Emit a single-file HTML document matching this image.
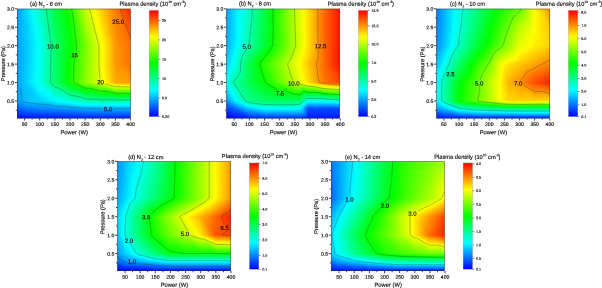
<!DOCTYPE html><html><head><meta charset="utf-8"><title>Plasma density</title><style>html,body{margin:0;padding:0;background:#fff}svg{display:block;will-change:transform}text{stroke:#000;stroke-width:.13px;stroke-linejoin:round}</style></head><body><svg width="602" height="288" viewBox="0 0 602 288" font-family="'Liberation Sans', Arial, sans-serif" fill="#000" stroke="none"><defs><linearGradient id="ga0"><stop offset="0" stop-color="#00a0ff"/><stop offset="0.11" stop-color="#0ef"/><stop offset="0.136" stop-color="#00fffb"/><stop offset="0.219" stop-color="#00ffb6"/><stop offset="0.342" stop-color="#00ff41"/><stop offset="0.439" stop-color="#03ff00"/><stop offset="0.469" stop-color="#1aff00"/><stop offset="0.605" stop-color="#c9ff00"/><stop offset="0.68" stop-color="#fffd00"/><stop offset="0.842" stop-color="#ff8b00"/><stop offset="1" stop-color="#ff2500"/></linearGradient><linearGradient id="ga1"><stop offset="0" stop-color="#00a0ff"/><stop offset="0.105" stop-color="#00eaff"/><stop offset="0.136" stop-color="#00fffc"/><stop offset="0.219" stop-color="#00ffb7"/><stop offset="0.342" stop-color="#00ff41"/><stop offset="0.439" stop-color="#02ff00"/><stop offset="0.474" stop-color="#1eff00"/><stop offset="0.605" stop-color="#c8ff00"/><stop offset="0.68" stop-color="#fffe00"/><stop offset="0.816" stop-color="#ff9e00"/><stop offset="1" stop-color="#ff2700"/></linearGradient><linearGradient id="ga2"><stop offset="0" stop-color="#00a0ff"/><stop offset="0.105" stop-color="#00e9ff"/><stop offset="0.136" stop-color="#00fffd"/><stop offset="0.219" stop-color="#00ffb8"/><stop offset="0.342" stop-color="#00ff42"/><stop offset="0.439" stop-color="#01ff00"/><stop offset="0.474" stop-color="#1cff00"/><stop offset="0.605" stop-color="#c6ff00"/><stop offset="0.684" stop-color="#fffc00"/><stop offset="0.807" stop-color="#ffa400"/><stop offset="1" stop-color="#ff2900"/></linearGradient><linearGradient id="ga3"><stop offset="0" stop-color="#00a0ff"/><stop offset="0.105" stop-color="#00e8ff"/><stop offset="0.136" stop-color="#00fffe"/><stop offset="0.219" stop-color="#00ffb9"/><stop offset="0.342" stop-color="#00ff43"/><stop offset="0.443" stop-color="#03ff00"/><stop offset="0.478" stop-color="#1fff00"/><stop offset="0.605" stop-color="#c4ff00"/><stop offset="0.684" stop-color="#fffe00"/><stop offset="0.798" stop-color="#ffab00"/><stop offset="0.873" stop-color="#ff7b00"/><stop offset="1" stop-color="#ff2b00"/></linearGradient><linearGradient id="ga4"><stop offset="0" stop-color="#00a0ff"/><stop offset="0.105" stop-color="#00e6ff"/><stop offset="0.14" stop-color="#00fffc"/><stop offset="0.219" stop-color="#00ffba"/><stop offset="0.346" stop-color="#00ff41"/><stop offset="0.443" stop-color="#02ff00"/><stop offset="0.482" stop-color="#23ff00"/><stop offset="0.605" stop-color="#c2ff00"/><stop offset="0.689" stop-color="#fffc00"/><stop offset="0.798" stop-color="#ffac00"/><stop offset="0.873" stop-color="#ff7c00"/><stop offset="1" stop-color="#ff2d00"/></linearGradient><linearGradient id="ga5"><stop offset="0" stop-color="#00a0ff"/><stop offset="0.105" stop-color="#00e5ff"/><stop offset="0.14" stop-color="#00fffd"/><stop offset="0.215" stop-color="#00ffc0"/><stop offset="0.346" stop-color="#00ff42"/><stop offset="0.443" stop-color="#01ff00"/><stop offset="0.482" stop-color="#21ff00"/><stop offset="0.605" stop-color="#c0ff00"/><stop offset="0.689" stop-color="#fffe00"/><stop offset="0.789" stop-color="#ffb200"/><stop offset="0.873" stop-color="#ff7d00"/><stop offset="0.939" stop-color="#ff5600"/><stop offset="1" stop-color="#ff2f00"/></linearGradient><linearGradient id="ga6"><stop offset="0" stop-color="#00a0ff"/><stop offset="0.11" stop-color="#00e7ff"/><stop offset="0.145" stop-color="#00fffb"/><stop offset="0.215" stop-color="#00ffc1"/><stop offset="0.346" stop-color="#0f4"/><stop offset="0.447" stop-color="#03ff00"/><stop offset="0.487" stop-color="#24ff00"/><stop offset="0.605" stop-color="#bdff00"/><stop offset="0.689" stop-color="#ff0"/><stop offset="0.789" stop-color="#ffb300"/><stop offset="0.873" stop-color="#ff7e00"/><stop offset="0.917" stop-color="#f60"/><stop offset="1" stop-color="#ff3100"/></linearGradient><linearGradient id="ga7"><stop offset="0" stop-color="#00a0ff"/><stop offset="0.11" stop-color="#00e6ff"/><stop offset="0.145" stop-color="#00fffc"/><stop offset="0.215" stop-color="#00ffc2"/><stop offset="0.342" stop-color="#00ff48"/><stop offset="0.447" stop-color="#02ff00"/><stop offset="0.491" stop-color="#28ff00"/><stop offset="0.605" stop-color="#bf0"/><stop offset="0.693" stop-color="#fffe00"/><stop offset="0.789" stop-color="#ffb400"/><stop offset="0.873" stop-color="#ff7e00"/><stop offset="0.908" stop-color="#ff6e00"/><stop offset="1" stop-color="#f30"/></linearGradient><linearGradient id="ga8"><stop offset="0" stop-color="#00a0ff"/><stop offset="0.114" stop-color="#00e8ff"/><stop offset="0.145" stop-color="#00fffe"/><stop offset="0.215" stop-color="#00ffc3"/><stop offset="0.342" stop-color="#00ff49"/><stop offset="0.447" stop-color="#01ff00"/><stop offset="0.491" stop-color="#27ff00"/><stop offset="0.605" stop-color="#b9ff00"/><stop offset="0.693" stop-color="#ff0"/><stop offset="0.794" stop-color="#ffb200"/><stop offset="0.873" stop-color="#ff7f00"/><stop offset="0.908" stop-color="#ff7000"/><stop offset="1" stop-color="#ff3500"/></linearGradient><linearGradient id="ga9"><stop offset="0" stop-color="#00a0ff"/><stop offset="0.118" stop-color="#00ebff"/><stop offset="0.149" stop-color="#00fffb"/><stop offset="0.219" stop-color="#00ffc0"/><stop offset="0.346" stop-color="#00ff47"/><stop offset="0.452" stop-color="#03ff00"/><stop offset="0.5" stop-color="#2fff00"/><stop offset="0.605" stop-color="#b7ff00"/><stop offset="0.684" stop-color="#f7ff00"/><stop offset="0.702" stop-color="#fffa00"/><stop offset="0.794" stop-color="#ffb300"/><stop offset="0.873" stop-color="#ff8000"/><stop offset="0.912" stop-color="#ff6f00"/><stop offset="1" stop-color="#ff3700"/></linearGradient><linearGradient id="ga10"><stop offset="0" stop-color="#00a0ff"/><stop offset="0.114" stop-color="#00e6ff"/><stop offset="0.149" stop-color="#00fffd"/><stop offset="0.219" stop-color="#00ffc1"/><stop offset="0.342" stop-color="#00ff4b"/><stop offset="0.452" stop-color="#02ff00"/><stop offset="0.5" stop-color="#2dff00"/><stop offset="0.605" stop-color="#b5ff00"/><stop offset="0.68" stop-color="#f2ff00"/><stop offset="0.702" stop-color="#fffc00"/><stop offset="0.794" stop-color="#ffb400"/><stop offset="0.873" stop-color="#ff8100"/><stop offset="0.917" stop-color="#ff6e00"/><stop offset="1" stop-color="#ff3900"/></linearGradient><linearGradient id="ga11"><stop offset="0" stop-color="#00a0ff"/><stop offset="0.118" stop-color="#00e8ff"/><stop offset="0.149" stop-color="#00fffe"/><stop offset="0.219" stop-color="#00ffc3"/><stop offset="0.342" stop-color="#00ff4c"/><stop offset="0.452" stop-color="#01ff00"/><stop offset="0.504" stop-color="#30ff00"/><stop offset="0.605" stop-color="#b2ff00"/><stop offset="0.68" stop-color="#f0ff00"/><stop offset="0.702" stop-color="#fffd00"/><stop offset="0.794" stop-color="#ffb400"/><stop offset="0.873" stop-color="#ff8200"/><stop offset="0.917" stop-color="#ff7000"/><stop offset="1" stop-color="#ff3b00"/></linearGradient><linearGradient id="ga12"><stop offset="0" stop-color="#00a0ff"/><stop offset="0.057" stop-color="#00c2ff"/><stop offset="0.127" stop-color="#0ef"/><stop offset="0.154" stop-color="#00fffc"/><stop offset="0.219" stop-color="#00ffc4"/><stop offset="0.342" stop-color="#00ff4d"/><stop offset="0.456" stop-color="#03ff00"/><stop offset="0.518" stop-color="#3fff00"/><stop offset="0.605" stop-color="#b0ff00"/><stop offset="0.68" stop-color="#efff00"/><stop offset="0.706" stop-color="#fffc00"/><stop offset="0.798" stop-color="#ffb200"/><stop offset="0.873" stop-color="#ff8200"/><stop offset="0.921" stop-color="#ff7000"/><stop offset="1" stop-color="#ff3d00"/></linearGradient><linearGradient id="ga13"><stop offset="0" stop-color="#00a0ff"/><stop offset="0.057" stop-color="#00c1ff"/><stop offset="0.132" stop-color="#00f0ff"/><stop offset="0.154" stop-color="#00fffd"/><stop offset="0.219" stop-color="#00ffc5"/><stop offset="0.342" stop-color="#00ff4f"/><stop offset="0.456" stop-color="#02ff00"/><stop offset="0.518" stop-color="#3dff00"/><stop offset="0.605" stop-color="#aeff00"/><stop offset="0.68" stop-color="#edff00"/><stop offset="0.706" stop-color="#fffd00"/><stop offset="0.803" stop-color="#ffb000"/><stop offset="0.873" stop-color="#ff8300"/><stop offset="0.921" stop-color="#ff7200"/><stop offset="1" stop-color="#ff3f00"/></linearGradient><linearGradient id="ga14"><stop offset="0" stop-color="#00a0ff"/><stop offset="0.057" stop-color="#00c1ff"/><stop offset="0.136" stop-color="#00f2ff"/><stop offset="0.158" stop-color="#00fffb"/><stop offset="0.219" stop-color="#00ffc6"/><stop offset="0.342" stop-color="#00ff50"/><stop offset="0.456" stop-color="#01ff00"/><stop offset="0.522" stop-color="#40ff00"/><stop offset="0.605" stop-color="#acff00"/><stop offset="0.68" stop-color="#ebff00"/><stop offset="0.711" stop-color="#fffc00"/><stop offset="0.803" stop-color="#ffb100"/><stop offset="0.873" stop-color="#ff8400"/><stop offset="0.925" stop-color="#ff7100"/><stop offset="1" stop-color="#ff4100"/></linearGradient><linearGradient id="ga15"><stop offset="0" stop-color="#00a0ff"/><stop offset="0.053" stop-color="#00bdff"/><stop offset="0.136" stop-color="#00f1ff"/><stop offset="0.158" stop-color="#00fffc"/><stop offset="0.219" stop-color="#00ffc7"/><stop offset="0.342" stop-color="#00ff51"/><stop offset="0.456" stop-color="#0f0"/><stop offset="0.526" stop-color="#4f0"/><stop offset="0.605" stop-color="#a9ff00"/><stop offset="0.68" stop-color="#eaff00"/><stop offset="0.711" stop-color="#fffd00"/><stop offset="0.807" stop-color="#ffaf00"/><stop offset="0.873" stop-color="#ff8500"/><stop offset="0.93" stop-color="#ff7000"/><stop offset="1" stop-color="#ff4300"/></linearGradient><linearGradient id="ga16"><stop offset="0" stop-color="#00a0ff"/><stop offset="0.057" stop-color="#00c0ff"/><stop offset="0.14" stop-color="#00f3ff"/><stop offset="0.158" stop-color="#00fffd"/><stop offset="0.219" stop-color="#00ffc9"/><stop offset="0.342" stop-color="#00ff52"/><stop offset="0.461" stop-color="#02ff00"/><stop offset="0.531" stop-color="#47ff00"/><stop offset="0.605" stop-color="#a7ff00"/><stop offset="0.684" stop-color="#ebff00"/><stop offset="0.715" stop-color="#fffb00"/><stop offset="0.807" stop-color="#ffb000"/><stop offset="0.873" stop-color="#ff8600"/><stop offset="0.934" stop-color="#ff6f00"/><stop offset="1" stop-color="#ff4500"/></linearGradient><linearGradient id="ga17"><stop offset="0" stop-color="#00a0ff"/><stop offset="0.053" stop-color="#00bdff"/><stop offset="0.145" stop-color="#00f5ff"/><stop offset="0.162" stop-color="#00fffb"/><stop offset="0.219" stop-color="#00ffca"/><stop offset="0.342" stop-color="#00ff53"/><stop offset="0.461" stop-color="#01ff00"/><stop offset="0.535" stop-color="#4bff00"/><stop offset="0.605" stop-color="#a5ff00"/><stop offset="0.689" stop-color="#edff00"/><stop offset="0.715" stop-color="#fffd00"/><stop offset="0.811" stop-color="#ffad00"/><stop offset="0.873" stop-color="#ff8600"/><stop offset="0.934" stop-color="#ff7100"/><stop offset="1" stop-color="#ff4700"/></linearGradient><linearGradient id="ga18"><stop offset="0" stop-color="#00a0ff"/><stop offset="0.053" stop-color="#00bcff"/><stop offset="0.149" stop-color="#00f8ff"/><stop offset="0.162" stop-color="#00fffc"/><stop offset="0.219" stop-color="#00ffcb"/><stop offset="0.342" stop-color="#00ff54"/><stop offset="0.461" stop-color="#0f0"/><stop offset="0.539" stop-color="#4eff00"/><stop offset="0.605" stop-color="#a3ff00"/><stop offset="0.689" stop-color="#ebff00"/><stop offset="0.719" stop-color="#fffb00"/><stop offset="0.816" stop-color="#ffab00"/><stop offset="0.873" stop-color="#ff8700"/><stop offset="0.939" stop-color="#ff7000"/><stop offset="1" stop-color="#ff4900"/></linearGradient><linearGradient id="ga19"><stop offset="0" stop-color="#00a0ff"/><stop offset="0.057" stop-color="#00bfff"/><stop offset="0.149" stop-color="#00f7ff"/><stop offset="0.167" stop-color="#00fffa"/><stop offset="0.224" stop-color="#00ffc8"/><stop offset="0.342" stop-color="#0f5"/><stop offset="0.465" stop-color="#02ff00"/><stop offset="0.544" stop-color="#52ff00"/><stop offset="0.605" stop-color="#a1ff00"/><stop offset="0.693" stop-color="#edff00"/><stop offset="0.719" stop-color="#fffd00"/><stop offset="0.82" stop-color="#ffa900"/><stop offset="0.877" stop-color="#ff8700"/><stop offset="0.943" stop-color="#ff7000"/><stop offset="1" stop-color="#ff4b00"/></linearGradient><linearGradient id="ga20"><stop offset="0" stop-color="#00a0ff"/><stop offset="0.057" stop-color="#00beff"/><stop offset="0.154" stop-color="#00f9ff"/><stop offset="0.167" stop-color="#00fffb"/><stop offset="0.224" stop-color="#00ffc9"/><stop offset="0.342" stop-color="#00ff56"/><stop offset="0.465" stop-color="#01ff00"/><stop offset="0.548" stop-color="#56ff00"/><stop offset="0.61" stop-color="#a2ff00"/><stop offset="0.693" stop-color="#ecff00"/><stop offset="0.724" stop-color="#fffb00"/><stop offset="0.82" stop-color="#fa0"/><stop offset="0.877" stop-color="#f80"/><stop offset="0.947" stop-color="#ff6f00"/><stop offset="1" stop-color="#ff4d00"/></linearGradient><linearGradient id="ga21"><stop offset="0" stop-color="#00a0ff"/><stop offset="0.057" stop-color="#00beff"/><stop offset="0.158" stop-color="#00fbff"/><stop offset="0.189" stop-color="#00ffeb"/><stop offset="0.342" stop-color="#00ff57"/><stop offset="0.465" stop-color="#0f0"/><stop offset="0.548" stop-color="#53ff00"/><stop offset="0.61" stop-color="#a0ff00"/><stop offset="0.697" stop-color="#edff00"/><stop offset="0.724" stop-color="#fffd00"/><stop offset="0.825" stop-color="#ffa800"/><stop offset="0.877" stop-color="#f80"/><stop offset="0.952" stop-color="#ff6e00"/><stop offset="1" stop-color="#ff4f00"/></linearGradient><linearGradient id="ga22"><stop offset="0" stop-color="#00a0ff"/><stop offset="0.057" stop-color="#00beff"/><stop offset="0.167" stop-color="#00fffd"/><stop offset="0.224" stop-color="#0fc"/><stop offset="0.342" stop-color="#00ff58"/><stop offset="0.469" stop-color="#03ff00"/><stop offset="0.553" stop-color="#57ff00"/><stop offset="0.61" stop-color="#9eff00"/><stop offset="0.702" stop-color="#efff00"/><stop offset="0.728" stop-color="#fffb00"/><stop offset="0.825" stop-color="#ffa900"/><stop offset="0.877" stop-color="#ff8900"/><stop offset="0.952" stop-color="#ff7000"/><stop offset="1" stop-color="#ff5100"/></linearGradient><linearGradient id="ga23"><stop offset="0" stop-color="#00a0ff"/><stop offset="0.061" stop-color="#00c0ff"/><stop offset="0.167" stop-color="#0ff"/><stop offset="0.224" stop-color="#00ffcd"/><stop offset="0.342" stop-color="#00ff5a"/><stop offset="0.469" stop-color="#02ff00"/><stop offset="0.557" stop-color="#5aff00"/><stop offset="0.61" stop-color="#9cff00"/><stop offset="0.706" stop-color="#f1ff00"/><stop offset="0.728" stop-color="#fffd00"/><stop offset="0.829" stop-color="#ffa600"/><stop offset="0.877" stop-color="#ff8a00"/><stop offset="0.956" stop-color="#ff6f00"/><stop offset="1" stop-color="#ff5300"/></linearGradient><linearGradient id="ga24"><stop offset="0" stop-color="#00a0ff"/><stop offset="0.061" stop-color="#00c0ff"/><stop offset="0.171" stop-color="#00fffc"/><stop offset="0.228" stop-color="#00ffca"/><stop offset="0.342" stop-color="#00ff5b"/><stop offset="0.469" stop-color="#01ff00"/><stop offset="0.561" stop-color="#5eff00"/><stop offset="0.61" stop-color="#9f0"/><stop offset="0.706" stop-color="#efff00"/><stop offset="0.732" stop-color="#fffb00"/><stop offset="0.833" stop-color="#ffa400"/><stop offset="0.877" stop-color="#ff8b00"/><stop offset="0.961" stop-color="#ff6e00"/><stop offset="1" stop-color="#f50"/></linearGradient><linearGradient id="ga25"><stop offset="0" stop-color="#00a0ff"/><stop offset="0.061" stop-color="#00bfff"/><stop offset="0.171" stop-color="#00fffe"/><stop offset="0.228" stop-color="#00ffcb"/><stop offset="0.342" stop-color="#00ff5c"/><stop offset="0.469" stop-color="#0f0"/><stop offset="0.566" stop-color="#61ff00"/><stop offset="0.61" stop-color="#97ff00"/><stop offset="0.711" stop-color="#f1ff00"/><stop offset="0.732" stop-color="#fffd00"/><stop offset="0.838" stop-color="#ffa200"/><stop offset="0.877" stop-color="#ff8c00"/><stop offset="0.965" stop-color="#ff6e00"/><stop offset="1" stop-color="#ff5700"/></linearGradient><linearGradient id="ga26"><stop offset="0" stop-color="#00a0ff"/><stop offset="0.066" stop-color="#00c2ff"/><stop offset="0.171" stop-color="#0ff"/><stop offset="0.228" stop-color="#0fc"/><stop offset="0.342" stop-color="#00ff5d"/><stop offset="0.469" stop-color="#00ff01"/><stop offset="0.566" stop-color="#5fff00"/><stop offset="0.61" stop-color="#95ff00"/><stop offset="0.715" stop-color="#f2ff00"/><stop offset="0.737" stop-color="#fffb00"/><stop offset="0.842" stop-color="#ffa000"/><stop offset="0.877" stop-color="#ff8c00"/><stop offset="0.969" stop-color="#ff6d00"/><stop offset="1" stop-color="#ff5900"/></linearGradient><linearGradient id="ga27"><stop offset="0" stop-color="#00a0ff"/><stop offset="0.066" stop-color="#00c1ff"/><stop offset="0.175" stop-color="#00fffd"/><stop offset="0.232" stop-color="#00ffc9"/><stop offset="0.342" stop-color="#00ff5e"/><stop offset="0.474" stop-color="#02ff00"/><stop offset="0.57" stop-color="#63ff00"/><stop offset="0.61" stop-color="#93ff00"/><stop offset="0.719" stop-color="#f4ff00"/><stop offset="0.737" stop-color="#fffc00"/><stop offset="0.842" stop-color="#ffa100"/><stop offset="0.877" stop-color="#ff8d00"/><stop offset="0.974" stop-color="#ff6c00"/><stop offset="1" stop-color="#ff5b00"/></linearGradient><linearGradient id="ga28"><stop offset="0" stop-color="#00a0ff"/><stop offset="0.075" stop-color="#00c6ff"/><stop offset="0.175" stop-color="#00fffe"/><stop offset="0.232" stop-color="#00ffca"/><stop offset="0.342" stop-color="#00ff5f"/><stop offset="0.474" stop-color="#01ff00"/><stop offset="0.575" stop-color="#6f0"/><stop offset="0.61" stop-color="#91ff00"/><stop offset="0.719" stop-color="#f2ff00"/><stop offset="0.737" stop-color="#fffe00"/><stop offset="0.846" stop-color="#ff9f00"/><stop offset="0.882" stop-color="#ff8d00"/><stop offset="0.974" stop-color="#ff6e00"/><stop offset="1" stop-color="#ff5d00"/></linearGradient><linearGradient id="ga29"><stop offset="0" stop-color="#00a0ff"/><stop offset="0.079" stop-color="#00c8ff"/><stop offset="0.175" stop-color="#0ff"/><stop offset="0.232" stop-color="#00ffcb"/><stop offset="0.342" stop-color="#00ff60"/><stop offset="0.474" stop-color="#0f0"/><stop offset="0.579" stop-color="#6aff00"/><stop offset="0.61" stop-color="#8eff00"/><stop offset="0.724" stop-color="#f4ff00"/><stop offset="0.741" stop-color="#fffc00"/><stop offset="0.851" stop-color="#ff9d00"/><stop offset="0.886" stop-color="#ff8c00"/><stop offset="0.978" stop-color="#ff6d00"/><stop offset="1" stop-color="#ff5f00"/></linearGradient><linearGradient id="ga30"><stop offset="0" stop-color="#00a0ff"/><stop offset="0.083" stop-color="#00caff"/><stop offset="0.18" stop-color="#00fffd"/><stop offset="0.241" stop-color="#00ffc4"/><stop offset="0.342" stop-color="#00ff61"/><stop offset="0.474" stop-color="#00ff01"/><stop offset="0.583" stop-color="#6dff00"/><stop offset="0.614" stop-color="#90ff00"/><stop offset="0.728" stop-color="#f6ff00"/><stop offset="0.746" stop-color="#fff900"/><stop offset="0.855" stop-color="#ff9a00"/><stop offset="0.899" stop-color="#ff8900"/><stop offset="0.982" stop-color="#ff6d00"/><stop offset="1" stop-color="#ff6100"/></linearGradient><linearGradient id="ga31"><stop offset="0" stop-color="#00a0ff"/><stop offset="0.088" stop-color="#0cf"/><stop offset="0.18" stop-color="#00fffe"/><stop offset="0.241" stop-color="#00ffc5"/><stop offset="0.342" stop-color="#00ff62"/><stop offset="0.478" stop-color="#02ff00"/><stop offset="0.588" stop-color="#71ff00"/><stop offset="0.618" stop-color="#92ff00"/><stop offset="0.737" stop-color="#fbff00"/><stop offset="0.759" stop-color="#ffef00"/><stop offset="0.86" stop-color="#ff9800"/><stop offset="0.987" stop-color="#ff6c00"/><stop offset="1" stop-color="#ff6300"/></linearGradient><linearGradient id="ga32"><stop offset="0" stop-color="#00a0ff"/><stop offset="0.088" stop-color="#0cf"/><stop offset="0.184" stop-color="#00fffc"/><stop offset="0.298" stop-color="#00ff8d"/><stop offset="0.346" stop-color="#00ff60"/><stop offset="0.478" stop-color="#01ff00"/><stop offset="0.588" stop-color="#6fff00"/><stop offset="0.618" stop-color="#90ff00"/><stop offset="0.741" stop-color="#feff00"/><stop offset="0.864" stop-color="#ff9600"/><stop offset="0.991" stop-color="#ff6b00"/><stop offset="1" stop-color="#ff6500"/></linearGradient><linearGradient id="ga33"><stop offset="0" stop-color="#00a0ff"/><stop offset="0.096" stop-color="#00d0ff"/><stop offset="0.184" stop-color="#00fffd"/><stop offset="0.276" stop-color="#00ffa4"/><stop offset="0.346" stop-color="#00ff62"/><stop offset="0.478" stop-color="#0f0"/><stop offset="0.592" stop-color="#72ff00"/><stop offset="0.728" stop-color="#f1ff00"/><stop offset="0.75" stop-color="#fffa00"/><stop offset="0.864" stop-color="#ff9700"/><stop offset="0.991" stop-color="#ff6d00"/><stop offset="1" stop-color="#ff6700"/></linearGradient><linearGradient id="ga34"><stop offset="0" stop-color="#00a0ff"/><stop offset="0.096" stop-color="#00d0ff"/><stop offset="0.184" stop-color="#00fffd"/><stop offset="0.232" stop-color="#00ffd1"/><stop offset="0.342" stop-color="#0f6"/><stop offset="0.478" stop-color="#00ff01"/><stop offset="0.596" stop-color="#76ff00"/><stop offset="0.746" stop-color="#feff00"/><stop offset="0.864" stop-color="#ff9800"/><stop offset="0.996" stop-color="#ff6c00"/><stop offset="1" stop-color="#ff6900"/></linearGradient><linearGradient id="ga35"><stop offset="0" stop-color="#00a0ff"/><stop offset="0.101" stop-color="#00d2ff"/><stop offset="0.184" stop-color="#00fffe"/><stop offset="0.224" stop-color="#00ffdb"/><stop offset="0.342" stop-color="#00ff67"/><stop offset="0.482" stop-color="#03ff00"/><stop offset="0.658" stop-color="#aeff00"/><stop offset="0.75" stop-color="#fffd00"/><stop offset="0.868" stop-color="#ff9600"/><stop offset="1" stop-color="#ff6b00"/></linearGradient><linearGradient id="ga36"><stop offset="0" stop-color="#00a0ff"/><stop offset="0.11" stop-color="#00d6ff"/><stop offset="0.184" stop-color="#00fffe"/><stop offset="0.215" stop-color="#00ffe5"/><stop offset="0.342" stop-color="#00ff68"/><stop offset="0.482" stop-color="#02ff00"/><stop offset="0.671" stop-color="#b7ff00"/><stop offset="0.75" stop-color="#ff0"/><stop offset="0.868" stop-color="#ff9700"/><stop offset="1" stop-color="#ff6d00"/></linearGradient><linearGradient id="ga37"><stop offset="0" stop-color="#00a0ff"/><stop offset="0.11" stop-color="#00d6ff"/><stop offset="0.189" stop-color="#00fffc"/><stop offset="0.219" stop-color="#00ffe2"/><stop offset="0.342" stop-color="#00ff69"/><stop offset="0.482" stop-color="#01ff00"/><stop offset="0.693" stop-color="#c9ff00"/><stop offset="0.754" stop-color="#fffd00"/><stop offset="0.868" stop-color="#ff9800"/><stop offset="1" stop-color="#ff6f00"/></linearGradient><linearGradient id="ga38"><stop offset="0" stop-color="#00a0ff"/><stop offset="0.11" stop-color="#00d6ff"/><stop offset="0.189" stop-color="#00fffc"/><stop offset="0.219" stop-color="#00ffe2"/><stop offset="0.346" stop-color="#00ff65"/><stop offset="0.482" stop-color="#01ff00"/><stop offset="0.684" stop-color="#c1ff00"/><stop offset="0.754" stop-color="#fffd00"/><stop offset="0.868" stop-color="#ff9800"/><stop offset="1" stop-color="#ff7000"/></linearGradient><linearGradient id="ga39"><stop offset="0" stop-color="#00a0ff"/><stop offset="0.105" stop-color="#00d4ff"/><stop offset="0.189" stop-color="#00fffc"/><stop offset="0.219" stop-color="#00ffe2"/><stop offset="0.351" stop-color="#00ff60"/><stop offset="0.482" stop-color="#02ff00"/><stop offset="0.667" stop-color="#b1ff00"/><stop offset="0.754" stop-color="#fffd00"/><stop offset="0.868" stop-color="#ff9800"/><stop offset="1" stop-color="#ff7000"/></linearGradient><linearGradient id="ga40"><stop offset="0" stop-color="#00a0ff"/><stop offset="0.101" stop-color="#00d2ff"/><stop offset="0.184" stop-color="#00fffe"/><stop offset="0.211" stop-color="#00ffeb"/><stop offset="0.355" stop-color="#00ff5c"/><stop offset="0.482" stop-color="#03ff00"/><stop offset="0.654" stop-color="#a5ff00"/><stop offset="0.754" stop-color="#fffd00"/><stop offset="0.868" stop-color="#ff9800"/><stop offset="1" stop-color="#ff7000"/></linearGradient><linearGradient id="ga41"><stop offset="0" stop-color="#00a0ff"/><stop offset="0.101" stop-color="#00d2ff"/><stop offset="0.184" stop-color="#00fffe"/><stop offset="0.211" stop-color="#00ffea"/><stop offset="0.36" stop-color="#00ff57"/><stop offset="0.478" stop-color="#0f0"/><stop offset="0.645" stop-color="#9dff00"/><stop offset="0.754" stop-color="#fffd00"/><stop offset="0.868" stop-color="#ff9800"/><stop offset="1" stop-color="#ff7000"/></linearGradient><linearGradient id="ga42"><stop offset="0" stop-color="#00a0ff"/><stop offset="0.096" stop-color="#00cfff"/><stop offset="0.184" stop-color="#00fffe"/><stop offset="0.211" stop-color="#00ffea"/><stop offset="0.364" stop-color="#00ff53"/><stop offset="0.478" stop-color="#02ff00"/><stop offset="0.632" stop-color="#91ff00"/><stop offset="0.754" stop-color="#fffd00"/><stop offset="0.868" stop-color="#ff9800"/><stop offset="1" stop-color="#ff7100"/></linearGradient><linearGradient id="ga43"><stop offset="0" stop-color="#00a0ff"/><stop offset="0.096" stop-color="#00cfff"/><stop offset="0.184" stop-color="#00fffd"/><stop offset="0.211" stop-color="#00ffea"/><stop offset="0.364" stop-color="#00ff53"/><stop offset="0.474" stop-color="#00ff01"/><stop offset="0.579" stop-color="#62ff00"/><stop offset="0.754" stop-color="#fffd00"/><stop offset="0.868" stop-color="#ff9800"/><stop offset="1" stop-color="#ff7100"/></linearGradient><linearGradient id="ga44"><stop offset="0" stop-color="#00a0ff"/><stop offset="0.096" stop-color="#00cfff"/><stop offset="0.184" stop-color="#00fffd"/><stop offset="0.211" stop-color="#00ffea"/><stop offset="0.364" stop-color="#00ff53"/><stop offset="0.474" stop-color="#01ff00"/><stop offset="0.592" stop-color="#70ff00"/><stop offset="0.754" stop-color="#fffd00"/><stop offset="0.868" stop-color="#ff9800"/><stop offset="1" stop-color="#ff7100"/></linearGradient><linearGradient id="ga45"><stop offset="0" stop-color="#00a0ff"/><stop offset="0.096" stop-color="#00cfff"/><stop offset="0.184" stop-color="#00fffd"/><stop offset="0.211" stop-color="#00ffea"/><stop offset="0.364" stop-color="#00ff53"/><stop offset="0.447" stop-color="#00ff12"/><stop offset="0.474" stop-color="#02ff00"/><stop offset="0.583" stop-color="#68ff00"/><stop offset="0.754" stop-color="#fffd00"/><stop offset="0.868" stop-color="#ff9800"/><stop offset="1" stop-color="#ff7100"/></linearGradient><linearGradient id="ga46"><stop offset="0" stop-color="#00a0ff"/><stop offset="0.096" stop-color="#00cfff"/><stop offset="0.184" stop-color="#00fffd"/><stop offset="0.211" stop-color="#00ffe9"/><stop offset="0.364" stop-color="#00ff52"/><stop offset="0.439" stop-color="#00ff17"/><stop offset="0.469" stop-color="#0f0"/><stop offset="0.575" stop-color="#60ff00"/><stop offset="0.754" stop-color="#fffd00"/><stop offset="0.868" stop-color="#ff9800"/><stop offset="1" stop-color="#ff7100"/></linearGradient><linearGradient id="ga47"><stop offset="0" stop-color="#00a0ff"/><stop offset="0.096" stop-color="#00cfff"/><stop offset="0.184" stop-color="#00fffd"/><stop offset="0.211" stop-color="#00ffe9"/><stop offset="0.364" stop-color="#00ff52"/><stop offset="0.434" stop-color="#00ff19"/><stop offset="0.469" stop-color="#01ff00"/><stop offset="0.583" stop-color="#69ff00"/><stop offset="0.754" stop-color="#fffd00"/><stop offset="0.868" stop-color="#ff9800"/><stop offset="1" stop-color="#ff7200"/></linearGradient><linearGradient id="ga48"><stop offset="0" stop-color="#00a0ff"/><stop offset="0.096" stop-color="#00cfff"/><stop offset="0.184" stop-color="#00fffc"/><stop offset="0.211" stop-color="#00ffe9"/><stop offset="0.364" stop-color="#00ff52"/><stop offset="0.439" stop-color="#00ff14"/><stop offset="0.469" stop-color="#03ff00"/><stop offset="0.588" stop-color="#6eff00"/><stop offset="0.754" stop-color="#fffd00"/><stop offset="0.868" stop-color="#ff9800"/><stop offset="1" stop-color="#ff7200"/></linearGradient><linearGradient id="ga49"><stop offset="0" stop-color="#00a0ff"/><stop offset="0.096" stop-color="#00cfff"/><stop offset="0.184" stop-color="#00fffc"/><stop offset="0.211" stop-color="#00ffe9"/><stop offset="0.364" stop-color="#00ff52"/><stop offset="0.443" stop-color="#00ff0f"/><stop offset="0.469" stop-color="#04ff00"/><stop offset="0.592" stop-color="#73ff00"/><stop offset="0.754" stop-color="#fffd00"/><stop offset="0.868" stop-color="#ff9800"/><stop offset="1" stop-color="#ff7200"/></linearGradient><linearGradient id="ga50"><stop offset="0" stop-color="#00a0ff"/><stop offset="0.096" stop-color="#00cfff"/><stop offset="0.184" stop-color="#00fffc"/><stop offset="0.211" stop-color="#00ffe9"/><stop offset="0.364" stop-color="#00ff52"/><stop offset="0.452" stop-color="#00ff08"/><stop offset="0.469" stop-color="#06ff00"/><stop offset="0.675" stop-color="#baff00"/><stop offset="0.754" stop-color="#fffd00"/><stop offset="0.868" stop-color="#ff9800"/><stop offset="1" stop-color="#ff7200"/></linearGradient><linearGradient id="ga51"><stop offset="0" stop-color="#00a0ff"/><stop offset="0.096" stop-color="#00cfff"/><stop offset="0.18" stop-color="#00fffe"/><stop offset="0.211" stop-color="#00ffe8"/><stop offset="0.364" stop-color="#00ff51"/><stop offset="0.456" stop-color="#00ff03"/><stop offset="0.487" stop-color="#16ff00"/><stop offset="0.689" stop-color="#c6ff00"/><stop offset="0.754" stop-color="#fffd00"/><stop offset="0.868" stop-color="#ff9800"/><stop offset="1" stop-color="#ff7200"/></linearGradient><linearGradient id="ga52"><stop offset="0" stop-color="#00a0ff"/><stop offset="0.096" stop-color="#00cfff"/><stop offset="0.18" stop-color="#00fffe"/><stop offset="0.211" stop-color="#00ffe8"/><stop offset="0.364" stop-color="#00ff51"/><stop offset="0.456" stop-color="#00ff02"/><stop offset="0.596" stop-color="#79ff00"/><stop offset="0.754" stop-color="#fffd00"/><stop offset="0.868" stop-color="#ff9800"/><stop offset="1" stop-color="#ff7300"/></linearGradient><linearGradient id="ga53"><stop offset="0" stop-color="#00a0ff"/><stop offset="0.096" stop-color="#00cfff"/><stop offset="0.18" stop-color="#00fffe"/><stop offset="0.211" stop-color="#00ffe8"/><stop offset="0.364" stop-color="#00ff51"/><stop offset="0.456" stop-color="#0f0"/><stop offset="0.754" stop-color="#fffd00"/><stop offset="0.868" stop-color="#ff9800"/><stop offset="1" stop-color="#ff7300"/></linearGradient><linearGradient id="ga54"><stop offset="0" stop-color="#00a0ff"/><stop offset="0.096" stop-color="#00cfff"/><stop offset="0.18" stop-color="#00fffe"/><stop offset="0.211" stop-color="#00ffe8"/><stop offset="0.364" stop-color="#00ff51"/><stop offset="0.456" stop-color="#01ff00"/><stop offset="0.754" stop-color="#fffd00"/><stop offset="0.868" stop-color="#ff9800"/><stop offset="1" stop-color="#ff7300"/></linearGradient><linearGradient id="ga55"><stop offset="0" stop-color="#00a0ff"/><stop offset="0.096" stop-color="#00cfff"/><stop offset="0.18" stop-color="#00fffe"/><stop offset="0.211" stop-color="#00ffe8"/><stop offset="0.364" stop-color="#00ff51"/><stop offset="0.456" stop-color="#02ff00"/><stop offset="0.754" stop-color="#fffd00"/><stop offset="0.868" stop-color="#ff9800"/><stop offset="1" stop-color="#ff7300"/></linearGradient><linearGradient id="ga56"><stop offset="0" stop-color="#00a0ff"/><stop offset="0.096" stop-color="#00d0ff"/><stop offset="0.18" stop-color="#00fffe"/><stop offset="0.211" stop-color="#00ffe7"/><stop offset="0.364" stop-color="#00ff51"/><stop offset="0.456" stop-color="#02ff00"/><stop offset="0.754" stop-color="#fffd00"/><stop offset="0.868" stop-color="#f90"/><stop offset="1" stop-color="#ff7400"/></linearGradient><linearGradient id="ga57"><stop offset="0" stop-color="#00a0ff"/><stop offset="0.096" stop-color="#00d0ff"/><stop offset="0.18" stop-color="#00fffd"/><stop offset="0.215" stop-color="#00ffe3"/><stop offset="0.364" stop-color="#00ff51"/><stop offset="0.456" stop-color="#02ff00"/><stop offset="0.689" stop-color="#c8ff00"/><stop offset="0.754" stop-color="#fffe00"/><stop offset="0.868" stop-color="#ff9a00"/><stop offset="1" stop-color="#f70"/></linearGradient><linearGradient id="ga58"><stop offset="0" stop-color="#00a1ff"/><stop offset="0.101" stop-color="#00d3ff"/><stop offset="0.18" stop-color="#00fffd"/><stop offset="0.215" stop-color="#00ffe3"/><stop offset="0.368" stop-color="#00ff4d"/><stop offset="0.456" stop-color="#02ff00"/><stop offset="0.614" stop-color="#89ff00"/><stop offset="0.754" stop-color="#ff0"/><stop offset="0.868" stop-color="#ff9b00"/><stop offset="1" stop-color="#ff7900"/></linearGradient><linearGradient id="ga59"><stop offset="0" stop-color="#00a1ff"/><stop offset="0.101" stop-color="#00d3ff"/><stop offset="0.18" stop-color="#00fffc"/><stop offset="0.215" stop-color="#00ffe2"/><stop offset="0.368" stop-color="#00ff4d"/><stop offset="0.456" stop-color="#02ff00"/><stop offset="0.614" stop-color="#8aff00"/><stop offset="0.759" stop-color="#fffc00"/><stop offset="0.868" stop-color="#ff9c00"/><stop offset="0.943" stop-color="#ff8c00"/><stop offset="1" stop-color="#ff7c00"/></linearGradient><linearGradient id="ga60"><stop offset="0" stop-color="#00a1ff"/><stop offset="0.101" stop-color="#00d4ff"/><stop offset="0.18" stop-color="#00fffc"/><stop offset="0.215" stop-color="#00ffe2"/><stop offset="0.368" stop-color="#00ff4d"/><stop offset="0.456" stop-color="#02ff00"/><stop offset="0.614" stop-color="#8bff00"/><stop offset="0.759" stop-color="#fffd00"/><stop offset="0.868" stop-color="#ff9d00"/><stop offset="0.93" stop-color="#ff9200"/><stop offset="1" stop-color="#ff7e00"/></linearGradient><linearGradient id="ga61"><stop offset="0" stop-color="#00a1ff"/><stop offset="0.105" stop-color="#00d7ff"/><stop offset="0.18" stop-color="#00fffc"/><stop offset="0.215" stop-color="#00ffe2"/><stop offset="0.373" stop-color="#00ff49"/><stop offset="0.456" stop-color="#02ff00"/><stop offset="0.61" stop-color="#8f0"/><stop offset="0.684" stop-color="#c2ff00"/><stop offset="0.759" stop-color="#fffe00"/><stop offset="0.868" stop-color="#ff9e00"/><stop offset="0.934" stop-color="#ff9300"/><stop offset="1" stop-color="#ff8000"/></linearGradient><linearGradient id="ga62"><stop offset="0" stop-color="#00a1ff"/><stop offset="0.105" stop-color="#00d7ff"/><stop offset="0.175" stop-color="#00fffe"/><stop offset="0.211" stop-color="#00ffe5"/><stop offset="0.373" stop-color="#00ff49"/><stop offset="0.456" stop-color="#02ff00"/><stop offset="0.605" stop-color="#86ff00"/><stop offset="0.68" stop-color="#beff00"/><stop offset="0.759" stop-color="#fffe00"/><stop offset="0.868" stop-color="#ff9f00"/><stop offset="0.934" stop-color="#ff9500"/><stop offset="1" stop-color="#ff8300"/></linearGradient><linearGradient id="ga63"><stop offset="0" stop-color="#00a2ff"/><stop offset="0.105" stop-color="#00d7ff"/><stop offset="0.175" stop-color="#00fffd"/><stop offset="0.211" stop-color="#00ffe5"/><stop offset="0.377" stop-color="#00ff45"/><stop offset="0.456" stop-color="#02ff00"/><stop offset="0.601" stop-color="#84ff00"/><stop offset="0.68" stop-color="#bdff00"/><stop offset="0.759" stop-color="#ff0"/><stop offset="0.868" stop-color="#ffa000"/><stop offset="0.943" stop-color="#ff9500"/><stop offset="1" stop-color="#ff8500"/></linearGradient><linearGradient id="ga64"><stop offset="0" stop-color="#00a2ff"/><stop offset="0.11" stop-color="#00daff"/><stop offset="0.175" stop-color="#00fffd"/><stop offset="0.211" stop-color="#00ffe5"/><stop offset="0.377" stop-color="#00ff45"/><stop offset="0.456" stop-color="#02ff00"/><stop offset="0.601" stop-color="#84ff00"/><stop offset="0.684" stop-color="#c0ff00"/><stop offset="0.763" stop-color="#fffc00"/><stop offset="0.868" stop-color="#ffa100"/><stop offset="0.947" stop-color="#ff9600"/><stop offset="1" stop-color="#f80"/></linearGradient><linearGradient id="ga65"><stop offset="0" stop-color="#00a2ff"/><stop offset="0.11" stop-color="#00dbff"/><stop offset="0.175" stop-color="#00fffd"/><stop offset="0.211" stop-color="#00ffe4"/><stop offset="0.382" stop-color="#00ff41"/><stop offset="0.456" stop-color="#02ff00"/><stop offset="0.601" stop-color="#85ff00"/><stop offset="0.693" stop-color="#c7ff00"/><stop offset="0.763" stop-color="#fffc00"/><stop offset="0.868" stop-color="#ffa200"/><stop offset="0.952" stop-color="#ff9800"/><stop offset="1" stop-color="#ff8a00"/></linearGradient><linearGradient id="ga66"><stop offset="0" stop-color="#00a2ff"/><stop offset="0.114" stop-color="#00deff"/><stop offset="0.175" stop-color="#00fffc"/><stop offset="0.211" stop-color="#00ffe4"/><stop offset="0.382" stop-color="#00ff41"/><stop offset="0.456" stop-color="#02ff00"/><stop offset="0.601" stop-color="#85ff00"/><stop offset="0.697" stop-color="#caff00"/><stop offset="0.763" stop-color="#fffd00"/><stop offset="0.868" stop-color="#ffa300"/><stop offset="0.961" stop-color="#ff9800"/><stop offset="1" stop-color="#ff8d00"/></linearGradient><linearGradient id="ga67"><stop offset="0" stop-color="#00a2ff"/><stop offset="0.118" stop-color="#00e1ff"/><stop offset="0.175" stop-color="#00fffc"/><stop offset="0.211" stop-color="#00ffe3"/><stop offset="0.386" stop-color="#00ff3d"/><stop offset="0.456" stop-color="#02ff00"/><stop offset="0.601" stop-color="#86ff00"/><stop offset="0.706" stop-color="#d1ff00"/><stop offset="0.763" stop-color="#fffe00"/><stop offset="0.868" stop-color="#ffa400"/><stop offset="0.965" stop-color="#f90"/><stop offset="1" stop-color="#ff8f00"/></linearGradient><linearGradient id="ga68"><stop offset="0" stop-color="#00a3ff"/><stop offset="0.118" stop-color="#00e1ff"/><stop offset="0.171" stop-color="#00fffe"/><stop offset="0.211" stop-color="#00ffe3"/><stop offset="0.39" stop-color="#00ff39"/><stop offset="0.456" stop-color="#02ff00"/><stop offset="0.601" stop-color="#87ff00"/><stop offset="0.711" stop-color="#d4ff00"/><stop offset="0.763" stop-color="#fffe00"/><stop offset="0.868" stop-color="#ffa500"/><stop offset="0.974" stop-color="#f90"/><stop offset="1" stop-color="#ff9100"/></linearGradient><linearGradient id="ga69"><stop offset="0" stop-color="#00a3ff"/><stop offset="0.123" stop-color="#00e4ff"/><stop offset="0.171" stop-color="#00fffe"/><stop offset="0.211" stop-color="#00ffe3"/><stop offset="0.395" stop-color="#00ff35"/><stop offset="0.456" stop-color="#02ff00"/><stop offset="0.601" stop-color="#87ff00"/><stop offset="0.719" stop-color="#daff00"/><stop offset="0.763" stop-color="#ff0"/><stop offset="0.868" stop-color="#ffa600"/><stop offset="0.982" stop-color="#f90"/><stop offset="1" stop-color="#ff9400"/></linearGradient><linearGradient id="ga70"><stop offset="0" stop-color="#00a3ff"/><stop offset="0.127" stop-color="#00e7ff"/><stop offset="0.171" stop-color="#00fffd"/><stop offset="0.211" stop-color="#00ffe2"/><stop offset="0.399" stop-color="#00ff31"/><stop offset="0.456" stop-color="#02ff00"/><stop offset="0.605" stop-color="#8bff00"/><stop offset="0.724" stop-color="#df0"/><stop offset="0.768" stop-color="#fffc00"/><stop offset="0.868" stop-color="#ffa700"/><stop offset="0.987" stop-color="#ff9a00"/><stop offset="1" stop-color="#ff9600"/></linearGradient><linearGradient id="ga71"><stop offset="0" stop-color="#00a3ff"/><stop offset="0.132" stop-color="#00eaff"/><stop offset="0.171" stop-color="#00fffd"/><stop offset="0.211" stop-color="#00ffe2"/><stop offset="0.404" stop-color="#00ff2d"/><stop offset="0.456" stop-color="#02ff00"/><stop offset="0.605" stop-color="#8bff00"/><stop offset="0.732" stop-color="#e4ff00"/><stop offset="0.768" stop-color="#fffc00"/><stop offset="0.868" stop-color="#ffa800"/><stop offset="0.996" stop-color="#ff9a00"/><stop offset="1" stop-color="#f90"/></linearGradient><linearGradient id="ga72"><stop offset="0" stop-color="#00a3ff"/><stop offset="0.136" stop-color="#00edff"/><stop offset="0.171" stop-color="#00fffc"/><stop offset="0.211" stop-color="#00ffe1"/><stop offset="0.408" stop-color="#00ff29"/><stop offset="0.456" stop-color="#02ff00"/><stop offset="0.605" stop-color="#8cff00"/><stop offset="0.737" stop-color="#e7ff00"/><stop offset="0.768" stop-color="#fffd00"/><stop offset="0.868" stop-color="#ffa900"/><stop offset="1" stop-color="#ff9b00"/></linearGradient><linearGradient id="ga73"><stop offset="0" stop-color="#00a4ff"/><stop offset="0.14" stop-color="#00f0ff"/><stop offset="0.171" stop-color="#00fffc"/><stop offset="0.211" stop-color="#00ffe1"/><stop offset="0.417" stop-color="#0f2"/><stop offset="0.456" stop-color="#02ff00"/><stop offset="0.61" stop-color="#90ff00"/><stop offset="0.746" stop-color="#ef0"/><stop offset="0.768" stop-color="#fffe00"/><stop offset="0.868" stop-color="#fa0"/><stop offset="1" stop-color="#ff9e00"/></linearGradient><linearGradient id="ga74"><stop offset="0" stop-color="#00a4ff"/><stop offset="0.145" stop-color="#00f3ff"/><stop offset="0.171" stop-color="#00fffc"/><stop offset="0.211" stop-color="#00ffe1"/><stop offset="0.425" stop-color="#00ff1a"/><stop offset="0.456" stop-color="#02ff00"/><stop offset="0.61" stop-color="#90ff00"/><stop offset="0.75" stop-color="#f1ff00"/><stop offset="0.772" stop-color="#fffb00"/><stop offset="0.868" stop-color="#ffab00"/><stop offset="1" stop-color="#ffa000"/></linearGradient><linearGradient id="ga75"><stop offset="0" stop-color="#00a3ff"/><stop offset="0.114" stop-color="#00deff"/><stop offset="0.175" stop-color="#00fffc"/><stop offset="0.215" stop-color="#00ffe4"/><stop offset="0.338" stop-color="#00ff72"/><stop offset="0.469" stop-color="#0f0"/><stop offset="0.601" stop-color="#79ff00"/><stop offset="0.658" stop-color="#9cff00"/><stop offset="0.737" stop-color="#cfff00"/><stop offset="0.798" stop-color="#ff0"/><stop offset="0.868" stop-color="#ffc600"/><stop offset="1" stop-color="#fb0"/></linearGradient><linearGradient id="ga76"><stop offset="0" stop-color="#00a3ff"/><stop offset="0.075" stop-color="#00c6ff"/><stop offset="0.18" stop-color="#00fffd"/><stop offset="0.219" stop-color="#00ffe8"/><stop offset="0.338" stop-color="#00ff7b"/><stop offset="0.36" stop-color="#00ff6d"/><stop offset="0.469" stop-color="#00ff0c"/><stop offset="0.491" stop-color="#01ff00"/><stop offset="0.601" stop-color="#68ff00"/><stop offset="0.618" stop-color="#6cff00"/><stop offset="0.737" stop-color="#b9ff00"/><stop offset="0.754" stop-color="#bfff00"/><stop offset="0.833" stop-color="#fffd00"/><stop offset="0.868" stop-color="#ffe100"/><stop offset="1" stop-color="#ffd800"/></linearGradient><linearGradient id="ga77"><stop offset="0" stop-color="#00a3ff"/><stop offset="0.075" stop-color="#00c5ff"/><stop offset="0.101" stop-color="#00cfff"/><stop offset="0.189" stop-color="#00fffc"/><stop offset="0.228" stop-color="#00ffe8"/><stop offset="0.338" stop-color="#00ff83"/><stop offset="0.36" stop-color="#00ff79"/><stop offset="0.469" stop-color="#00ff19"/><stop offset="0.491" stop-color="#0f1"/><stop offset="0.509" stop-color="#0f0"/><stop offset="0.601" stop-color="#57ff00"/><stop offset="0.627" stop-color="#5cff00"/><stop offset="0.737" stop-color="#a3ff00"/><stop offset="0.759" stop-color="#a7ff00"/><stop offset="0.864" stop-color="#ff0"/><stop offset="1" stop-color="#fff400"/></linearGradient><linearGradient id="ga78"><stop offset="0" stop-color="#00a2ff"/><stop offset="0.075" stop-color="#00c5ff"/><stop offset="0.105" stop-color="#00ceff"/><stop offset="0.193" stop-color="#00fffd"/><stop offset="0.232" stop-color="#00ffec"/><stop offset="0.338" stop-color="#00ff8b"/><stop offset="0.368" stop-color="#00ff7e"/><stop offset="0.469" stop-color="#00ff26"/><stop offset="0.5" stop-color="#00ff1a"/><stop offset="0.531" stop-color="#03ff00"/><stop offset="0.601" stop-color="#45ff00"/><stop offset="0.632" stop-color="#4aff00"/><stop offset="0.737" stop-color="#8eff00"/><stop offset="0.763" stop-color="#8fff00"/><stop offset="0.868" stop-color="#e6ff00"/><stop offset="1" stop-color="#ef0"/></linearGradient><linearGradient id="ga79"><stop offset="0" stop-color="#00a2ff"/><stop offset="0.075" stop-color="#00c4ff"/><stop offset="0.11" stop-color="#00cdff"/><stop offset="0.197" stop-color="#00fffe"/><stop offset="0.241" stop-color="#00ffec"/><stop offset="0.338" stop-color="#00ff94"/><stop offset="0.373" stop-color="#00ff87"/><stop offset="0.469" stop-color="#00ff32"/><stop offset="0.504" stop-color="#00ff27"/><stop offset="0.548" stop-color="#03ff00"/><stop offset="0.601" stop-color="#34ff00"/><stop offset="0.64" stop-color="#3aff00"/><stop offset="0.737" stop-color="#78ff00"/><stop offset="0.772" stop-color="#7bff00"/><stop offset="0.868" stop-color="#caff00"/><stop offset="1" stop-color="#d1ff00"/></linearGradient><linearGradient id="ga80"><stop offset="0" stop-color="#00a1ff"/><stop offset="0.075" stop-color="#00c4ff"/><stop offset="0.114" stop-color="#00cbff"/><stop offset="0.206" stop-color="#00fffe"/><stop offset="0.246" stop-color="#00fff0"/><stop offset="0.338" stop-color="#00ff9c"/><stop offset="0.382" stop-color="#00ff8b"/><stop offset="0.469" stop-color="#00ff3f"/><stop offset="0.513" stop-color="#00ff30"/><stop offset="0.566" stop-color="#02ff00"/><stop offset="0.601" stop-color="#23ff00"/><stop offset="0.649" stop-color="#2aff00"/><stop offset="0.737" stop-color="#63ff00"/><stop offset="0.776" stop-color="#63ff00"/><stop offset="0.868" stop-color="#aeff00"/><stop offset="0.991" stop-color="#b4ff00"/><stop offset="1" stop-color="#b5ff00"/></linearGradient><linearGradient id="ga81"><stop offset="0" stop-color="#00a1ff"/><stop offset="0.075" stop-color="#00c4ff"/><stop offset="0.123" stop-color="#00cdff"/><stop offset="0.211" stop-color="#00fdff"/><stop offset="0.254" stop-color="#00fff0"/><stop offset="0.338" stop-color="#00ffa4"/><stop offset="0.386" stop-color="#00ff94"/><stop offset="0.469" stop-color="#00ff4b"/><stop offset="0.522" stop-color="#00ff39"/><stop offset="0.583" stop-color="#01ff00"/><stop offset="0.605" stop-color="#12ff00"/><stop offset="0.654" stop-color="#18ff00"/><stop offset="0.737" stop-color="#4dff00"/><stop offset="0.785" stop-color="#4eff00"/><stop offset="0.868" stop-color="#93ff00"/><stop offset="0.974" stop-color="#96ff00"/><stop offset="1" stop-color="#98ff00"/></linearGradient><linearGradient id="ga82"><stop offset="0" stop-color="#00a1ff"/><stop offset="0.075" stop-color="#00c3ff"/><stop offset="0.132" stop-color="#00ceff"/><stop offset="0.211" stop-color="#00faff"/><stop offset="0.25" stop-color="#00fff8"/><stop offset="0.272" stop-color="#00ffe8"/><stop offset="0.338" stop-color="#00ffac"/><stop offset="0.395" stop-color="#0f9"/><stop offset="0.469" stop-color="#00ff58"/><stop offset="0.526" stop-color="#00ff46"/><stop offset="0.601" stop-color="#0f0"/><stop offset="0.662" stop-color="#08ff00"/><stop offset="0.737" stop-color="#37ff00"/><stop offset="0.794" stop-color="#3aff00"/><stop offset="0.868" stop-color="#7f0"/><stop offset="0.978" stop-color="#7aff00"/><stop offset="1" stop-color="#7cff00"/></linearGradient><linearGradient id="ga83"><stop offset="0" stop-color="#00a0ff"/><stop offset="0.075" stop-color="#00c3ff"/><stop offset="0.136" stop-color="#00cdff"/><stop offset="0.211" stop-color="#00f6ff"/><stop offset="0.254" stop-color="#00fffa"/><stop offset="0.276" stop-color="#00ffec"/><stop offset="0.338" stop-color="#00ffb5"/><stop offset="0.404" stop-color="#00ff9d"/><stop offset="0.469" stop-color="#00ff64"/><stop offset="0.535" stop-color="#00ff4f"/><stop offset="0.601" stop-color="#0f1"/><stop offset="0.667" stop-color="#00ff0b"/><stop offset="0.689" stop-color="#04ff00"/><stop offset="0.737" stop-color="#2f0"/><stop offset="0.798" stop-color="#2f0"/><stop offset="0.868" stop-color="#5bff00"/><stop offset="0.978" stop-color="#5dff00"/><stop offset="1" stop-color="#5fff00"/></linearGradient><linearGradient id="ga84"><stop offset="0" stop-color="#00a0ff"/><stop offset="0.075" stop-color="#00c2ff"/><stop offset="0.145" stop-color="#00cfff"/><stop offset="0.211" stop-color="#00f3ff"/><stop offset="0.263" stop-color="#00fffb"/><stop offset="0.281" stop-color="#00fff0"/><stop offset="0.338" stop-color="#00ffbd"/><stop offset="0.408" stop-color="#00ffa6"/><stop offset="0.469" stop-color="#00ff71"/><stop offset="0.539" stop-color="#00ff5c"/><stop offset="0.601" stop-color="#00ff23"/><stop offset="0.675" stop-color="#00ff1b"/><stop offset="0.719" stop-color="#03ff00"/><stop offset="0.737" stop-color="#0cff00"/><stop offset="0.807" stop-color="#0eff00"/><stop offset="0.868" stop-color="#40ff00"/><stop offset="0.978" stop-color="#41ff00"/><stop offset="1" stop-color="#43ff00"/></linearGradient><linearGradient id="ga85"><stop offset="0" stop-color="#009fff"/><stop offset="0.075" stop-color="#00c2ff"/><stop offset="0.149" stop-color="#00ceff"/><stop offset="0.211" stop-color="#00efff"/><stop offset="0.272" stop-color="#00fffc"/><stop offset="0.294" stop-color="#00ffec"/><stop offset="0.338" stop-color="#00ffc5"/><stop offset="0.417" stop-color="#0fa"/><stop offset="0.469" stop-color="#00ff7d"/><stop offset="0.548" stop-color="#00ff65"/><stop offset="0.601" stop-color="#00ff34"/><stop offset="0.684" stop-color="#00ff2a"/><stop offset="0.737" stop-color="#00ff09"/><stop offset="0.816" stop-color="#00ff07"/><stop offset="0.829" stop-color="#04ff00"/><stop offset="0.868" stop-color="#24ff00"/><stop offset="0.987" stop-color="#25ff00"/><stop offset="1" stop-color="#26ff00"/></linearGradient><linearGradient id="ga86"><stop offset="0" stop-color="#009fff"/><stop offset="0.075" stop-color="#00c2ff"/><stop offset="0.158" stop-color="#00cfff"/><stop offset="0.215" stop-color="#00edff"/><stop offset="0.285" stop-color="#00fffc"/><stop offset="0.338" stop-color="#00ffcd"/><stop offset="0.421" stop-color="#00ffb3"/><stop offset="0.469" stop-color="#00ff8a"/><stop offset="0.557" stop-color="#00ff6e"/><stop offset="0.601" stop-color="#00ff46"/><stop offset="0.689" stop-color="#00ff3d"/><stop offset="0.737" stop-color="#00ff1f"/><stop offset="0.82" stop-color="#00ff1f"/><stop offset="0.86" stop-color="#03ff00"/><stop offset="0.873" stop-color="#08ff00"/><stop offset="0.991" stop-color="#09ff00"/><stop offset="1" stop-color="#0aff00"/></linearGradient><linearGradient id="ga87"><stop offset="0" stop-color="#009fff"/><stop offset="0.075" stop-color="#00c1ff"/><stop offset="0.167" stop-color="#00d1ff"/><stop offset="0.215" stop-color="#00e9ff"/><stop offset="0.294" stop-color="#00fffd"/><stop offset="0.338" stop-color="#00ffd6"/><stop offset="0.43" stop-color="#00ffb8"/><stop offset="0.469" stop-color="#00ff96"/><stop offset="0.561" stop-color="#00ff7c"/><stop offset="0.601" stop-color="#00ff57"/><stop offset="0.697" stop-color="#00ff4d"/><stop offset="0.737" stop-color="#00ff35"/><stop offset="0.829" stop-color="#0f3"/><stop offset="0.868" stop-color="#00ff13"/><stop offset="0.996" stop-color="#00ff13"/><stop offset="1" stop-color="#00ff12"/></linearGradient><linearGradient id="ga88"><stop offset="0" stop-color="#009eff"/><stop offset="0.075" stop-color="#00c1ff"/><stop offset="0.171" stop-color="#00d0ff"/><stop offset="0.219" stop-color="#00e7ff"/><stop offset="0.303" stop-color="#00fffd"/><stop offset="0.338" stop-color="#00ffde"/><stop offset="0.439" stop-color="#00ffbc"/><stop offset="0.469" stop-color="#00ffa3"/><stop offset="0.57" stop-color="#00ff85"/><stop offset="0.601" stop-color="#00ff68"/><stop offset="0.706" stop-color="#00ff5c"/><stop offset="0.737" stop-color="#00ff4a"/><stop offset="0.838" stop-color="#00ff47"/><stop offset="0.868" stop-color="#00ff2f"/><stop offset="1" stop-color="#00ff2f"/></linearGradient><linearGradient id="ga89"><stop offset="0" stop-color="#009eff"/><stop offset="0.075" stop-color="#00c0ff"/><stop offset="0.18" stop-color="#00d1ff"/><stop offset="0.224" stop-color="#00e4ff"/><stop offset="0.311" stop-color="#00fffc"/><stop offset="0.338" stop-color="#00ffe6"/><stop offset="0.443" stop-color="#00ffc5"/><stop offset="0.469" stop-color="#00ffaf"/><stop offset="0.579" stop-color="#00ff8e"/><stop offset="0.601" stop-color="#00ff7a"/><stop offset="0.711" stop-color="#00ff6f"/><stop offset="0.737" stop-color="#00ff60"/><stop offset="0.842" stop-color="#00ff5f"/><stop offset="0.868" stop-color="#00ff4b"/><stop offset="1" stop-color="#00ff4b"/></linearGradient><linearGradient id="ga90"><stop offset="0" stop-color="#009dff"/><stop offset="0.075" stop-color="#00c0ff"/><stop offset="0.189" stop-color="#00d3ff"/><stop offset="0.32" stop-color="#00fffc"/><stop offset="0.338" stop-color="#00ffef"/><stop offset="0.452" stop-color="#00ffca"/><stop offset="0.474" stop-color="#00ffba"/><stop offset="0.583" stop-color="#00ff9b"/><stop offset="0.605" stop-color="#00ff8b"/><stop offset="0.719" stop-color="#00ff7f"/><stop offset="0.737" stop-color="#00ff75"/><stop offset="0.851" stop-color="#00ff73"/><stop offset="0.868" stop-color="#0f6"/><stop offset="1" stop-color="#00ff68"/></linearGradient><linearGradient id="ga91"><stop offset="0" stop-color="#009dff"/><stop offset="0.075" stop-color="#00c0ff"/><stop offset="0.193" stop-color="#00d2ff"/><stop offset="0.329" stop-color="#00fffc"/><stop offset="0.461" stop-color="#00ffce"/><stop offset="0.5" stop-color="#00ffc0"/><stop offset="0.592" stop-color="#00ffa4"/><stop offset="0.605" stop-color="#00ff9c"/><stop offset="0.724" stop-color="#00ff91"/><stop offset="0.741" stop-color="#00ff8b"/><stop offset="0.855" stop-color="#00ff8b"/><stop offset="0.873" stop-color="#00ff82"/><stop offset="1" stop-color="#00ff84"/></linearGradient><linearGradient id="ga92"><stop offset="0" stop-color="#009dff"/><stop offset="0.075" stop-color="#00bfff"/><stop offset="0.211" stop-color="#00d6ff"/><stop offset="0.346" stop-color="#00fffc"/><stop offset="0.61" stop-color="#00ffad"/><stop offset="0.776" stop-color="#00ffa0"/><stop offset="0.974" stop-color="#00ffa0"/><stop offset="1" stop-color="#00ffa1"/></linearGradient><linearGradient id="ga93"><stop offset="0" stop-color="#0098ff"/><stop offset="0.075" stop-color="#00baff"/><stop offset="0.228" stop-color="#00d2ff"/><stop offset="0.386" stop-color="#00fffd"/><stop offset="0.61" stop-color="#00ffc0"/><stop offset="0.781" stop-color="#00ffb6"/><stop offset="1" stop-color="#00ffba"/></linearGradient><linearGradient id="ga94"><stop offset="0" stop-color="#008eff"/><stop offset="0.075" stop-color="#00b1ff"/><stop offset="0.246" stop-color="#00c9ff"/><stop offset="0.346" stop-color="#00e5ff"/><stop offset="0.447" stop-color="#00fffd"/><stop offset="0.614" stop-color="#00ffd5"/><stop offset="0.789" stop-color="#0fc"/><stop offset="1" stop-color="#00ffcf"/></linearGradient><linearGradient id="ga95"><stop offset="0" stop-color="#0084ff"/><stop offset="0.075" stop-color="#00a8ff"/><stop offset="0.259" stop-color="#00bfff"/><stop offset="0.346" stop-color="#00d7ff"/><stop offset="0.399" stop-color="#00e0ff"/><stop offset="0.491" stop-color="#00f8ff"/><stop offset="0.539" stop-color="#00fffb"/><stop offset="0.614" stop-color="#00ffea"/><stop offset="0.803" stop-color="#00ffe1"/><stop offset="1" stop-color="#00ffe4"/></linearGradient><linearGradient id="ga96"><stop offset="0" stop-color="#007bff"/><stop offset="0.075" stop-color="#009fff"/><stop offset="0.276" stop-color="#00b6ff"/><stop offset="0.351" stop-color="#00c9ff"/><stop offset="0.417" stop-color="#00d3ff"/><stop offset="0.496" stop-color="#00e7ff"/><stop offset="0.588" stop-color="#00fcff"/><stop offset="0.776" stop-color="#00fff7"/><stop offset="1" stop-color="#00fff9"/></linearGradient><linearGradient id="ga97"><stop offset="0" stop-color="#0071ff"/><stop offset="0.075" stop-color="#0096ff"/><stop offset="0.268" stop-color="#00a9ff"/><stop offset="0.355" stop-color="#00bcff"/><stop offset="0.43" stop-color="#00c5ff"/><stop offset="0.504" stop-color="#00d6ff"/><stop offset="0.588" stop-color="#00e7ff"/><stop offset="0.794" stop-color="#00f1ff"/><stop offset="1" stop-color="#00f0ff"/></linearGradient><linearGradient id="ga98"><stop offset="0" stop-color="#0068ff"/><stop offset="0.07" stop-color="#008cff"/><stop offset="0.276" stop-color="#00a0ff"/><stop offset="0.325" stop-color="#00a9ff"/><stop offset="0.447" stop-color="#00b9ff"/><stop offset="0.618" stop-color="#00d6ff"/><stop offset="0.904" stop-color="#00dbff"/><stop offset="1" stop-color="#00dbff"/></linearGradient><linearGradient id="ga99"><stop offset="0" stop-color="#005eff"/><stop offset="0.07" stop-color="#0083ff"/><stop offset="0.285" stop-color="#0097ff"/><stop offset="0.469" stop-color="#00adff"/><stop offset="0.627" stop-color="#00c2ff"/><stop offset="1" stop-color="#00c5ff"/></linearGradient><linearGradient id="ga100"><stop offset="0" stop-color="#05f"/><stop offset="0.07" stop-color="#007aff"/><stop offset="0.289" stop-color="#008dff"/><stop offset="0.531" stop-color="#00a4ff"/><stop offset="0.645" stop-color="#00aeff"/><stop offset="1" stop-color="#00b1ff"/></linearGradient><linearGradient id="ga101"><stop offset="0" stop-color="#004eff"/><stop offset="0.044" stop-color="#0062ff"/><stop offset="0.075" stop-color="#006fff"/><stop offset="0.298" stop-color="#0082ff"/><stop offset="0.535" stop-color="#0096ff"/><stop offset="0.64" stop-color="#009fff"/><stop offset="1" stop-color="#00a2ff"/></linearGradient><linearGradient id="ga102"><stop offset="0" stop-color="#0047ff"/><stop offset="0.022" stop-color="#004cff"/><stop offset="0.07" stop-color="#0065ff"/><stop offset="0.333" stop-color="#0078ff"/><stop offset="0.544" stop-color="#08f"/><stop offset="0.636" stop-color="#0090ff"/><stop offset="1" stop-color="#0093ff"/></linearGradient><linearGradient id="ga103"><stop offset="0" stop-color="#0040ff"/><stop offset="0.031" stop-color="#0046ff"/><stop offset="0.07" stop-color="#005aff"/><stop offset="0.355" stop-color="#006dff"/><stop offset="0.553" stop-color="#007bff"/><stop offset="0.64" stop-color="#0082ff"/><stop offset="1" stop-color="#0084ff"/></linearGradient><linearGradient id="ga104"><stop offset="0" stop-color="#0039ff"/><stop offset="0.035" stop-color="#003eff"/><stop offset="0.07" stop-color="#0050ff"/><stop offset="0.509" stop-color="#0068ff"/><stop offset="0.632" stop-color="#0073ff"/><stop offset="1" stop-color="#0075ff"/></linearGradient><linearGradient id="ga105"><stop offset="0" stop-color="#0031ff"/><stop offset="0.039" stop-color="#0036ff"/><stop offset="0.07" stop-color="#0046ff"/><stop offset="0.531" stop-color="#005cff"/><stop offset="0.632" stop-color="#0065ff"/><stop offset="1" stop-color="#0067ff"/></linearGradient><linearGradient id="ga106"><stop offset="0" stop-color="#002aff"/><stop offset="0.044" stop-color="#002eff"/><stop offset="0.075" stop-color="#003bff"/><stop offset="0.535" stop-color="#004fff"/><stop offset="0.645" stop-color="#0056ff"/><stop offset="1" stop-color="#0058ff"/></linearGradient><linearGradient id="ga107"><stop offset="0" stop-color="#0023ff"/><stop offset="0.053" stop-color="#0029ff"/><stop offset="0.075" stop-color="#0031ff"/><stop offset="0.548" stop-color="#0042ff"/><stop offset="0.667" stop-color="#0048ff"/><stop offset="1" stop-color="#0049ff"/></linearGradient><linearGradient id="ga108"><stop offset="0" stop-color="#001cff"/><stop offset="0.057" stop-color="#0021ff"/><stop offset="0.083" stop-color="#0027ff"/><stop offset="0.566" stop-color="#0036ff"/><stop offset="0.842" stop-color="#003aff"/><stop offset="1" stop-color="#003aff"/></linearGradient><linearGradient id="ga109"><stop offset="0" stop-color="#0015ff"/><stop offset="0.18" stop-color="#001fff"/><stop offset="0.658" stop-color="#002bff"/><stop offset="1" stop-color="#002bff"/></linearGradient><linearGradient id="ga110"><stop offset="0" stop-color="#0010ff"/><stop offset="0.575" stop-color="#0020ff"/><stop offset="1" stop-color="#0021ff"/></linearGradient><linearGradient id="gb0"><stop offset="0" stop-color="#009cff"/><stop offset="0.079" stop-color="#00e4ff"/><stop offset="0.123" stop-color="#00fffc"/><stop offset="0.211" stop-color="#00ffbc"/><stop offset="0.404" stop-color="#0f0"/><stop offset="0.518" stop-color="#6eff00"/><stop offset="0.68" stop-color="#ff0"/><stop offset="0.877" stop-color="#ff5d00"/><stop offset="1" stop-color="#ff1500"/></linearGradient><linearGradient id="gb1"><stop offset="0" stop-color="#009cff"/><stop offset="0.079" stop-color="#00e5ff"/><stop offset="0.118" stop-color="#00fffe"/><stop offset="0.211" stop-color="#00ffbc"/><stop offset="0.404" stop-color="#0f0"/><stop offset="0.518" stop-color="#6dff00"/><stop offset="0.68" stop-color="#ff0"/><stop offset="0.877" stop-color="#ff5d00"/><stop offset="1" stop-color="#ff1500"/></linearGradient><linearGradient id="gb2"><stop offset="0" stop-color="#009dff"/><stop offset="0.083" stop-color="#00e8ff"/><stop offset="0.118" stop-color="#00fffd"/><stop offset="0.215" stop-color="#00ffb7"/><stop offset="0.404" stop-color="#0f0"/><stop offset="0.522" stop-color="#71ff00"/><stop offset="0.68" stop-color="#ff0"/><stop offset="0.877" stop-color="#ff5d00"/><stop offset="1" stop-color="#ff1500"/></linearGradient><linearGradient id="gb3"><stop offset="0" stop-color="#009dff"/><stop offset="0.088" stop-color="#00ecff"/><stop offset="0.118" stop-color="#00fffd"/><stop offset="0.215" stop-color="#00ffb7"/><stop offset="0.404" stop-color="#00ff01"/><stop offset="0.522" stop-color="#71ff00"/><stop offset="0.68" stop-color="#feff00"/><stop offset="0.877" stop-color="#ff5d00"/><stop offset="1" stop-color="#ff1500"/></linearGradient><linearGradient id="gb4"><stop offset="0" stop-color="#009dff"/><stop offset="0.088" stop-color="#00edff"/><stop offset="0.118" stop-color="#00fffc"/><stop offset="0.219" stop-color="#00ffb2"/><stop offset="0.404" stop-color="#00ff01"/><stop offset="0.526" stop-color="#75ff00"/><stop offset="0.684" stop-color="#fffc00"/><stop offset="0.877" stop-color="#ff5d00"/><stop offset="1" stop-color="#ff1500"/></linearGradient><linearGradient id="gb5"><stop offset="0" stop-color="#009eff"/><stop offset="0.092" stop-color="#00f1ff"/><stop offset="0.118" stop-color="#00fffb"/><stop offset="0.219" stop-color="#00ffb2"/><stop offset="0.404" stop-color="#00ff01"/><stop offset="0.526" stop-color="#74ff00"/><stop offset="0.684" stop-color="#fffc00"/><stop offset="0.873" stop-color="#ff6000"/><stop offset="1" stop-color="#ff1500"/></linearGradient><linearGradient id="gb6"><stop offset="0" stop-color="#009eff"/><stop offset="0.096" stop-color="#00f5ff"/><stop offset="0.118" stop-color="#00fffa"/><stop offset="0.219" stop-color="#00ffb2"/><stop offset="0.404" stop-color="#00ff01"/><stop offset="0.531" stop-color="#78ff00"/><stop offset="0.684" stop-color="#fffc00"/><stop offset="0.873" stop-color="#ff6000"/><stop offset="1" stop-color="#ff1500"/></linearGradient><linearGradient id="gb7"><stop offset="0" stop-color="#009eff"/><stop offset="0.101" stop-color="#00f8ff"/><stop offset="0.118" stop-color="#00fff9"/><stop offset="0.224" stop-color="#00ffad"/><stop offset="0.404" stop-color="#00ff01"/><stop offset="0.531" stop-color="#78ff00"/><stop offset="0.684" stop-color="#fffd00"/><stop offset="0.873" stop-color="#ff6000"/><stop offset="1" stop-color="#ff1500"/></linearGradient><linearGradient id="gb8"><stop offset="0" stop-color="#009fff"/><stop offset="0.101" stop-color="#00f9ff"/><stop offset="0.118" stop-color="#00fff9"/><stop offset="0.224" stop-color="#00ffac"/><stop offset="0.408" stop-color="#03ff00"/><stop offset="0.509" stop-color="#64ff00"/><stop offset="0.684" stop-color="#fffd00"/><stop offset="0.873" stop-color="#ff6000"/><stop offset="1" stop-color="#ff1500"/></linearGradient><linearGradient id="gb9"><stop offset="0" stop-color="#009fff"/><stop offset="0.105" stop-color="#00fdff"/><stop offset="0.219" stop-color="#00ffaf"/><stop offset="0.408" stop-color="#03ff00"/><stop offset="0.504" stop-color="#5fff00"/><stop offset="0.684" stop-color="#fffd00"/><stop offset="0.868" stop-color="#ff6200"/><stop offset="1" stop-color="#ff1500"/></linearGradient><linearGradient id="gb10"><stop offset="0" stop-color="#00a0ff"/><stop offset="0.105" stop-color="#00feff"/><stop offset="0.219" stop-color="#00ffae"/><stop offset="0.408" stop-color="#03ff00"/><stop offset="0.504" stop-color="#5fff00"/><stop offset="0.684" stop-color="#fffd00"/><stop offset="0.868" stop-color="#ff6200"/><stop offset="1" stop-color="#ff1500"/></linearGradient><linearGradient id="gb11"><stop offset="0" stop-color="#00a0ff"/><stop offset="0.105" stop-color="#00feff"/><stop offset="0.219" stop-color="#00ffae"/><stop offset="0.408" stop-color="#02ff00"/><stop offset="0.504" stop-color="#5fff00"/><stop offset="0.684" stop-color="#fffd00"/><stop offset="0.868" stop-color="#ff6200"/><stop offset="1" stop-color="#ff1500"/></linearGradient><linearGradient id="gb12"><stop offset="0" stop-color="#00a0ff"/><stop offset="0.105" stop-color="#0ff"/><stop offset="0.224" stop-color="#00ffa9"/><stop offset="0.408" stop-color="#02ff00"/><stop offset="0.504" stop-color="#5fff00"/><stop offset="0.684" stop-color="#fffe00"/><stop offset="0.868" stop-color="#ff6200"/><stop offset="1" stop-color="#ff1500"/></linearGradient><linearGradient id="gb13"><stop offset="0" stop-color="#00a1ff"/><stop offset="0.105" stop-color="#0ff"/><stop offset="0.224" stop-color="#00ffa8"/><stop offset="0.408" stop-color="#02ff00"/><stop offset="0.504" stop-color="#5eff00"/><stop offset="0.684" stop-color="#fffe00"/><stop offset="0.868" stop-color="#ff6200"/><stop offset="1" stop-color="#ff1500"/></linearGradient><linearGradient id="gb14"><stop offset="0" stop-color="#00a1ff"/><stop offset="0.105" stop-color="#0ff"/><stop offset="0.228" stop-color="#00ffa4"/><stop offset="0.408" stop-color="#02ff00"/><stop offset="0.504" stop-color="#5eff00"/><stop offset="0.684" stop-color="#fffe00"/><stop offset="0.868" stop-color="#ff6200"/><stop offset="1" stop-color="#ff1500"/></linearGradient><linearGradient id="gb15"><stop offset="0" stop-color="#00a1ff"/><stop offset="0.105" stop-color="#0ff"/><stop offset="0.228" stop-color="#00ffa3"/><stop offset="0.408" stop-color="#02ff00"/><stop offset="0.504" stop-color="#5eff00"/><stop offset="0.684" stop-color="#fffe00"/><stop offset="0.868" stop-color="#ff6200"/><stop offset="1" stop-color="#ff1500"/></linearGradient><linearGradient id="gb16"><stop offset="0" stop-color="#00a2ff"/><stop offset="0.105" stop-color="#0ff"/><stop offset="0.232" stop-color="#00ff9f"/><stop offset="0.408" stop-color="#01ff00"/><stop offset="0.504" stop-color="#5eff00"/><stop offset="0.684" stop-color="#fffe00"/><stop offset="0.868" stop-color="#ff6200"/><stop offset="1" stop-color="#ff1500"/></linearGradient><linearGradient id="gb17"><stop offset="0" stop-color="#00a2ff"/><stop offset="0.105" stop-color="#00fffe"/><stop offset="0.232" stop-color="#00ff9e"/><stop offset="0.408" stop-color="#01ff00"/><stop offset="0.504" stop-color="#5eff00"/><stop offset="0.684" stop-color="#fffe00"/><stop offset="0.868" stop-color="#ff6200"/><stop offset="1" stop-color="#ff1500"/></linearGradient><linearGradient id="gb18"><stop offset="0" stop-color="#00a3ff"/><stop offset="0.105" stop-color="#00fffe"/><stop offset="0.237" stop-color="#0f9"/><stop offset="0.408" stop-color="#01ff00"/><stop offset="0.504" stop-color="#5dff00"/><stop offset="0.684" stop-color="#ff0"/><stop offset="0.868" stop-color="#ff6200"/><stop offset="1" stop-color="#ff1500"/></linearGradient><linearGradient id="gb19"><stop offset="0" stop-color="#00a3ff"/><stop offset="0.105" stop-color="#00fffe"/><stop offset="0.189" stop-color="#00ffc0"/><stop offset="0.298" stop-color="#00ff61"/><stop offset="0.408" stop-color="#01ff00"/><stop offset="0.504" stop-color="#5dff00"/><stop offset="0.684" stop-color="#ff0"/><stop offset="0.868" stop-color="#ff6200"/><stop offset="1" stop-color="#ff1500"/></linearGradient><linearGradient id="gb20"><stop offset="0" stop-color="#00a3ff"/><stop offset="0.105" stop-color="#00fffe"/><stop offset="0.184" stop-color="#00ffc2"/><stop offset="0.298" stop-color="#00ff61"/><stop offset="0.408" stop-color="#01ff00"/><stop offset="0.504" stop-color="#5dff00"/><stop offset="0.684" stop-color="#ff0"/><stop offset="0.868" stop-color="#ff6200"/><stop offset="1" stop-color="#ff1500"/></linearGradient><linearGradient id="gb21"><stop offset="0" stop-color="#00a4ff"/><stop offset="0.105" stop-color="#00fffe"/><stop offset="0.18" stop-color="#00ffc4"/><stop offset="0.294" stop-color="#00ff65"/><stop offset="0.408" stop-color="#01ff00"/><stop offset="0.504" stop-color="#5dff00"/><stop offset="0.684" stop-color="#ff0"/><stop offset="0.868" stop-color="#ff6200"/><stop offset="1" stop-color="#ff1500"/></linearGradient><linearGradient id="gb22"><stop offset="0" stop-color="#00a4ff"/><stop offset="0.105" stop-color="#00fffd"/><stop offset="0.18" stop-color="#00ffc4"/><stop offset="0.294" stop-color="#00ff64"/><stop offset="0.404" stop-color="#00ff03"/><stop offset="0.434" stop-color="#1bff00"/><stop offset="0.557" stop-color="#8bff00"/><stop offset="0.684" stop-color="#ff0"/><stop offset="0.868" stop-color="#ff6200"/><stop offset="1" stop-color="#ff1500"/></linearGradient><linearGradient id="gb23"><stop offset="0" stop-color="#00a5ff"/><stop offset="0.105" stop-color="#00fffd"/><stop offset="0.18" stop-color="#00ffc3"/><stop offset="0.298" stop-color="#00ff60"/><stop offset="0.408" stop-color="#01ff00"/><stop offset="0.518" stop-color="#68ff00"/><stop offset="0.684" stop-color="#feff00"/><stop offset="0.873" stop-color="#ff6000"/><stop offset="1" stop-color="#ff1500"/></linearGradient><linearGradient id="gb24"><stop offset="0" stop-color="#00a5ff"/><stop offset="0.105" stop-color="#00fffd"/><stop offset="0.184" stop-color="#00ffbf"/><stop offset="0.311" stop-color="#00ff53"/><stop offset="0.408" stop-color="#02ff00"/><stop offset="0.526" stop-color="#6fff00"/><stop offset="0.684" stop-color="#feff00"/><stop offset="0.873" stop-color="#ff6000"/><stop offset="1" stop-color="#ff1500"/></linearGradient><linearGradient id="gb25"><stop offset="0" stop-color="#00a5ff"/><stop offset="0.105" stop-color="#00fffd"/><stop offset="0.189" stop-color="#0fb"/><stop offset="0.32" stop-color="#00ff4a"/><stop offset="0.408" stop-color="#02ff00"/><stop offset="0.544" stop-color="#7fff00"/><stop offset="0.689" stop-color="#fffc00"/><stop offset="0.873" stop-color="#ff6000"/><stop offset="1" stop-color="#ff1500"/></linearGradient><linearGradient id="gb26"><stop offset="0" stop-color="#00a6ff"/><stop offset="0.105" stop-color="#00fffd"/><stop offset="0.189" stop-color="#00ffba"/><stop offset="0.325" stop-color="#00ff45"/><stop offset="0.408" stop-color="#02ff00"/><stop offset="0.684" stop-color="#feff00"/><stop offset="0.873" stop-color="#ff6000"/><stop offset="1" stop-color="#ff1500"/></linearGradient><linearGradient id="gb27"><stop offset="0" stop-color="#00a6ff"/><stop offset="0.105" stop-color="#00fffc"/><stop offset="0.189" stop-color="#00ffba"/><stop offset="0.325" stop-color="#00ff45"/><stop offset="0.408" stop-color="#03ff00"/><stop offset="0.684" stop-color="#feff00"/><stop offset="0.873" stop-color="#ff6000"/><stop offset="1" stop-color="#ff1500"/></linearGradient><linearGradient id="gb28"><stop offset="0" stop-color="#00a6ff"/><stop offset="0.105" stop-color="#00fffc"/><stop offset="0.193" stop-color="#00ffb6"/><stop offset="0.404" stop-color="#00ff01"/><stop offset="0.689" stop-color="#fffd00"/><stop offset="0.873" stop-color="#ff6000"/><stop offset="1" stop-color="#ff1500"/></linearGradient><linearGradient id="gb29"><stop offset="0" stop-color="#00a7ff"/><stop offset="0.105" stop-color="#00fffc"/><stop offset="0.197" stop-color="#00ffb2"/><stop offset="0.404" stop-color="#0f0"/><stop offset="0.689" stop-color="#fffd00"/><stop offset="0.873" stop-color="#ff6000"/><stop offset="1" stop-color="#ff1500"/></linearGradient><linearGradient id="gb30"><stop offset="0" stop-color="#00a7ff"/><stop offset="0.101" stop-color="#00feff"/><stop offset="0.316" stop-color="#00ff4c"/><stop offset="0.404" stop-color="#0f0"/><stop offset="0.689" stop-color="#fffd00"/><stop offset="0.873" stop-color="#ff6000"/><stop offset="1" stop-color="#ff1500"/></linearGradient><linearGradient id="gb31"><stop offset="0" stop-color="#00a8ff"/><stop offset="0.101" stop-color="#0ff"/><stop offset="0.325" stop-color="#00ff43"/><stop offset="0.404" stop-color="#01ff00"/><stop offset="0.689" stop-color="#fffd00"/><stop offset="0.873" stop-color="#ff6000"/><stop offset="1" stop-color="#ff1500"/></linearGradient><linearGradient id="gb32"><stop offset="0" stop-color="#00a8ff"/><stop offset="0.101" stop-color="#0ff"/><stop offset="0.404" stop-color="#01ff00"/><stop offset="0.689" stop-color="#fffd00"/><stop offset="0.873" stop-color="#ff6000"/><stop offset="1" stop-color="#ff1500"/></linearGradient><linearGradient id="gb33"><stop offset="0" stop-color="#00a8ff"/><stop offset="0.101" stop-color="#0ff"/><stop offset="0.404" stop-color="#01ff00"/><stop offset="0.689" stop-color="#fffe00"/><stop offset="0.873" stop-color="#ff6000"/><stop offset="1" stop-color="#ff1500"/></linearGradient><linearGradient id="gb34"><stop offset="0" stop-color="#00a9ff"/><stop offset="0.101" stop-color="#0ff"/><stop offset="0.404" stop-color="#02ff00"/><stop offset="0.689" stop-color="#fffe00"/><stop offset="0.873" stop-color="#ff6000"/><stop offset="1" stop-color="#ff1500"/></linearGradient><linearGradient id="gb35"><stop offset="0" stop-color="#00a9ff"/><stop offset="0.101" stop-color="#0ff"/><stop offset="0.404" stop-color="#02ff00"/><stop offset="0.64" stop-color="#d5ff00"/><stop offset="0.689" stop-color="#fffe00"/><stop offset="0.873" stop-color="#ff6000"/><stop offset="1" stop-color="#ff1500"/></linearGradient><linearGradient id="gb36"><stop offset="0" stop-color="#0af"/><stop offset="0.101" stop-color="#00fffe"/><stop offset="0.404" stop-color="#03ff00"/><stop offset="0.64" stop-color="#d5ff00"/><stop offset="0.689" stop-color="#fffe00"/><stop offset="0.877" stop-color="#ff5d00"/><stop offset="1" stop-color="#ff1500"/></linearGradient><linearGradient id="gb37"><stop offset="0" stop-color="#0af"/><stop offset="0.101" stop-color="#00fffe"/><stop offset="0.404" stop-color="#03ff00"/><stop offset="0.636" stop-color="#d0ff00"/><stop offset="0.689" stop-color="#fffe00"/><stop offset="0.877" stop-color="#ff5d00"/><stop offset="1" stop-color="#ff1500"/></linearGradient><linearGradient id="gb38"><stop offset="0" stop-color="#00abff"/><stop offset="0.096" stop-color="#00fffe"/><stop offset="0.395" stop-color="#00ff01"/><stop offset="0.618" stop-color="#c1ff00"/><stop offset="0.689" stop-color="#fffd00"/><stop offset="0.877" stop-color="#ff5d00"/><stop offset="1" stop-color="#ff1500"/></linearGradient><linearGradient id="gb39"><stop offset="0" stop-color="#00adff"/><stop offset="0.075" stop-color="#00f1ff"/><stop offset="0.092" stop-color="#00fffc"/><stop offset="0.39" stop-color="#0f0"/><stop offset="0.614" stop-color="#bfff00"/><stop offset="0.684" stop-color="#feff00"/><stop offset="0.882" stop-color="#ff5a00"/><stop offset="1" stop-color="#ff1500"/></linearGradient><linearGradient id="gb40"><stop offset="0" stop-color="#00aeff"/><stop offset="0.075" stop-color="#00f3ff"/><stop offset="0.088" stop-color="#00fffb"/><stop offset="0.351" stop-color="#00ff1d"/><stop offset="0.386" stop-color="#0f0"/><stop offset="0.592" stop-color="#afff00"/><stop offset="0.684" stop-color="#fffe00"/><stop offset="0.882" stop-color="#ff5a00"/><stop offset="1" stop-color="#ff1400"/></linearGradient><linearGradient id="gb41"><stop offset="0" stop-color="#00b0ff"/><stop offset="0.075" stop-color="#00f5ff"/><stop offset="0.083" stop-color="#00fffe"/><stop offset="0.127" stop-color="#00ffd5"/><stop offset="0.351" stop-color="#00ff18"/><stop offset="0.382" stop-color="#01ff00"/><stop offset="0.491" stop-color="#5aff00"/><stop offset="0.68" stop-color="#feff00"/><stop offset="0.811" stop-color="#ff9300"/><stop offset="0.882" stop-color="#ff5a00"/><stop offset="1" stop-color="#ff1400"/></linearGradient><linearGradient id="gb42"><stop offset="0" stop-color="#00b1ff"/><stop offset="0.075" stop-color="#00f7ff"/><stop offset="0.088" stop-color="#00fff6"/><stop offset="0.123" stop-color="#00ffd3"/><stop offset="0.351" stop-color="#00ff12"/><stop offset="0.377" stop-color="#01ff00"/><stop offset="0.487" stop-color="#5bff00"/><stop offset="0.68" stop-color="#ff0"/><stop offset="0.741" stop-color="#ffcd00"/><stop offset="0.882" stop-color="#ff5a00"/><stop offset="1" stop-color="#ff1300"/></linearGradient><linearGradient id="gb43"><stop offset="0" stop-color="#00b3ff"/><stop offset="0.079" stop-color="#0ff"/><stop offset="0.118" stop-color="#00ffd2"/><stop offset="0.351" stop-color="#00ff0d"/><stop offset="0.373" stop-color="#02ff00"/><stop offset="0.491" stop-color="#62ff00"/><stop offset="0.667" stop-color="#f6ff00"/><stop offset="0.684" stop-color="#fff900"/><stop offset="0.741" stop-color="#ffcb00"/><stop offset="0.807" stop-color="#ff9700"/><stop offset="0.882" stop-color="#ff5a00"/><stop offset="1" stop-color="#ff1300"/></linearGradient><linearGradient id="gb44"><stop offset="0" stop-color="#00b5ff"/><stop offset="0.057" stop-color="#00eaff"/><stop offset="0.079" stop-color="#00fffd"/><stop offset="0.127" stop-color="#00ffc6"/><stop offset="0.351" stop-color="#00ff08"/><stop offset="0.368" stop-color="#04ff00"/><stop offset="0.496" stop-color="#6aff00"/><stop offset="0.596" stop-color="#beff00"/><stop offset="0.671" stop-color="#fbff00"/><stop offset="0.693" stop-color="#fff000"/><stop offset="0.75" stop-color="#ffc400"/><stop offset="0.82" stop-color="#ff8c00"/><stop offset="0.886" stop-color="#ff5700"/><stop offset="1" stop-color="#ff1300"/></linearGradient><linearGradient id="gb45"><stop offset="0" stop-color="#00b6ff"/><stop offset="0.057" stop-color="#00edff"/><stop offset="0.075" stop-color="#00feff"/><stop offset="0.132" stop-color="#00ffbd"/><stop offset="0.351" stop-color="#00ff02"/><stop offset="0.408" stop-color="#28ff00"/><stop offset="0.496" stop-color="#6eff00"/><stop offset="0.566" stop-color="#a6ff00"/><stop offset="0.667" stop-color="#fbff00"/><stop offset="0.684" stop-color="#fff600"/><stop offset="0.741" stop-color="#ffc800"/><stop offset="0.807" stop-color="#ff9700"/><stop offset="0.882" stop-color="#ff5a00"/><stop offset="1" stop-color="#ff1200"/></linearGradient><linearGradient id="gb46"><stop offset="0" stop-color="#00b8ff"/><stop offset="0.057" stop-color="#00efff"/><stop offset="0.075" stop-color="#00fffd"/><stop offset="0.14" stop-color="#00ffb1"/><stop offset="0.346" stop-color="#0f0"/><stop offset="0.425" stop-color="#3bff00"/><stop offset="0.5" stop-color="#75ff00"/><stop offset="0.561" stop-color="#a5ff00"/><stop offset="0.667" stop-color="#fdff00"/><stop offset="0.706" stop-color="#ffe100"/><stop offset="0.811" stop-color="#ff9300"/><stop offset="0.882" stop-color="#ff5a00"/><stop offset="1" stop-color="#ff1200"/></linearGradient><linearGradient id="gb47"><stop offset="0" stop-color="#00b9ff"/><stop offset="0.057" stop-color="#00f1ff"/><stop offset="0.07" stop-color="#00feff"/><stop offset="0.145" stop-color="#00ffa8"/><stop offset="0.338" stop-color="#00ff01"/><stop offset="0.425" stop-color="#3fff00"/><stop offset="0.5" stop-color="#79ff00"/><stop offset="0.566" stop-color="#acff00"/><stop offset="0.667" stop-color="#ff0"/><stop offset="0.759" stop-color="#ffb900"/><stop offset="0.82" stop-color="#ff8c00"/><stop offset="0.886" stop-color="#ff5700"/><stop offset="1" stop-color="#f10"/></linearGradient><linearGradient id="gb48"><stop offset="0" stop-color="#0bf"/><stop offset="0.061" stop-color="#00f7ff"/><stop offset="0.07" stop-color="#00fffe"/><stop offset="0.154" stop-color="#00ff9b"/><stop offset="0.333" stop-color="#02ff00"/><stop offset="0.434" stop-color="#4bff00"/><stop offset="0.518" stop-color="#8aff00"/><stop offset="0.588" stop-color="#c2ff00"/><stop offset="0.662" stop-color="#feff00"/><stop offset="0.781" stop-color="#ffa900"/><stop offset="0.846" stop-color="#ff7500"/><stop offset="0.904" stop-color="#ff4c00"/><stop offset="1" stop-color="#f10"/></linearGradient><linearGradient id="gb49"><stop offset="0" stop-color="#00bcff"/><stop offset="0.061" stop-color="#00f9ff"/><stop offset="0.075" stop-color="#00fff6"/><stop offset="0.158" stop-color="#00ff93"/><stop offset="0.325" stop-color="#0f0"/><stop offset="0.443" stop-color="#57ff00"/><stop offset="0.575" stop-color="#b9ff00"/><stop offset="0.658" stop-color="#feff00"/><stop offset="0.711" stop-color="#ffd900"/><stop offset="0.833" stop-color="#ff8000"/><stop offset="0.89" stop-color="#ff5400"/><stop offset="1" stop-color="#f10"/></linearGradient><linearGradient id="gb50"><stop offset="0" stop-color="#00beff"/><stop offset="0.061" stop-color="#00fcff"/><stop offset="0.07" stop-color="#00fff9"/><stop offset="0.167" stop-color="#00ff86"/><stop offset="0.32" stop-color="#01ff00"/><stop offset="0.452" stop-color="#62ff00"/><stop offset="0.579" stop-color="#c0ff00"/><stop offset="0.658" stop-color="#fffe00"/><stop offset="0.816" stop-color="#ff8e00"/><stop offset="0.886" stop-color="#ff5700"/><stop offset="1" stop-color="#ff1000"/></linearGradient><linearGradient id="gb51"><stop offset="0" stop-color="#00bfff"/><stop offset="0.061" stop-color="#00feff"/><stop offset="0.175" stop-color="#00ff7a"/><stop offset="0.311" stop-color="#00ff01"/><stop offset="0.461" stop-color="#6eff00"/><stop offset="0.583" stop-color="#c7ff00"/><stop offset="0.654" stop-color="#ff0"/><stop offset="0.846" stop-color="#ff7500"/><stop offset="0.904" stop-color="#ff4c00"/><stop offset="1" stop-color="#ff1000"/></linearGradient><linearGradient id="gb52"><stop offset="0" stop-color="#00c1ff"/><stop offset="0.061" stop-color="#00fffe"/><stop offset="0.18" stop-color="#00ff71"/><stop offset="0.307" stop-color="#01ff00"/><stop offset="0.395" stop-color="#42ff00"/><stop offset="0.592" stop-color="#d1ff00"/><stop offset="0.654" stop-color="#fffc00"/><stop offset="0.855" stop-color="#ff6d00"/><stop offset="1" stop-color="#ff1000"/></linearGradient><linearGradient id="gb53"><stop offset="0" stop-color="#00c2ff"/><stop offset="0.057" stop-color="#0ff"/><stop offset="0.132" stop-color="#00ffa8"/><stop offset="0.189" stop-color="#00ff65"/><stop offset="0.303" stop-color="#02ff00"/><stop offset="0.368" stop-color="#35ff00"/><stop offset="0.605" stop-color="#dfff00"/><stop offset="0.649" stop-color="#fffd00"/><stop offset="0.864" stop-color="#ff6500"/><stop offset="1" stop-color="#ff0f00"/></linearGradient><linearGradient id="gb54"><stop offset="0" stop-color="#00c4ff"/><stop offset="0.057" stop-color="#00fffe"/><stop offset="0.197" stop-color="#00ff58"/><stop offset="0.298" stop-color="#03ff00"/><stop offset="0.36" stop-color="#34ff00"/><stop offset="0.645" stop-color="#ff0"/><stop offset="0.925" stop-color="#ff3e00"/><stop offset="1" stop-color="#ff0f00"/></linearGradient><linearGradient id="gb55"><stop offset="0" stop-color="#00c5ff"/><stop offset="0.057" stop-color="#00fffc"/><stop offset="0.202" stop-color="#00ff4f"/><stop offset="0.289" stop-color="#0f0"/><stop offset="0.355" stop-color="#36ff00"/><stop offset="0.645" stop-color="#fffc00"/><stop offset="0.947" stop-color="#ff3000"/><stop offset="1" stop-color="#ff0e00"/></linearGradient><linearGradient id="gb56"><stop offset="0" stop-color="#00c8ff"/><stop offset="0.053" stop-color="#00fffe"/><stop offset="0.132" stop-color="#00ffa2"/><stop offset="0.206" stop-color="#00ff49"/><stop offset="0.289" stop-color="#02ff00"/><stop offset="0.351" stop-color="#36ff00"/><stop offset="0.64" stop-color="#fffe00"/><stop offset="0.925" stop-color="#ff3f00"/><stop offset="1" stop-color="#ff0f00"/></linearGradient><linearGradient id="gb57"><stop offset="0" stop-color="#00cbff"/><stop offset="0.048" stop-color="#0ff"/><stop offset="0.092" stop-color="#00ffd2"/><stop offset="0.202" stop-color="#00ff4d"/><stop offset="0.289" stop-color="#0f0"/><stop offset="0.355" stop-color="#36ff00"/><stop offset="0.645" stop-color="#fffd00"/><stop offset="0.873" stop-color="#ff6200"/><stop offset="1" stop-color="#ff1200"/></linearGradient><linearGradient id="gb58"><stop offset="0" stop-color="#00ceff"/><stop offset="0.044" stop-color="#0ff"/><stop offset="0.079" stop-color="#00ffdf"/><stop offset="0.202" stop-color="#00ff4d"/><stop offset="0.246" stop-color="#00ff2a"/><stop offset="0.294" stop-color="#01ff00"/><stop offset="0.355" stop-color="#34ff00"/><stop offset="0.645" stop-color="#ff0"/><stop offset="0.868" stop-color="#ff6400"/><stop offset="0.912" stop-color="#ff4d00"/><stop offset="1" stop-color="#ff1600"/></linearGradient><linearGradient id="gb59"><stop offset="0" stop-color="#00d1ff"/><stop offset="0.039" stop-color="#00feff"/><stop offset="0.079" stop-color="#00ffdb"/><stop offset="0.101" stop-color="#00ffc7"/><stop offset="0.202" stop-color="#00ff4d"/><stop offset="0.241" stop-color="#00ff31"/><stop offset="0.298" stop-color="#03ff00"/><stop offset="0.355" stop-color="#32ff00"/><stop offset="0.649" stop-color="#fffd00"/><stop offset="0.868" stop-color="#ff6500"/><stop offset="0.908" stop-color="#ff5300"/><stop offset="1" stop-color="#ff1900"/></linearGradient><linearGradient id="gb60"><stop offset="0" stop-color="#00d4ff"/><stop offset="0.035" stop-color="#00fdff"/><stop offset="0.079" stop-color="#00ffd7"/><stop offset="0.105" stop-color="#00ffc2"/><stop offset="0.202" stop-color="#00ff4d"/><stop offset="0.246" stop-color="#00ff2f"/><stop offset="0.298" stop-color="#01ff00"/><stop offset="0.355" stop-color="#30ff00"/><stop offset="0.649" stop-color="#ff0"/><stop offset="0.864" stop-color="#ff6800"/><stop offset="0.912" stop-color="#ff5400"/><stop offset="1" stop-color="#ff1c00"/></linearGradient><linearGradient id="gb61"><stop offset="0" stop-color="#00d7ff"/><stop offset="0.031" stop-color="#00fdff"/><stop offset="0.079" stop-color="#00ffd3"/><stop offset="0.11" stop-color="#00ffbc"/><stop offset="0.202" stop-color="#00ff4d"/><stop offset="0.25" stop-color="#00ff2d"/><stop offset="0.303" stop-color="#02ff00"/><stop offset="0.355" stop-color="#2dff00"/><stop offset="0.654" stop-color="#fffd00"/><stop offset="0.864" stop-color="#ff6900"/><stop offset="0.917" stop-color="#ff5400"/><stop offset="1" stop-color="#ff1f00"/></linearGradient><linearGradient id="gb62"><stop offset="0" stop-color="#00daff"/><stop offset="0.031" stop-color="#00fffd"/><stop offset="0.075" stop-color="#00ffd2"/><stop offset="0.118" stop-color="#00ffb2"/><stop offset="0.202" stop-color="#00ff4d"/><stop offset="0.254" stop-color="#00ff2c"/><stop offset="0.303" stop-color="#0f0"/><stop offset="0.355" stop-color="#2bff00"/><stop offset="0.654" stop-color="#ff0"/><stop offset="0.842" stop-color="#ff7900"/><stop offset="0.882" stop-color="#ff6300"/><stop offset="0.925" stop-color="#ff5100"/><stop offset="1" stop-color="#f20"/></linearGradient><linearGradient id="gb63"><stop offset="0" stop-color="#0df"/><stop offset="0.026" stop-color="#00fffe"/><stop offset="0.075" stop-color="#00ffce"/><stop offset="0.123" stop-color="#00ffac"/><stop offset="0.202" stop-color="#00ff4d"/><stop offset="0.263" stop-color="#00ff26"/><stop offset="0.307" stop-color="#02ff00"/><stop offset="0.36" stop-color="#2cff00"/><stop offset="0.658" stop-color="#fffd00"/><stop offset="0.816" stop-color="#ff8b00"/><stop offset="0.877" stop-color="#ff6500"/><stop offset="0.93" stop-color="#ff5200"/><stop offset="1" stop-color="#ff2500"/></linearGradient><linearGradient id="gb64"><stop offset="0" stop-color="#00e0ff"/><stop offset="0.022" stop-color="#00fdff"/><stop offset="0.075" stop-color="#00ffca"/><stop offset="0.132" stop-color="#00ffa2"/><stop offset="0.202" stop-color="#00ff4d"/><stop offset="0.272" stop-color="#00ff20"/><stop offset="0.311" stop-color="#03ff00"/><stop offset="0.373" stop-color="#32ff00"/><stop offset="0.658" stop-color="#ff0"/><stop offset="0.794" stop-color="#ff9b00"/><stop offset="0.873" stop-color="#ff6800"/><stop offset="0.939" stop-color="#ff4f00"/><stop offset="1" stop-color="#ff2800"/></linearGradient><linearGradient id="gb65"><stop offset="0" stop-color="#00e3ff"/><stop offset="0.022" stop-color="#00fffe"/><stop offset="0.07" stop-color="#00ffc9"/><stop offset="0.14" stop-color="#00ff97"/><stop offset="0.202" stop-color="#00ff4d"/><stop offset="0.276" stop-color="#00ff1f"/><stop offset="0.311" stop-color="#01ff00"/><stop offset="0.373" stop-color="#30ff00"/><stop offset="0.662" stop-color="#fffd00"/><stop offset="0.759" stop-color="#ffb500"/><stop offset="0.873" stop-color="#ff6800"/><stop offset="0.943" stop-color="#ff4f00"/><stop offset="1" stop-color="#ff2b00"/></linearGradient><linearGradient id="gb66"><stop offset="0" stop-color="#00e6ff"/><stop offset="0.018" stop-color="#00feff"/><stop offset="0.07" stop-color="#00ffc5"/><stop offset="0.145" stop-color="#00ff91"/><stop offset="0.202" stop-color="#00ff4d"/><stop offset="0.285" stop-color="#00ff19"/><stop offset="0.316" stop-color="#03ff00"/><stop offset="0.404" stop-color="#43ff00"/><stop offset="0.662" stop-color="#ff0"/><stop offset="0.737" stop-color="#ffc600"/><stop offset="0.873" stop-color="#ff6900"/><stop offset="0.952" stop-color="#ff4d00"/><stop offset="1" stop-color="#ff2e00"/></linearGradient><linearGradient id="gb67"><stop offset="0" stop-color="#00e9ff"/><stop offset="0.018" stop-color="#00fffd"/><stop offset="0.066" stop-color="#00ffc4"/><stop offset="0.154" stop-color="#00ff87"/><stop offset="0.202" stop-color="#00ff4d"/><stop offset="0.289" stop-color="#00ff17"/><stop offset="0.316" stop-color="#0f0"/><stop offset="0.404" stop-color="#41ff00"/><stop offset="0.667" stop-color="#fffd00"/><stop offset="0.737" stop-color="#ffc700"/><stop offset="0.873" stop-color="#ff6a00"/><stop offset="0.956" stop-color="#ff4d00"/><stop offset="1" stop-color="#ff3100"/></linearGradient><linearGradient id="gb68"><stop offset="0" stop-color="#00ecff"/><stop offset="0.013" stop-color="#00feff"/><stop offset="0.066" stop-color="#00ffc0"/><stop offset="0.158" stop-color="#00ff81"/><stop offset="0.202" stop-color="#00ff4d"/><stop offset="0.298" stop-color="#00ff12"/><stop offset="0.32" stop-color="#02ff00"/><stop offset="0.662" stop-color="#fbff00"/><stop offset="0.68" stop-color="#fff400"/><stop offset="0.868" stop-color="#ff6c00"/><stop offset="0.965" stop-color="#ff4b00"/><stop offset="1" stop-color="#ff3400"/></linearGradient><linearGradient id="gb69"><stop offset="0" stop-color="#00efff"/><stop offset="0.013" stop-color="#00fffd"/><stop offset="0.061" stop-color="#00ffc0"/><stop offset="0.167" stop-color="#0f7"/><stop offset="0.202" stop-color="#00ff4d"/><stop offset="0.307" stop-color="#00ff0c"/><stop offset="0.325" stop-color="#04ff00"/><stop offset="0.658" stop-color="#f5ff00"/><stop offset="0.675" stop-color="#fff900"/><stop offset="0.763" stop-color="#ffb700"/><stop offset="0.873" stop-color="#ff6b00"/><stop offset="0.974" stop-color="#ff4800"/><stop offset="1" stop-color="#ff3700"/></linearGradient><linearGradient id="gb70"><stop offset="0" stop-color="#00f3ff"/><stop offset="0.009" stop-color="#00feff"/><stop offset="0.066" stop-color="#00ffb8"/><stop offset="0.175" stop-color="#00ff6c"/><stop offset="0.206" stop-color="#00ff4a"/><stop offset="0.311" stop-color="#00ff0a"/><stop offset="0.329" stop-color="#05ff00"/><stop offset="0.649" stop-color="#ebff00"/><stop offset="0.671" stop-color="#ff0"/><stop offset="0.746" stop-color="#ffc400"/><stop offset="0.873" stop-color="#ff6c00"/><stop offset="0.978" stop-color="#ff4800"/><stop offset="1" stop-color="#ff3a00"/></linearGradient><linearGradient id="gb71"><stop offset="0" stop-color="#00f6ff"/><stop offset="0.009" stop-color="#00fffd"/><stop offset="0.066" stop-color="#00ffb4"/><stop offset="0.18" stop-color="#00ff67"/><stop offset="0.206" stop-color="#00ff4a"/><stop offset="0.32" stop-color="#00ff05"/><stop offset="0.342" stop-color="#0dff00"/><stop offset="0.57" stop-color="#b0ff00"/><stop offset="0.675" stop-color="#fffd00"/><stop offset="0.75" stop-color="#ffc200"/><stop offset="0.873" stop-color="#ff6d00"/><stop offset="0.987" stop-color="#ff4600"/><stop offset="1" stop-color="#ff3d00"/></linearGradient><linearGradient id="gb72"><stop offset="0" stop-color="#00f9ff"/><stop offset="0.009" stop-color="#00fffa"/><stop offset="0.066" stop-color="#00ffb0"/><stop offset="0.189" stop-color="#00ff5c"/><stop offset="0.211" stop-color="#00ff48"/><stop offset="0.329" stop-color="#01ff00"/><stop offset="0.632" stop-color="#daff00"/><stop offset="0.675" stop-color="#ff0"/><stop offset="0.75" stop-color="#ffc300"/><stop offset="0.873" stop-color="#ff6e00"/><stop offset="0.996" stop-color="#ff4300"/><stop offset="1" stop-color="#ff4100"/></linearGradient><linearGradient id="gb73"><stop offset="0" stop-color="#00fcff"/><stop offset="0.061" stop-color="#00ffb1"/><stop offset="0.197" stop-color="#00ff51"/><stop offset="0.333" stop-color="#02ff00"/><stop offset="0.566" stop-color="#a8ff00"/><stop offset="0.68" stop-color="#fffd00"/><stop offset="0.754" stop-color="#ffc100"/><stop offset="0.873" stop-color="#ff6f00"/><stop offset="1" stop-color="#f40"/></linearGradient><linearGradient id="gb74"><stop offset="0" stop-color="#0ff"/><stop offset="0.07" stop-color="#00ffa4"/><stop offset="0.25" stop-color="#00ff31"/><stop offset="0.338" stop-color="#03ff00"/><stop offset="0.566" stop-color="#a6ff00"/><stop offset="0.675" stop-color="#fbff00"/><stop offset="0.693" stop-color="#fff300"/><stop offset="0.781" stop-color="#ffb000"/><stop offset="0.873" stop-color="#ff6f00"/><stop offset="1" stop-color="#ff4700"/></linearGradient><linearGradient id="gb75"><stop offset="0" stop-color="#00f9ff"/><stop offset="0.009" stop-color="#00fff9"/><stop offset="0.075" stop-color="#00ffa4"/><stop offset="0.215" stop-color="#00ff4a"/><stop offset="0.338" stop-color="#00ff05"/><stop offset="0.355" stop-color="#06ff00"/><stop offset="0.469" stop-color="#52ff00"/><stop offset="0.509" stop-color="#6cff00"/><stop offset="0.645" stop-color="#cfff00"/><stop offset="0.654" stop-color="#cf0"/><stop offset="0.711" stop-color="#ff0"/><stop offset="0.724" stop-color="#fff700"/><stop offset="0.873" stop-color="#ff9100"/><stop offset="1" stop-color="#ff6800"/></linearGradient><linearGradient id="gb76"><stop offset="0" stop-color="#00f3ff"/><stop offset="0.009" stop-color="#00feff"/><stop offset="0.079" stop-color="#00ffa5"/><stop offset="0.206" stop-color="#00ff52"/><stop offset="0.338" stop-color="#00ff0a"/><stop offset="0.355" stop-color="#00ff04"/><stop offset="0.382" stop-color="#0eff00"/><stop offset="0.469" stop-color="#48ff00"/><stop offset="0.487" stop-color="#4cff00"/><stop offset="0.601" stop-color="#a0ff00"/><stop offset="0.623" stop-color="#adff00"/><stop offset="0.649" stop-color="#bdff00"/><stop offset="0.654" stop-color="#b5ff00"/><stop offset="0.662" stop-color="#b7ff00"/><stop offset="0.719" stop-color="#eaff00"/><stop offset="0.741" stop-color="#ef0"/><stop offset="0.768" stop-color="#fffd00"/><stop offset="0.873" stop-color="#ffb300"/><stop offset="1" stop-color="#ff8c00"/></linearGradient><linearGradient id="gb77"><stop offset="0" stop-color="#00edff"/><stop offset="0.013" stop-color="#00feff"/><stop offset="0.088" stop-color="#00ffa2"/><stop offset="0.206" stop-color="#0f5"/><stop offset="0.25" stop-color="#00ff41"/><stop offset="0.338" stop-color="#00ff10"/><stop offset="0.36" stop-color="#00ff0b"/><stop offset="0.382" stop-color="#04ff00"/><stop offset="0.469" stop-color="#3eff00"/><stop offset="0.491" stop-color="#40ff00"/><stop offset="0.601" stop-color="#91ff00"/><stop offset="0.614" stop-color="#94ff00"/><stop offset="0.649" stop-color="#abff00"/><stop offset="0.658" stop-color="#9bff00"/><stop offset="0.671" stop-color="#a2ff00"/><stop offset="0.724" stop-color="#cdff00"/><stop offset="0.746" stop-color="#cfff00"/><stop offset="0.816" stop-color="#fffc00"/><stop offset="0.873" stop-color="#ffd600"/><stop offset="1" stop-color="#ffaf00"/></linearGradient><linearGradient id="gb78"><stop offset="0" stop-color="#00e7ff"/><stop offset="0.018" stop-color="#00fdff"/><stop offset="0.092" stop-color="#00ffa3"/><stop offset="0.206" stop-color="#00ff58"/><stop offset="0.241" stop-color="#00ff4b"/><stop offset="0.338" stop-color="#00ff15"/><stop offset="0.368" stop-color="#00ff0f"/><stop offset="0.395" stop-color="#03ff00"/><stop offset="0.469" stop-color="#35ff00"/><stop offset="0.5" stop-color="#37ff00"/><stop offset="0.601" stop-color="#81ff00"/><stop offset="0.614" stop-color="#82ff00"/><stop offset="0.649" stop-color="#9f0"/><stop offset="0.662" stop-color="#81ff00"/><stop offset="0.724" stop-color="#b1ff00"/><stop offset="0.754" stop-color="#b3ff00"/><stop offset="0.86" stop-color="#ff0"/><stop offset="1" stop-color="#ffd200"/></linearGradient><linearGradient id="gb79"><stop offset="0" stop-color="#00e1ff"/><stop offset="0.026" stop-color="#00fffb"/><stop offset="0.088" stop-color="#00ffae"/><stop offset="0.114" stop-color="#00ff96"/><stop offset="0.206" stop-color="#00ff5b"/><stop offset="0.25" stop-color="#00ff4b"/><stop offset="0.338" stop-color="#00ff1a"/><stop offset="0.373" stop-color="#00ff16"/><stop offset="0.408" stop-color="#02ff00"/><stop offset="0.469" stop-color="#2bff00"/><stop offset="0.504" stop-color="#2aff00"/><stop offset="0.601" stop-color="#71ff00"/><stop offset="0.618" stop-color="#74ff00"/><stop offset="0.649" stop-color="#87ff00"/><stop offset="0.667" stop-color="#6f0"/><stop offset="0.724" stop-color="#94ff00"/><stop offset="0.763" stop-color="#97ff00"/><stop offset="0.873" stop-color="#e3ff00"/><stop offset="0.978" stop-color="#fffd00"/><stop offset="1" stop-color="#fff600"/></linearGradient><linearGradient id="gb80"><stop offset="0" stop-color="#00daff"/><stop offset="0.031" stop-color="#00fffc"/><stop offset="0.088" stop-color="#00ffb5"/><stop offset="0.118" stop-color="#00ff96"/><stop offset="0.206" stop-color="#00ff5f"/><stop offset="0.254" stop-color="#00ff4e"/><stop offset="0.338" stop-color="#00ff20"/><stop offset="0.382" stop-color="#00ff1a"/><stop offset="0.421" stop-color="#01ff00"/><stop offset="0.469" stop-color="#21ff00"/><stop offset="0.513" stop-color="#21ff00"/><stop offset="0.601" stop-color="#61ff00"/><stop offset="0.618" stop-color="#61ff00"/><stop offset="0.649" stop-color="#75ff00"/><stop offset="0.671" stop-color="#4cff00"/><stop offset="0.724" stop-color="#7f0"/><stop offset="0.772" stop-color="#7aff00"/><stop offset="0.873" stop-color="#c0ff00"/><stop offset="1" stop-color="#e5ff00"/></linearGradient><linearGradient id="gb81"><stop offset="0" stop-color="#00d4ff"/><stop offset="0.035" stop-color="#00fffc"/><stop offset="0.092" stop-color="#00ffb6"/><stop offset="0.127" stop-color="#00ff94"/><stop offset="0.206" stop-color="#00ff62"/><stop offset="0.259" stop-color="#00ff51"/><stop offset="0.338" stop-color="#00ff25"/><stop offset="0.386" stop-color="#00ff21"/><stop offset="0.439" stop-color="#03ff00"/><stop offset="0.469" stop-color="#17ff00"/><stop offset="0.518" stop-color="#15ff00"/><stop offset="0.601" stop-color="#52ff00"/><stop offset="0.618" stop-color="#4fff00"/><stop offset="0.649" stop-color="#63ff00"/><stop offset="0.675" stop-color="#3f0"/><stop offset="0.724" stop-color="#5aff00"/><stop offset="0.776" stop-color="#5bff00"/><stop offset="0.873" stop-color="#9eff00"/><stop offset="0.996" stop-color="#c0ff00"/><stop offset="1" stop-color="#c2ff00"/></linearGradient><linearGradient id="gb82"><stop offset="0" stop-color="#00ceff"/><stop offset="0.039" stop-color="#00fffd"/><stop offset="0.096" stop-color="#00ffb8"/><stop offset="0.132" stop-color="#00ff94"/><stop offset="0.206" stop-color="#00ff65"/><stop offset="0.268" stop-color="#00ff51"/><stop offset="0.338" stop-color="#00ff2a"/><stop offset="0.395" stop-color="#00ff25"/><stop offset="0.452" stop-color="#02ff00"/><stop offset="0.469" stop-color="#0dff00"/><stop offset="0.526" stop-color="#0bff00"/><stop offset="0.601" stop-color="#42ff00"/><stop offset="0.623" stop-color="#41ff00"/><stop offset="0.649" stop-color="#51ff00"/><stop offset="0.68" stop-color="#1aff00"/><stop offset="0.724" stop-color="#3eff00"/><stop offset="0.785" stop-color="#3fff00"/><stop offset="0.873" stop-color="#7bff00"/><stop offset="0.987" stop-color="#9aff00"/><stop offset="1" stop-color="#9eff00"/></linearGradient><linearGradient id="gb83"><stop offset="0" stop-color="#00c8ff"/><stop offset="0.044" stop-color="#00fffd"/><stop offset="0.105" stop-color="#00ffb4"/><stop offset="0.14" stop-color="#00ff91"/><stop offset="0.206" stop-color="#00ff68"/><stop offset="0.272" stop-color="#00ff54"/><stop offset="0.338" stop-color="#00ff30"/><stop offset="0.399" stop-color="#00ff2c"/><stop offset="0.465" stop-color="#02ff00"/><stop offset="0.535" stop-color="#02ff00"/><stop offset="0.601" stop-color="#32ff00"/><stop offset="0.627" stop-color="#32ff00"/><stop offset="0.649" stop-color="#3fff00"/><stop offset="0.68" stop-color="#06ff00"/><stop offset="0.684" stop-color="#01ff00"/><stop offset="0.724" stop-color="#21ff00"/><stop offset="0.794" stop-color="#23ff00"/><stop offset="0.873" stop-color="#59ff00"/><stop offset="0.987" stop-color="#7f0"/><stop offset="1" stop-color="#7bff00"/></linearGradient><linearGradient id="gb84"><stop offset="0" stop-color="#00c2ff"/><stop offset="0.048" stop-color="#00fffe"/><stop offset="0.136" stop-color="#00ff98"/><stop offset="0.206" stop-color="#00ff6b"/><stop offset="0.281" stop-color="#00ff54"/><stop offset="0.338" stop-color="#00ff35"/><stop offset="0.408" stop-color="#00ff30"/><stop offset="0.469" stop-color="#00ff07"/><stop offset="0.539" stop-color="#00ff0a"/><stop offset="0.557" stop-color="#03ff00"/><stop offset="0.601" stop-color="#23ff00"/><stop offset="0.627" stop-color="#20ff00"/><stop offset="0.649" stop-color="#2dff00"/><stop offset="0.671" stop-color="#04ff00"/><stop offset="0.684" stop-color="#00ff15"/><stop offset="0.689" stop-color="#00ff18"/><stop offset="0.719" stop-color="#03ff00"/><stop offset="0.803" stop-color="#06ff00"/><stop offset="0.873" stop-color="#36ff00"/><stop offset="0.987" stop-color="#54ff00"/><stop offset="1" stop-color="#58ff00"/></linearGradient><linearGradient id="gb85"><stop offset="0" stop-color="#00bcff"/><stop offset="0.053" stop-color="#00fffe"/><stop offset="0.149" stop-color="#00ff91"/><stop offset="0.206" stop-color="#00ff6e"/><stop offset="0.289" stop-color="#00ff54"/><stop offset="0.338" stop-color="#00ff3b"/><stop offset="0.417" stop-color="#00ff34"/><stop offset="0.469" stop-color="#0f1"/><stop offset="0.548" stop-color="#00ff14"/><stop offset="0.579" stop-color="#03ff00"/><stop offset="0.601" stop-color="#13ff00"/><stop offset="0.632" stop-color="#1f0"/><stop offset="0.649" stop-color="#1bff00"/><stop offset="0.662" stop-color="#02ff00"/><stop offset="0.689" stop-color="#00ff2f"/><stop offset="0.697" stop-color="#00ff2d"/><stop offset="0.724" stop-color="#00ff19"/><stop offset="0.811" stop-color="#00ff16"/><stop offset="0.846" stop-color="#04ff00"/><stop offset="0.873" stop-color="#14ff00"/><stop offset="0.991" stop-color="#32ff00"/><stop offset="1" stop-color="#34ff00"/></linearGradient><linearGradient id="gb86"><stop offset="0" stop-color="#00b6ff"/><stop offset="0.057" stop-color="#0ff"/><stop offset="0.158" stop-color="#00ff8f"/><stop offset="0.206" stop-color="#00ff71"/><stop offset="0.294" stop-color="#00ff57"/><stop offset="0.338" stop-color="#00ff40"/><stop offset="0.421" stop-color="#00ff3b"/><stop offset="0.469" stop-color="#00ff1b"/><stop offset="0.553" stop-color="#00ff20"/><stop offset="0.596" stop-color="#01ff00"/><stop offset="0.636" stop-color="#02ff00"/><stop offset="0.649" stop-color="#09ff00"/><stop offset="0.654" stop-color="#01ff00"/><stop offset="0.693" stop-color="#00ff49"/><stop offset="0.702" stop-color="#00ff46"/><stop offset="0.724" stop-color="#00ff36"/><stop offset="0.816" stop-color="#00ff35"/><stop offset="0.873" stop-color="#00ff0f"/><stop offset="0.956" stop-color="#03ff00"/><stop offset="1" stop-color="#1f0"/></linearGradient><linearGradient id="gb87"><stop offset="0" stop-color="#00afff"/><stop offset="0.061" stop-color="#0ff"/><stop offset="0.167" stop-color="#00ff8c"/><stop offset="0.211" stop-color="#00ff73"/><stop offset="0.303" stop-color="#00ff58"/><stop offset="0.338" stop-color="#00ff45"/><stop offset="0.43" stop-color="#00ff3f"/><stop offset="0.469" stop-color="#00ff25"/><stop offset="0.561" stop-color="#00ff29"/><stop offset="0.601" stop-color="#00ff0d"/><stop offset="0.636" stop-color="#00ff10"/><stop offset="0.649" stop-color="#00ff09"/><stop offset="0.697" stop-color="#00ff63"/><stop offset="0.724" stop-color="#00ff52"/><stop offset="0.825" stop-color="#00ff51"/><stop offset="0.873" stop-color="#00ff31"/><stop offset="1" stop-color="#00ff12"/></linearGradient><linearGradient id="gb88"><stop offset="0" stop-color="#00a9ff"/><stop offset="0.066" stop-color="#00feff"/><stop offset="0.171" stop-color="#00ff8c"/><stop offset="0.211" stop-color="#00ff76"/><stop offset="0.311" stop-color="#00ff58"/><stop offset="0.338" stop-color="#00ff4b"/><stop offset="0.439" stop-color="#00ff43"/><stop offset="0.469" stop-color="#00ff2f"/><stop offset="0.57" stop-color="#0f3"/><stop offset="0.601" stop-color="#00ff1c"/><stop offset="0.636" stop-color="#0f2"/><stop offset="0.649" stop-color="#00ff1b"/><stop offset="0.702" stop-color="#00ff7e"/><stop offset="0.724" stop-color="#00ff6f"/><stop offset="0.833" stop-color="#00ff6d"/><stop offset="0.873" stop-color="#00ff54"/><stop offset="1" stop-color="#00ff36"/></linearGradient><linearGradient id="gb89"><stop offset="0" stop-color="#00a3ff"/><stop offset="0.07" stop-color="#00fdff"/><stop offset="0.18" stop-color="#00ff89"/><stop offset="0.211" stop-color="#00ff79"/><stop offset="0.316" stop-color="#00ff5b"/><stop offset="0.338" stop-color="#00ff50"/><stop offset="0.443" stop-color="#00ff4a"/><stop offset="0.469" stop-color="#00ff39"/><stop offset="0.575" stop-color="#00ff3f"/><stop offset="0.601" stop-color="#00ff2c"/><stop offset="0.64" stop-color="#00ff31"/><stop offset="0.649" stop-color="#00ff2d"/><stop offset="0.706" stop-color="#00ff98"/><stop offset="0.724" stop-color="#00ff8c"/><stop offset="0.842" stop-color="#00ff8a"/><stop offset="0.873" stop-color="#0f7"/><stop offset="1" stop-color="#00ff59"/></linearGradient><linearGradient id="gb90"><stop offset="0" stop-color="#009dff"/><stop offset="0.079" stop-color="#00fffe"/><stop offset="0.189" stop-color="#00ff86"/><stop offset="0.224" stop-color="#00ff79"/><stop offset="0.325" stop-color="#00ff5b"/><stop offset="0.346" stop-color="#0f5"/><stop offset="0.452" stop-color="#00ff4d"/><stop offset="0.469" stop-color="#00ff43"/><stop offset="0.583" stop-color="#00ff48"/><stop offset="0.605" stop-color="#00ff3d"/><stop offset="0.645" stop-color="#00ff40"/><stop offset="0.649" stop-color="#00ff3f"/><stop offset="0.711" stop-color="#00ffb1"/><stop offset="0.724" stop-color="#00ffa9"/><stop offset="0.851" stop-color="#00ffa6"/><stop offset="0.877" stop-color="#00ff98"/><stop offset="1" stop-color="#00ff7c"/></linearGradient><linearGradient id="gb91"><stop offset="0" stop-color="#0097ff"/><stop offset="0.083" stop-color="#0ff"/><stop offset="0.193" stop-color="#00ff87"/><stop offset="0.342" stop-color="#00ff5b"/><stop offset="0.461" stop-color="#00ff51"/><stop offset="0.482" stop-color="#00ff4e"/><stop offset="0.592" stop-color="#00ff51"/><stop offset="0.605" stop-color="#00ff4c"/><stop offset="0.649" stop-color="#00ff51"/><stop offset="0.715" stop-color="#00ffca"/><stop offset="0.737" stop-color="#00ffc6"/><stop offset="0.855" stop-color="#00ffc5"/><stop offset="0.882" stop-color="#00ffba"/><stop offset="1" stop-color="#00ffa0"/></linearGradient><linearGradient id="gb92"><stop offset="0" stop-color="#0091ff"/><stop offset="0.088" stop-color="#00fdff"/><stop offset="0.202" stop-color="#00ff85"/><stop offset="0.346" stop-color="#00ff60"/><stop offset="0.496" stop-color="#00ff59"/><stop offset="0.632" stop-color="#00ff60"/><stop offset="0.649" stop-color="#00ff63"/><stop offset="0.715" stop-color="#00ffde"/><stop offset="0.724" stop-color="#00ffe2"/><stop offset="0.864" stop-color="#00ffe1"/><stop offset="1" stop-color="#00ffc3"/></linearGradient><linearGradient id="gb93"><stop offset="0" stop-color="#08f"/><stop offset="0.075" stop-color="#00e0ff"/><stop offset="0.105" stop-color="#00fffc"/><stop offset="0.202" stop-color="#00ff91"/><stop offset="0.346" stop-color="#00ff6d"/><stop offset="0.509" stop-color="#00ff68"/><stop offset="0.645" stop-color="#00ff73"/><stop offset="0.649" stop-color="#0f7"/><stop offset="0.719" stop-color="#00fffc"/><stop offset="0.886" stop-color="#00fffc"/><stop offset="1" stop-color="#00ffe3"/></linearGradient><linearGradient id="gb94"><stop offset="0" stop-color="#007cff"/><stop offset="0.018" stop-color="#008aff"/><stop offset="0.07" stop-color="#0cf"/><stop offset="0.11" stop-color="#00f0ff"/><stop offset="0.123" stop-color="#0ff"/><stop offset="0.202" stop-color="#00ffa8"/><stop offset="0.303" stop-color="#00ff8a"/><stop offset="0.355" stop-color="#00ff80"/><stop offset="0.522" stop-color="#00ff7c"/><stop offset="0.645" stop-color="#00ff87"/><stop offset="0.649" stop-color="#00ff8a"/><stop offset="0.667" stop-color="#00ffb4"/><stop offset="0.706" stop-color="#00fffe"/><stop offset="0.719" stop-color="#00e8ff"/><stop offset="0.899" stop-color="#00e7ff"/><stop offset="1" stop-color="#00fdff"/></linearGradient><linearGradient id="gb95"><stop offset="0" stop-color="#0071ff"/><stop offset="0.026" stop-color="#0084ff"/><stop offset="0.07" stop-color="#00baff"/><stop offset="0.123" stop-color="#00e8ff"/><stop offset="0.145" stop-color="#00fffe"/><stop offset="0.202" stop-color="#00ffbf"/><stop offset="0.276" stop-color="#00ffa5"/><stop offset="0.351" stop-color="#00ff95"/><stop offset="0.531" stop-color="#00ff8f"/><stop offset="0.645" stop-color="#00ff9a"/><stop offset="0.649" stop-color="#00ff9d"/><stop offset="0.675" stop-color="#00ffde"/><stop offset="0.693" stop-color="#0ff"/><stop offset="0.719" stop-color="#00ceff"/><stop offset="0.89" stop-color="#00cbff"/><stop offset="1" stop-color="#00dfff"/></linearGradient><linearGradient id="gb96"><stop offset="0" stop-color="#0065ff"/><stop offset="0.035" stop-color="#007eff"/><stop offset="0.075" stop-color="#00acff"/><stop offset="0.14" stop-color="#00e4ff"/><stop offset="0.167" stop-color="#00fffc"/><stop offset="0.202" stop-color="#00ffd6"/><stop offset="0.289" stop-color="#00ffb5"/><stop offset="0.351" stop-color="#00ffa9"/><stop offset="0.544" stop-color="#00ffa3"/><stop offset="0.645" stop-color="#00ffad"/><stop offset="0.649" stop-color="#00ffb0"/><stop offset="0.68" stop-color="#0ff"/><stop offset="0.719" stop-color="#00b4ff"/><stop offset="0.882" stop-color="#00b0ff"/><stop offset="0.961" stop-color="#00b9ff"/><stop offset="1" stop-color="#00c1ff"/></linearGradient><linearGradient id="gb97"><stop offset="0" stop-color="#005aff"/><stop offset="0.044" stop-color="#0078ff"/><stop offset="0.075" stop-color="#009bff"/><stop offset="0.158" stop-color="#00e1ff"/><stop offset="0.184" stop-color="#00feff"/><stop offset="0.206" stop-color="#00ffec"/><stop offset="0.303" stop-color="#00ffc6"/><stop offset="0.355" stop-color="#00ffbd"/><stop offset="0.557" stop-color="#00ffb7"/><stop offset="0.645" stop-color="#00ffc0"/><stop offset="0.649" stop-color="#00ffc4"/><stop offset="0.671" stop-color="#00fffc"/><stop offset="0.697" stop-color="#00c3ff"/><stop offset="0.719" stop-color="#009aff"/><stop offset="0.882" stop-color="#0095ff"/><stop offset="0.974" stop-color="#009eff"/><stop offset="1" stop-color="#00a4ff"/></linearGradient><linearGradient id="gb98"><stop offset="0" stop-color="#004eff"/><stop offset="0.053" stop-color="#0072ff"/><stop offset="0.079" stop-color="#008dff"/><stop offset="0.175" stop-color="#0df"/><stop offset="0.202" stop-color="#00f9ff"/><stop offset="0.228" stop-color="#00fff9"/><stop offset="0.325" stop-color="#00ffd4"/><stop offset="0.531" stop-color="#00ffcb"/><stop offset="0.636" stop-color="#00ffd2"/><stop offset="0.649" stop-color="#00ffd7"/><stop offset="0.662" stop-color="#00fff8"/><stop offset="0.667" stop-color="#00faff"/><stop offset="0.706" stop-color="#09f"/><stop offset="0.719" stop-color="#0080ff"/><stop offset="0.886" stop-color="#007aff"/><stop offset="0.987" stop-color="#0083ff"/><stop offset="1" stop-color="#0086ff"/></linearGradient><linearGradient id="gb99"><stop offset="0" stop-color="#0043ff"/><stop offset="0.061" stop-color="#006cff"/><stop offset="0.193" stop-color="#00daff"/><stop offset="0.215" stop-color="#00e8ff"/><stop offset="0.276" stop-color="#00fffc"/><stop offset="0.338" stop-color="#00ffe6"/><stop offset="0.566" stop-color="#00ffdf"/><stop offset="0.645" stop-color="#00ffe7"/><stop offset="0.649" stop-color="#00ffea"/><stop offset="0.658" stop-color="#00feff"/><stop offset="0.715" stop-color="#006eff"/><stop offset="0.719" stop-color="#06f"/><stop offset="0.89" stop-color="#0060ff"/><stop offset="1" stop-color="#0068ff"/></linearGradient><linearGradient id="gb100"><stop offset="0" stop-color="#0038ff"/><stop offset="0.092" stop-color="#0075ff"/><stop offset="0.206" stop-color="#00cdff"/><stop offset="0.329" stop-color="#00fffc"/><stop offset="0.535" stop-color="#00fff4"/><stop offset="0.627" stop-color="#00fff7"/><stop offset="0.649" stop-color="#00fffb"/><stop offset="0.675" stop-color="#00bfff"/><stop offset="0.719" stop-color="#004fff"/><stop offset="0.899" stop-color="#0048ff"/><stop offset="1" stop-color="#004dff"/></linearGradient><linearGradient id="gb101"><stop offset="0" stop-color="#03f"/><stop offset="0.035" stop-color="#0046ff"/><stop offset="0.07" stop-color="#005aff"/><stop offset="0.088" stop-color="#0060ff"/><stop offset="0.202" stop-color="#00baff"/><stop offset="0.246" stop-color="#00c8ff"/><stop offset="0.338" stop-color="#0ef"/><stop offset="0.588" stop-color="#00f4ff"/><stop offset="0.654" stop-color="#00ecff"/><stop offset="0.662" stop-color="#00dbff"/><stop offset="0.719" stop-color="#0049ff"/><stop offset="0.908" stop-color="#0043ff"/><stop offset="1" stop-color="#0048ff"/></linearGradient><linearGradient id="gb102"><stop offset="0" stop-color="#002eff"/><stop offset="0.022" stop-color="#0035ff"/><stop offset="0.07" stop-color="#0052ff"/><stop offset="0.101" stop-color="#0059ff"/><stop offset="0.202" stop-color="#00a8ff"/><stop offset="0.241" stop-color="#00b0ff"/><stop offset="0.338" stop-color="#00d8ff"/><stop offset="0.61" stop-color="#0df"/><stop offset="0.662" stop-color="#00d3ff"/><stop offset="0.719" stop-color="#04f"/><stop offset="0.921" stop-color="#003eff"/><stop offset="1" stop-color="#0042ff"/></linearGradient><linearGradient id="gb103"><stop offset="0" stop-color="#0029ff"/><stop offset="0.026" stop-color="#002fff"/><stop offset="0.07" stop-color="#0049ff"/><stop offset="0.11" stop-color="#004eff"/><stop offset="0.202" stop-color="#0096ff"/><stop offset="0.25" stop-color="#009eff"/><stop offset="0.338" stop-color="#00c2ff"/><stop offset="0.618" stop-color="#00c6ff"/><stop offset="0.671" stop-color="#00b9ff"/><stop offset="0.719" stop-color="#003eff"/><stop offset="0.93" stop-color="#0039ff"/><stop offset="1" stop-color="#003cff"/></linearGradient><linearGradient id="gb104"><stop offset="0" stop-color="#0024ff"/><stop offset="0.031" stop-color="#0029ff"/><stop offset="0.07" stop-color="#0041ff"/><stop offset="0.123" stop-color="#0047ff"/><stop offset="0.202" stop-color="#0085ff"/><stop offset="0.263" stop-color="#008eff"/><stop offset="0.338" stop-color="#00acff"/><stop offset="0.627" stop-color="#00afff"/><stop offset="0.675" stop-color="#00a4ff"/><stop offset="0.684" stop-color="#0092ff"/><stop offset="0.719" stop-color="#0038ff"/><stop offset="0.947" stop-color="#0034ff"/><stop offset="1" stop-color="#0037ff"/></linearGradient><linearGradient id="gb105"><stop offset="0" stop-color="#001fff"/><stop offset="0.039" stop-color="#0026ff"/><stop offset="0.07" stop-color="#0038ff"/><stop offset="0.136" stop-color="#0040ff"/><stop offset="0.202" stop-color="#0073ff"/><stop offset="0.276" stop-color="#007eff"/><stop offset="0.338" stop-color="#0096ff"/><stop offset="0.64" stop-color="#0097ff"/><stop offset="0.684" stop-color="#008bff"/><stop offset="0.719" stop-color="#03f"/><stop offset="0.961" stop-color="#002fff"/><stop offset="1" stop-color="#0031ff"/></linearGradient><linearGradient id="gb106"><stop offset="0" stop-color="#001aff"/><stop offset="0.044" stop-color="#0021ff"/><stop offset="0.075" stop-color="#0030ff"/><stop offset="0.149" stop-color="#0039ff"/><stop offset="0.202" stop-color="#0061ff"/><stop offset="0.289" stop-color="#006dff"/><stop offset="0.338" stop-color="#0080ff"/><stop offset="0.645" stop-color="#0080ff"/><stop offset="0.693" stop-color="#0070ff"/><stop offset="0.719" stop-color="#002dff"/><stop offset="0.978" stop-color="#002aff"/><stop offset="1" stop-color="#002bff"/></linearGradient><linearGradient id="gb107"><stop offset="0" stop-color="#0015ff"/><stop offset="0.053" stop-color="#001eff"/><stop offset="0.075" stop-color="#0028ff"/><stop offset="0.162" stop-color="#0032ff"/><stop offset="0.202" stop-color="#0050ff"/><stop offset="0.303" stop-color="#005dff"/><stop offset="0.342" stop-color="#006aff"/><stop offset="0.649" stop-color="#006aff"/><stop offset="0.697" stop-color="#005bff"/><stop offset="0.711" stop-color="#003eff"/><stop offset="0.719" stop-color="#0027ff"/><stop offset="1" stop-color="#0026ff"/></linearGradient><linearGradient id="gb108"><stop offset="0" stop-color="#0010ff"/><stop offset="0.057" stop-color="#0018ff"/><stop offset="0.083" stop-color="#0020ff"/><stop offset="0.175" stop-color="#002aff"/><stop offset="0.202" stop-color="#003eff"/><stop offset="0.316" stop-color="#004dff"/><stop offset="0.342" stop-color="#0054ff"/><stop offset="0.654" stop-color="#0053ff"/><stop offset="0.706" stop-color="#0043ff"/><stop offset="0.719" stop-color="#02f"/><stop offset="1" stop-color="#0020ff"/></linearGradient><linearGradient id="gb109"><stop offset="0" stop-color="#000cff"/><stop offset="0.189" stop-color="#0023ff"/><stop offset="0.206" stop-color="#002dff"/><stop offset="0.329" stop-color="#003cff"/><stop offset="0.654" stop-color="#003dff"/><stop offset="0.715" stop-color="#0027ff"/><stop offset="0.719" stop-color="#001cff"/><stop offset="1" stop-color="#001aff"/></linearGradient><linearGradient id="gb110"><stop offset="0" stop-color="#0008ff"/><stop offset="0.36" stop-color="#002fff"/><stop offset="0.658" stop-color="#002cff"/><stop offset="0.732" stop-color="#0016ff"/><stop offset="1" stop-color="#0016ff"/></linearGradient><linearGradient id="gc0"><stop offset="0" stop-color="#0072ff"/><stop offset="0.088" stop-color="#00c1ff"/><stop offset="0.171" stop-color="#00fffd"/><stop offset="0.382" stop-color="#00ff6a"/><stop offset="0.487" stop-color="#00ff1d"/><stop offset="0.539" stop-color="#02ff00"/><stop offset="0.614" stop-color="#28ff00"/><stop offset="0.737" stop-color="#6f0"/><stop offset="0.864" stop-color="#fdff00"/><stop offset="1" stop-color="#ff9200"/></linearGradient><linearGradient id="gc1"><stop offset="0" stop-color="#0073ff"/><stop offset="0.092" stop-color="#00c5ff"/><stop offset="0.171" stop-color="#00fffd"/><stop offset="0.386" stop-color="#0f6"/><stop offset="0.491" stop-color="#00ff19"/><stop offset="0.539" stop-color="#04ff00"/><stop offset="0.614" stop-color="#2aff00"/><stop offset="0.741" stop-color="#6cff00"/><stop offset="0.864" stop-color="#fdff00"/><stop offset="1" stop-color="#ff9400"/></linearGradient><linearGradient id="gc2"><stop offset="0" stop-color="#0073ff"/><stop offset="0.096" stop-color="#00c9ff"/><stop offset="0.171" stop-color="#00fffc"/><stop offset="0.39" stop-color="#00ff61"/><stop offset="0.496" stop-color="#00ff14"/><stop offset="0.535" stop-color="#03ff00"/><stop offset="0.605" stop-color="#29ff00"/><stop offset="0.75" stop-color="#76ff00"/><stop offset="0.864" stop-color="#fdff00"/><stop offset="0.904" stop-color="#ffe400"/><stop offset="1" stop-color="#ff9700"/></linearGradient><linearGradient id="gc3"><stop offset="0" stop-color="#0074ff"/><stop offset="0.105" stop-color="#00d1ff"/><stop offset="0.167" stop-color="#0ff"/><stop offset="0.298" stop-color="#00ffa2"/><stop offset="0.504" stop-color="#00ff0d"/><stop offset="0.531" stop-color="#03ff00"/><stop offset="0.605" stop-color="#2cff00"/><stop offset="0.64" stop-color="#3fff00"/><stop offset="0.754" stop-color="#7bff00"/><stop offset="0.864" stop-color="#fdff00"/><stop offset="0.899" stop-color="#ffeb00"/><stop offset="1" stop-color="#f90"/></linearGradient><linearGradient id="gc4"><stop offset="0" stop-color="#0075ff"/><stop offset="0.118" stop-color="#00dbff"/><stop offset="0.167" stop-color="#00fffe"/><stop offset="0.294" stop-color="#00ffa4"/><stop offset="0.509" stop-color="#00ff08"/><stop offset="0.531" stop-color="#05ff00"/><stop offset="0.61" stop-color="#31ff00"/><stop offset="0.64" stop-color="#42ff00"/><stop offset="0.697" stop-color="#62ff00"/><stop offset="0.763" stop-color="#86ff00"/><stop offset="0.864" stop-color="#fdff00"/><stop offset="0.904" stop-color="#ffea00"/><stop offset="1" stop-color="#ff9c00"/></linearGradient><linearGradient id="gc5"><stop offset="0" stop-color="#0075ff"/><stop offset="0.132" stop-color="#00e6ff"/><stop offset="0.167" stop-color="#00fffd"/><stop offset="0.294" stop-color="#00ffa2"/><stop offset="0.513" stop-color="#00ff04"/><stop offset="0.553" stop-color="#14ff00"/><stop offset="0.61" stop-color="#35ff00"/><stop offset="0.64" stop-color="#45ff00"/><stop offset="0.675" stop-color="#5cff00"/><stop offset="0.772" stop-color="#90ff00"/><stop offset="0.864" stop-color="#fdff00"/><stop offset="0.912" stop-color="#ffe600"/><stop offset="1" stop-color="#ff9f00"/></linearGradient><linearGradient id="gc6"><stop offset="0" stop-color="#0076ff"/><stop offset="0.14" stop-color="#00edff"/><stop offset="0.167" stop-color="#00fffd"/><stop offset="0.294" stop-color="#00ffa1"/><stop offset="0.513" stop-color="#00ff02"/><stop offset="0.61" stop-color="#38ff00"/><stop offset="0.64" stop-color="#48ff00"/><stop offset="0.68" stop-color="#63ff00"/><stop offset="0.776" stop-color="#95ff00"/><stop offset="0.864" stop-color="#fdff00"/><stop offset="0.917" stop-color="#ffe500"/><stop offset="1" stop-color="#ffa200"/></linearGradient><linearGradient id="gc7"><stop offset="0" stop-color="#07f"/><stop offset="0.149" stop-color="#00f5ff"/><stop offset="0.167" stop-color="#00fffc"/><stop offset="0.298" stop-color="#00ff9d"/><stop offset="0.513" stop-color="#0f0"/><stop offset="0.614" stop-color="#3dff00"/><stop offset="0.645" stop-color="#4fff00"/><stop offset="0.684" stop-color="#6aff00"/><stop offset="0.785" stop-color="#a0ff00"/><stop offset="0.864" stop-color="#fdff00"/><stop offset="0.925" stop-color="#ffe000"/><stop offset="1" stop-color="#ffa400"/></linearGradient><linearGradient id="gc8"><stop offset="0" stop-color="#07f"/><stop offset="0.158" stop-color="#00fcff"/><stop offset="0.404" stop-color="#00ff4f"/><stop offset="0.513" stop-color="#02ff00"/><stop offset="0.614" stop-color="#40ff00"/><stop offset="0.645" stop-color="#52ff00"/><stop offset="0.689" stop-color="#71ff00"/><stop offset="0.794" stop-color="#af0"/><stop offset="0.864" stop-color="#fdff00"/><stop offset="0.93" stop-color="#ffe000"/><stop offset="1" stop-color="#ffa700"/></linearGradient><linearGradient id="gc9"><stop offset="0" stop-color="#0078ff"/><stop offset="0.061" stop-color="#00acff"/><stop offset="0.162" stop-color="#00fffe"/><stop offset="0.307" stop-color="#00ff94"/><stop offset="0.509" stop-color="#01ff00"/><stop offset="0.614" stop-color="#43ff00"/><stop offset="0.645" stop-color="#5f0"/><stop offset="0.693" stop-color="#78ff00"/><stop offset="0.798" stop-color="#afff00"/><stop offset="0.864" stop-color="#fdff00"/><stop offset="0.939" stop-color="#ffdb00"/><stop offset="1" stop-color="#fa0"/></linearGradient><linearGradient id="gc10"><stop offset="0" stop-color="#0079ff"/><stop offset="0.061" stop-color="#00acff"/><stop offset="0.158" stop-color="#00fdff"/><stop offset="0.325" stop-color="#00ff87"/><stop offset="0.504" stop-color="#00ff01"/><stop offset="0.618" stop-color="#48ff00"/><stop offset="0.649" stop-color="#5cff00"/><stop offset="0.697" stop-color="#7fff00"/><stop offset="0.807" stop-color="#baff00"/><stop offset="0.864" stop-color="#fdff00"/><stop offset="0.943" stop-color="#ffdb00"/><stop offset="1" stop-color="#ffac00"/></linearGradient><linearGradient id="gc11"><stop offset="0" stop-color="#0079ff"/><stop offset="0.066" stop-color="#00b1ff"/><stop offset="0.158" stop-color="#00feff"/><stop offset="0.325" stop-color="#00ff86"/><stop offset="0.504" stop-color="#0f0"/><stop offset="0.623" stop-color="#4dff00"/><stop offset="0.706" stop-color="#8f0"/><stop offset="0.816" stop-color="#c4ff00"/><stop offset="0.864" stop-color="#fdff00"/><stop offset="0.952" stop-color="#ffd600"/><stop offset="1" stop-color="#ffaf00"/></linearGradient><linearGradient id="gc12"><stop offset="0" stop-color="#007aff"/><stop offset="0.083" stop-color="#00c0ff"/><stop offset="0.158" stop-color="#0ff"/><stop offset="0.325" stop-color="#00ff84"/><stop offset="0.504" stop-color="#02ff00"/><stop offset="0.623" stop-color="#50ff00"/><stop offset="0.711" stop-color="#8fff00"/><stop offset="0.82" stop-color="#c9ff00"/><stop offset="0.864" stop-color="#fdff00"/><stop offset="0.961" stop-color="#ffd200"/><stop offset="1" stop-color="#ffb200"/></linearGradient><linearGradient id="gc13"><stop offset="0" stop-color="#007bff"/><stop offset="0.088" stop-color="#00c3ff"/><stop offset="0.158" stop-color="#0ff"/><stop offset="0.5" stop-color="#0f0"/><stop offset="0.623" stop-color="#53ff00"/><stop offset="0.715" stop-color="#96ff00"/><stop offset="0.829" stop-color="#d4ff00"/><stop offset="0.864" stop-color="#fdff00"/><stop offset="0.965" stop-color="#ffd100"/><stop offset="1" stop-color="#ffb500"/></linearGradient><linearGradient id="gc14"><stop offset="0" stop-color="#007bff"/><stop offset="0.092" stop-color="#00c7ff"/><stop offset="0.158" stop-color="#0ff"/><stop offset="0.496" stop-color="#00ff02"/><stop offset="0.627" stop-color="#58ff00"/><stop offset="0.719" stop-color="#9dff00"/><stop offset="0.833" stop-color="#d9ff00"/><stop offset="0.864" stop-color="#fdff00"/><stop offset="0.974" stop-color="#ffcd00"/><stop offset="1" stop-color="#ffb700"/></linearGradient><linearGradient id="gc15"><stop offset="0" stop-color="#007cff"/><stop offset="0.096" stop-color="#00cbff"/><stop offset="0.158" stop-color="#0ff"/><stop offset="0.496" stop-color="#0f0"/><stop offset="0.658" stop-color="#72ff00"/><stop offset="0.724" stop-color="#a4ff00"/><stop offset="0.842" stop-color="#e3ff00"/><stop offset="0.864" stop-color="#fdff00"/><stop offset="0.978" stop-color="#fc0"/><stop offset="1" stop-color="#ffba00"/></linearGradient><linearGradient id="gc16"><stop offset="0" stop-color="#007dff"/><stop offset="0.105" stop-color="#00d2ff"/><stop offset="0.158" stop-color="#0ff"/><stop offset="0.491" stop-color="#00ff02"/><stop offset="0.654" stop-color="#72ff00"/><stop offset="0.728" stop-color="#abff00"/><stop offset="0.851" stop-color="#ef0"/><stop offset="0.868" stop-color="#fffd00"/><stop offset="0.987" stop-color="#ffc800"/><stop offset="1" stop-color="#ffbd00"/></linearGradient><linearGradient id="gc17"><stop offset="0" stop-color="#007eff"/><stop offset="0.118" stop-color="#00deff"/><stop offset="0.158" stop-color="#0ff"/><stop offset="0.491" stop-color="#00ff01"/><stop offset="0.667" stop-color="#7fff00"/><stop offset="0.732" stop-color="#b2ff00"/><stop offset="0.855" stop-color="#f3ff00"/><stop offset="0.868" stop-color="#fffd00"/><stop offset="0.996" stop-color="#ffc300"/><stop offset="1" stop-color="#ffc000"/></linearGradient><linearGradient id="gc18"><stop offset="0" stop-color="#007eff"/><stop offset="0.123" stop-color="#00e1ff"/><stop offset="0.158" stop-color="#0ff"/><stop offset="0.386" stop-color="#00ff4e"/><stop offset="0.491" stop-color="#01ff00"/><stop offset="0.675" stop-color="#8aff00"/><stop offset="0.741" stop-color="#bcff00"/><stop offset="0.868" stop-color="#fffd00"/><stop offset="1" stop-color="#ffc200"/></linearGradient><linearGradient id="gc19"><stop offset="0" stop-color="#007fff"/><stop offset="0.123" stop-color="#00e2ff"/><stop offset="0.158" stop-color="#00fffe"/><stop offset="0.307" stop-color="#00ff89"/><stop offset="0.491" stop-color="#02ff00"/><stop offset="0.671" stop-color="#89ff00"/><stop offset="0.741" stop-color="#bfff00"/><stop offset="0.868" stop-color="#fffd00"/><stop offset="1" stop-color="#ffc500"/></linearGradient><linearGradient id="gc20"><stop offset="0" stop-color="#0080ff"/><stop offset="0.118" stop-color="#00dfff"/><stop offset="0.158" stop-color="#00fffd"/><stop offset="0.276" stop-color="#00ff9e"/><stop offset="0.487" stop-color="#01ff00"/><stop offset="0.667" stop-color="#8f0"/><stop offset="0.737" stop-color="#bfff00"/><stop offset="0.864" stop-color="#fffe00"/><stop offset="1" stop-color="#ffc500"/></linearGradient><linearGradient id="gc21"><stop offset="0" stop-color="#0080ff"/><stop offset="0.11" stop-color="#00d9ff"/><stop offset="0.158" stop-color="#00fffc"/><stop offset="0.272" stop-color="#00ff9f"/><stop offset="0.482" stop-color="#0f0"/><stop offset="0.658" stop-color="#83ff00"/><stop offset="0.737" stop-color="#c1ff00"/><stop offset="0.864" stop-color="#fffd00"/><stop offset="1" stop-color="#ffc600"/></linearGradient><linearGradient id="gc22"><stop offset="0" stop-color="#0081ff"/><stop offset="0.101" stop-color="#00d2ff"/><stop offset="0.154" stop-color="#0ff"/><stop offset="0.268" stop-color="#00ffa0"/><stop offset="0.482" stop-color="#02ff00"/><stop offset="0.654" stop-color="#82ff00"/><stop offset="0.737" stop-color="#c4ff00"/><stop offset="0.803" stop-color="#e2ff00"/><stop offset="0.864" stop-color="#fffc00"/><stop offset="0.934" stop-color="#ffe300"/><stop offset="1" stop-color="#ffc700"/></linearGradient><linearGradient id="gc23"><stop offset="0" stop-color="#0082ff"/><stop offset="0.096" stop-color="#00cfff"/><stop offset="0.154" stop-color="#00fffe"/><stop offset="0.272" stop-color="#00ff9b"/><stop offset="0.478" stop-color="#01ff00"/><stop offset="0.645" stop-color="#7dff00"/><stop offset="0.737" stop-color="#c6ff00"/><stop offset="0.794" stop-color="#deff00"/><stop offset="0.86" stop-color="#fffe00"/><stop offset="0.939" stop-color="#ffe200"/><stop offset="1" stop-color="#ffc700"/></linearGradient><linearGradient id="gc24"><stop offset="0" stop-color="#0082ff"/><stop offset="0.096" stop-color="#00d0ff"/><stop offset="0.154" stop-color="#00fffd"/><stop offset="0.276" stop-color="#00ff96"/><stop offset="0.474" stop-color="#0f0"/><stop offset="0.636" stop-color="#78ff00"/><stop offset="0.737" stop-color="#c9ff00"/><stop offset="0.794" stop-color="#dfff00"/><stop offset="0.86" stop-color="#fffd00"/><stop offset="0.939" stop-color="#ffe200"/><stop offset="1" stop-color="#ffc800"/></linearGradient><linearGradient id="gc25"><stop offset="0" stop-color="#0083ff"/><stop offset="0.096" stop-color="#00d1ff"/><stop offset="0.154" stop-color="#00fffc"/><stop offset="0.276" stop-color="#00ff94"/><stop offset="0.474" stop-color="#02ff00"/><stop offset="0.632" stop-color="#7f0"/><stop offset="0.737" stop-color="#cbff00"/><stop offset="0.798" stop-color="#e2ff00"/><stop offset="0.86" stop-color="#fffc00"/><stop offset="0.939" stop-color="#ffe300"/><stop offset="1" stop-color="#ffc900"/></linearGradient><linearGradient id="gc26"><stop offset="0" stop-color="#0084ff"/><stop offset="0.096" stop-color="#00d1ff"/><stop offset="0.149" stop-color="#0ff"/><stop offset="0.285" stop-color="#00ff8b"/><stop offset="0.469" stop-color="#01ff00"/><stop offset="0.614" stop-color="#6dff00"/><stop offset="0.737" stop-color="#ceff00"/><stop offset="0.803" stop-color="#e5ff00"/><stop offset="0.855" stop-color="#fffd00"/><stop offset="0.947" stop-color="#ffe000"/><stop offset="1" stop-color="#ffc900"/></linearGradient><linearGradient id="gc27"><stop offset="0" stop-color="#0084ff"/><stop offset="0.096" stop-color="#00d2ff"/><stop offset="0.149" stop-color="#00fffe"/><stop offset="0.289" stop-color="#00ff85"/><stop offset="0.465" stop-color="#0f0"/><stop offset="0.596" stop-color="#61ff00"/><stop offset="0.737" stop-color="#d0ff00"/><stop offset="0.811" stop-color="#ebff00"/><stop offset="0.855" stop-color="#fffd00"/><stop offset="0.952" stop-color="#ffdf00"/><stop offset="1" stop-color="#ffca00"/></linearGradient><linearGradient id="gc28"><stop offset="0" stop-color="#0085ff"/><stop offset="0.096" stop-color="#00d3ff"/><stop offset="0.149" stop-color="#00fffd"/><stop offset="0.298" stop-color="#00ff7d"/><stop offset="0.465" stop-color="#02ff00"/><stop offset="0.596" stop-color="#63ff00"/><stop offset="0.737" stop-color="#d2ff00"/><stop offset="0.816" stop-color="#ef0"/><stop offset="0.855" stop-color="#fffc00"/><stop offset="0.956" stop-color="#ffde00"/><stop offset="1" stop-color="#ffcb00"/></linearGradient><linearGradient id="gc29"><stop offset="0" stop-color="#0086ff"/><stop offset="0.096" stop-color="#00d3ff"/><stop offset="0.145" stop-color="#0ff"/><stop offset="0.303" stop-color="#0f7"/><stop offset="0.461" stop-color="#01ff00"/><stop offset="0.596" stop-color="#65ff00"/><stop offset="0.737" stop-color="#d5ff00"/><stop offset="0.825" stop-color="#f3ff00"/><stop offset="0.855" stop-color="#fffb00"/><stop offset="0.965" stop-color="#ffda00"/><stop offset="1" stop-color="#ffcb00"/></linearGradient><linearGradient id="gc30"><stop offset="0" stop-color="#0086ff"/><stop offset="0.096" stop-color="#00d4ff"/><stop offset="0.145" stop-color="#00fffe"/><stop offset="0.307" stop-color="#00ff72"/><stop offset="0.461" stop-color="#03ff00"/><stop offset="0.596" stop-color="#67ff00"/><stop offset="0.737" stop-color="#d7ff00"/><stop offset="0.829" stop-color="#f6ff00"/><stop offset="0.855" stop-color="#fffa00"/><stop offset="0.969" stop-color="#ffd900"/><stop offset="1" stop-color="#fc0"/></linearGradient><linearGradient id="gc31"><stop offset="0" stop-color="#0087ff"/><stop offset="0.096" stop-color="#00d5ff"/><stop offset="0.145" stop-color="#00fffe"/><stop offset="0.316" stop-color="#00ff69"/><stop offset="0.456" stop-color="#02ff00"/><stop offset="0.596" stop-color="#6aff00"/><stop offset="0.737" stop-color="#daff00"/><stop offset="0.838" stop-color="#fcff00"/><stop offset="0.904" stop-color="#ffeb00"/><stop offset="0.974" stop-color="#ffd800"/><stop offset="1" stop-color="#ffcd00"/></linearGradient><linearGradient id="gc32"><stop offset="0" stop-color="#08f"/><stop offset="0.096" stop-color="#00d5ff"/><stop offset="0.145" stop-color="#00fffd"/><stop offset="0.32" stop-color="#00ff64"/><stop offset="0.452" stop-color="#0f0"/><stop offset="0.596" stop-color="#6cff00"/><stop offset="0.737" stop-color="#dcff00"/><stop offset="0.846" stop-color="#fffd00"/><stop offset="0.886" stop-color="#fe0"/><stop offset="0.978" stop-color="#ffd700"/><stop offset="1" stop-color="#ffce00"/></linearGradient><linearGradient id="gc33"><stop offset="0" stop-color="#0089ff"/><stop offset="0.096" stop-color="#00d6ff"/><stop offset="0.145" stop-color="#00fffc"/><stop offset="0.329" stop-color="#00ff5b"/><stop offset="0.452" stop-color="#02ff00"/><stop offset="0.596" stop-color="#6eff00"/><stop offset="0.737" stop-color="#deff00"/><stop offset="0.846" stop-color="#fffc00"/><stop offset="0.886" stop-color="#ffed00"/><stop offset="0.987" stop-color="#ffd400"/><stop offset="1" stop-color="#ffce00"/></linearGradient><linearGradient id="gc34"><stop offset="0" stop-color="#0089ff"/><stop offset="0.096" stop-color="#00d7ff"/><stop offset="0.14" stop-color="#00feff"/><stop offset="0.333" stop-color="#00ff56"/><stop offset="0.447" stop-color="#01ff00"/><stop offset="0.596" stop-color="#70ff00"/><stop offset="0.737" stop-color="#e1ff00"/><stop offset="0.842" stop-color="#fffd00"/><stop offset="0.886" stop-color="#ffed00"/><stop offset="0.991" stop-color="#ffd300"/><stop offset="1" stop-color="#ffcf00"/></linearGradient><linearGradient id="gc35"><stop offset="0" stop-color="#008aff"/><stop offset="0.096" stop-color="#00d8ff"/><stop offset="0.14" stop-color="#0ff"/><stop offset="0.342" stop-color="#00ff4d"/><stop offset="0.447" stop-color="#03ff00"/><stop offset="0.596" stop-color="#72ff00"/><stop offset="0.737" stop-color="#e3ff00"/><stop offset="0.838" stop-color="#fffc00"/><stop offset="0.899" stop-color="#ffe900"/><stop offset="1" stop-color="#ffd000"/></linearGradient><linearGradient id="gc36"><stop offset="0" stop-color="#008bff"/><stop offset="0.096" stop-color="#00d8ff"/><stop offset="0.14" stop-color="#00fffe"/><stop offset="0.346" stop-color="#00ff48"/><stop offset="0.443" stop-color="#02ff00"/><stop offset="0.596" stop-color="#74ff00"/><stop offset="0.737" stop-color="#e6ff00"/><stop offset="0.829" stop-color="#fffc00"/><stop offset="0.925" stop-color="#ffe200"/><stop offset="1" stop-color="#ffd000"/></linearGradient><linearGradient id="gc37"><stop offset="0" stop-color="#008bff"/><stop offset="0.096" stop-color="#00d9ff"/><stop offset="0.14" stop-color="#00fffe"/><stop offset="0.355" stop-color="#00ff3f"/><stop offset="0.439" stop-color="#01ff00"/><stop offset="0.596" stop-color="#76ff00"/><stop offset="0.737" stop-color="#e8ff00"/><stop offset="0.82" stop-color="#fffd00"/><stop offset="0.987" stop-color="#ffd400"/><stop offset="1" stop-color="#ffd100"/></linearGradient><linearGradient id="gc38"><stop offset="0" stop-color="#008eff"/><stop offset="0.083" stop-color="#00d1ff"/><stop offset="0.136" stop-color="#00fffd"/><stop offset="0.351" stop-color="#00ff3d"/><stop offset="0.434" stop-color="#02ff00"/><stop offset="0.57" stop-color="#67ff00"/><stop offset="0.737" stop-color="#ecff00"/><stop offset="0.811" stop-color="#fffc00"/><stop offset="0.956" stop-color="#ffd700"/><stop offset="1" stop-color="#ffcd00"/></linearGradient><linearGradient id="gc39"><stop offset="0" stop-color="#0090ff"/><stop offset="0.075" stop-color="#00cdff"/><stop offset="0.127" stop-color="#00feff"/><stop offset="0.351" stop-color="#00ff38"/><stop offset="0.425" stop-color="#0f0"/><stop offset="0.474" stop-color="#28ff00"/><stop offset="0.605" stop-color="#8bff00"/><stop offset="0.636" stop-color="#a3ff00"/><stop offset="0.697" stop-color="#d2ff00"/><stop offset="0.737" stop-color="#f0ff00"/><stop offset="0.798" stop-color="#fffc00"/><stop offset="0.947" stop-color="#ffd400"/><stop offset="1" stop-color="#ffc900"/></linearGradient><linearGradient id="gc40"><stop offset="0" stop-color="#0093ff"/><stop offset="0.075" stop-color="#00d1ff"/><stop offset="0.123" stop-color="#0ff"/><stop offset="0.346" stop-color="#00ff36"/><stop offset="0.421" stop-color="#02ff00"/><stop offset="0.474" stop-color="#2eff00"/><stop offset="0.496" stop-color="#42ff00"/><stop offset="0.605" stop-color="#92ff00"/><stop offset="0.636" stop-color="#af0"/><stop offset="0.658" stop-color="#b6ff00"/><stop offset="0.737" stop-color="#f4ff00"/><stop offset="0.785" stop-color="#fffc00"/><stop offset="0.943" stop-color="#ffd100"/><stop offset="1" stop-color="#ffc400"/></linearGradient><linearGradient id="gc41"><stop offset="0" stop-color="#0096ff"/><stop offset="0.075" stop-color="#00d4ff"/><stop offset="0.114" stop-color="#00fdff"/><stop offset="0.346" stop-color="#00ff31"/><stop offset="0.412" stop-color="#01ff00"/><stop offset="0.474" stop-color="#3f0"/><stop offset="0.5" stop-color="#4eff00"/><stop offset="0.605" stop-color="#9aff00"/><stop offset="0.636" stop-color="#b2ff00"/><stop offset="0.658" stop-color="#baff00"/><stop offset="0.737" stop-color="#f8ff00"/><stop offset="0.781" stop-color="#fff900"/><stop offset="0.947" stop-color="#ffcb00"/><stop offset="1" stop-color="#ffc000"/></linearGradient><linearGradient id="gc42"><stop offset="0" stop-color="#09f"/><stop offset="0.075" stop-color="#00d8ff"/><stop offset="0.11" stop-color="#00feff"/><stop offset="0.346" stop-color="#00ff2b"/><stop offset="0.408" stop-color="#02ff00"/><stop offset="0.474" stop-color="#38ff00"/><stop offset="0.5" stop-color="#56ff00"/><stop offset="0.61" stop-color="#a5ff00"/><stop offset="0.636" stop-color="#b9ff00"/><stop offset="0.662" stop-color="#c1ff00"/><stop offset="0.737" stop-color="#fcff00"/><stop offset="0.974" stop-color="#ffc100"/><stop offset="1" stop-color="#fb0"/></linearGradient><linearGradient id="gc43"><stop offset="0" stop-color="#009bff"/><stop offset="0.075" stop-color="#00dbff"/><stop offset="0.105" stop-color="#00feff"/><stop offset="0.346" stop-color="#00ff26"/><stop offset="0.399" stop-color="#01ff00"/><stop offset="0.469" stop-color="#38ff00"/><stop offset="0.504" stop-color="#61ff00"/><stop offset="0.61" stop-color="#acff00"/><stop offset="0.636" stop-color="#c0ff00"/><stop offset="0.671" stop-color="#cdff00"/><stop offset="0.737" stop-color="#fffe00"/><stop offset="0.956" stop-color="#ffc100"/><stop offset="1" stop-color="#ffb700"/></linearGradient><linearGradient id="gc44"><stop offset="0" stop-color="#009eff"/><stop offset="0.075" stop-color="#00dfff"/><stop offset="0.105" stop-color="#00fffc"/><stop offset="0.342" stop-color="#00ff23"/><stop offset="0.395" stop-color="#03ff00"/><stop offset="0.469" stop-color="#3dff00"/><stop offset="0.513" stop-color="#70ff00"/><stop offset="0.614" stop-color="#b7ff00"/><stop offset="0.636" stop-color="#c7ff00"/><stop offset="0.675" stop-color="#d4ff00"/><stop offset="0.728" stop-color="#ff0"/><stop offset="0.947" stop-color="#ffbe00"/><stop offset="1" stop-color="#ffb200"/></linearGradient><linearGradient id="gc45"><stop offset="0" stop-color="#00a1ff"/><stop offset="0.079" stop-color="#00e7ff"/><stop offset="0.101" stop-color="#00fffe"/><stop offset="0.154" stop-color="#00ffc9"/><stop offset="0.346" stop-color="#00ff1b"/><stop offset="0.386" stop-color="#01ff00"/><stop offset="0.469" stop-color="#42ff00"/><stop offset="0.518" stop-color="#7bff00"/><stop offset="0.614" stop-color="#beff00"/><stop offset="0.636" stop-color="#ceff00"/><stop offset="0.68" stop-color="#dcff00"/><stop offset="0.724" stop-color="#fffe00"/><stop offset="0.75" stop-color="#fff200"/><stop offset="0.974" stop-color="#ffb400"/><stop offset="1" stop-color="#ffae00"/></linearGradient><linearGradient id="gc46"><stop offset="0" stop-color="#00a4ff"/><stop offset="0.079" stop-color="#00eaff"/><stop offset="0.096" stop-color="#00feff"/><stop offset="0.154" stop-color="#00ffc4"/><stop offset="0.346" stop-color="#00ff15"/><stop offset="0.382" stop-color="#04ff00"/><stop offset="0.469" stop-color="#47ff00"/><stop offset="0.522" stop-color="#86ff00"/><stop offset="0.618" stop-color="#c9ff00"/><stop offset="0.636" stop-color="#d6ff00"/><stop offset="0.684" stop-color="#e4ff00"/><stop offset="0.719" stop-color="#fffe00"/><stop offset="0.741" stop-color="#fff000"/><stop offset="0.982" stop-color="#ffad00"/><stop offset="1" stop-color="#fa0"/></linearGradient><linearGradient id="gc47"><stop offset="0" stop-color="#00a6ff"/><stop offset="0.061" stop-color="#00dcff"/><stop offset="0.096" stop-color="#00fffc"/><stop offset="0.154" stop-color="#00ffbf"/><stop offset="0.346" stop-color="#00ff10"/><stop offset="0.373" stop-color="#03ff00"/><stop offset="0.469" stop-color="#4cff00"/><stop offset="0.526" stop-color="#92ff00"/><stop offset="0.601" stop-color="#c2ff00"/><stop offset="0.636" stop-color="#df0"/><stop offset="0.689" stop-color="#ebff00"/><stop offset="0.715" stop-color="#fffd00"/><stop offset="0.741" stop-color="#ffec00"/><stop offset="0.987" stop-color="#ffa800"/><stop offset="1" stop-color="#ffa500"/></linearGradient><linearGradient id="gc48"><stop offset="0" stop-color="#00a9ff"/><stop offset="0.079" stop-color="#00f1ff"/><stop offset="0.092" stop-color="#00fffe"/><stop offset="0.158" stop-color="#00ffb6"/><stop offset="0.346" stop-color="#00ff0a"/><stop offset="0.364" stop-color="#02ff00"/><stop offset="0.469" stop-color="#51ff00"/><stop offset="0.535" stop-color="#a0ff00"/><stop offset="0.623" stop-color="#dbff00"/><stop offset="0.64" stop-color="#e5ff00"/><stop offset="0.697" stop-color="#f7ff00"/><stop offset="0.715" stop-color="#fff900"/><stop offset="0.741" stop-color="#ffe800"/><stop offset="0.996" stop-color="#ffa200"/><stop offset="1" stop-color="#ffa100"/></linearGradient><linearGradient id="gc49"><stop offset="0" stop-color="#00acff"/><stop offset="0.079" stop-color="#00f5ff"/><stop offset="0.088" stop-color="#0ff"/><stop offset="0.167" stop-color="#00ffa9"/><stop offset="0.342" stop-color="#00ff08"/><stop offset="0.36" stop-color="#05ff00"/><stop offset="0.469" stop-color="#56ff00"/><stop offset="0.539" stop-color="#acff00"/><stop offset="0.623" stop-color="#e2ff00"/><stop offset="0.64" stop-color="#ecff00"/><stop offset="0.706" stop-color="#fffc00"/><stop offset="0.737" stop-color="#ffe500"/><stop offset="1" stop-color="#ff9c00"/></linearGradient><linearGradient id="gc50"><stop offset="0" stop-color="#00afff"/><stop offset="0.079" stop-color="#00f8ff"/><stop offset="0.092" stop-color="#00fff7"/><stop offset="0.175" stop-color="#00ff9c"/><stop offset="0.342" stop-color="#00ff02"/><stop offset="0.469" stop-color="#5cff00"/><stop offset="0.544" stop-color="#b7ff00"/><stop offset="0.627" stop-color="#edff00"/><stop offset="0.697" stop-color="#fffc00"/><stop offset="0.741" stop-color="#ffe000"/><stop offset="1" stop-color="#ff9800"/></linearGradient><linearGradient id="gc51"><stop offset="0" stop-color="#00b1ff"/><stop offset="0.083" stop-color="#00fffd"/><stop offset="0.18" stop-color="#00ff92"/><stop offset="0.338" stop-color="#0f0"/><stop offset="0.469" stop-color="#61ff00"/><stop offset="0.553" stop-color="#c6ff00"/><stop offset="0.64" stop-color="#fbff00"/><stop offset="0.702" stop-color="#fff400"/><stop offset="0.741" stop-color="#ffdb00"/><stop offset="1" stop-color="#ff9300"/></linearGradient><linearGradient id="gc52"><stop offset="0" stop-color="#00b4ff"/><stop offset="0.079" stop-color="#0ff"/><stop offset="0.189" stop-color="#00ff85"/><stop offset="0.333" stop-color="#02ff00"/><stop offset="0.469" stop-color="#6f0"/><stop offset="0.557" stop-color="#d1ff00"/><stop offset="0.636" stop-color="#fffd00"/><stop offset="0.719" stop-color="#ffe500"/><stop offset="0.741" stop-color="#ffd700"/><stop offset="1" stop-color="#ff8f00"/></linearGradient><linearGradient id="gc53"><stop offset="0" stop-color="#00b7ff"/><stop offset="0.075" stop-color="#00fdff"/><stop offset="0.193" stop-color="#00ff7c"/><stop offset="0.325" stop-color="#0f0"/><stop offset="0.469" stop-color="#6bff00"/><stop offset="0.561" stop-color="#dcff00"/><stop offset="0.623" stop-color="#fffe00"/><stop offset="0.645" stop-color="#fff400"/><stop offset="0.724" stop-color="#fd0"/><stop offset="0.75" stop-color="#ffd100"/><stop offset="1" stop-color="#ff8a00"/></linearGradient><linearGradient id="gc54"><stop offset="0" stop-color="#00baff"/><stop offset="0.075" stop-color="#00fffd"/><stop offset="0.202" stop-color="#00ff6f"/><stop offset="0.32" stop-color="#01ff00"/><stop offset="0.469" stop-color="#70ff00"/><stop offset="0.57" stop-color="#ebff00"/><stop offset="0.61" stop-color="#fffd00"/><stop offset="0.645" stop-color="#ffec00"/><stop offset="0.728" stop-color="#ffd600"/><stop offset="1" stop-color="#ff8600"/></linearGradient><linearGradient id="gc55"><stop offset="0" stop-color="#00bcff"/><stop offset="0.07" stop-color="#0ff"/><stop offset="0.211" stop-color="#00ff62"/><stop offset="0.316" stop-color="#02ff00"/><stop offset="0.386" stop-color="#38ff00"/><stop offset="0.469" stop-color="#75ff00"/><stop offset="0.575" stop-color="#f6ff00"/><stop offset="0.596" stop-color="#fffc00"/><stop offset="0.645" stop-color="#ffe500"/><stop offset="1" stop-color="#ff8100"/></linearGradient><linearGradient id="gc56"><stop offset="0" stop-color="#00bfff"/><stop offset="0.066" stop-color="#00feff"/><stop offset="0.211" stop-color="#00ff5d"/><stop offset="0.311" stop-color="#02ff00"/><stop offset="0.364" stop-color="#2eff00"/><stop offset="0.474" stop-color="#7eff00"/><stop offset="0.575" stop-color="#fcff00"/><stop offset="0.649" stop-color="#ffdf00"/><stop offset="1" stop-color="#ff7d00"/></linearGradient><linearGradient id="gc57"><stop offset="0" stop-color="#00c2ff"/><stop offset="0.061" stop-color="#00feff"/><stop offset="0.206" stop-color="#00ff5e"/><stop offset="0.307" stop-color="#01ff00"/><stop offset="0.364" stop-color="#31ff00"/><stop offset="0.478" stop-color="#85ff00"/><stop offset="0.575" stop-color="#fdff00"/><stop offset="0.649" stop-color="#ffdb00"/><stop offset="1" stop-color="#f70"/></linearGradient><linearGradient id="gc58"><stop offset="0" stop-color="#00c5ff"/><stop offset="0.057" stop-color="#00feff"/><stop offset="0.206" stop-color="#00ff59"/><stop offset="0.303" stop-color="#0f0"/><stop offset="0.373" stop-color="#3bff00"/><stop offset="0.482" stop-color="#8bff00"/><stop offset="0.575" stop-color="#feff00"/><stop offset="0.649" stop-color="#ffd800"/><stop offset="0.746" stop-color="#ffbd00"/><stop offset="1" stop-color="#ff7200"/></linearGradient><linearGradient id="gc59"><stop offset="0" stop-color="#00c7ff"/><stop offset="0.035" stop-color="#00edff"/><stop offset="0.057" stop-color="#00fffc"/><stop offset="0.206" stop-color="#00ff54"/><stop offset="0.25" stop-color="#00ff30"/><stop offset="0.303" stop-color="#02ff00"/><stop offset="0.377" stop-color="#42ff00"/><stop offset="0.491" stop-color="#97ff00"/><stop offset="0.575" stop-color="#ff0"/><stop offset="0.623" stop-color="#ffe100"/><stop offset="0.693" stop-color="#ffca00"/><stop offset="0.746" stop-color="#ffba00"/><stop offset="1" stop-color="#ff6d00"/></linearGradient><linearGradient id="gc60"><stop offset="0" stop-color="#00caff"/><stop offset="0.031" stop-color="#00edff"/><stop offset="0.053" stop-color="#00fffc"/><stop offset="0.206" stop-color="#00ff4f"/><stop offset="0.25" stop-color="#00ff2d"/><stop offset="0.298" stop-color="#01ff00"/><stop offset="0.382" stop-color="#49ff00"/><stop offset="0.496" stop-color="#9eff00"/><stop offset="0.575" stop-color="#fffe00"/><stop offset="0.601" stop-color="#ffea00"/><stop offset="0.662" stop-color="#ffcf00"/><stop offset="0.746" stop-color="#ffb700"/><stop offset="0.807" stop-color="#ffa100"/><stop offset="1" stop-color="#ff6800"/></linearGradient><linearGradient id="gc61"><stop offset="0" stop-color="#00cdff"/><stop offset="0.035" stop-color="#00f6ff"/><stop offset="0.048" stop-color="#00fffc"/><stop offset="0.092" stop-color="#00ffcb"/><stop offset="0.206" stop-color="#00ff4a"/><stop offset="0.254" stop-color="#00ff26"/><stop offset="0.294" stop-color="#00ff01"/><stop offset="0.39" stop-color="#53ff00"/><stop offset="0.5" stop-color="#a4ff00"/><stop offset="0.575" stop-color="#fffd00"/><stop offset="0.605" stop-color="#ffe600"/><stop offset="0.667" stop-color="#ffcb00"/><stop offset="0.746" stop-color="#ffb400"/><stop offset="0.794" stop-color="#ffa000"/><stop offset="1" stop-color="#ff6300"/></linearGradient><linearGradient id="gc62"><stop offset="0" stop-color="#00d0ff"/><stop offset="0.035" stop-color="#00faff"/><stop offset="0.053" stop-color="#00fff4"/><stop offset="0.206" stop-color="#00ff46"/><stop offset="0.259" stop-color="#00ff1f"/><stop offset="0.294" stop-color="#02ff00"/><stop offset="0.39" stop-color="#57ff00"/><stop offset="0.504" stop-color="#abff00"/><stop offset="0.57" stop-color="#fdff00"/><stop offset="0.605" stop-color="#ffe300"/><stop offset="0.671" stop-color="#ffc700"/><stop offset="0.746" stop-color="#ffb100"/><stop offset="0.798" stop-color="#f90"/><stop offset="1" stop-color="#ff5e00"/></linearGradient><linearGradient id="gc63"><stop offset="0" stop-color="#00d2ff"/><stop offset="0.035" stop-color="#00feff"/><stop offset="0.079" stop-color="#00ffd3"/><stop offset="0.202" stop-color="#0f4"/><stop offset="0.268" stop-color="#00ff14"/><stop offset="0.289" stop-color="#01ff00"/><stop offset="0.395" stop-color="#5eff00"/><stop offset="0.513" stop-color="#b7ff00"/><stop offset="0.57" stop-color="#feff00"/><stop offset="0.605" stop-color="#ffe100"/><stop offset="0.675" stop-color="#ffc200"/><stop offset="0.746" stop-color="#ffad00"/><stop offset="0.803" stop-color="#ff9300"/><stop offset="1" stop-color="#ff5900"/></linearGradient><linearGradient id="gc64"><stop offset="0" stop-color="#00d5ff"/><stop offset="0.031" stop-color="#00feff"/><stop offset="0.079" stop-color="#00ffcf"/><stop offset="0.197" stop-color="#00ff43"/><stop offset="0.272" stop-color="#00ff0d"/><stop offset="0.289" stop-color="#04ff00"/><stop offset="0.399" stop-color="#65ff00"/><stop offset="0.518" stop-color="#bdff00"/><stop offset="0.57" stop-color="#ff0"/><stop offset="0.605" stop-color="#ffde00"/><stop offset="0.68" stop-color="#ffbe00"/><stop offset="0.746" stop-color="#fa0"/><stop offset="0.807" stop-color="#ff8d00"/><stop offset="1" stop-color="#ff5300"/></linearGradient><linearGradient id="gc65"><stop offset="0" stop-color="#00d8ff"/><stop offset="0.031" stop-color="#00fffd"/><stop offset="0.083" stop-color="#00ffc5"/><stop offset="0.197" stop-color="#00ff3e"/><stop offset="0.285" stop-color="#02ff00"/><stop offset="0.404" stop-color="#6cff00"/><stop offset="0.522" stop-color="#c4ff00"/><stop offset="0.57" stop-color="#fffe00"/><stop offset="0.61" stop-color="#ffda00"/><stop offset="0.693" stop-color="#ffb800"/><stop offset="0.746" stop-color="#ffa700"/><stop offset="0.816" stop-color="#ff8600"/><stop offset="1" stop-color="#ff4e00"/></linearGradient><linearGradient id="gc66"><stop offset="0" stop-color="#00dbff"/><stop offset="0.026" stop-color="#00feff"/><stop offset="0.088" stop-color="#00ffbc"/><stop offset="0.197" stop-color="#00ff3a"/><stop offset="0.281" stop-color="#01ff00"/><stop offset="0.408" stop-color="#73ff00"/><stop offset="0.531" stop-color="#d0ff00"/><stop offset="0.57" stop-color="#fffd00"/><stop offset="0.614" stop-color="#ffd500"/><stop offset="0.711" stop-color="#ffb000"/><stop offset="0.754" stop-color="#ffa000"/><stop offset="0.825" stop-color="#ff7f00"/><stop offset="1" stop-color="#ff4900"/></linearGradient><linearGradient id="gc67"><stop offset="0" stop-color="#0df"/><stop offset="0.026" stop-color="#00fffe"/><stop offset="0.061" stop-color="#00ffd7"/><stop offset="0.197" stop-color="#00ff35"/><stop offset="0.276" stop-color="#01ff00"/><stop offset="0.425" stop-color="#83ff00"/><stop offset="0.535" stop-color="#d6ff00"/><stop offset="0.57" stop-color="#fffc00"/><stop offset="0.614" stop-color="#ffd200"/><stop offset="0.715" stop-color="#ffac00"/><stop offset="0.763" stop-color="#ff9800"/><stop offset="0.829" stop-color="#ff7900"/><stop offset="1" stop-color="#f40"/></linearGradient><linearGradient id="gc68"><stop offset="0" stop-color="#00e0ff"/><stop offset="0.022" stop-color="#00fdff"/><stop offset="0.061" stop-color="#00ffd2"/><stop offset="0.202" stop-color="#00ff2c"/><stop offset="0.272" stop-color="#03ff00"/><stop offset="0.316" stop-color="#28ff00"/><stop offset="0.443" stop-color="#93ff00"/><stop offset="0.544" stop-color="#e2ff00"/><stop offset="0.566" stop-color="#feff00"/><stop offset="0.618" stop-color="#ffce00"/><stop offset="0.724" stop-color="#ffa700"/><stop offset="0.838" stop-color="#ff7100"/><stop offset="1" stop-color="#ff3f00"/></linearGradient><linearGradient id="gc69"><stop offset="0" stop-color="#00e3ff"/><stop offset="0.022" stop-color="#00fffe"/><stop offset="0.057" stop-color="#00ffd3"/><stop offset="0.202" stop-color="#00ff27"/><stop offset="0.263" stop-color="#02ff00"/><stop offset="0.311" stop-color="#26ff00"/><stop offset="0.452" stop-color="#9dff00"/><stop offset="0.548" stop-color="#e9ff00"/><stop offset="0.566" stop-color="#ff0"/><stop offset="0.623" stop-color="#ffc900"/><stop offset="0.754" stop-color="#ff9600"/><stop offset="0.842" stop-color="#ff6b00"/><stop offset="1" stop-color="#ff3a00"/></linearGradient><linearGradient id="gc70"><stop offset="0" stop-color="#00e6ff"/><stop offset="0.018" stop-color="#00fdff"/><stop offset="0.061" stop-color="#00ffca"/><stop offset="0.202" stop-color="#0f2"/><stop offset="0.254" stop-color="#01ff00"/><stop offset="0.316" stop-color="#2dff00"/><stop offset="0.456" stop-color="#a4ff00"/><stop offset="0.553" stop-color="#efff00"/><stop offset="0.566" stop-color="#fffe00"/><stop offset="0.623" stop-color="#ffc600"/><stop offset="0.754" stop-color="#ff9300"/><stop offset="0.851" stop-color="#ff6400"/><stop offset="1" stop-color="#ff3500"/></linearGradient><linearGradient id="gc71"><stop offset="0" stop-color="#00e8ff"/><stop offset="0.018" stop-color="#00fffe"/><stop offset="0.066" stop-color="#00ffc2"/><stop offset="0.202" stop-color="#00ff1d"/><stop offset="0.25" stop-color="#03ff00"/><stop offset="0.32" stop-color="#34ff00"/><stop offset="0.469" stop-color="#b1ff00"/><stop offset="0.566" stop-color="#fffd00"/><stop offset="0.627" stop-color="#ffc200"/><stop offset="0.754" stop-color="#ff9000"/><stop offset="0.86" stop-color="#ff5d00"/><stop offset="1" stop-color="#ff2f00"/></linearGradient><linearGradient id="gc72"><stop offset="0" stop-color="#00ebff"/><stop offset="0.018" stop-color="#00fffc"/><stop offset="0.114" stop-color="#00ff82"/><stop offset="0.202" stop-color="#00ff19"/><stop offset="0.241" stop-color="#02ff00"/><stop offset="0.329" stop-color="#3fff00"/><stop offset="0.482" stop-color="#bfff00"/><stop offset="0.566" stop-color="#fffc00"/><stop offset="0.632" stop-color="#ffbd00"/><stop offset="0.754" stop-color="#ff8d00"/><stop offset="0.864" stop-color="#ff5700"/><stop offset="1" stop-color="#ff2a00"/></linearGradient><linearGradient id="gc73"><stop offset="0" stop-color="#0ef"/><stop offset="0.013" stop-color="#0ff"/><stop offset="0.123" stop-color="#00ff74"/><stop offset="0.202" stop-color="#00ff14"/><stop offset="0.237" stop-color="#04ff00"/><stop offset="0.338" stop-color="#4aff00"/><stop offset="0.504" stop-color="#d4ff00"/><stop offset="0.561" stop-color="#fffe00"/><stop offset="0.632" stop-color="#ffba00"/><stop offset="0.754" stop-color="#ff8a00"/><stop offset="0.873" stop-color="#ff4f00"/><stop offset="1" stop-color="#ff2500"/></linearGradient><linearGradient id="gc74"><stop offset="0" stop-color="#00f1ff"/><stop offset="0.013" stop-color="#00fffc"/><stop offset="0.145" stop-color="#00ff54"/><stop offset="0.202" stop-color="#00ff0f"/><stop offset="0.228" stop-color="#03ff00"/><stop offset="0.351" stop-color="#58ff00"/><stop offset="0.518" stop-color="#e2ff00"/><stop offset="0.557" stop-color="#fffe00"/><stop offset="0.636" stop-color="#ffb600"/><stop offset="0.759" stop-color="#ff8500"/><stop offset="0.882" stop-color="#ff4700"/><stop offset="1" stop-color="#ff2000"/></linearGradient><linearGradient id="gc75"><stop offset="0" stop-color="#00f1ff"/><stop offset="0.013" stop-color="#00fffc"/><stop offset="0.14" stop-color="#00ff59"/><stop offset="0.206" stop-color="#00ff0b"/><stop offset="0.228" stop-color="#04ff00"/><stop offset="0.355" stop-color="#5bff00"/><stop offset="0.522" stop-color="#e5ff00"/><stop offset="0.557" stop-color="#fffe00"/><stop offset="0.618" stop-color="#ffc700"/><stop offset="0.636" stop-color="#ffb900"/><stop offset="0.759" stop-color="#ff8c00"/><stop offset="0.868" stop-color="#ff5300"/><stop offset="1" stop-color="#ff2900"/></linearGradient><linearGradient id="gc76"><stop offset="0" stop-color="#00f1ff"/><stop offset="0.013" stop-color="#00fffc"/><stop offset="0.14" stop-color="#00ff58"/><stop offset="0.206" stop-color="#00ff0a"/><stop offset="0.224" stop-color="#02ff00"/><stop offset="0.364" stop-color="#62ff00"/><stop offset="0.531" stop-color="#ecff00"/><stop offset="0.557" stop-color="#fffe00"/><stop offset="0.605" stop-color="#ffd500"/><stop offset="0.632" stop-color="#fb0"/><stop offset="0.741" stop-color="#f90"/><stop offset="0.798" stop-color="#ff7f00"/><stop offset="0.868" stop-color="#ff5b00"/><stop offset="0.904" stop-color="#ff5400"/><stop offset="1" stop-color="#ff3400"/></linearGradient><linearGradient id="gc77"><stop offset="0" stop-color="#00f1ff"/><stop offset="0.013" stop-color="#00fffc"/><stop offset="0.14" stop-color="#00ff58"/><stop offset="0.206" stop-color="#00ff09"/><stop offset="0.224" stop-color="#03ff00"/><stop offset="0.368" stop-color="#65ff00"/><stop offset="0.539" stop-color="#f2ff00"/><stop offset="0.561" stop-color="#fffb00"/><stop offset="0.601" stop-color="#ffdb00"/><stop offset="0.632" stop-color="#ffbd00"/><stop offset="0.675" stop-color="#ffb200"/><stop offset="0.741" stop-color="#ff9c00"/><stop offset="0.763" stop-color="#ff9800"/><stop offset="0.868" stop-color="#ff6200"/><stop offset="0.904" stop-color="#ff5e00"/><stop offset="1" stop-color="#ff3e00"/></linearGradient><linearGradient id="gc78"><stop offset="0" stop-color="#00f1ff"/><stop offset="0.013" stop-color="#00fffc"/><stop offset="0.145" stop-color="#00ff51"/><stop offset="0.206" stop-color="#00ff09"/><stop offset="0.224" stop-color="#04ff00"/><stop offset="0.377" stop-color="#6cff00"/><stop offset="0.548" stop-color="#f9ff00"/><stop offset="0.561" stop-color="#fffb00"/><stop offset="0.601" stop-color="#fd0"/><stop offset="0.632" stop-color="#ffbf00"/><stop offset="0.671" stop-color="#ffb700"/><stop offset="0.741" stop-color="#ffa000"/><stop offset="0.768" stop-color="#ff9e00"/><stop offset="0.868" stop-color="#ff6a00"/><stop offset="0.904" stop-color="#ff6800"/><stop offset="1" stop-color="#ff4800"/></linearGradient><linearGradient id="gc79"><stop offset="0" stop-color="#00f1ff"/><stop offset="0.013" stop-color="#00fffc"/><stop offset="0.149" stop-color="#00ff4b"/><stop offset="0.206" stop-color="#00ff08"/><stop offset="0.224" stop-color="#04ff00"/><stop offset="0.386" stop-color="#72ff00"/><stop offset="0.553" stop-color="#fcff00"/><stop offset="0.588" stop-color="#ffeb00"/><stop offset="0.632" stop-color="#ffc100"/><stop offset="0.675" stop-color="#ffb800"/><stop offset="0.741" stop-color="#ffa300"/><stop offset="0.772" stop-color="#ffa300"/><stop offset="0.868" stop-color="#ff7200"/><stop offset="0.912" stop-color="#ff7000"/><stop offset="1" stop-color="#ff5300"/></linearGradient><linearGradient id="gc80"><stop offset="0" stop-color="#00f1ff"/><stop offset="0.013" stop-color="#00fffc"/><stop offset="0.154" stop-color="#00ff45"/><stop offset="0.206" stop-color="#00ff07"/><stop offset="0.224" stop-color="#05ff00"/><stop offset="0.39" stop-color="#76ff00"/><stop offset="0.557" stop-color="#ff0"/><stop offset="0.601" stop-color="#ffe000"/><stop offset="0.632" stop-color="#ffc200"/><stop offset="0.68" stop-color="#ffba00"/><stop offset="0.741" stop-color="#ffa700"/><stop offset="0.781" stop-color="#ffa600"/><stop offset="0.868" stop-color="#ff7900"/><stop offset="0.917" stop-color="#ff7900"/><stop offset="1" stop-color="#ff5d00"/></linearGradient><linearGradient id="gc81"><stop offset="0" stop-color="#00f1ff"/><stop offset="0.013" stop-color="#00fffc"/><stop offset="0.162" stop-color="#00ff3a"/><stop offset="0.206" stop-color="#00ff07"/><stop offset="0.224" stop-color="#06ff00"/><stop offset="0.399" stop-color="#7cff00"/><stop offset="0.557" stop-color="#feff00"/><stop offset="0.605" stop-color="#ffde00"/><stop offset="0.632" stop-color="#ffc400"/><stop offset="0.684" stop-color="#ffbc00"/><stop offset="0.741" stop-color="#fa0"/><stop offset="0.789" stop-color="#ffa900"/><stop offset="0.868" stop-color="#ff8100"/><stop offset="0.925" stop-color="#ff8000"/><stop offset="1" stop-color="#ff6700"/></linearGradient><linearGradient id="gc82"><stop offset="0" stop-color="#00f1ff"/><stop offset="0.013" stop-color="#00fffc"/><stop offset="0.167" stop-color="#00ff34"/><stop offset="0.206" stop-color="#00ff06"/><stop offset="0.219" stop-color="#03ff00"/><stop offset="0.404" stop-color="#7fff00"/><stop offset="0.557" stop-color="#feff00"/><stop offset="0.61" stop-color="#ffdb00"/><stop offset="0.632" stop-color="#ffc600"/><stop offset="0.684" stop-color="#ffbf00"/><stop offset="0.741" stop-color="#ffad00"/><stop offset="0.794" stop-color="#ffae00"/><stop offset="0.868" stop-color="#f80"/><stop offset="0.93" stop-color="#ff8900"/><stop offset="1" stop-color="#ff7200"/></linearGradient><linearGradient id="gc83"><stop offset="0" stop-color="#00f1ff"/><stop offset="0.013" stop-color="#00fffc"/><stop offset="0.171" stop-color="#00ff2d"/><stop offset="0.206" stop-color="#00ff05"/><stop offset="0.224" stop-color="#07ff00"/><stop offset="0.412" stop-color="#86ff00"/><stop offset="0.557" stop-color="#feff00"/><stop offset="0.61" stop-color="#fd0"/><stop offset="0.632" stop-color="#ffc800"/><stop offset="0.693" stop-color="#ffc000"/><stop offset="0.741" stop-color="#ffb100"/><stop offset="0.803" stop-color="#ffb100"/><stop offset="0.868" stop-color="#ff9000"/><stop offset="0.939" stop-color="#ff9000"/><stop offset="1" stop-color="#ff7c00"/></linearGradient><linearGradient id="gc84"><stop offset="0" stop-color="#00f1ff"/><stop offset="0.013" stop-color="#00fffc"/><stop offset="0.18" stop-color="#0f2"/><stop offset="0.206" stop-color="#00ff05"/><stop offset="0.228" stop-color="#0bff00"/><stop offset="0.421" stop-color="#8dff00"/><stop offset="0.557" stop-color="#fdff00"/><stop offset="0.614" stop-color="#ffda00"/><stop offset="0.636" stop-color="#ffc900"/><stop offset="0.697" stop-color="#ffc100"/><stop offset="0.741" stop-color="#ffb400"/><stop offset="0.807" stop-color="#ffb600"/><stop offset="0.868" stop-color="#ff9700"/><stop offset="0.947" stop-color="#ff9800"/><stop offset="1" stop-color="#ff8600"/></linearGradient><linearGradient id="gc85"><stop offset="0" stop-color="#00f1ff"/><stop offset="0.013" stop-color="#00fffc"/><stop offset="0.184" stop-color="#00ff1c"/><stop offset="0.211" stop-color="#00ff01"/><stop offset="0.399" stop-color="#7dff00"/><stop offset="0.561" stop-color="#fffe00"/><stop offset="0.618" stop-color="#ffd800"/><stop offset="0.636" stop-color="#ffca00"/><stop offset="0.702" stop-color="#ffc300"/><stop offset="0.741" stop-color="#ffb800"/><stop offset="0.816" stop-color="#ffb900"/><stop offset="0.873" stop-color="#ff9f00"/><stop offset="0.952" stop-color="#ffa100"/><stop offset="1" stop-color="#ff9000"/></linearGradient><linearGradient id="gc86"><stop offset="0" stop-color="#00f1ff"/><stop offset="0.013" stop-color="#00fffc"/><stop offset="0.193" stop-color="#00ff10"/><stop offset="0.211" stop-color="#0f0"/><stop offset="0.382" stop-color="#73ff00"/><stop offset="0.439" stop-color="#9bff00"/><stop offset="0.561" stop-color="#fffe00"/><stop offset="0.618" stop-color="#ffd900"/><stop offset="0.636" stop-color="#fc0"/><stop offset="0.706" stop-color="#ffc500"/><stop offset="0.741" stop-color="#fb0"/><stop offset="0.825" stop-color="#ffbc00"/><stop offset="0.873" stop-color="#ffa700"/><stop offset="0.961" stop-color="#ffa800"/><stop offset="1" stop-color="#ff9b00"/></linearGradient><linearGradient id="gc87"><stop offset="0" stop-color="#00f1ff"/><stop offset="0.013" stop-color="#00fffc"/><stop offset="0.197" stop-color="#00ff0a"/><stop offset="0.215" stop-color="#04ff00"/><stop offset="0.377" stop-color="#71ff00"/><stop offset="0.443" stop-color="#9eff00"/><stop offset="0.561" stop-color="#fffe00"/><stop offset="0.623" stop-color="#ffd700"/><stop offset="0.636" stop-color="#ffce00"/><stop offset="0.711" stop-color="#ffc700"/><stop offset="0.741" stop-color="#ffbf00"/><stop offset="0.829" stop-color="#ffc200"/><stop offset="0.873" stop-color="#ffae00"/><stop offset="0.965" stop-color="#ffb100"/><stop offset="1" stop-color="#ffa500"/></linearGradient><linearGradient id="gc88"><stop offset="0" stop-color="#00f1ff"/><stop offset="0.013" stop-color="#00fffc"/><stop offset="0.197" stop-color="#00ff0a"/><stop offset="0.215" stop-color="#04ff00"/><stop offset="0.373" stop-color="#70ff00"/><stop offset="0.447" stop-color="#a1ff00"/><stop offset="0.561" stop-color="#ff0"/><stop offset="0.627" stop-color="#ffd400"/><stop offset="0.645" stop-color="#ffcf00"/><stop offset="0.719" stop-color="#ffc700"/><stop offset="0.746" stop-color="#ffc200"/><stop offset="0.838" stop-color="#ffc500"/><stop offset="0.873" stop-color="#ffb600"/><stop offset="0.974" stop-color="#ffb800"/><stop offset="1" stop-color="#ffaf00"/></linearGradient><linearGradient id="gc89"><stop offset="0" stop-color="#00f1ff"/><stop offset="0.013" stop-color="#00fffc"/><stop offset="0.202" stop-color="#00ff04"/><stop offset="0.228" stop-color="#0eff00"/><stop offset="0.382" stop-color="#76ff00"/><stop offset="0.456" stop-color="#a8ff00"/><stop offset="0.561" stop-color="#ff0"/><stop offset="0.627" stop-color="#ffd600"/><stop offset="0.645" stop-color="#ffd100"/><stop offset="0.724" stop-color="#ffc900"/><stop offset="0.772" stop-color="#ffc700"/><stop offset="0.846" stop-color="#ffc800"/><stop offset="0.873" stop-color="#ffbd00"/><stop offset="0.982" stop-color="#ffc000"/><stop offset="1" stop-color="#ffba00"/></linearGradient><linearGradient id="gc90"><stop offset="0" stop-color="#00f1ff"/><stop offset="0.013" stop-color="#00fffc"/><stop offset="0.202" stop-color="#00ff04"/><stop offset="0.25" stop-color="#1fff00"/><stop offset="0.39" stop-color="#7dff00"/><stop offset="0.465" stop-color="#aeff00"/><stop offset="0.561" stop-color="#ff0"/><stop offset="0.636" stop-color="#ffd300"/><stop offset="0.728" stop-color="#ffca00"/><stop offset="0.851" stop-color="#ffcd00"/><stop offset="0.873" stop-color="#ffc500"/><stop offset="0.987" stop-color="#ffc800"/><stop offset="1" stop-color="#ffc400"/></linearGradient><linearGradient id="gc91"><stop offset="0" stop-color="#00f1ff"/><stop offset="0.013" stop-color="#00fffc"/><stop offset="0.202" stop-color="#00ff03"/><stop offset="0.395" stop-color="#80ff00"/><stop offset="0.469" stop-color="#b1ff00"/><stop offset="0.566" stop-color="#fffc00"/><stop offset="0.636" stop-color="#ffd500"/><stop offset="0.763" stop-color="#ffcd00"/><stop offset="0.86" stop-color="#ffd000"/><stop offset="0.89" stop-color="#ffcd00"/><stop offset="0.996" stop-color="#ffd000"/><stop offset="1" stop-color="#ffce00"/></linearGradient><linearGradient id="gc92"><stop offset="0" stop-color="#00f1ff"/><stop offset="0.013" stop-color="#00fffc"/><stop offset="0.202" stop-color="#00ff02"/><stop offset="0.386" stop-color="#7cff00"/><stop offset="0.478" stop-color="#b8ff00"/><stop offset="0.566" stop-color="#fffd00"/><stop offset="0.636" stop-color="#ffd600"/><stop offset="0.772" stop-color="#ffd100"/><stop offset="1" stop-color="#ffd900"/></linearGradient><linearGradient id="gc93"><stop offset="0" stop-color="#00ebff"/><stop offset="0.018" stop-color="#00fffe"/><stop offset="0.07" stop-color="#00ffba"/><stop offset="0.202" stop-color="#00ff10"/><stop offset="0.232" stop-color="#03ff00"/><stop offset="0.338" stop-color="#4cff00"/><stop offset="0.469" stop-color="#9aff00"/><stop offset="0.579" stop-color="#ef0"/><stop offset="0.614" stop-color="#fffd00"/><stop offset="0.64" stop-color="#fff200"/><stop offset="0.776" stop-color="#fe0"/><stop offset="1" stop-color="#fff800"/></linearGradient><linearGradient id="gc94"><stop offset="0" stop-color="#00dfff"/><stop offset="0.022" stop-color="#00f4ff"/><stop offset="0.031" stop-color="#00fffe"/><stop offset="0.07" stop-color="#0fc"/><stop offset="0.101" stop-color="#00ffb0"/><stop offset="0.202" stop-color="#00ff2c"/><stop offset="0.241" stop-color="#00ff18"/><stop offset="0.276" stop-color="#01ff00"/><stop offset="0.338" stop-color="#2aff00"/><stop offset="0.368" stop-color="#34ff00"/><stop offset="0.469" stop-color="#71ff00"/><stop offset="0.491" stop-color="#75ff00"/><stop offset="0.575" stop-color="#baff00"/><stop offset="0.61" stop-color="#c8ff00"/><stop offset="0.64" stop-color="#d5ff00"/><stop offset="0.785" stop-color="#d9ff00"/><stop offset="1" stop-color="#d0ff00"/></linearGradient><linearGradient id="gc95"><stop offset="0" stop-color="#00d3ff"/><stop offset="0.026" stop-color="#00e9ff"/><stop offset="0.044" stop-color="#00fffe"/><stop offset="0.07" stop-color="#0fd"/><stop offset="0.114" stop-color="#00ffba"/><stop offset="0.202" stop-color="#00ff47"/><stop offset="0.254" stop-color="#00ff30"/><stop offset="0.325" stop-color="#02ff00"/><stop offset="0.346" stop-color="#0bff00"/><stop offset="0.386" stop-color="#15ff00"/><stop offset="0.469" stop-color="#48ff00"/><stop offset="0.504" stop-color="#4dff00"/><stop offset="0.575" stop-color="#86ff00"/><stop offset="0.605" stop-color="#8fff00"/><stop offset="0.64" stop-color="#9eff00"/><stop offset="0.798" stop-color="#a3ff00"/><stop offset="1" stop-color="#9bff00"/></linearGradient><linearGradient id="gc96"><stop offset="0" stop-color="#00c7ff"/><stop offset="0.035" stop-color="#00e3ff"/><stop offset="0.057" stop-color="#00fffd"/><stop offset="0.079" stop-color="#00ffe7"/><stop offset="0.136" stop-color="#00ffb9"/><stop offset="0.202" stop-color="#00ff63"/><stop offset="0.272" stop-color="#00ff45"/><stop offset="0.338" stop-color="#00ff18"/><stop offset="0.404" stop-color="#00ff09"/><stop offset="0.425" stop-color="#05ff00"/><stop offset="0.474" stop-color="#1fff00"/><stop offset="0.522" stop-color="#28ff00"/><stop offset="0.575" stop-color="#53ff00"/><stop offset="0.61" stop-color="#5aff00"/><stop offset="0.64" stop-color="#67ff00"/><stop offset="0.807" stop-color="#6cff00"/><stop offset="1" stop-color="#6f0"/></linearGradient><linearGradient id="gc97"><stop offset="0" stop-color="#0bf"/><stop offset="0.044" stop-color="#00deff"/><stop offset="0.07" stop-color="#0ff"/><stop offset="0.154" stop-color="#00ffbd"/><stop offset="0.202" stop-color="#00ff7e"/><stop offset="0.289" stop-color="#00ff5a"/><stop offset="0.338" stop-color="#00ff3a"/><stop offset="0.421" stop-color="#00ff27"/><stop offset="0.474" stop-color="#00ff0a"/><stop offset="0.539" stop-color="#03ff00"/><stop offset="0.575" stop-color="#1fff00"/><stop offset="0.618" stop-color="#28ff00"/><stop offset="0.64" stop-color="#30ff00"/><stop offset="0.82" stop-color="#35ff00"/><stop offset="1" stop-color="#31ff00"/></linearGradient><linearGradient id="gc98"><stop offset="0" stop-color="#00afff"/><stop offset="0.053" stop-color="#00d8ff"/><stop offset="0.075" stop-color="#00f1ff"/><stop offset="0.096" stop-color="#00fffc"/><stop offset="0.171" stop-color="#00ffc1"/><stop offset="0.202" stop-color="#00ff9a"/><stop offset="0.307" stop-color="#00ff6f"/><stop offset="0.338" stop-color="#00ff5b"/><stop offset="0.439" stop-color="#00ff46"/><stop offset="0.474" stop-color="#00ff34"/><stop offset="0.548" stop-color="#00ff29"/><stop offset="0.579" stop-color="#00ff14"/><stop offset="0.623" stop-color="#00ff0d"/><stop offset="0.654" stop-color="#00ff06"/><stop offset="0.838" stop-color="#00ff01"/><stop offset="1" stop-color="#00ff04"/></linearGradient><linearGradient id="gc99"><stop offset="0" stop-color="#00a3ff"/><stop offset="0.061" stop-color="#00d3ff"/><stop offset="0.118" stop-color="#00fffd"/><stop offset="0.189" stop-color="#00ffc5"/><stop offset="0.206" stop-color="#00ffb3"/><stop offset="0.325" stop-color="#00ff84"/><stop offset="0.346" stop-color="#00ff7b"/><stop offset="0.456" stop-color="#00ff64"/><stop offset="0.482" stop-color="#00ff5c"/><stop offset="0.561" stop-color="#00ff52"/><stop offset="0.579" stop-color="#00ff47"/><stop offset="0.706" stop-color="#00ff3a"/><stop offset="1" stop-color="#00ff3a"/></linearGradient><linearGradient id="gc100"><stop offset="0" stop-color="#0096ff"/><stop offset="0.14" stop-color="#0ff"/><stop offset="0.206" stop-color="#00ffd0"/><stop offset="0.346" stop-color="#00ff9d"/><stop offset="0.526" stop-color="#00ff7f"/><stop offset="0.741" stop-color="#00ff6d"/><stop offset="1" stop-color="#00ff6d"/></linearGradient><linearGradient id="gc101"><stop offset="0" stop-color="#08f"/><stop offset="0.026" stop-color="#0098ff"/><stop offset="0.07" stop-color="#00b7ff"/><stop offset="0.088" stop-color="#00bcff"/><stop offset="0.18" stop-color="#00fffc"/><stop offset="0.202" stop-color="#00ffed"/><stop offset="0.232" stop-color="#00ffe6"/><stop offset="0.338" stop-color="#00ffc0"/><stop offset="0.518" stop-color="#00ffa5"/><stop offset="0.737" stop-color="#00ff93"/><stop offset="1" stop-color="#00ff93"/></linearGradient><linearGradient id="gc102"><stop offset="0" stop-color="#007bff"/><stop offset="0.022" stop-color="#0083ff"/><stop offset="0.07" stop-color="#00a5ff"/><stop offset="0.096" stop-color="#00a6ff"/><stop offset="0.202" stop-color="#00f5ff"/><stop offset="0.237" stop-color="#00f8ff"/><stop offset="0.268" stop-color="#00fffa"/><stop offset="0.342" stop-color="#00ffe1"/><stop offset="0.456" stop-color="#00ffcf"/><stop offset="0.728" stop-color="#00ffb9"/><stop offset="1" stop-color="#00ffb9"/></linearGradient><linearGradient id="gc103"><stop offset="0" stop-color="#006dff"/><stop offset="0.026" stop-color="#0075ff"/><stop offset="0.07" stop-color="#0093ff"/><stop offset="0.11" stop-color="#0095ff"/><stop offset="0.202" stop-color="#00d9ff"/><stop offset="0.25" stop-color="#0df"/><stop offset="0.338" stop-color="#00fcff"/><stop offset="0.412" stop-color="#00fffb"/><stop offset="0.487" stop-color="#00fff0"/><stop offset="0.737" stop-color="#00ffdf"/><stop offset="1" stop-color="#00ffdf"/></linearGradient><linearGradient id="gc104"><stop offset="0" stop-color="#005fff"/><stop offset="0.031" stop-color="#06f"/><stop offset="0.07" stop-color="#0082ff"/><stop offset="0.123" stop-color="#0083ff"/><stop offset="0.202" stop-color="#00bdff"/><stop offset="0.263" stop-color="#00c1ff"/><stop offset="0.342" stop-color="#00dbff"/><stop offset="0.412" stop-color="#00e0ff"/><stop offset="0.487" stop-color="#00eaff"/><stop offset="0.75" stop-color="#00f9ff"/><stop offset="1" stop-color="#00f9ff"/></linearGradient><linearGradient id="gc105"><stop offset="0" stop-color="#0051ff"/><stop offset="0.039" stop-color="#005bff"/><stop offset="0.07" stop-color="#0070ff"/><stop offset="0.136" stop-color="#0071ff"/><stop offset="0.202" stop-color="#00a2ff"/><stop offset="0.276" stop-color="#00a5ff"/><stop offset="0.342" stop-color="#00baff"/><stop offset="0.421" stop-color="#00beff"/><stop offset="0.491" stop-color="#00c7ff"/><stop offset="0.768" stop-color="#00d3ff"/><stop offset="1" stop-color="#00d3ff"/></linearGradient><linearGradient id="gc106"><stop offset="0" stop-color="#0043ff"/><stop offset="0.044" stop-color="#004dff"/><stop offset="0.07" stop-color="#005eff"/><stop offset="0.149" stop-color="#005fff"/><stop offset="0.202" stop-color="#0086ff"/><stop offset="0.289" stop-color="#0089ff"/><stop offset="0.342" stop-color="#009aff"/><stop offset="0.434" stop-color="#009dff"/><stop offset="0.5" stop-color="#00a3ff"/><stop offset="0.794" stop-color="#00adff"/><stop offset="1" stop-color="#00adff"/></linearGradient><linearGradient id="gc107"><stop offset="0" stop-color="#0035ff"/><stop offset="0.053" stop-color="#0042ff"/><stop offset="0.07" stop-color="#004dff"/><stop offset="0.162" stop-color="#004dff"/><stop offset="0.202" stop-color="#006aff"/><stop offset="0.303" stop-color="#006dff"/><stop offset="0.342" stop-color="#0079ff"/><stop offset="0.447" stop-color="#007cff"/><stop offset="0.768" stop-color="#0087ff"/><stop offset="1" stop-color="#0087ff"/></linearGradient><linearGradient id="gc108"><stop offset="0" stop-color="#0027ff"/><stop offset="0.057" stop-color="#0034ff"/><stop offset="0.07" stop-color="#003bff"/><stop offset="0.175" stop-color="#003cff"/><stop offset="0.202" stop-color="#004eff"/><stop offset="0.316" stop-color="#0051ff"/><stop offset="0.346" stop-color="#0058ff"/><stop offset="0.461" stop-color="#005bff"/><stop offset="1" stop-color="#0061ff"/></linearGradient><linearGradient id="gc109"><stop offset="0" stop-color="#0019ff"/><stop offset="0.083" stop-color="#0029ff"/><stop offset="0.189" stop-color="#002aff"/><stop offset="0.206" stop-color="#0032ff"/><stop offset="0.329" stop-color="#0035ff"/><stop offset="1" stop-color="#003bff"/></linearGradient><linearGradient id="gc110"><stop offset="0" stop-color="#000fff"/><stop offset="0.088" stop-color="#001dff"/><stop offset="1" stop-color="#0021ff"/></linearGradient><linearGradient id="gd0"><stop offset="0" stop-color="#008dff"/><stop offset="0.079" stop-color="#00c7ff"/><stop offset="0.197" stop-color="#00fffc"/><stop offset="0.355" stop-color="#0f8"/><stop offset="0.487" stop-color="#00ff16"/><stop offset="0.522" stop-color="#03ff00"/><stop offset="0.803" stop-color="#d1ff00"/><stop offset="0.864" stop-color="#fffd00"/><stop offset="1" stop-color="#ff9b00"/></linearGradient><linearGradient id="gd1"><stop offset="0" stop-color="#008dff"/><stop offset="0.083" stop-color="#00caff"/><stop offset="0.193" stop-color="#00fffd"/><stop offset="0.355" stop-color="#0f8"/><stop offset="0.487" stop-color="#00ff16"/><stop offset="0.522" stop-color="#03ff00"/><stop offset="0.803" stop-color="#d1ff00"/><stop offset="0.864" stop-color="#fffd00"/><stop offset="1" stop-color="#ff9b00"/></linearGradient><linearGradient id="gd2"><stop offset="0" stop-color="#008eff"/><stop offset="0.083" stop-color="#0cf"/><stop offset="0.193" stop-color="#00fffc"/><stop offset="0.36" stop-color="#00ff83"/><stop offset="0.482" stop-color="#00ff1a"/><stop offset="0.522" stop-color="#03ff00"/><stop offset="0.803" stop-color="#d1ff00"/><stop offset="0.864" stop-color="#fffd00"/><stop offset="1" stop-color="#ff9b00"/></linearGradient><linearGradient id="gd3"><stop offset="0" stop-color="#008eff"/><stop offset="0.088" stop-color="#00cfff"/><stop offset="0.189" stop-color="#00fffd"/><stop offset="0.36" stop-color="#00ff83"/><stop offset="0.482" stop-color="#00ff1a"/><stop offset="0.522" stop-color="#03ff00"/><stop offset="0.803" stop-color="#d1ff00"/><stop offset="0.864" stop-color="#fffd00"/><stop offset="1" stop-color="#ff9b00"/></linearGradient><linearGradient id="gd4"><stop offset="0" stop-color="#008fff"/><stop offset="0.092" stop-color="#00d3ff"/><stop offset="0.184" stop-color="#00fffd"/><stop offset="0.281" stop-color="#00ffbc"/><stop offset="0.368" stop-color="#00ff7b"/><stop offset="0.482" stop-color="#00ff1a"/><stop offset="0.522" stop-color="#03ff00"/><stop offset="0.803" stop-color="#d1ff00"/><stop offset="0.864" stop-color="#fffd00"/><stop offset="1" stop-color="#ff9a00"/></linearGradient><linearGradient id="gd5"><stop offset="0" stop-color="#0090ff"/><stop offset="0.096" stop-color="#00d6ff"/><stop offset="0.184" stop-color="#00fffc"/><stop offset="0.285" stop-color="#00ffb8"/><stop offset="0.368" stop-color="#00ff7b"/><stop offset="0.482" stop-color="#00ff19"/><stop offset="0.522" stop-color="#03ff00"/><stop offset="0.803" stop-color="#d1ff00"/><stop offset="0.864" stop-color="#fffd00"/><stop offset="1" stop-color="#ff9a00"/></linearGradient><linearGradient id="gd6"><stop offset="0" stop-color="#0090ff"/><stop offset="0.101" stop-color="#00daff"/><stop offset="0.18" stop-color="#00fffd"/><stop offset="0.259" stop-color="#00ffca"/><stop offset="0.373" stop-color="#0f7"/><stop offset="0.482" stop-color="#00ff19"/><stop offset="0.522" stop-color="#03ff00"/><stop offset="0.803" stop-color="#d1ff00"/><stop offset="0.864" stop-color="#fffd00"/><stop offset="1" stop-color="#ff9a00"/></linearGradient><linearGradient id="gd7"><stop offset="0" stop-color="#0091ff"/><stop offset="0.101" stop-color="#00dbff"/><stop offset="0.175" stop-color="#00fffe"/><stop offset="0.246" stop-color="#00ffd2"/><stop offset="0.377" stop-color="#00ff73"/><stop offset="0.482" stop-color="#00ff19"/><stop offset="0.522" stop-color="#03ff00"/><stop offset="0.803" stop-color="#d1ff00"/><stop offset="0.864" stop-color="#fffd00"/><stop offset="1" stop-color="#ff9a00"/></linearGradient><linearGradient id="gd8"><stop offset="0" stop-color="#0091ff"/><stop offset="0.105" stop-color="#00dfff"/><stop offset="0.175" stop-color="#00fffc"/><stop offset="0.246" stop-color="#00ffd1"/><stop offset="0.382" stop-color="#00ff6f"/><stop offset="0.482" stop-color="#00ff19"/><stop offset="0.522" stop-color="#03ff00"/><stop offset="0.803" stop-color="#d1ff00"/><stop offset="0.864" stop-color="#fffd00"/><stop offset="1" stop-color="#ff9a00"/></linearGradient><linearGradient id="gd9"><stop offset="0" stop-color="#0092ff"/><stop offset="0.11" stop-color="#00e2ff"/><stop offset="0.171" stop-color="#00fffd"/><stop offset="0.241" stop-color="#00ffd3"/><stop offset="0.382" stop-color="#00ff6f"/><stop offset="0.482" stop-color="#00ff19"/><stop offset="0.522" stop-color="#03ff00"/><stop offset="0.803" stop-color="#d1ff00"/><stop offset="0.864" stop-color="#fffd00"/><stop offset="1" stop-color="#f90"/></linearGradient><linearGradient id="gd10"><stop offset="0" stop-color="#0093ff"/><stop offset="0.114" stop-color="#00e6ff"/><stop offset="0.171" stop-color="#00fffc"/><stop offset="0.241" stop-color="#00ffd1"/><stop offset="0.386" stop-color="#00ff6b"/><stop offset="0.482" stop-color="#00ff18"/><stop offset="0.522" stop-color="#03ff00"/><stop offset="0.803" stop-color="#d1ff00"/><stop offset="0.864" stop-color="#fffd00"/><stop offset="1" stop-color="#f90"/></linearGradient><linearGradient id="gd11"><stop offset="0" stop-color="#0093ff"/><stop offset="0.114" stop-color="#00e7ff"/><stop offset="0.167" stop-color="#00fffc"/><stop offset="0.241" stop-color="#00ffd0"/><stop offset="0.368" stop-color="#00ff78"/><stop offset="0.482" stop-color="#00ff18"/><stop offset="0.522" stop-color="#03ff00"/><stop offset="0.803" stop-color="#d1ff00"/><stop offset="0.864" stop-color="#fffd00"/><stop offset="1" stop-color="#f90"/></linearGradient><linearGradient id="gd12"><stop offset="0" stop-color="#0094ff"/><stop offset="0.118" stop-color="#00ebff"/><stop offset="0.162" stop-color="#00fffd"/><stop offset="0.237" stop-color="#00ffd2"/><stop offset="0.373" stop-color="#00ff75"/><stop offset="0.482" stop-color="#00ff18"/><stop offset="0.522" stop-color="#03ff00"/><stop offset="0.803" stop-color="#d1ff00"/><stop offset="0.864" stop-color="#fffd00"/><stop offset="1" stop-color="#f90"/></linearGradient><linearGradient id="gd13"><stop offset="0" stop-color="#0094ff"/><stop offset="0.123" stop-color="#00efff"/><stop offset="0.162" stop-color="#00fffc"/><stop offset="0.237" stop-color="#00ffd0"/><stop offset="0.373" stop-color="#00ff73"/><stop offset="0.482" stop-color="#00ff18"/><stop offset="0.522" stop-color="#03ff00"/><stop offset="0.803" stop-color="#d1ff00"/><stop offset="0.864" stop-color="#fffd00"/><stop offset="1" stop-color="#f90"/></linearGradient><linearGradient id="gd14"><stop offset="0" stop-color="#0095ff"/><stop offset="0.127" stop-color="#00f2ff"/><stop offset="0.158" stop-color="#00fffc"/><stop offset="0.232" stop-color="#00ffd2"/><stop offset="0.373" stop-color="#00ff72"/><stop offset="0.487" stop-color="#00ff15"/><stop offset="0.522" stop-color="#03ff00"/><stop offset="0.803" stop-color="#d1ff00"/><stop offset="0.864" stop-color="#fffd00"/><stop offset="1" stop-color="#ff9800"/></linearGradient><linearGradient id="gd15"><stop offset="0" stop-color="#0096ff"/><stop offset="0.132" stop-color="#00f6ff"/><stop offset="0.158" stop-color="#00fffb"/><stop offset="0.232" stop-color="#00ffd0"/><stop offset="0.373" stop-color="#00ff71"/><stop offset="0.43" stop-color="#00ff43"/><stop offset="0.487" stop-color="#00ff15"/><stop offset="0.522" stop-color="#03ff00"/><stop offset="0.803" stop-color="#d1ff00"/><stop offset="0.864" stop-color="#fffd00"/><stop offset="1" stop-color="#ff9800"/></linearGradient><linearGradient id="gd16"><stop offset="0" stop-color="#0096ff"/><stop offset="0.132" stop-color="#00f7ff"/><stop offset="0.158" stop-color="#00fffa"/><stop offset="0.232" stop-color="#00ffcf"/><stop offset="0.377" stop-color="#00ff6d"/><stop offset="0.443" stop-color="#00ff37"/><stop offset="0.5" stop-color="#00ff0c"/><stop offset="0.522" stop-color="#03ff00"/><stop offset="0.803" stop-color="#d1ff00"/><stop offset="0.864" stop-color="#fffd00"/><stop offset="1" stop-color="#ff9800"/></linearGradient><linearGradient id="gd17"><stop offset="0" stop-color="#0097ff"/><stop offset="0.136" stop-color="#00fbff"/><stop offset="0.162" stop-color="#00fff6"/><stop offset="0.237" stop-color="#00ffcb"/><stop offset="0.377" stop-color="#00ff6c"/><stop offset="0.421" stop-color="#00ff4a"/><stop offset="0.487" stop-color="#00ff14"/><stop offset="0.522" stop-color="#03ff00"/><stop offset="0.803" stop-color="#d1ff00"/><stop offset="0.864" stop-color="#fffd00"/><stop offset="1" stop-color="#ff9800"/></linearGradient><linearGradient id="gd18"><stop offset="0" stop-color="#0097ff"/><stop offset="0.14" stop-color="#00feff"/><stop offset="0.224" stop-color="#00ffd2"/><stop offset="0.377" stop-color="#00ff6b"/><stop offset="0.417" stop-color="#00ff4e"/><stop offset="0.482" stop-color="#00ff17"/><stop offset="0.522" stop-color="#03ff00"/><stop offset="0.798" stop-color="#ceff00"/><stop offset="0.864" stop-color="#fffd00"/><stop offset="1" stop-color="#ff9800"/></linearGradient><linearGradient id="gd19"><stop offset="0" stop-color="#0098ff"/><stop offset="0.14" stop-color="#00fffe"/><stop offset="0.224" stop-color="#00ffd1"/><stop offset="0.382" stop-color="#00ff67"/><stop offset="0.425" stop-color="#00ff46"/><stop offset="0.487" stop-color="#00ff14"/><stop offset="0.522" stop-color="#04ff00"/><stop offset="0.798" stop-color="#ceff00"/><stop offset="0.864" stop-color="#fffd00"/><stop offset="1" stop-color="#ff9700"/></linearGradient><linearGradient id="gd20"><stop offset="0" stop-color="#09f"/><stop offset="0.136" stop-color="#00feff"/><stop offset="0.224" stop-color="#00ffcf"/><stop offset="0.382" stop-color="#0f6"/><stop offset="0.425" stop-color="#00ff45"/><stop offset="0.487" stop-color="#00ff13"/><stop offset="0.522" stop-color="#04ff00"/><stop offset="0.798" stop-color="#ceff00"/><stop offset="0.864" stop-color="#fffd00"/><stop offset="1" stop-color="#ff9700"/></linearGradient><linearGradient id="gd21"><stop offset="0" stop-color="#09f"/><stop offset="0.136" stop-color="#0ff"/><stop offset="0.232" stop-color="#00ffc8"/><stop offset="0.386" stop-color="#00ff62"/><stop offset="0.43" stop-color="#00ff41"/><stop offset="0.487" stop-color="#00ff13"/><stop offset="0.518" stop-color="#01ff00"/><stop offset="0.794" stop-color="#caff00"/><stop offset="0.864" stop-color="#fffd00"/><stop offset="1" stop-color="#ff9700"/></linearGradient><linearGradient id="gd22"><stop offset="0" stop-color="#009aff"/><stop offset="0.136" stop-color="#0ff"/><stop offset="0.237" stop-color="#00ffc4"/><stop offset="0.386" stop-color="#00ff61"/><stop offset="0.43" stop-color="#00ff41"/><stop offset="0.487" stop-color="#00ff13"/><stop offset="0.518" stop-color="#01ff00"/><stop offset="0.794" stop-color="#caff00"/><stop offset="0.864" stop-color="#fffd00"/><stop offset="1" stop-color="#ff9700"/></linearGradient><linearGradient id="gd23"><stop offset="0" stop-color="#009aff"/><stop offset="0.136" stop-color="#00fffe"/><stop offset="0.246" stop-color="#00ffbd"/><stop offset="0.386" stop-color="#00ff5f"/><stop offset="0.43" stop-color="#00ff41"/><stop offset="0.487" stop-color="#00ff13"/><stop offset="0.518" stop-color="#02ff00"/><stop offset="0.789" stop-color="#c7ff00"/><stop offset="0.864" stop-color="#fffd00"/><stop offset="1" stop-color="#ff9700"/></linearGradient><linearGradient id="gd24"><stop offset="0" stop-color="#009bff"/><stop offset="0.136" stop-color="#00fffd"/><stop offset="0.254" stop-color="#00ffb5"/><stop offset="0.39" stop-color="#00ff5b"/><stop offset="0.434" stop-color="#00ff3d"/><stop offset="0.491" stop-color="#00ff10"/><stop offset="0.518" stop-color="#02ff00"/><stop offset="0.789" stop-color="#c7ff00"/><stop offset="0.864" stop-color="#fffd00"/><stop offset="1" stop-color="#ff9600"/></linearGradient><linearGradient id="gd25"><stop offset="0" stop-color="#009cff"/><stop offset="0.136" stop-color="#00fffd"/><stop offset="0.193" stop-color="#00ffdc"/><stop offset="0.404" stop-color="#00ff52"/><stop offset="0.447" stop-color="#00ff31"/><stop offset="0.513" stop-color="#00ff01"/><stop offset="0.75" stop-color="#a8ff00"/><stop offset="0.864" stop-color="#fffd00"/><stop offset="1" stop-color="#ff9600"/></linearGradient><linearGradient id="gd26"><stop offset="0" stop-color="#009cff"/><stop offset="0.132" stop-color="#0ff"/><stop offset="0.189" stop-color="#00ffdc"/><stop offset="0.412" stop-color="#00ff4c"/><stop offset="0.504" stop-color="#00ff07"/><stop offset="0.522" stop-color="#05ff00"/><stop offset="0.789" stop-color="#c7ff00"/><stop offset="0.864" stop-color="#fffd00"/><stop offset="1" stop-color="#ff9600"/></linearGradient><linearGradient id="gd27"><stop offset="0" stop-color="#009dff"/><stop offset="0.132" stop-color="#0ff"/><stop offset="0.189" stop-color="#00ffdb"/><stop offset="0.417" stop-color="#00ff48"/><stop offset="0.509" stop-color="#00ff04"/><stop offset="0.566" stop-color="#2f0"/><stop offset="0.811" stop-color="#d8ff00"/><stop offset="0.864" stop-color="#fffd00"/><stop offset="1" stop-color="#ff9600"/></linearGradient><linearGradient id="gd28"><stop offset="0" stop-color="#009dff"/><stop offset="0.132" stop-color="#00fffe"/><stop offset="0.189" stop-color="#00ffda"/><stop offset="0.421" stop-color="#0f4"/><stop offset="0.513" stop-color="#0f0"/><stop offset="0.759" stop-color="#afff00"/><stop offset="0.864" stop-color="#fffd00"/><stop offset="1" stop-color="#ff9600"/></linearGradient><linearGradient id="gd29"><stop offset="0" stop-color="#009eff"/><stop offset="0.132" stop-color="#00fffe"/><stop offset="0.193" stop-color="#00ffd6"/><stop offset="0.412" stop-color="#00ff48"/><stop offset="0.456" stop-color="#00ff28"/><stop offset="0.518" stop-color="#03ff00"/><stop offset="0.785" stop-color="#c3ff00"/><stop offset="0.864" stop-color="#fffd00"/><stop offset="1" stop-color="#ff9500"/></linearGradient><linearGradient id="gd30"><stop offset="0" stop-color="#009fff"/><stop offset="0.132" stop-color="#00fffd"/><stop offset="0.193" stop-color="#00ffd5"/><stop offset="0.417" stop-color="#0f4"/><stop offset="0.461" stop-color="#00ff24"/><stop offset="0.518" stop-color="#03ff00"/><stop offset="0.772" stop-color="#b9ff00"/><stop offset="0.864" stop-color="#fffd00"/><stop offset="1" stop-color="#ff9500"/></linearGradient><linearGradient id="gd31"><stop offset="0" stop-color="#009fff"/><stop offset="0.127" stop-color="#0ff"/><stop offset="0.197" stop-color="#00ffd1"/><stop offset="0.408" stop-color="#00ff48"/><stop offset="0.461" stop-color="#00ff24"/><stop offset="0.518" stop-color="#03ff00"/><stop offset="0.763" stop-color="#b2ff00"/><stop offset="0.864" stop-color="#fffd00"/><stop offset="1" stop-color="#ff9500"/></linearGradient><linearGradient id="gd32"><stop offset="0" stop-color="#00a0ff"/><stop offset="0.127" stop-color="#0ff"/><stop offset="0.36" stop-color="#00ff65"/><stop offset="0.461" stop-color="#00ff24"/><stop offset="0.513" stop-color="#0f0"/><stop offset="0.75" stop-color="#a8ff00"/><stop offset="0.864" stop-color="#fffd00"/><stop offset="1" stop-color="#ff9500"/></linearGradient><linearGradient id="gd33"><stop offset="0" stop-color="#00a0ff"/><stop offset="0.127" stop-color="#00fffe"/><stop offset="0.351" stop-color="#00ff69"/><stop offset="0.465" stop-color="#00ff20"/><stop offset="0.513" stop-color="#01ff00"/><stop offset="0.746" stop-color="#a5ff00"/><stop offset="0.864" stop-color="#fffd00"/><stop offset="1" stop-color="#ff9500"/></linearGradient><linearGradient id="gd34"><stop offset="0" stop-color="#00a1ff"/><stop offset="0.127" stop-color="#00fffe"/><stop offset="0.346" stop-color="#00ff6a"/><stop offset="0.482" stop-color="#00ff14"/><stop offset="0.518" stop-color="#04ff00"/><stop offset="0.746" stop-color="#a5ff00"/><stop offset="0.864" stop-color="#fffd00"/><stop offset="1" stop-color="#ff9400"/></linearGradient><linearGradient id="gd35"><stop offset="0" stop-color="#00a2ff"/><stop offset="0.127" stop-color="#00fffd"/><stop offset="0.346" stop-color="#00ff69"/><stop offset="0.513" stop-color="#01ff00"/><stop offset="0.741" stop-color="#a1ff00"/><stop offset="0.864" stop-color="#fffd00"/><stop offset="1" stop-color="#ff9400"/></linearGradient><linearGradient id="gd36"><stop offset="0" stop-color="#00a2ff"/><stop offset="0.123" stop-color="#00feff"/><stop offset="0.36" stop-color="#00ff60"/><stop offset="0.513" stop-color="#01ff00"/><stop offset="0.737" stop-color="#9eff00"/><stop offset="0.864" stop-color="#fffd00"/><stop offset="1" stop-color="#ff9400"/></linearGradient><linearGradient id="gd37"><stop offset="0" stop-color="#00a3ff"/><stop offset="0.123" stop-color="#00fffe"/><stop offset="0.329" stop-color="#00ff70"/><stop offset="0.509" stop-color="#01ff00"/><stop offset="0.737" stop-color="#a0ff00"/><stop offset="0.86" stop-color="#ff0"/><stop offset="1" stop-color="#ff9200"/></linearGradient><linearGradient id="gd38"><stop offset="0" stop-color="#00a6ff"/><stop offset="0.11" stop-color="#00fdff"/><stop offset="0.316" stop-color="#00ff70"/><stop offset="0.496" stop-color="#03ff00"/><stop offset="0.697" stop-color="#8dff00"/><stop offset="0.851" stop-color="#fffe00"/><stop offset="1" stop-color="#ff8b00"/></linearGradient><linearGradient id="gd39"><stop offset="0" stop-color="#00a8ff"/><stop offset="0.075" stop-color="#00e6ff"/><stop offset="0.105" stop-color="#00fffe"/><stop offset="0.211" stop-color="#00ffb0"/><stop offset="0.395" stop-color="#0f3"/><stop offset="0.478" stop-color="#01ff00"/><stop offset="0.697" stop-color="#97ff00"/><stop offset="0.807" stop-color="#e6ff00"/><stop offset="0.842" stop-color="#fffc00"/><stop offset="1" stop-color="#ff8500"/></linearGradient><linearGradient id="gd40"><stop offset="0" stop-color="#0af"/><stop offset="0.079" stop-color="#0ef"/><stop offset="0.096" stop-color="#0ff"/><stop offset="0.211" stop-color="#0fa"/><stop offset="0.25" stop-color="#00ff8b"/><stop offset="0.404" stop-color="#00ff24"/><stop offset="0.465" stop-color="#02ff00"/><stop offset="0.706" stop-color="#a7ff00"/><stop offset="0.798" stop-color="#e8ff00"/><stop offset="0.833" stop-color="#fffb00"/><stop offset="1" stop-color="#ff7e00"/></linearGradient><linearGradient id="gd41"><stop offset="0" stop-color="#00adff"/><stop offset="0.079" stop-color="#00f2ff"/><stop offset="0.092" stop-color="#00fffe"/><stop offset="0.211" stop-color="#00ffa4"/><stop offset="0.25" stop-color="#00ff83"/><stop offset="0.355" stop-color="#00ff39"/><stop offset="0.447" stop-color="#01ff00"/><stop offset="0.697" stop-color="#af0"/><stop offset="0.798" stop-color="#f0ff00"/><stop offset="0.82" stop-color="#fffd00"/><stop offset="1" stop-color="#f70"/></linearGradient><linearGradient id="gd42"><stop offset="0" stop-color="#00afff"/><stop offset="0.079" stop-color="#00f5ff"/><stop offset="0.092" stop-color="#00fffb"/><stop offset="0.123" stop-color="#00ffe0"/><stop offset="0.211" stop-color="#00ff9e"/><stop offset="0.25" stop-color="#00ff7a"/><stop offset="0.355" stop-color="#00ff30"/><stop offset="0.43" stop-color="#01ff00"/><stop offset="0.697" stop-color="#b4ff00"/><stop offset="0.798" stop-color="#f8ff00"/><stop offset="0.811" stop-color="#fffc00"/><stop offset="0.895" stop-color="#ffc000"/><stop offset="1" stop-color="#ff7000"/></linearGradient><linearGradient id="gd43"><stop offset="0" stop-color="#00b2ff"/><stop offset="0.057" stop-color="#00e3ff"/><stop offset="0.088" stop-color="#00fffc"/><stop offset="0.123" stop-color="#00ffda"/><stop offset="0.211" stop-color="#00ff98"/><stop offset="0.254" stop-color="#00ff6f"/><stop offset="0.355" stop-color="#00ff28"/><stop offset="0.412" stop-color="#0f0"/><stop offset="0.693" stop-color="#baff00"/><stop offset="0.763" stop-color="#e8ff00"/><stop offset="0.798" stop-color="#fffe00"/><stop offset="0.89" stop-color="#fb0"/><stop offset="1" stop-color="#ff6900"/></linearGradient><linearGradient id="gd44"><stop offset="0" stop-color="#00b4ff"/><stop offset="0.053" stop-color="#00e3ff"/><stop offset="0.083" stop-color="#00fffe"/><stop offset="0.127" stop-color="#00ffd0"/><stop offset="0.211" stop-color="#00ff91"/><stop offset="0.263" stop-color="#00ff61"/><stop offset="0.355" stop-color="#00ff20"/><stop offset="0.395" stop-color="#00ff01"/><stop offset="0.504" stop-color="#46ff00"/><stop offset="0.711" stop-color="#d0ff00"/><stop offset="0.789" stop-color="#fffd00"/><stop offset="0.89" stop-color="#ffb300"/><stop offset="0.969" stop-color="#ff7a00"/><stop offset="1" stop-color="#ff6200"/></linearGradient><linearGradient id="gd45"><stop offset="0" stop-color="#00b6ff"/><stop offset="0.053" stop-color="#00e6ff"/><stop offset="0.079" stop-color="#00feff"/><stop offset="0.136" stop-color="#00ffc4"/><stop offset="0.211" stop-color="#00ff8b"/><stop offset="0.268" stop-color="#0f5"/><stop offset="0.355" stop-color="#00ff17"/><stop offset="0.386" stop-color="#02ff00"/><stop offset="0.522" stop-color="#5dff00"/><stop offset="0.715" stop-color="#df0"/><stop offset="0.772" stop-color="#fffe00"/><stop offset="0.833" stop-color="#ffd300"/><stop offset="0.908" stop-color="#ffa000"/><stop offset="1" stop-color="#ff5c00"/></linearGradient><linearGradient id="gd46"><stop offset="0" stop-color="#00b9ff"/><stop offset="0.057" stop-color="#00edff"/><stop offset="0.079" stop-color="#00fffc"/><stop offset="0.14" stop-color="#0fb"/><stop offset="0.211" stop-color="#00ff85"/><stop offset="0.276" stop-color="#00ff47"/><stop offset="0.36" stop-color="#00ff0b"/><stop offset="0.377" stop-color="#03ff00"/><stop offset="0.434" stop-color="#2bff00"/><stop offset="0.658" stop-color="#bfff00"/><stop offset="0.75" stop-color="#fdff00"/><stop offset="0.816" stop-color="#ffd900"/><stop offset="0.895" stop-color="#ffa000"/><stop offset="0.965" stop-color="#ff7000"/><stop offset="1" stop-color="#f50"/></linearGradient><linearGradient id="gd47"><stop offset="0" stop-color="#0bf"/><stop offset="0.057" stop-color="#00f0ff"/><stop offset="0.075" stop-color="#00fffe"/><stop offset="0.149" stop-color="#00ffaf"/><stop offset="0.211" stop-color="#00ff7f"/><stop offset="0.281" stop-color="#00ff3c"/><stop offset="0.364" stop-color="#01ff00"/><stop offset="0.425" stop-color="#30ff00"/><stop offset="0.662" stop-color="#cf0"/><stop offset="0.737" stop-color="#fffe00"/><stop offset="0.82" stop-color="#ffcd00"/><stop offset="0.895" stop-color="#ff9800"/><stop offset="0.969" stop-color="#f60"/><stop offset="1" stop-color="#ff4e00"/></linearGradient><linearGradient id="gd48"><stop offset="0" stop-color="#00beff"/><stop offset="0.061" stop-color="#00f6ff"/><stop offset="0.075" stop-color="#00fffb"/><stop offset="0.154" stop-color="#00ffa5"/><stop offset="0.215" stop-color="#00ff75"/><stop offset="0.289" stop-color="#00ff2d"/><stop offset="0.355" stop-color="#02ff00"/><stop offset="0.43" stop-color="#3dff00"/><stop offset="0.654" stop-color="#d1ff00"/><stop offset="0.724" stop-color="#fffe00"/><stop offset="0.833" stop-color="#fb0"/><stop offset="0.908" stop-color="#f80"/><stop offset="0.978" stop-color="#ff5800"/><stop offset="1" stop-color="#ff4700"/></linearGradient><linearGradient id="gd49"><stop offset="0" stop-color="#00c0ff"/><stop offset="0.061" stop-color="#00faff"/><stop offset="0.075" stop-color="#00fff8"/><stop offset="0.162" stop-color="#0f9"/><stop offset="0.215" stop-color="#00ff6f"/><stop offset="0.298" stop-color="#00ff1f"/><stop offset="0.346" stop-color="#03ff00"/><stop offset="0.434" stop-color="#49ff00"/><stop offset="0.649" stop-color="#d9ff00"/><stop offset="0.711" stop-color="#fffd00"/><stop offset="0.838" stop-color="#ffb000"/><stop offset="0.917" stop-color="#ff7b00"/><stop offset="0.987" stop-color="#ff4b00"/><stop offset="1" stop-color="#ff4000"/></linearGradient><linearGradient id="gd50"><stop offset="0" stop-color="#00c2ff"/><stop offset="0.061" stop-color="#00fdff"/><stop offset="0.083" stop-color="#00ffeb"/><stop offset="0.167" stop-color="#00ff90"/><stop offset="0.215" stop-color="#00ff69"/><stop offset="0.303" stop-color="#00ff14"/><stop offset="0.333" stop-color="#01ff00"/><stop offset="0.443" stop-color="#59ff00"/><stop offset="0.64" stop-color="#deff00"/><stop offset="0.697" stop-color="#fffd00"/><stop offset="0.768" stop-color="#ffd000"/><stop offset="0.842" stop-color="#ffa400"/><stop offset="0.939" stop-color="#ff6500"/><stop offset="1" stop-color="#ff3a00"/></linearGradient><linearGradient id="gd51"><stop offset="0" stop-color="#00c5ff"/><stop offset="0.061" stop-color="#00fffe"/><stop offset="0.175" stop-color="#00ff84"/><stop offset="0.219" stop-color="#00ff5f"/><stop offset="0.311" stop-color="#00ff06"/><stop offset="0.329" stop-color="#06ff00"/><stop offset="0.452" stop-color="#68ff00"/><stop offset="0.632" stop-color="#e3ff00"/><stop offset="0.68" stop-color="#fffe00"/><stop offset="0.781" stop-color="#ffc000"/><stop offset="0.855" stop-color="#ff9200"/><stop offset="0.991" stop-color="#ff3a00"/><stop offset="1" stop-color="#f30"/></linearGradient><linearGradient id="gd52"><stop offset="0" stop-color="#00c7ff"/><stop offset="0.057" stop-color="#00fffe"/><stop offset="0.184" stop-color="#0f7"/><stop offset="0.237" stop-color="#00ff47"/><stop offset="0.307" stop-color="#00ff01"/><stop offset="0.386" stop-color="#3dff00"/><stop offset="0.461" stop-color="#7f0"/><stop offset="0.632" stop-color="#edff00"/><stop offset="0.667" stop-color="#fffb00"/><stop offset="0.798" stop-color="#ffac00"/><stop offset="0.86" stop-color="#ff8700"/><stop offset="1" stop-color="#ff2c00"/></linearGradient><linearGradient id="gd53"><stop offset="0" stop-color="#00caff"/><stop offset="0.053" stop-color="#00feff"/><stop offset="0.114" stop-color="#00ffbf"/><stop offset="0.189" stop-color="#00ff6e"/><stop offset="0.303" stop-color="#0f0"/><stop offset="0.465" stop-color="#84ff00"/><stop offset="0.627" stop-color="#f5ff00"/><stop offset="0.649" stop-color="#fffc00"/><stop offset="0.811" stop-color="#ff9b00"/><stop offset="1" stop-color="#ff2500"/></linearGradient><linearGradient id="gd54"><stop offset="0" stop-color="#0cf"/><stop offset="0.053" stop-color="#00fffd"/><stop offset="0.197" stop-color="#00ff62"/><stop offset="0.298" stop-color="#02ff00"/><stop offset="0.351" stop-color="#31ff00"/><stop offset="0.482" stop-color="#9bff00"/><stop offset="0.627" stop-color="#ff0"/><stop offset="0.82" stop-color="#ff8d00"/><stop offset="1" stop-color="#ff1e00"/></linearGradient><linearGradient id="gd55"><stop offset="0" stop-color="#00ceff"/><stop offset="0.048" stop-color="#0ff"/><stop offset="0.232" stop-color="#00ff3a"/><stop offset="0.289" stop-color="#00ff01"/><stop offset="0.368" stop-color="#48ff00"/><stop offset="0.5" stop-color="#b1ff00"/><stop offset="0.61" stop-color="#ff0"/><stop offset="0.829" stop-color="#ff7e00"/><stop offset="1" stop-color="#ff1800"/></linearGradient><linearGradient id="gd56"><stop offset="0" stop-color="#00ceff"/><stop offset="0.048" stop-color="#0ff"/><stop offset="0.232" stop-color="#00ff39"/><stop offset="0.289" stop-color="#0f0"/><stop offset="0.355" stop-color="#3dff00"/><stop offset="0.491" stop-color="#af0"/><stop offset="0.61" stop-color="#ff0"/><stop offset="0.794" stop-color="#ff8f00"/><stop offset="0.934" stop-color="#ff4000"/><stop offset="1" stop-color="#ff1800"/></linearGradient><linearGradient id="gd57"><stop offset="0" stop-color="#00ceff"/><stop offset="0.048" stop-color="#00fffe"/><stop offset="0.224" stop-color="#00ff43"/><stop offset="0.294" stop-color="#03ff00"/><stop offset="0.342" stop-color="#30ff00"/><stop offset="0.478" stop-color="#9dff00"/><stop offset="0.618" stop-color="#fffd00"/><stop offset="0.737" stop-color="#ffb300"/><stop offset="0.754" stop-color="#ffa400"/><stop offset="0.873" stop-color="#ff6400"/><stop offset="0.974" stop-color="#ff2a00"/><stop offset="1" stop-color="#ff1a00"/></linearGradient><linearGradient id="gd58"><stop offset="0" stop-color="#00cdff"/><stop offset="0.048" stop-color="#00fffe"/><stop offset="0.175" stop-color="#00ff75"/><stop offset="0.294" stop-color="#02ff00"/><stop offset="0.342" stop-color="#2fff00"/><stop offset="0.478" stop-color="#9bff00"/><stop offset="0.623" stop-color="#fffe00"/><stop offset="0.737" stop-color="#ffb600"/><stop offset="0.759" stop-color="#ffa000"/><stop offset="0.873" stop-color="#ff6300"/><stop offset="0.899" stop-color="#ff5a00"/><stop offset="1" stop-color="#ff1c00"/></linearGradient><linearGradient id="gd59"><stop offset="0" stop-color="#0cf"/><stop offset="0.039" stop-color="#00f8ff"/><stop offset="0.053" stop-color="#00fff9"/><stop offset="0.175" stop-color="#00ff75"/><stop offset="0.294" stop-color="#0f0"/><stop offset="0.342" stop-color="#2eff00"/><stop offset="0.478" stop-color="#98ff00"/><stop offset="0.627" stop-color="#fffe00"/><stop offset="0.737" stop-color="#ffb900"/><stop offset="0.768" stop-color="#ff9a00"/><stop offset="0.873" stop-color="#ff6200"/><stop offset="0.904" stop-color="#ff5a00"/><stop offset="1" stop-color="#ff1f00"/></linearGradient><linearGradient id="gd60"><stop offset="0" stop-color="#00cbff"/><stop offset="0.035" stop-color="#00f4ff"/><stop offset="0.048" stop-color="#00fffd"/><stop offset="0.154" stop-color="#00ff8e"/><stop offset="0.219" stop-color="#00ff4a"/><stop offset="0.294" stop-color="#00ff01"/><stop offset="0.342" stop-color="#2cff00"/><stop offset="0.425" stop-color="#6dff00"/><stop offset="0.478" stop-color="#96ff00"/><stop offset="0.592" stop-color="#e4ff00"/><stop offset="0.636" stop-color="#fffc00"/><stop offset="0.737" stop-color="#ffbd00"/><stop offset="0.772" stop-color="#ff9600"/><stop offset="0.873" stop-color="#ff6100"/><stop offset="0.908" stop-color="#ff5900"/><stop offset="1" stop-color="#ff2100"/></linearGradient><linearGradient id="gd61"><stop offset="0" stop-color="#00caff"/><stop offset="0.035" stop-color="#00f4ff"/><stop offset="0.048" stop-color="#00fffd"/><stop offset="0.158" stop-color="#00ff8a"/><stop offset="0.219" stop-color="#00ff4a"/><stop offset="0.298" stop-color="#02ff00"/><stop offset="0.342" stop-color="#2bff00"/><stop offset="0.417" stop-color="#64ff00"/><stop offset="0.478" stop-color="#94ff00"/><stop offset="0.553" stop-color="#c4ff00"/><stop offset="0.64" stop-color="#fffd00"/><stop offset="0.737" stop-color="#ffc000"/><stop offset="0.781" stop-color="#ff9000"/><stop offset="0.873" stop-color="#ff6000"/><stop offset="0.912" stop-color="#ff5900"/><stop offset="1" stop-color="#ff2300"/></linearGradient><linearGradient id="gd62"><stop offset="0" stop-color="#00caff"/><stop offset="0.039" stop-color="#00f9ff"/><stop offset="0.057" stop-color="#00fff3"/><stop offset="0.167" stop-color="#00ff80"/><stop offset="0.224" stop-color="#00ff46"/><stop offset="0.298" stop-color="#01ff00"/><stop offset="0.342" stop-color="#2aff00"/><stop offset="0.412" stop-color="#5eff00"/><stop offset="0.478" stop-color="#91ff00"/><stop offset="0.553" stop-color="#c1ff00"/><stop offset="0.645" stop-color="#fffd00"/><stop offset="0.737" stop-color="#ffc300"/><stop offset="0.785" stop-color="#ff8d00"/><stop offset="0.873" stop-color="#ff5e00"/><stop offset="0.921" stop-color="#ff5600"/><stop offset="1" stop-color="#ff2500"/></linearGradient><linearGradient id="gd63"><stop offset="0" stop-color="#00c9ff"/><stop offset="0.039" stop-color="#00f9ff"/><stop offset="0.057" stop-color="#00fff3"/><stop offset="0.167" stop-color="#00ff81"/><stop offset="0.224" stop-color="#00ff47"/><stop offset="0.298" stop-color="#0f0"/><stop offset="0.342" stop-color="#29ff00"/><stop offset="0.417" stop-color="#5fff00"/><stop offset="0.478" stop-color="#8fff00"/><stop offset="0.553" stop-color="#bdff00"/><stop offset="0.649" stop-color="#fffe00"/><stop offset="0.737" stop-color="#ffc600"/><stop offset="0.794" stop-color="#ff8600"/><stop offset="0.873" stop-color="#ff5d00"/><stop offset="0.93" stop-color="#ff5200"/><stop offset="1" stop-color="#ff2800"/></linearGradient><linearGradient id="gd64"><stop offset="0" stop-color="#00c8ff"/><stop offset="0.044" stop-color="#00feff"/><stop offset="0.167" stop-color="#00ff81"/><stop offset="0.224" stop-color="#00ff47"/><stop offset="0.303" stop-color="#03ff00"/><stop offset="0.342" stop-color="#28ff00"/><stop offset="0.425" stop-color="#64ff00"/><stop offset="0.478" stop-color="#8cff00"/><stop offset="0.557" stop-color="#bdff00"/><stop offset="0.654" stop-color="#ff0"/><stop offset="0.737" stop-color="#ffca00"/><stop offset="0.798" stop-color="#ff8300"/><stop offset="0.873" stop-color="#ff5c00"/><stop offset="0.934" stop-color="#ff5200"/><stop offset="1" stop-color="#ff2a00"/></linearGradient><linearGradient id="gd65"><stop offset="0" stop-color="#00c7ff"/><stop offset="0.044" stop-color="#0ff"/><stop offset="0.171" stop-color="#00ff7d"/><stop offset="0.228" stop-color="#0f4"/><stop offset="0.303" stop-color="#02ff00"/><stop offset="0.342" stop-color="#26ff00"/><stop offset="0.43" stop-color="#65ff00"/><stop offset="0.482" stop-color="#8cff00"/><stop offset="0.566" stop-color="#bfff00"/><stop offset="0.662" stop-color="#fffd00"/><stop offset="0.737" stop-color="#ffcd00"/><stop offset="0.807" stop-color="#ff7d00"/><stop offset="0.873" stop-color="#ff5b00"/><stop offset="0.943" stop-color="#ff4f00"/><stop offset="1" stop-color="#ff2c00"/></linearGradient><linearGradient id="gd66"><stop offset="0" stop-color="#00c6ff"/><stop offset="0.044" stop-color="#0ff"/><stop offset="0.18" stop-color="#00ff73"/><stop offset="0.246" stop-color="#00ff35"/><stop offset="0.303" stop-color="#01ff00"/><stop offset="0.342" stop-color="#25ff00"/><stop offset="0.434" stop-color="#6f0"/><stop offset="0.482" stop-color="#8aff00"/><stop offset="0.57" stop-color="#bfff00"/><stop offset="0.667" stop-color="#fffd00"/><stop offset="0.737" stop-color="#ffd000"/><stop offset="0.816" stop-color="#f70"/><stop offset="0.873" stop-color="#ff5a00"/><stop offset="0.952" stop-color="#ff4c00"/><stop offset="1" stop-color="#ff2e00"/></linearGradient><linearGradient id="gd67"><stop offset="0" stop-color="#00c6ff"/><stop offset="0.044" stop-color="#0ff"/><stop offset="0.189" stop-color="#00ff6a"/><stop offset="0.303" stop-color="#0f0"/><stop offset="0.346" stop-color="#27ff00"/><stop offset="0.443" stop-color="#6bff00"/><stop offset="0.487" stop-color="#8aff00"/><stop offset="0.575" stop-color="#beff00"/><stop offset="0.671" stop-color="#fffe00"/><stop offset="0.737" stop-color="#ffd300"/><stop offset="0.82" stop-color="#ff7300"/><stop offset="0.873" stop-color="#ff5800"/><stop offset="0.956" stop-color="#ff4b00"/><stop offset="1" stop-color="#ff3100"/></linearGradient><linearGradient id="gd68"><stop offset="0" stop-color="#00c5ff"/><stop offset="0.044" stop-color="#0ff"/><stop offset="0.224" stop-color="#00ff49"/><stop offset="0.307" stop-color="#03ff00"/><stop offset="0.346" stop-color="#26ff00"/><stop offset="0.447" stop-color="#6cff00"/><stop offset="0.496" stop-color="#8cff00"/><stop offset="0.583" stop-color="#c1ff00"/><stop offset="0.675" stop-color="#ff0"/><stop offset="0.737" stop-color="#ffd600"/><stop offset="0.829" stop-color="#ff6d00"/><stop offset="0.873" stop-color="#ff5700"/><stop offset="0.965" stop-color="#ff4800"/><stop offset="1" stop-color="#f30"/></linearGradient><linearGradient id="gd69"><stop offset="0" stop-color="#00c4ff"/><stop offset="0.044" stop-color="#00feff"/><stop offset="0.224" stop-color="#00ff49"/><stop offset="0.307" stop-color="#02ff00"/><stop offset="0.346" stop-color="#25ff00"/><stop offset="0.456" stop-color="#71ff00"/><stop offset="0.592" stop-color="#c4ff00"/><stop offset="0.684" stop-color="#fffc00"/><stop offset="0.737" stop-color="#ffda00"/><stop offset="0.838" stop-color="#ff6700"/><stop offset="0.877" stop-color="#f50"/><stop offset="0.969" stop-color="#ff4800"/><stop offset="1" stop-color="#ff3500"/></linearGradient><linearGradient id="gd70"><stop offset="0" stop-color="#00c3ff"/><stop offset="0.044" stop-color="#00fdff"/><stop offset="0.224" stop-color="#00ff4a"/><stop offset="0.307" stop-color="#0f0"/><stop offset="0.346" stop-color="#23ff00"/><stop offset="0.461" stop-color="#73ff00"/><stop offset="0.596" stop-color="#c3ff00"/><stop offset="0.689" stop-color="#fffd00"/><stop offset="0.737" stop-color="#fd0"/><stop offset="0.842" stop-color="#ff6300"/><stop offset="0.877" stop-color="#ff5400"/><stop offset="0.978" stop-color="#ff4500"/><stop offset="1" stop-color="#ff3700"/></linearGradient><linearGradient id="gd71"><stop offset="0" stop-color="#00c2ff"/><stop offset="0.044" stop-color="#00fdff"/><stop offset="0.224" stop-color="#00ff4a"/><stop offset="0.307" stop-color="#0f0"/><stop offset="0.346" stop-color="#2f0"/><stop offset="0.496" stop-color="#85ff00"/><stop offset="0.605" stop-color="#c6ff00"/><stop offset="0.693" stop-color="#fffe00"/><stop offset="0.737" stop-color="#ffe000"/><stop offset="0.851" stop-color="#ff5d00"/><stop offset="0.882" stop-color="#ff5300"/><stop offset="0.987" stop-color="#ff4200"/><stop offset="1" stop-color="#ff3a00"/></linearGradient><linearGradient id="gd72"><stop offset="0" stop-color="#00c1ff"/><stop offset="0.048" stop-color="#00fffc"/><stop offset="0.092" stop-color="#0fc"/><stop offset="0.232" stop-color="#00ff43"/><stop offset="0.307" stop-color="#00ff01"/><stop offset="0.351" stop-color="#24ff00"/><stop offset="0.496" stop-color="#83ff00"/><stop offset="0.614" stop-color="#c8ff00"/><stop offset="0.697" stop-color="#fffe00"/><stop offset="0.737" stop-color="#ffe300"/><stop offset="0.86" stop-color="#ff5700"/><stop offset="0.991" stop-color="#ff4100"/><stop offset="1" stop-color="#ff3c00"/></linearGradient><linearGradient id="gd73"><stop offset="0" stop-color="#00c1ff"/><stop offset="0.048" stop-color="#00fffd"/><stop offset="0.088" stop-color="#00ffd0"/><stop offset="0.232" stop-color="#00ff43"/><stop offset="0.311" stop-color="#03ff00"/><stop offset="0.36" stop-color="#28ff00"/><stop offset="0.5" stop-color="#83ff00"/><stop offset="0.632" stop-color="#d0ff00"/><stop offset="0.706" stop-color="#fffc00"/><stop offset="0.741" stop-color="#ffe100"/><stop offset="0.864" stop-color="#ff5400"/><stop offset="1" stop-color="#ff3e00"/></linearGradient><linearGradient id="gd74"><stop offset="0" stop-color="#00bfff"/><stop offset="0.048" stop-color="#0ff"/><stop offset="0.079" stop-color="#00ffdb"/><stop offset="0.228" stop-color="#00ff4a"/><stop offset="0.311" stop-color="#0f0"/><stop offset="0.368" stop-color="#2bff00"/><stop offset="0.487" stop-color="#76ff00"/><stop offset="0.636" stop-color="#cbff00"/><stop offset="0.715" stop-color="#fffe00"/><stop offset="0.741" stop-color="#ffec00"/><stop offset="0.868" stop-color="#ff5900"/><stop offset="1" stop-color="#ff4800"/></linearGradient><linearGradient id="gd75"><stop offset="0" stop-color="#00bdff"/><stop offset="0.053" stop-color="#00fffd"/><stop offset="0.075" stop-color="#00ffe5"/><stop offset="0.215" stop-color="#00ff5d"/><stop offset="0.32" stop-color="#01ff00"/><stop offset="0.469" stop-color="#65ff00"/><stop offset="0.605" stop-color="#abff00"/><stop offset="0.737" stop-color="#fdff00"/><stop offset="0.746" stop-color="#fffe00"/><stop offset="0.868" stop-color="#ff7100"/><stop offset="1" stop-color="#ff6000"/></linearGradient><linearGradient id="gd76"><stop offset="0" stop-color="#0bf"/><stop offset="0.039" stop-color="#00ebff"/><stop offset="0.057" stop-color="#00fffb"/><stop offset="0.079" stop-color="#00ffe6"/><stop offset="0.211" stop-color="#00ff67"/><stop offset="0.329" stop-color="#01ff00"/><stop offset="0.469" stop-color="#5eff00"/><stop offset="0.496" stop-color="#6f0"/><stop offset="0.605" stop-color="#a0ff00"/><stop offset="0.623" stop-color="#a4ff00"/><stop offset="0.737" stop-color="#ef0"/><stop offset="0.75" stop-color="#ef0"/><stop offset="0.768" stop-color="#fffc00"/><stop offset="0.868" stop-color="#ff8900"/><stop offset="1" stop-color="#ff7800"/></linearGradient><linearGradient id="gd77"><stop offset="0" stop-color="#00b8ff"/><stop offset="0.026" stop-color="#00d6ff"/><stop offset="0.057" stop-color="#0ff"/><stop offset="0.079" stop-color="#00ffea"/><stop offset="0.211" stop-color="#00ff6d"/><stop offset="0.338" stop-color="#01ff00"/><stop offset="0.469" stop-color="#57ff00"/><stop offset="0.5" stop-color="#5eff00"/><stop offset="0.605" stop-color="#96ff00"/><stop offset="0.627" stop-color="#98ff00"/><stop offset="0.737" stop-color="#deff00"/><stop offset="0.759" stop-color="#e0ff00"/><stop offset="0.785" stop-color="#ff0"/><stop offset="0.868" stop-color="#ffa000"/><stop offset="1" stop-color="#ff9100"/></linearGradient><linearGradient id="gd78"><stop offset="0" stop-color="#00b6ff"/><stop offset="0.031" stop-color="#00d8ff"/><stop offset="0.061" stop-color="#00fffe"/><stop offset="0.127" stop-color="#00ffc3"/><stop offset="0.211" stop-color="#00ff73"/><stop offset="0.346" stop-color="#0f0"/><stop offset="0.469" stop-color="#50ff00"/><stop offset="0.504" stop-color="#56ff00"/><stop offset="0.605" stop-color="#8bff00"/><stop offset="0.636" stop-color="#8eff00"/><stop offset="0.737" stop-color="#cfff00"/><stop offset="0.768" stop-color="#d2ff00"/><stop offset="0.807" stop-color="#fffe00"/><stop offset="0.868" stop-color="#ffb800"/><stop offset="1" stop-color="#ffa900"/></linearGradient><linearGradient id="gd79"><stop offset="0" stop-color="#00b3ff"/><stop offset="0.031" stop-color="#00d4ff"/><stop offset="0.066" stop-color="#00fffc"/><stop offset="0.118" stop-color="#00ffd2"/><stop offset="0.211" stop-color="#00ff79"/><stop offset="0.294" stop-color="#0f3"/><stop offset="0.351" stop-color="#00ff05"/><stop offset="0.373" stop-color="#0aff00"/><stop offset="0.469" stop-color="#49ff00"/><stop offset="0.513" stop-color="#51ff00"/><stop offset="0.605" stop-color="#81ff00"/><stop offset="0.64" stop-color="#82ff00"/><stop offset="0.737" stop-color="#c0ff00"/><stop offset="0.772" stop-color="#c0ff00"/><stop offset="0.825" stop-color="#fdff00"/><stop offset="0.868" stop-color="#ffd000"/><stop offset="1" stop-color="#ffc100"/></linearGradient><linearGradient id="gd80"><stop offset="0" stop-color="#00b1ff"/><stop offset="0.031" stop-color="#00d0ff"/><stop offset="0.066" stop-color="#00feff"/><stop offset="0.127" stop-color="#00ffcf"/><stop offset="0.211" stop-color="#00ff7f"/><stop offset="0.281" stop-color="#00ff46"/><stop offset="0.351" stop-color="#00ff0c"/><stop offset="0.373" stop-color="#03ff00"/><stop offset="0.469" stop-color="#41ff00"/><stop offset="0.518" stop-color="#49ff00"/><stop offset="0.605" stop-color="#7f0"/><stop offset="0.649" stop-color="#79ff00"/><stop offset="0.737" stop-color="#b1ff00"/><stop offset="0.781" stop-color="#b3ff00"/><stop offset="0.846" stop-color="#ff0"/><stop offset="0.868" stop-color="#ffe700"/><stop offset="1" stop-color="#ffd900"/></linearGradient><linearGradient id="gd81"><stop offset="0" stop-color="#00afff"/><stop offset="0.035" stop-color="#00d1ff"/><stop offset="0.07" stop-color="#00feff"/><stop offset="0.132" stop-color="#00ffd1"/><stop offset="0.211" stop-color="#00ff85"/><stop offset="0.285" stop-color="#00ff4a"/><stop offset="0.351" stop-color="#00ff13"/><stop offset="0.382" stop-color="#01ff00"/><stop offset="0.469" stop-color="#3aff00"/><stop offset="0.526" stop-color="#43ff00"/><stop offset="0.605" stop-color="#6cff00"/><stop offset="0.658" stop-color="#6fff00"/><stop offset="0.737" stop-color="#a2ff00"/><stop offset="0.785" stop-color="#a2ff00"/><stop offset="0.868" stop-color="#ff0"/><stop offset="1" stop-color="#fff100"/></linearGradient><linearGradient id="gd82"><stop offset="0" stop-color="#00acff"/><stop offset="0.039" stop-color="#00d3ff"/><stop offset="0.07" stop-color="#00faff"/><stop offset="0.088" stop-color="#00fff7"/><stop offset="0.14" stop-color="#00ffce"/><stop offset="0.211" stop-color="#00ff8b"/><stop offset="0.289" stop-color="#00ff4d"/><stop offset="0.351" stop-color="#00ff1a"/><stop offset="0.395" stop-color="#03ff00"/><stop offset="0.469" stop-color="#3f0"/><stop offset="0.531" stop-color="#3bff00"/><stop offset="0.605" stop-color="#62ff00"/><stop offset="0.662" stop-color="#63ff00"/><stop offset="0.737" stop-color="#92ff00"/><stop offset="0.794" stop-color="#93ff00"/><stop offset="0.868" stop-color="#e7ff00"/><stop offset="1" stop-color="#f4ff00"/></linearGradient><linearGradient id="gd83"><stop offset="0" stop-color="#0af"/><stop offset="0.039" stop-color="#00cfff"/><stop offset="0.07" stop-color="#00f6ff"/><stop offset="0.088" stop-color="#00fffb"/><stop offset="0.149" stop-color="#00ffcb"/><stop offset="0.211" stop-color="#00ff91"/><stop offset="0.294" stop-color="#00ff50"/><stop offset="0.351" stop-color="#0f2"/><stop offset="0.404" stop-color="#01ff00"/><stop offset="0.469" stop-color="#2cff00"/><stop offset="0.539" stop-color="#36ff00"/><stop offset="0.605" stop-color="#57ff00"/><stop offset="0.671" stop-color="#5aff00"/><stop offset="0.737" stop-color="#83ff00"/><stop offset="0.803" stop-color="#85ff00"/><stop offset="0.868" stop-color="#d0ff00"/><stop offset="1" stop-color="#dcff00"/></linearGradient><linearGradient id="gd84"><stop offset="0" stop-color="#00a7ff"/><stop offset="0.044" stop-color="#00d1ff"/><stop offset="0.07" stop-color="#00f2ff"/><stop offset="0.092" stop-color="#00fffc"/><stop offset="0.154" stop-color="#00ffcd"/><stop offset="0.215" stop-color="#00ff94"/><stop offset="0.298" stop-color="#00ff54"/><stop offset="0.355" stop-color="#00ff26"/><stop offset="0.417" stop-color="#03ff00"/><stop offset="0.469" stop-color="#25ff00"/><stop offset="0.548" stop-color="#30ff00"/><stop offset="0.605" stop-color="#4dff00"/><stop offset="0.68" stop-color="#50ff00"/><stop offset="0.737" stop-color="#74ff00"/><stop offset="0.807" stop-color="#74ff00"/><stop offset="0.868" stop-color="#b8ff00"/><stop offset="1" stop-color="#c4ff00"/></linearGradient><linearGradient id="gd85"><stop offset="0" stop-color="#00a5ff"/><stop offset="0.048" stop-color="#00d3ff"/><stop offset="0.07" stop-color="#0ef"/><stop offset="0.096" stop-color="#00fffd"/><stop offset="0.162" stop-color="#00ffca"/><stop offset="0.215" stop-color="#00ff9a"/><stop offset="0.307" stop-color="#00ff53"/><stop offset="0.36" stop-color="#00ff2a"/><stop offset="0.425" stop-color="#02ff00"/><stop offset="0.469" stop-color="#1dff00"/><stop offset="0.553" stop-color="#28ff00"/><stop offset="0.605" stop-color="#43ff00"/><stop offset="0.684" stop-color="#4f0"/><stop offset="0.737" stop-color="#65ff00"/><stop offset="0.816" stop-color="#65ff00"/><stop offset="0.868" stop-color="#a1ff00"/><stop offset="1" stop-color="#acff00"/></linearGradient><linearGradient id="gd86"><stop offset="0" stop-color="#00a2ff"/><stop offset="0.053" stop-color="#00d5ff"/><stop offset="0.075" stop-color="#00edff"/><stop offset="0.101" stop-color="#00fffe"/><stop offset="0.167" stop-color="#0fc"/><stop offset="0.215" stop-color="#00ffa0"/><stop offset="0.311" stop-color="#00ff56"/><stop offset="0.368" stop-color="#00ff2c"/><stop offset="0.439" stop-color="#03ff00"/><stop offset="0.474" stop-color="#17ff00"/><stop offset="0.561" stop-color="#23ff00"/><stop offset="0.605" stop-color="#38ff00"/><stop offset="0.693" stop-color="#3bff00"/><stop offset="0.737" stop-color="#5f0"/><stop offset="0.825" stop-color="#58ff00"/><stop offset="0.868" stop-color="#89ff00"/><stop offset="1" stop-color="#94ff00"/></linearGradient><linearGradient id="gd87"><stop offset="0" stop-color="#00a0ff"/><stop offset="0.053" stop-color="#00d1ff"/><stop offset="0.075" stop-color="#00e9ff"/><stop offset="0.11" stop-color="#00fffc"/><stop offset="0.175" stop-color="#00ffc9"/><stop offset="0.219" stop-color="#00ffa2"/><stop offset="0.32" stop-color="#00ff56"/><stop offset="0.447" stop-color="#02ff00"/><stop offset="0.474" stop-color="#0fff00"/><stop offset="0.57" stop-color="#1dff00"/><stop offset="0.605" stop-color="#2eff00"/><stop offset="0.697" stop-color="#2eff00"/><stop offset="0.737" stop-color="#46ff00"/><stop offset="0.829" stop-color="#46ff00"/><stop offset="0.868" stop-color="#71ff00"/><stop offset="1" stop-color="#7bff00"/></linearGradient><linearGradient id="gd88"><stop offset="0" stop-color="#009eff"/><stop offset="0.057" stop-color="#00d3ff"/><stop offset="0.079" stop-color="#00e8ff"/><stop offset="0.114" stop-color="#00fffc"/><stop offset="0.184" stop-color="#00ffc6"/><stop offset="0.237" stop-color="#00ff9c"/><stop offset="0.329" stop-color="#0f5"/><stop offset="0.456" stop-color="#0f0"/><stop offset="0.482" stop-color="#09ff00"/><stop offset="0.575" stop-color="#15ff00"/><stop offset="0.605" stop-color="#23ff00"/><stop offset="0.706" stop-color="#25ff00"/><stop offset="0.737" stop-color="#37ff00"/><stop offset="0.838" stop-color="#38ff00"/><stop offset="0.868" stop-color="#5aff00"/><stop offset="1" stop-color="#63ff00"/></linearGradient><linearGradient id="gd89"><stop offset="0" stop-color="#009bff"/><stop offset="0.061" stop-color="#00d4ff"/><stop offset="0.118" stop-color="#00fffd"/><stop offset="0.189" stop-color="#00ffc8"/><stop offset="0.368" stop-color="#00ff41"/><stop offset="0.469" stop-color="#0f0"/><stop offset="0.583" stop-color="#10ff00"/><stop offset="0.605" stop-color="#19ff00"/><stop offset="0.715" stop-color="#1cff00"/><stop offset="0.737" stop-color="#28ff00"/><stop offset="0.846" stop-color="#2aff00"/><stop offset="0.868" stop-color="#42ff00"/><stop offset="1" stop-color="#4bff00"/></linearGradient><linearGradient id="gd90"><stop offset="0" stop-color="#09f"/><stop offset="0.083" stop-color="#00e3ff"/><stop offset="0.123" stop-color="#00fffe"/><stop offset="0.197" stop-color="#00ffc5"/><stop offset="0.382" stop-color="#00ff40"/><stop offset="0.469" stop-color="#00ff07"/><stop offset="0.579" stop-color="#05ff00"/><stop offset="0.61" stop-color="#0eff00"/><stop offset="0.719" stop-color="#0fff00"/><stop offset="0.737" stop-color="#19ff00"/><stop offset="0.851" stop-color="#19ff00"/><stop offset="0.868" stop-color="#2aff00"/><stop offset="1" stop-color="#3f0"/></linearGradient><linearGradient id="gd91"><stop offset="0" stop-color="#0096ff"/><stop offset="0.088" stop-color="#00e3ff"/><stop offset="0.132" stop-color="#00fffc"/><stop offset="0.382" stop-color="#00ff47"/><stop offset="0.469" stop-color="#00ff0e"/><stop offset="0.596" stop-color="#02ff00"/><stop offset="0.728" stop-color="#06ff00"/><stop offset="0.785" stop-color="#09ff00"/><stop offset="0.86" stop-color="#0aff00"/><stop offset="0.873" stop-color="#13ff00"/><stop offset="1" stop-color="#1bff00"/></linearGradient><linearGradient id="gd92"><stop offset="0" stop-color="#0094ff"/><stop offset="0.092" stop-color="#00e2ff"/><stop offset="0.136" stop-color="#00fffd"/><stop offset="0.404" stop-color="#00ff3f"/><stop offset="0.469" stop-color="#00ff15"/><stop offset="0.632" stop-color="#00ff06"/><stop offset="0.917" stop-color="#00ff02"/><stop offset="1" stop-color="#02ff00"/></linearGradient><linearGradient id="gd93"><stop offset="0" stop-color="#008fff"/><stop offset="0.07" stop-color="#00c9ff"/><stop offset="0.101" stop-color="#00daff"/><stop offset="0.154" stop-color="#00fffe"/><stop offset="0.206" stop-color="#00ffda"/><stop offset="0.259" stop-color="#00ffb8"/><stop offset="0.338" stop-color="#00ff81"/><stop offset="0.373" stop-color="#00ff6f"/><stop offset="0.469" stop-color="#00ff30"/><stop offset="0.64" stop-color="#00ff23"/><stop offset="0.952" stop-color="#00ff20"/><stop offset="1" stop-color="#00ff1d"/></linearGradient><linearGradient id="gd94"><stop offset="0" stop-color="#008aff"/><stop offset="0.035" stop-color="#00a4ff"/><stop offset="0.07" stop-color="#00c1ff"/><stop offset="0.11" stop-color="#00d1ff"/><stop offset="0.175" stop-color="#00fffd"/><stop offset="0.211" stop-color="#00ffe8"/><stop offset="0.246" stop-color="#00ffd8"/><stop offset="0.338" stop-color="#00ff98"/><stop offset="0.377" stop-color="#00ff89"/><stop offset="0.469" stop-color="#00ff4d"/><stop offset="0.649" stop-color="#00ff42"/><stop offset="0.969" stop-color="#00ff3f"/><stop offset="1" stop-color="#00ff3d"/></linearGradient><linearGradient id="gd95"><stop offset="0" stop-color="#0085ff"/><stop offset="0.039" stop-color="#00a0ff"/><stop offset="0.07" stop-color="#00b9ff"/><stop offset="0.127" stop-color="#00cfff"/><stop offset="0.197" stop-color="#00fffc"/><stop offset="0.259" stop-color="#00ffe5"/><stop offset="0.338" stop-color="#00ffae"/><stop offset="0.395" stop-color="#00ff9a"/><stop offset="0.469" stop-color="#00ff6a"/><stop offset="0.579" stop-color="#00ff64"/><stop offset="0.996" stop-color="#00ff5d"/><stop offset="1" stop-color="#00ff5d"/></linearGradient><linearGradient id="gd96"><stop offset="0" stop-color="#0080ff"/><stop offset="0.044" stop-color="#009bff"/><stop offset="0.07" stop-color="#00b1ff"/><stop offset="0.145" stop-color="#00cdff"/><stop offset="0.206" stop-color="#00f6ff"/><stop offset="0.246" stop-color="#00fffa"/><stop offset="0.281" stop-color="#00ffeb"/><stop offset="0.338" stop-color="#00ffc4"/><stop offset="0.412" stop-color="#00ffac"/><stop offset="0.469" stop-color="#00ff87"/><stop offset="0.583" stop-color="#00ff82"/><stop offset="1" stop-color="#00ff7d"/></linearGradient><linearGradient id="gd97"><stop offset="0" stop-color="#007bff"/><stop offset="0.053" stop-color="#009bff"/><stop offset="0.075" stop-color="#0af"/><stop offset="0.162" stop-color="#00caff"/><stop offset="0.211" stop-color="#00e9ff"/><stop offset="0.285" stop-color="#00fffc"/><stop offset="0.338" stop-color="#00ffda"/><stop offset="0.43" stop-color="#00ffbd"/><stop offset="0.469" stop-color="#00ffa4"/><stop offset="0.596" stop-color="#00ffa0"/><stop offset="1" stop-color="#00ff9d"/></linearGradient><linearGradient id="gd98"><stop offset="0" stop-color="#0076ff"/><stop offset="0.061" stop-color="#009bff"/><stop offset="0.18" stop-color="#00c8ff"/><stop offset="0.215" stop-color="#00dbff"/><stop offset="0.316" stop-color="#00fffe"/><stop offset="0.342" stop-color="#0fe"/><stop offset="0.447" stop-color="#00ffce"/><stop offset="0.469" stop-color="#00ffc2"/><stop offset="1" stop-color="#00ffbd"/></linearGradient><linearGradient id="gd99"><stop offset="0" stop-color="#0071ff"/><stop offset="0.083" stop-color="#009dff"/><stop offset="0.329" stop-color="#00f4ff"/><stop offset="0.373" stop-color="#00fffc"/><stop offset="0.478" stop-color="#00ffdf"/><stop offset="1" stop-color="#0fd"/></linearGradient><linearGradient id="gd100"><stop offset="0" stop-color="#0069ff"/><stop offset="0.07" stop-color="#008cff"/><stop offset="0.364" stop-color="#00e7ff"/><stop offset="0.461" stop-color="#00fffc"/><stop offset="1" stop-color="#00fffb"/></linearGradient><linearGradient id="gd101"><stop offset="0" stop-color="#005eff"/><stop offset="0.026" stop-color="#0067ff"/><stop offset="0.07" stop-color="#007dff"/><stop offset="0.105" stop-color="#0084ff"/><stop offset="0.206" stop-color="#00a3ff"/><stop offset="0.25" stop-color="#00adff"/><stop offset="0.342" stop-color="#00c9ff"/><stop offset="0.478" stop-color="#00e8ff"/><stop offset="1" stop-color="#00e8ff"/></linearGradient><linearGradient id="gd102"><stop offset="0" stop-color="#0053ff"/><stop offset="0.022" stop-color="#0056ff"/><stop offset="0.07" stop-color="#006fff"/><stop offset="0.114" stop-color="#0073ff"/><stop offset="0.206" stop-color="#0090ff"/><stop offset="0.246" stop-color="#0094ff"/><stop offset="0.342" stop-color="#00b1ff"/><stop offset="0.386" stop-color="#00b6ff"/><stop offset="0.478" stop-color="#00cdff"/><stop offset="1" stop-color="#00cdff"/></linearGradient><linearGradient id="gd103"><stop offset="0" stop-color="#0048ff"/><stop offset="0.031" stop-color="#004cff"/><stop offset="0.07" stop-color="#0060ff"/><stop offset="0.123" stop-color="#0063ff"/><stop offset="0.211" stop-color="#007dff"/><stop offset="0.259" stop-color="#0081ff"/><stop offset="0.342" stop-color="#09f"/><stop offset="0.395" stop-color="#009dff"/><stop offset="0.478" stop-color="#00b1ff"/><stop offset="1" stop-color="#00b1ff"/></linearGradient><linearGradient id="gd104"><stop offset="0" stop-color="#003dff"/><stop offset="0.035" stop-color="#0040ff"/><stop offset="0.07" stop-color="#0051ff"/><stop offset="0.136" stop-color="#0054ff"/><stop offset="0.211" stop-color="#0069ff"/><stop offset="0.268" stop-color="#006cff"/><stop offset="0.342" stop-color="#0082ff"/><stop offset="0.408" stop-color="#0086ff"/><stop offset="0.478" stop-color="#0096ff"/><stop offset="1" stop-color="#0096ff"/></linearGradient><linearGradient id="gd105"><stop offset="0" stop-color="#0032ff"/><stop offset="0.039" stop-color="#03f"/><stop offset="0.07" stop-color="#0042ff"/><stop offset="0.149" stop-color="#0045ff"/><stop offset="0.211" stop-color="#0056ff"/><stop offset="0.281" stop-color="#0059ff"/><stop offset="0.342" stop-color="#006aff"/><stop offset="0.417" stop-color="#006dff"/><stop offset="0.478" stop-color="#007bff"/><stop offset="1" stop-color="#007bff"/></linearGradient><linearGradient id="gd106"><stop offset="0" stop-color="#0027ff"/><stop offset="0.048" stop-color="#0029ff"/><stop offset="0.075" stop-color="#0034ff"/><stop offset="0.162" stop-color="#0037ff"/><stop offset="0.211" stop-color="#0043ff"/><stop offset="0.294" stop-color="#0045ff"/><stop offset="0.342" stop-color="#0053ff"/><stop offset="0.43" stop-color="#05f"/><stop offset="0.482" stop-color="#0060ff"/><stop offset="1" stop-color="#0060ff"/></linearGradient><linearGradient id="gd107"><stop offset="0" stop-color="#001cff"/><stop offset="0.053" stop-color="#001dff"/><stop offset="0.075" stop-color="#0025ff"/><stop offset="0.175" stop-color="#0028ff"/><stop offset="0.215" stop-color="#0030ff"/><stop offset="0.307" stop-color="#0032ff"/><stop offset="0.346" stop-color="#003bff"/><stop offset="0.443" stop-color="#003eff"/><stop offset="0.487" stop-color="#04f"/><stop offset="1" stop-color="#04f"/></linearGradient><linearGradient id="gd108"><stop offset="0" stop-color="#01f"/><stop offset="0.061" stop-color="#0013ff"/><stop offset="0.189" stop-color="#0019ff"/><stop offset="0.25" stop-color="#001dff"/><stop offset="0.32" stop-color="#001fff"/><stop offset="0.36" stop-color="#0023ff"/><stop offset="0.456" stop-color="#0026ff"/><stop offset="1" stop-color="#0029ff"/></linearGradient><linearGradient id="gd109"><stop offset="0" stop-color="#0006ff"/><stop offset="0.741" stop-color="#000eff"/><stop offset="1" stop-color="#000eff"/></linearGradient><linearGradient id="ge0"><stop offset="0" stop-color="#0075ff"/><stop offset="0.224" stop-color="#00fffd"/><stop offset="0.509" stop-color="#00ff28"/><stop offset="0.57" stop-color="#02ff00"/><stop offset="0.614" stop-color="#1cff00"/><stop offset="0.776" stop-color="#57ff00"/><stop offset="0.908" stop-color="#82ff00"/><stop offset="1" stop-color="#a6ff00"/></linearGradient><linearGradient id="ge1"><stop offset="0" stop-color="#0074ff"/><stop offset="0.224" stop-color="#00fffd"/><stop offset="0.504" stop-color="#00ff2b"/><stop offset="0.57" stop-color="#02ff00"/><stop offset="0.618" stop-color="#1eff00"/><stop offset="0.776" stop-color="#58ff00"/><stop offset="0.895" stop-color="#7fff00"/><stop offset="1" stop-color="#a8ff00"/></linearGradient><linearGradient id="ge2"><stop offset="0" stop-color="#0074ff"/><stop offset="0.224" stop-color="#00fffc"/><stop offset="0.5" stop-color="#00ff2d"/><stop offset="0.57" stop-color="#02ff00"/><stop offset="0.618" stop-color="#1fff00"/><stop offset="0.776" stop-color="#5aff00"/><stop offset="0.877" stop-color="#7aff00"/><stop offset="1" stop-color="#af0"/></linearGradient><linearGradient id="ge3"><stop offset="0" stop-color="#0074ff"/><stop offset="0.219" stop-color="#0ff"/><stop offset="0.496" stop-color="#00ff30"/><stop offset="0.57" stop-color="#03ff00"/><stop offset="0.618" stop-color="#1fff00"/><stop offset="0.781" stop-color="#5cff00"/><stop offset="0.873" stop-color="#7aff00"/><stop offset="1" stop-color="#adff00"/></linearGradient><linearGradient id="ge4"><stop offset="0" stop-color="#0073ff"/><stop offset="0.219" stop-color="#00fffe"/><stop offset="0.487" stop-color="#00ff36"/><stop offset="0.57" stop-color="#03ff00"/><stop offset="0.623" stop-color="#2f0"/><stop offset="0.785" stop-color="#5fff00"/><stop offset="0.873" stop-color="#7bff00"/><stop offset="1" stop-color="#afff00"/></linearGradient><linearGradient id="ge5"><stop offset="0" stop-color="#0073ff"/><stop offset="0.219" stop-color="#00fffd"/><stop offset="0.482" stop-color="#00ff38"/><stop offset="0.566" stop-color="#01ff00"/><stop offset="0.623" stop-color="#23ff00"/><stop offset="0.785" stop-color="#60ff00"/><stop offset="0.873" stop-color="#7cff00"/><stop offset="0.93" stop-color="#97ff00"/><stop offset="1" stop-color="#b2ff00"/></linearGradient><linearGradient id="ge6"><stop offset="0" stop-color="#0073ff"/><stop offset="0.219" stop-color="#00fffd"/><stop offset="0.482" stop-color="#00ff37"/><stop offset="0.566" stop-color="#01ff00"/><stop offset="0.623" stop-color="#23ff00"/><stop offset="0.789" stop-color="#63ff00"/><stop offset="0.873" stop-color="#7eff00"/><stop offset="0.912" stop-color="#92ff00"/><stop offset="1" stop-color="#b4ff00"/></linearGradient><linearGradient id="ge7"><stop offset="0" stop-color="#0072ff"/><stop offset="0.219" stop-color="#00fffc"/><stop offset="0.482" stop-color="#00ff37"/><stop offset="0.566" stop-color="#01ff00"/><stop offset="0.627" stop-color="#26ff00"/><stop offset="0.789" stop-color="#64ff00"/><stop offset="0.873" stop-color="#7fff00"/><stop offset="0.912" stop-color="#95ff00"/><stop offset="1" stop-color="#b7ff00"/></linearGradient><linearGradient id="ge8"><stop offset="0" stop-color="#0072ff"/><stop offset="0.092" stop-color="#00b0ff"/><stop offset="0.215" stop-color="#0ff"/><stop offset="0.482" stop-color="#00ff36"/><stop offset="0.566" stop-color="#02ff00"/><stop offset="0.627" stop-color="#26ff00"/><stop offset="0.794" stop-color="#67ff00"/><stop offset="0.873" stop-color="#81ff00"/><stop offset="0.912" stop-color="#97ff00"/><stop offset="1" stop-color="#b9ff00"/></linearGradient><linearGradient id="ge9"><stop offset="0" stop-color="#0072ff"/><stop offset="0.096" stop-color="#00b3ff"/><stop offset="0.215" stop-color="#00fffe"/><stop offset="0.482" stop-color="#00ff35"/><stop offset="0.566" stop-color="#02ff00"/><stop offset="0.627" stop-color="#27ff00"/><stop offset="0.794" stop-color="#69ff00"/><stop offset="0.873" stop-color="#82ff00"/><stop offset="0.912" stop-color="#9aff00"/><stop offset="1" stop-color="#bcff00"/></linearGradient><linearGradient id="ge10"><stop offset="0" stop-color="#0071ff"/><stop offset="0.096" stop-color="#00b3ff"/><stop offset="0.215" stop-color="#00fffe"/><stop offset="0.482" stop-color="#00ff34"/><stop offset="0.566" stop-color="#02ff00"/><stop offset="0.627" stop-color="#27ff00"/><stop offset="0.798" stop-color="#6bff00"/><stop offset="0.873" stop-color="#83ff00"/><stop offset="0.917" stop-color="#9eff00"/><stop offset="1" stop-color="#bfff00"/></linearGradient><linearGradient id="ge11"><stop offset="0" stop-color="#0071ff"/><stop offset="0.101" stop-color="#00b6ff"/><stop offset="0.215" stop-color="#00fffd"/><stop offset="0.482" stop-color="#00ff34"/><stop offset="0.566" stop-color="#03ff00"/><stop offset="0.627" stop-color="#27ff00"/><stop offset="0.798" stop-color="#6dff00"/><stop offset="0.873" stop-color="#85ff00"/><stop offset="0.921" stop-color="#a2ff00"/><stop offset="1" stop-color="#c1ff00"/></linearGradient><linearGradient id="ge12"><stop offset="0" stop-color="#0071ff"/><stop offset="0.101" stop-color="#00b6ff"/><stop offset="0.215" stop-color="#00fffd"/><stop offset="0.482" stop-color="#0f3"/><stop offset="0.566" stop-color="#03ff00"/><stop offset="0.627" stop-color="#28ff00"/><stop offset="0.803" stop-color="#6fff00"/><stop offset="0.873" stop-color="#86ff00"/><stop offset="0.921" stop-color="#a5ff00"/><stop offset="1" stop-color="#c4ff00"/></linearGradient><linearGradient id="ge13"><stop offset="0" stop-color="#0070ff"/><stop offset="0.105" stop-color="#00baff"/><stop offset="0.215" stop-color="#00fffc"/><stop offset="0.482" stop-color="#00ff32"/><stop offset="0.561" stop-color="#0f0"/><stop offset="0.623" stop-color="#26ff00"/><stop offset="0.803" stop-color="#71ff00"/><stop offset="0.873" stop-color="#8f0"/><stop offset="0.925" stop-color="#a9ff00"/><stop offset="1" stop-color="#c6ff00"/></linearGradient><linearGradient id="ge14"><stop offset="0" stop-color="#0070ff"/><stop offset="0.105" stop-color="#00baff"/><stop offset="0.211" stop-color="#0ff"/><stop offset="0.482" stop-color="#00ff32"/><stop offset="0.561" stop-color="#01ff00"/><stop offset="0.623" stop-color="#26ff00"/><stop offset="0.807" stop-color="#73ff00"/><stop offset="0.873" stop-color="#89ff00"/><stop offset="0.93" stop-color="#adff00"/><stop offset="1" stop-color="#c9ff00"/></linearGradient><linearGradient id="ge15"><stop offset="0" stop-color="#006fff"/><stop offset="0.11" stop-color="#00bdff"/><stop offset="0.211" stop-color="#0ff"/><stop offset="0.482" stop-color="#00ff31"/><stop offset="0.561" stop-color="#01ff00"/><stop offset="0.623" stop-color="#26ff00"/><stop offset="0.811" stop-color="#76ff00"/><stop offset="0.873" stop-color="#8bff00"/><stop offset="0.93" stop-color="#b0ff00"/><stop offset="1" stop-color="#cbff00"/></linearGradient><linearGradient id="ge16"><stop offset="0" stop-color="#006fff"/><stop offset="0.061" stop-color="#09f"/><stop offset="0.158" stop-color="#00deff"/><stop offset="0.211" stop-color="#00fffe"/><stop offset="0.482" stop-color="#00ff30"/><stop offset="0.561" stop-color="#01ff00"/><stop offset="0.623" stop-color="#27ff00"/><stop offset="0.811" stop-color="#7f0"/><stop offset="0.873" stop-color="#8cff00"/><stop offset="0.934" stop-color="#b4ff00"/><stop offset="1" stop-color="#ceff00"/></linearGradient><linearGradient id="ge17"><stop offset="0" stop-color="#006fff"/><stop offset="0.061" stop-color="#09f"/><stop offset="0.158" stop-color="#00deff"/><stop offset="0.211" stop-color="#00fffd"/><stop offset="0.482" stop-color="#00ff2f"/><stop offset="0.561" stop-color="#02ff00"/><stop offset="0.623" stop-color="#27ff00"/><stop offset="0.816" stop-color="#7aff00"/><stop offset="0.873" stop-color="#8dff00"/><stop offset="0.939" stop-color="#b8ff00"/><stop offset="1" stop-color="#d0ff00"/></linearGradient><linearGradient id="ge18"><stop offset="0" stop-color="#006eff"/><stop offset="0.123" stop-color="#00c7ff"/><stop offset="0.211" stop-color="#00fffd"/><stop offset="0.482" stop-color="#00ff2f"/><stop offset="0.561" stop-color="#02ff00"/><stop offset="0.623" stop-color="#28ff00"/><stop offset="0.82" stop-color="#7dff00"/><stop offset="0.873" stop-color="#8fff00"/><stop offset="0.943" stop-color="#bdff00"/><stop offset="1" stop-color="#d3ff00"/></linearGradient><linearGradient id="ge19"><stop offset="0" stop-color="#006eff"/><stop offset="0.061" stop-color="#09f"/><stop offset="0.162" stop-color="#00e2ff"/><stop offset="0.211" stop-color="#00fffc"/><stop offset="0.482" stop-color="#00ff2e"/><stop offset="0.561" stop-color="#03ff00"/><stop offset="0.623" stop-color="#28ff00"/><stop offset="0.82" stop-color="#7eff00"/><stop offset="0.873" stop-color="#90ff00"/><stop offset="0.947" stop-color="#c1ff00"/><stop offset="1" stop-color="#d5ff00"/></linearGradient><linearGradient id="ge20"><stop offset="0" stop-color="#006eff"/><stop offset="0.061" stop-color="#09f"/><stop offset="0.167" stop-color="#00e5ff"/><stop offset="0.211" stop-color="#00fffc"/><stop offset="0.482" stop-color="#00ff2d"/><stop offset="0.561" stop-color="#03ff00"/><stop offset="0.623" stop-color="#28ff00"/><stop offset="0.825" stop-color="#81ff00"/><stop offset="0.873" stop-color="#92ff00"/><stop offset="0.947" stop-color="#c3ff00"/><stop offset="1" stop-color="#d8ff00"/></linearGradient><linearGradient id="ge21"><stop offset="0" stop-color="#006dff"/><stop offset="0.175" stop-color="#00ebff"/><stop offset="0.211" stop-color="#00fffb"/><stop offset="0.482" stop-color="#00ff2d"/><stop offset="0.561" stop-color="#03ff00"/><stop offset="0.623" stop-color="#29ff00"/><stop offset="0.829" stop-color="#84ff00"/><stop offset="0.873" stop-color="#93ff00"/><stop offset="0.952" stop-color="#c8ff00"/><stop offset="1" stop-color="#daff00"/></linearGradient><linearGradient id="ge22"><stop offset="0" stop-color="#006dff"/><stop offset="0.061" stop-color="#09f"/><stop offset="0.175" stop-color="#00ecff"/><stop offset="0.206" stop-color="#00fffe"/><stop offset="0.482" stop-color="#00ff2c"/><stop offset="0.557" stop-color="#01ff00"/><stop offset="0.623" stop-color="#29ff00"/><stop offset="0.833" stop-color="#86ff00"/><stop offset="0.873" stop-color="#94ff00"/><stop offset="0.956" stop-color="#cf0"/><stop offset="1" stop-color="#df0"/></linearGradient><linearGradient id="ge23"><stop offset="0" stop-color="#006dff"/><stop offset="0.18" stop-color="#00efff"/><stop offset="0.206" stop-color="#00fffd"/><stop offset="0.482" stop-color="#00ff2b"/><stop offset="0.557" stop-color="#01ff00"/><stop offset="0.623" stop-color="#29ff00"/><stop offset="0.833" stop-color="#8f0"/><stop offset="0.873" stop-color="#96ff00"/><stop offset="0.961" stop-color="#d0ff00"/><stop offset="1" stop-color="#dfff00"/></linearGradient><linearGradient id="ge24"><stop offset="0" stop-color="#006cff"/><stop offset="0.18" stop-color="#00f0ff"/><stop offset="0.206" stop-color="#00fffd"/><stop offset="0.482" stop-color="#00ff2b"/><stop offset="0.557" stop-color="#01ff00"/><stop offset="0.623" stop-color="#2aff00"/><stop offset="0.838" stop-color="#8aff00"/><stop offset="0.877" stop-color="#9aff00"/><stop offset="0.965" stop-color="#d4ff00"/><stop offset="1" stop-color="#e2ff00"/></linearGradient><linearGradient id="ge25"><stop offset="0" stop-color="#006cff"/><stop offset="0.184" stop-color="#00f3ff"/><stop offset="0.206" stop-color="#00fffc"/><stop offset="0.482" stop-color="#00ff2a"/><stop offset="0.557" stop-color="#02ff00"/><stop offset="0.623" stop-color="#2aff00"/><stop offset="0.842" stop-color="#8dff00"/><stop offset="0.877" stop-color="#9cff00"/><stop offset="0.965" stop-color="#d7ff00"/><stop offset="1" stop-color="#e4ff00"/></linearGradient><linearGradient id="ge26"><stop offset="0" stop-color="#006cff"/><stop offset="0.189" stop-color="#00f6ff"/><stop offset="0.206" stop-color="#00fffc"/><stop offset="0.482" stop-color="#00ff29"/><stop offset="0.557" stop-color="#02ff00"/><stop offset="0.627" stop-color="#2cff00"/><stop offset="0.846" stop-color="#90ff00"/><stop offset="0.877" stop-color="#9dff00"/><stop offset="0.969" stop-color="#dbff00"/><stop offset="1" stop-color="#e7ff00"/></linearGradient><linearGradient id="ge27"><stop offset="0" stop-color="#006bff"/><stop offset="0.189" stop-color="#00f7ff"/><stop offset="0.206" stop-color="#00fffb"/><stop offset="0.482" stop-color="#00ff28"/><stop offset="0.557" stop-color="#03ff00"/><stop offset="0.627" stop-color="#2dff00"/><stop offset="0.846" stop-color="#91ff00"/><stop offset="0.877" stop-color="#9eff00"/><stop offset="0.974" stop-color="#dfff00"/><stop offset="1" stop-color="#eaff00"/></linearGradient><linearGradient id="ge28"><stop offset="0" stop-color="#006bff"/><stop offset="0.193" stop-color="#00faff"/><stop offset="0.211" stop-color="#00fff7"/><stop offset="0.482" stop-color="#00ff28"/><stop offset="0.553" stop-color="#01ff00"/><stop offset="0.632" stop-color="#2fff00"/><stop offset="0.851" stop-color="#94ff00"/><stop offset="0.882" stop-color="#a3ff00"/><stop offset="0.978" stop-color="#e4ff00"/><stop offset="1" stop-color="#ecff00"/></linearGradient><linearGradient id="ge29"><stop offset="0" stop-color="#006bff"/><stop offset="0.193" stop-color="#00fbff"/><stop offset="0.211" stop-color="#00fff7"/><stop offset="0.482" stop-color="#00ff27"/><stop offset="0.553" stop-color="#02ff00"/><stop offset="0.632" stop-color="#30ff00"/><stop offset="0.855" stop-color="#97ff00"/><stop offset="0.89" stop-color="#abff00"/><stop offset="0.982" stop-color="#e8ff00"/><stop offset="1" stop-color="#efff00"/></linearGradient><linearGradient id="ge30"><stop offset="0" stop-color="#006aff"/><stop offset="0.197" stop-color="#00feff"/><stop offset="0.482" stop-color="#00ff26"/><stop offset="0.553" stop-color="#03ff00"/><stop offset="0.636" stop-color="#32ff00"/><stop offset="0.86" stop-color="#9f0"/><stop offset="0.987" stop-color="#ecff00"/><stop offset="1" stop-color="#f1ff00"/></linearGradient><linearGradient id="ge31"><stop offset="0" stop-color="#006aff"/><stop offset="0.197" stop-color="#0ff"/><stop offset="0.482" stop-color="#00ff26"/><stop offset="0.553" stop-color="#03ff00"/><stop offset="0.64" stop-color="#35ff00"/><stop offset="0.864" stop-color="#9cff00"/><stop offset="0.987" stop-color="#efff00"/><stop offset="1" stop-color="#f4ff00"/></linearGradient><linearGradient id="ge32"><stop offset="0" stop-color="#0069ff"/><stop offset="0.197" stop-color="#0ff"/><stop offset="0.482" stop-color="#00ff25"/><stop offset="0.548" stop-color="#01ff00"/><stop offset="0.64" stop-color="#35ff00"/><stop offset="0.882" stop-color="#a9ff00"/><stop offset="0.991" stop-color="#f3ff00"/><stop offset="1" stop-color="#f6ff00"/></linearGradient><linearGradient id="ge33"><stop offset="0" stop-color="#0069ff"/><stop offset="0.197" stop-color="#00fffe"/><stop offset="0.482" stop-color="#00ff24"/><stop offset="0.548" stop-color="#02ff00"/><stop offset="0.645" stop-color="#37ff00"/><stop offset="0.882" stop-color="#af0"/><stop offset="0.996" stop-color="#f7ff00"/><stop offset="1" stop-color="#f9ff00"/></linearGradient><linearGradient id="ge34"><stop offset="0" stop-color="#0069ff"/><stop offset="0.197" stop-color="#00fffe"/><stop offset="0.482" stop-color="#00ff24"/><stop offset="0.548" stop-color="#03ff00"/><stop offset="0.649" stop-color="#3aff00"/><stop offset="0.882" stop-color="#abff00"/><stop offset="1" stop-color="#fbff00"/></linearGradient><linearGradient id="ge35"><stop offset="0" stop-color="#0068ff"/><stop offset="0.197" stop-color="#00fffd"/><stop offset="0.482" stop-color="#00ff23"/><stop offset="0.544" stop-color="#01ff00"/><stop offset="0.654" stop-color="#3cff00"/><stop offset="0.882" stop-color="#adff00"/><stop offset="1" stop-color="#feff00"/></linearGradient><linearGradient id="ge36"><stop offset="0" stop-color="#0068ff"/><stop offset="0.197" stop-color="#00fffd"/><stop offset="0.482" stop-color="#0f2"/><stop offset="0.544" stop-color="#02ff00"/><stop offset="0.662" stop-color="#41ff00"/><stop offset="0.882" stop-color="#aeff00"/><stop offset="1" stop-color="#fffe00"/></linearGradient><linearGradient id="ge37"><stop offset="0" stop-color="#0069ff"/><stop offset="0.193" stop-color="#0ff"/><stop offset="0.482" stop-color="#00ff20"/><stop offset="0.539" stop-color="#02ff00"/><stop offset="0.662" stop-color="#4f0"/><stop offset="0.882" stop-color="#b2ff00"/><stop offset="0.996" stop-color="#fffc00"/><stop offset="1" stop-color="#fff900"/></linearGradient><linearGradient id="ge38"><stop offset="0" stop-color="#006dff"/><stop offset="0.189" stop-color="#00fffd"/><stop offset="0.491" stop-color="#00ff13"/><stop offset="0.526" stop-color="#02ff00"/><stop offset="0.649" stop-color="#46ff00"/><stop offset="0.882" stop-color="#bcff00"/><stop offset="0.978" stop-color="#fffe00"/><stop offset="1" stop-color="#ffef00"/></linearGradient><linearGradient id="ge39"><stop offset="0" stop-color="#0071ff"/><stop offset="0.18" stop-color="#0ff"/><stop offset="0.496" stop-color="#00ff09"/><stop offset="0.518" stop-color="#04ff00"/><stop offset="0.654" stop-color="#52ff00"/><stop offset="0.882" stop-color="#c7ff00"/><stop offset="0.965" stop-color="#fffd00"/><stop offset="1" stop-color="#ffe400"/></linearGradient><linearGradient id="ge40"><stop offset="0" stop-color="#0076ff"/><stop offset="0.175" stop-color="#00fffe"/><stop offset="0.496" stop-color="#00ff01"/><stop offset="0.658" stop-color="#5dff00"/><stop offset="0.75" stop-color="#8dff00"/><stop offset="0.886" stop-color="#d4ff00"/><stop offset="0.952" stop-color="#fffc00"/><stop offset="1" stop-color="#ffda00"/></linearGradient><linearGradient id="ge41"><stop offset="0" stop-color="#007aff"/><stop offset="0.171" stop-color="#00fffc"/><stop offset="0.491" stop-color="#03ff00"/><stop offset="0.658" stop-color="#6f0"/><stop offset="0.75" stop-color="#96ff00"/><stop offset="0.886" stop-color="#dfff00"/><stop offset="0.934" stop-color="#fffe00"/><stop offset="1" stop-color="#ffd000"/></linearGradient><linearGradient id="ge42"><stop offset="0" stop-color="#007eff"/><stop offset="0.162" stop-color="#00fffe"/><stop offset="0.482" stop-color="#01ff00"/><stop offset="0.522" stop-color="#1eff00"/><stop offset="0.667" stop-color="#73ff00"/><stop offset="0.75" stop-color="#9fff00"/><stop offset="0.829" stop-color="#caff00"/><stop offset="0.895" stop-color="#efff00"/><stop offset="0.921" stop-color="#fffc00"/><stop offset="1" stop-color="#ffc500"/></linearGradient><linearGradient id="ge43"><stop offset="0" stop-color="#0082ff"/><stop offset="0.154" stop-color="#00feff"/><stop offset="0.478" stop-color="#02ff00"/><stop offset="0.526" stop-color="#28ff00"/><stop offset="0.671" stop-color="#7fff00"/><stop offset="0.75" stop-color="#a8ff00"/><stop offset="0.816" stop-color="#ceff00"/><stop offset="0.89" stop-color="#f7ff00"/><stop offset="0.908" stop-color="#fffb00"/><stop offset="1" stop-color="#fb0"/></linearGradient><linearGradient id="ge44"><stop offset="0" stop-color="#0086ff"/><stop offset="0.149" stop-color="#00fffe"/><stop offset="0.404" stop-color="#0f3"/><stop offset="0.469" stop-color="#0f0"/><stop offset="0.531" stop-color="#3f0"/><stop offset="0.68" stop-color="#8cff00"/><stop offset="0.754" stop-color="#b5ff00"/><stop offset="0.816" stop-color="#d9ff00"/><stop offset="0.89" stop-color="#fffd00"/><stop offset="1" stop-color="#ffb000"/></linearGradient><linearGradient id="ge45"><stop offset="0" stop-color="#008bff"/><stop offset="0.123" stop-color="#00f0ff"/><stop offset="0.145" stop-color="#00fffd"/><stop offset="0.386" stop-color="#00ff3b"/><stop offset="0.465" stop-color="#02ff00"/><stop offset="0.535" stop-color="#3dff00"/><stop offset="0.684" stop-color="#97ff00"/><stop offset="0.754" stop-color="#beff00"/><stop offset="0.816" stop-color="#e3ff00"/><stop offset="0.873" stop-color="#fffe00"/><stop offset="1" stop-color="#ffa600"/></linearGradient><linearGradient id="ge46"><stop offset="0" stop-color="#008fff"/><stop offset="0.123" stop-color="#00f4ff"/><stop offset="0.14" stop-color="#00fffb"/><stop offset="0.373" stop-color="#00ff40"/><stop offset="0.456" stop-color="#01ff00"/><stop offset="0.544" stop-color="#4aff00"/><stop offset="0.689" stop-color="#a3ff00"/><stop offset="0.754" stop-color="#c7ff00"/><stop offset="0.825" stop-color="#f2ff00"/><stop offset="0.86" stop-color="#fffb00"/><stop offset="1" stop-color="#ff9b00"/></linearGradient><linearGradient id="ge47"><stop offset="0" stop-color="#0093ff"/><stop offset="0.123" stop-color="#00f8ff"/><stop offset="0.136" stop-color="#00fffa"/><stop offset="0.364" stop-color="#00ff41"/><stop offset="0.447" stop-color="#0f0"/><stop offset="0.553" stop-color="#57ff00"/><stop offset="0.697" stop-color="#b0ff00"/><stop offset="0.759" stop-color="#d3ff00"/><stop offset="0.829" stop-color="#ff0"/><stop offset="0.89" stop-color="#fd0"/><stop offset="1" stop-color="#ff9100"/></linearGradient><linearGradient id="ge48"><stop offset="0" stop-color="#0097ff"/><stop offset="0.127" stop-color="#00fffe"/><stop offset="0.346" stop-color="#00ff49"/><stop offset="0.443" stop-color="#02ff00"/><stop offset="0.557" stop-color="#61ff00"/><stop offset="0.702" stop-color="#bf0"/><stop offset="0.763" stop-color="#dfff00"/><stop offset="0.811" stop-color="#fffe00"/><stop offset="0.89" stop-color="#ffd200"/><stop offset="1" stop-color="#ff8700"/></linearGradient><linearGradient id="ge49"><stop offset="0" stop-color="#009cff"/><stop offset="0.123" stop-color="#00fffd"/><stop offset="0.346" stop-color="#00ff43"/><stop offset="0.434" stop-color="#01ff00"/><stop offset="0.566" stop-color="#6eff00"/><stop offset="0.706" stop-color="#c7ff00"/><stop offset="0.768" stop-color="#ebff00"/><stop offset="0.798" stop-color="#fffe00"/><stop offset="0.904" stop-color="#ffbf00"/><stop offset="1" stop-color="#ff7c00"/></linearGradient><linearGradient id="ge50"><stop offset="0" stop-color="#00a0ff"/><stop offset="0.118" stop-color="#00fffd"/><stop offset="0.346" stop-color="#00ff3e"/><stop offset="0.43" stop-color="#03ff00"/><stop offset="0.575" stop-color="#7bff00"/><stop offset="0.715" stop-color="#d4ff00"/><stop offset="0.785" stop-color="#fffe00"/><stop offset="0.851" stop-color="#ffd500"/><stop offset="1" stop-color="#ff7200"/></linearGradient><linearGradient id="ge51"><stop offset="0" stop-color="#00a4ff"/><stop offset="0.114" stop-color="#00fffd"/><stop offset="0.346" stop-color="#00ff38"/><stop offset="0.421" stop-color="#02ff00"/><stop offset="0.579" stop-color="#85ff00"/><stop offset="0.719" stop-color="#dfff00"/><stop offset="0.772" stop-color="#fffd00"/><stop offset="0.855" stop-color="#ffc800"/><stop offset="1" stop-color="#ff6700"/></linearGradient><linearGradient id="ge52"><stop offset="0" stop-color="#00a8ff"/><stop offset="0.11" stop-color="#00fffc"/><stop offset="0.351" stop-color="#00ff2f"/><stop offset="0.412" stop-color="#01ff00"/><stop offset="0.539" stop-color="#6bff00"/><stop offset="0.592" stop-color="#94ff00"/><stop offset="0.728" stop-color="#edff00"/><stop offset="0.759" stop-color="#fffd00"/><stop offset="0.86" stop-color="#ffbc00"/><stop offset="1" stop-color="#ff5d00"/></linearGradient><linearGradient id="ge53"><stop offset="0" stop-color="#00acff"/><stop offset="0.105" stop-color="#00fffc"/><stop offset="0.355" stop-color="#00ff26"/><stop offset="0.408" stop-color="#03ff00"/><stop offset="0.535" stop-color="#6dff00"/><stop offset="0.596" stop-color="#9fff00"/><stop offset="0.741" stop-color="#feff00"/><stop offset="1" stop-color="#ff5300"/></linearGradient><linearGradient id="ge54"><stop offset="0" stop-color="#00b1ff"/><stop offset="0.096" stop-color="#0ff"/><stop offset="0.36" stop-color="#00ff1d"/><stop offset="0.399" stop-color="#02ff00"/><stop offset="0.522" stop-color="#67ff00"/><stop offset="0.605" stop-color="#acff00"/><stop offset="0.728" stop-color="#ff0"/><stop offset="1" stop-color="#ff4800"/></linearGradient><linearGradient id="ge55"><stop offset="0" stop-color="#00b5ff"/><stop offset="0.092" stop-color="#0ff"/><stop offset="0.364" stop-color="#00ff14"/><stop offset="0.395" stop-color="#04ff00"/><stop offset="0.522" stop-color="#6cff00"/><stop offset="0.614" stop-color="#baff00"/><stop offset="0.719" stop-color="#fffc00"/><stop offset="1" stop-color="#ff3e00"/></linearGradient><linearGradient id="ge56"><stop offset="0" stop-color="#00b8ff"/><stop offset="0.088" stop-color="#0ff"/><stop offset="0.355" stop-color="#00ff19"/><stop offset="0.39" stop-color="#03ff00"/><stop offset="0.513" stop-color="#65ff00"/><stop offset="0.618" stop-color="#beff00"/><stop offset="0.715" stop-color="#fffe00"/><stop offset="1" stop-color="#ff3b00"/></linearGradient><linearGradient id="ge57"><stop offset="0" stop-color="#00baff"/><stop offset="0.083" stop-color="#0ff"/><stop offset="0.342" stop-color="#00ff21"/><stop offset="0.386" stop-color="#01ff00"/><stop offset="0.513" stop-color="#64ff00"/><stop offset="0.623" stop-color="#c1ff00"/><stop offset="0.715" stop-color="#fffe00"/><stop offset="0.868" stop-color="#ff9200"/><stop offset="1" stop-color="#ff3900"/></linearGradient><linearGradient id="ge58"><stop offset="0" stop-color="#00bcff"/><stop offset="0.083" stop-color="#00fffc"/><stop offset="0.342" stop-color="#00ff1e"/><stop offset="0.386" stop-color="#02ff00"/><stop offset="0.482" stop-color="#4aff00"/><stop offset="0.632" stop-color="#c7ff00"/><stop offset="0.715" stop-color="#fffe00"/><stop offset="0.794" stop-color="#ffc200"/><stop offset="1" stop-color="#ff3800"/></linearGradient><linearGradient id="ge59"><stop offset="0" stop-color="#00bfff"/><stop offset="0.079" stop-color="#00fffe"/><stop offset="0.338" stop-color="#00ff1e"/><stop offset="0.382" stop-color="#0f0"/><stop offset="0.482" stop-color="#4cff00"/><stop offset="0.592" stop-color="#a8ff00"/><stop offset="0.711" stop-color="#fdff00"/><stop offset="0.746" stop-color="#ffe500"/><stop offset="0.798" stop-color="#ffbd00"/><stop offset="1" stop-color="#ff3600"/></linearGradient><linearGradient id="ge60"><stop offset="0" stop-color="#00c1ff"/><stop offset="0.075" stop-color="#0ff"/><stop offset="0.232" stop-color="#00ff75"/><stop offset="0.342" stop-color="#00ff18"/><stop offset="0.382" stop-color="#01ff00"/><stop offset="0.482" stop-color="#4dff00"/><stop offset="0.526" stop-color="#6eff00"/><stop offset="0.64" stop-color="#cdff00"/><stop offset="0.715" stop-color="#fffe00"/><stop offset="0.759" stop-color="#ffd900"/><stop offset="0.895" stop-color="#ff7c00"/><stop offset="1" stop-color="#ff3500"/></linearGradient><linearGradient id="ge61"><stop offset="0" stop-color="#00c4ff"/><stop offset="0.075" stop-color="#00fffc"/><stop offset="0.219" stop-color="#00ff7c"/><stop offset="0.342" stop-color="#00ff15"/><stop offset="0.382" stop-color="#03ff00"/><stop offset="0.482" stop-color="#4eff00"/><stop offset="0.522" stop-color="#69ff00"/><stop offset="0.645" stop-color="#d0ff00"/><stop offset="0.715" stop-color="#fffe00"/><stop offset="0.759" stop-color="#ffd900"/><stop offset="0.803" stop-color="#ffb600"/><stop offset="1" stop-color="#ff3400"/></linearGradient><linearGradient id="ge62"><stop offset="0" stop-color="#00c6ff"/><stop offset="0.07" stop-color="#00fffe"/><stop offset="0.202" stop-color="#00ff86"/><stop offset="0.342" stop-color="#00ff13"/><stop offset="0.377" stop-color="#02ff00"/><stop offset="0.487" stop-color="#52ff00"/><stop offset="0.531" stop-color="#70ff00"/><stop offset="0.649" stop-color="#d3ff00"/><stop offset="0.715" stop-color="#fffe00"/><stop offset="0.759" stop-color="#ffd900"/><stop offset="0.803" stop-color="#ffb400"/><stop offset="1" stop-color="#ff3200"/></linearGradient><linearGradient id="ge63"><stop offset="0" stop-color="#00c8ff"/><stop offset="0.066" stop-color="#0ff"/><stop offset="0.197" stop-color="#00ff86"/><stop offset="0.329" stop-color="#00ff19"/><stop offset="0.373" stop-color="#02ff00"/><stop offset="0.491" stop-color="#56ff00"/><stop offset="0.535" stop-color="#73ff00"/><stop offset="0.654" stop-color="#d6ff00"/><stop offset="0.715" stop-color="#fffe00"/><stop offset="0.759" stop-color="#ffd900"/><stop offset="0.803" stop-color="#ffb200"/><stop offset="1" stop-color="#ff3100"/></linearGradient><linearGradient id="ge64"><stop offset="0" stop-color="#00cbff"/><stop offset="0.061" stop-color="#00feff"/><stop offset="0.206" stop-color="#00ff7c"/><stop offset="0.329" stop-color="#00ff16"/><stop offset="0.368" stop-color="#02ff00"/><stop offset="0.434" stop-color="#30ff00"/><stop offset="0.496" stop-color="#5aff00"/><stop offset="0.544" stop-color="#7aff00"/><stop offset="0.662" stop-color="#dcff00"/><stop offset="0.715" stop-color="#fffe00"/><stop offset="0.759" stop-color="#ffd900"/><stop offset="0.811" stop-color="#fa0"/><stop offset="1" stop-color="#ff2f00"/></linearGradient><linearGradient id="ge65"><stop offset="0" stop-color="#00cdff"/><stop offset="0.061" stop-color="#00fffd"/><stop offset="0.202" stop-color="#00ff7c"/><stop offset="0.325" stop-color="#00ff17"/><stop offset="0.364" stop-color="#03ff00"/><stop offset="0.43" stop-color="#2eff00"/><stop offset="0.491" stop-color="#59ff00"/><stop offset="0.548" stop-color="#7eff00"/><stop offset="0.671" stop-color="#e2ff00"/><stop offset="0.715" stop-color="#fffe00"/><stop offset="0.759" stop-color="#ffd900"/><stop offset="0.816" stop-color="#ffa500"/><stop offset="1" stop-color="#ff2e00"/></linearGradient><linearGradient id="ge66"><stop offset="0" stop-color="#00d0ff"/><stop offset="0.057" stop-color="#00fffe"/><stop offset="0.202" stop-color="#00ff78"/><stop offset="0.329" stop-color="#00ff10"/><stop offset="0.36" stop-color="#03ff00"/><stop offset="0.434" stop-color="#3f0"/><stop offset="0.496" stop-color="#5dff00"/><stop offset="0.557" stop-color="#85ff00"/><stop offset="0.684" stop-color="#ebff00"/><stop offset="0.715" stop-color="#fffe00"/><stop offset="0.759" stop-color="#ffd900"/><stop offset="0.82" stop-color="#ff9f00"/><stop offset="1" stop-color="#ff2d00"/></linearGradient><linearGradient id="ge67"><stop offset="0" stop-color="#00d2ff"/><stop offset="0.053" stop-color="#00fffe"/><stop offset="0.206" stop-color="#00ff71"/><stop offset="0.346" stop-color="#00ff02"/><stop offset="0.434" stop-color="#34ff00"/><stop offset="0.496" stop-color="#5eff00"/><stop offset="0.561" stop-color="#8f0"/><stop offset="0.693" stop-color="#f1ff00"/><stop offset="0.719" stop-color="#fffb00"/><stop offset="0.781" stop-color="#ffc300"/><stop offset="0.833" stop-color="#ff9400"/><stop offset="1" stop-color="#ff2b00"/></linearGradient><linearGradient id="ge68"><stop offset="0" stop-color="#00d4ff"/><stop offset="0.048" stop-color="#0ff"/><stop offset="0.211" stop-color="#00ff6a"/><stop offset="0.342" stop-color="#00ff02"/><stop offset="0.439" stop-color="#39ff00"/><stop offset="0.504" stop-color="#65ff00"/><stop offset="0.57" stop-color="#8fff00"/><stop offset="0.711" stop-color="#fdff00"/><stop offset="0.746" stop-color="#ffe500"/><stop offset="0.838" stop-color="#ff8f00"/><stop offset="1" stop-color="#ff2a00"/></linearGradient><linearGradient id="ge69"><stop offset="0" stop-color="#00d7ff"/><stop offset="0.048" stop-color="#00fffc"/><stop offset="0.211" stop-color="#00ff67"/><stop offset="0.342" stop-color="#01ff00"/><stop offset="0.452" stop-color="#45ff00"/><stop offset="0.579" stop-color="#96ff00"/><stop offset="0.715" stop-color="#fffe00"/><stop offset="0.759" stop-color="#ffd900"/><stop offset="0.842" stop-color="#ff8a00"/><stop offset="1" stop-color="#ff2800"/></linearGradient><linearGradient id="ge70"><stop offset="0" stop-color="#00d9ff"/><stop offset="0.044" stop-color="#00fffe"/><stop offset="0.211" stop-color="#00ff63"/><stop offset="0.338" stop-color="#01ff00"/><stop offset="0.456" stop-color="#4aff00"/><stop offset="0.583" stop-color="#9f0"/><stop offset="0.715" stop-color="#fffe00"/><stop offset="0.759" stop-color="#ffd900"/><stop offset="0.851" stop-color="#ff8200"/><stop offset="1" stop-color="#ff2700"/></linearGradient><linearGradient id="ge71"><stop offset="0" stop-color="#00dbff"/><stop offset="0.039" stop-color="#0ff"/><stop offset="0.211" stop-color="#00ff60"/><stop offset="0.333" stop-color="#02ff00"/><stop offset="0.465" stop-color="#52ff00"/><stop offset="0.592" stop-color="#a0ff00"/><stop offset="0.715" stop-color="#fffe00"/><stop offset="0.759" stop-color="#ffd900"/><stop offset="0.855" stop-color="#ff7d00"/><stop offset="1" stop-color="#ff2500"/></linearGradient><linearGradient id="ge72"><stop offset="0" stop-color="#00deff"/><stop offset="0.039" stop-color="#00fffd"/><stop offset="0.215" stop-color="#00ff59"/><stop offset="0.329" stop-color="#01ff00"/><stop offset="0.596" stop-color="#a3ff00"/><stop offset="0.715" stop-color="#ff0"/><stop offset="0.768" stop-color="#ffd000"/><stop offset="0.864" stop-color="#ff7500"/><stop offset="1" stop-color="#ff2400"/></linearGradient><linearGradient id="ge73"><stop offset="0" stop-color="#00e0ff"/><stop offset="0.035" stop-color="#00fffe"/><stop offset="0.215" stop-color="#0f5"/><stop offset="0.325" stop-color="#0f0"/><stop offset="0.61" stop-color="#adff00"/><stop offset="0.715" stop-color="#ff0"/><stop offset="0.785" stop-color="#ffbf00"/><stop offset="0.868" stop-color="#ff7000"/><stop offset="1" stop-color="#ff2300"/></linearGradient><linearGradient id="ge74"><stop offset="0" stop-color="#00e1ff"/><stop offset="0.035" stop-color="#00fffd"/><stop offset="0.215" stop-color="#00ff54"/><stop offset="0.325" stop-color="#01ff00"/><stop offset="0.618" stop-color="#b0ff00"/><stop offset="0.724" stop-color="#fffc00"/><stop offset="0.781" stop-color="#ffc900"/><stop offset="0.868" stop-color="#ff7500"/><stop offset="1" stop-color="#ff2900"/></linearGradient><linearGradient id="ge75"><stop offset="0" stop-color="#00e0ff"/><stop offset="0.035" stop-color="#0ff"/><stop offset="0.175" stop-color="#00ff7a"/><stop offset="0.237" stop-color="#00ff47"/><stop offset="0.329" stop-color="#01ff00"/><stop offset="0.605" stop-color="#9eff00"/><stop offset="0.737" stop-color="#fffe00"/><stop offset="0.759" stop-color="#fe0"/><stop offset="0.868" stop-color="#ff8400"/><stop offset="0.89" stop-color="#ff7c00"/><stop offset="1" stop-color="#ff3c00"/></linearGradient><linearGradient id="ge76"><stop offset="0" stop-color="#00dfff"/><stop offset="0.039" stop-color="#00fffc"/><stop offset="0.136" stop-color="#00ffa4"/><stop offset="0.211" stop-color="#00ff5e"/><stop offset="0.333" stop-color="#01ff00"/><stop offset="0.474" stop-color="#51ff00"/><stop offset="0.605" stop-color="#9f0"/><stop offset="0.627" stop-color="#a3ff00"/><stop offset="0.737" stop-color="#f6ff00"/><stop offset="0.759" stop-color="#fffd00"/><stop offset="0.868" stop-color="#ff9400"/><stop offset="0.89" stop-color="#ff9000"/><stop offset="1" stop-color="#ff5000"/></linearGradient><linearGradient id="ge77"><stop offset="0" stop-color="#00dfff"/><stop offset="0.039" stop-color="#00fffe"/><stop offset="0.132" stop-color="#00ffab"/><stop offset="0.211" stop-color="#00ff61"/><stop offset="0.338" stop-color="#0f0"/><stop offset="0.474" stop-color="#4dff00"/><stop offset="0.513" stop-color="#5fff00"/><stop offset="0.605" stop-color="#93ff00"/><stop offset="0.632" stop-color="#9cff00"/><stop offset="0.737" stop-color="#ecff00"/><stop offset="0.763" stop-color="#f6ff00"/><stop offset="0.776" stop-color="#fffb00"/><stop offset="0.868" stop-color="#ffa300"/><stop offset="0.895" stop-color="#ffa100"/><stop offset="1" stop-color="#ff6400"/></linearGradient><linearGradient id="ge78"><stop offset="0" stop-color="#00deff"/><stop offset="0.039" stop-color="#0ff"/><stop offset="0.132" stop-color="#00ffae"/><stop offset="0.211" stop-color="#00ff64"/><stop offset="0.342" stop-color="#00ff01"/><stop offset="0.478" stop-color="#4bff00"/><stop offset="0.522" stop-color="#5fff00"/><stop offset="0.605" stop-color="#8dff00"/><stop offset="0.636" stop-color="#96ff00"/><stop offset="0.737" stop-color="#e2ff00"/><stop offset="0.768" stop-color="#ebff00"/><stop offset="0.789" stop-color="#fffe00"/><stop offset="0.868" stop-color="#ffb300"/><stop offset="0.904" stop-color="#ffb000"/><stop offset="1" stop-color="#f70"/></linearGradient><linearGradient id="ge79"><stop offset="0" stop-color="#0df"/><stop offset="0.044" stop-color="#00fffc"/><stop offset="0.132" stop-color="#00ffb0"/><stop offset="0.211" stop-color="#00ff67"/><stop offset="0.346" stop-color="#00ff02"/><stop offset="0.478" stop-color="#47ff00"/><stop offset="0.522" stop-color="#59ff00"/><stop offset="0.605" stop-color="#8f0"/><stop offset="0.645" stop-color="#93ff00"/><stop offset="0.737" stop-color="#d9ff00"/><stop offset="0.776" stop-color="#e4ff00"/><stop offset="0.807" stop-color="#fffc00"/><stop offset="0.868" stop-color="#ffc200"/><stop offset="0.908" stop-color="#ffc100"/><stop offset="1" stop-color="#ff8b00"/></linearGradient><linearGradient id="ge80"><stop offset="0" stop-color="#00dcff"/><stop offset="0.044" stop-color="#00fffe"/><stop offset="0.14" stop-color="#00ffab"/><stop offset="0.211" stop-color="#00ff69"/><stop offset="0.351" stop-color="#00ff03"/><stop offset="0.478" stop-color="#4f0"/><stop offset="0.526" stop-color="#56ff00"/><stop offset="0.605" stop-color="#82ff00"/><stop offset="0.649" stop-color="#8dff00"/><stop offset="0.737" stop-color="#cfff00"/><stop offset="0.781" stop-color="#d8ff00"/><stop offset="0.82" stop-color="#ff0"/><stop offset="0.868" stop-color="#ffd200"/><stop offset="0.917" stop-color="#ffcf00"/><stop offset="1" stop-color="#ff9f00"/></linearGradient><linearGradient id="ge81"><stop offset="0" stop-color="#00dbff"/><stop offset="0.044" stop-color="#0ff"/><stop offset="0.145" stop-color="#00ffa9"/><stop offset="0.211" stop-color="#00ff6c"/><stop offset="0.355" stop-color="#00ff04"/><stop offset="0.39" stop-color="#1f0"/><stop offset="0.478" stop-color="#40ff00"/><stop offset="0.531" stop-color="#53ff00"/><stop offset="0.605" stop-color="#7cff00"/><stop offset="0.658" stop-color="#8aff00"/><stop offset="0.737" stop-color="#c5ff00"/><stop offset="0.789" stop-color="#d2ff00"/><stop offset="0.838" stop-color="#fffe00"/><stop offset="0.868" stop-color="#ffe100"/><stop offset="0.925" stop-color="#ffde00"/><stop offset="1" stop-color="#ffb200"/></linearGradient><linearGradient id="ge82"><stop offset="0" stop-color="#00daff"/><stop offset="0.048" stop-color="#00fffd"/><stop offset="0.149" stop-color="#00ffa8"/><stop offset="0.211" stop-color="#00ff6f"/><stop offset="0.355" stop-color="#00ff07"/><stop offset="0.377" stop-color="#05ff00"/><stop offset="0.478" stop-color="#3dff00"/><stop offset="0.539" stop-color="#52ff00"/><stop offset="0.605" stop-color="#7f0"/><stop offset="0.662" stop-color="#83ff00"/><stop offset="0.737" stop-color="#bf0"/><stop offset="0.794" stop-color="#c6ff00"/><stop offset="0.855" stop-color="#fffc00"/><stop offset="0.873" stop-color="#fff100"/><stop offset="0.93" stop-color="#ffef00"/><stop offset="1" stop-color="#ffc600"/></linearGradient><linearGradient id="ge83"><stop offset="0" stop-color="#00d9ff"/><stop offset="0.048" stop-color="#00fffe"/><stop offset="0.158" stop-color="#00ffa2"/><stop offset="0.211" stop-color="#00ff72"/><stop offset="0.355" stop-color="#00ff0b"/><stop offset="0.382" stop-color="#04ff00"/><stop offset="0.478" stop-color="#39ff00"/><stop offset="0.544" stop-color="#4fff00"/><stop offset="0.605" stop-color="#71ff00"/><stop offset="0.671" stop-color="#80ff00"/><stop offset="0.737" stop-color="#b1ff00"/><stop offset="0.803" stop-color="#bfff00"/><stop offset="0.868" stop-color="#feff00"/><stop offset="0.939" stop-color="#fffe00"/><stop offset="1" stop-color="#ffda00"/></linearGradient><linearGradient id="ge84"><stop offset="0" stop-color="#00d8ff"/><stop offset="0.048" stop-color="#00feff"/><stop offset="0.162" stop-color="#00ffa1"/><stop offset="0.215" stop-color="#00ff72"/><stop offset="0.355" stop-color="#00ff0f"/><stop offset="0.386" stop-color="#03ff00"/><stop offset="0.478" stop-color="#36ff00"/><stop offset="0.553" stop-color="#4fff00"/><stop offset="0.61" stop-color="#6cff00"/><stop offset="0.68" stop-color="#7dff00"/><stop offset="0.737" stop-color="#a7ff00"/><stop offset="0.811" stop-color="#b8ff00"/><stop offset="0.868" stop-color="#ef0"/><stop offset="0.943" stop-color="#efff00"/><stop offset="0.974" stop-color="#fffd00"/><stop offset="1" stop-color="#fe0"/></linearGradient><linearGradient id="ge85"><stop offset="0" stop-color="#00d7ff"/><stop offset="0.053" stop-color="#00fffd"/><stop offset="0.167" stop-color="#00ff9f"/><stop offset="0.215" stop-color="#00ff75"/><stop offset="0.355" stop-color="#00ff12"/><stop offset="0.39" stop-color="#02ff00"/><stop offset="0.478" stop-color="#32ff00"/><stop offset="0.557" stop-color="#4cff00"/><stop offset="0.61" stop-color="#67ff00"/><stop offset="0.684" stop-color="#7f0"/><stop offset="0.737" stop-color="#9eff00"/><stop offset="0.816" stop-color="#adff00"/><stop offset="0.868" stop-color="#dfff00"/><stop offset="0.952" stop-color="#e1ff00"/><stop offset="1" stop-color="#fdff00"/></linearGradient><linearGradient id="ge86"><stop offset="0" stop-color="#00d6ff"/><stop offset="0.053" stop-color="#00fffe"/><stop offset="0.175" stop-color="#0f9"/><stop offset="0.219" stop-color="#00ff74"/><stop offset="0.36" stop-color="#00ff13"/><stop offset="0.395" stop-color="#02ff00"/><stop offset="0.478" stop-color="#2fff00"/><stop offset="0.566" stop-color="#4bff00"/><stop offset="0.61" stop-color="#61ff00"/><stop offset="0.693" stop-color="#74ff00"/><stop offset="0.737" stop-color="#94ff00"/><stop offset="0.825" stop-color="#a6ff00"/><stop offset="0.868" stop-color="#cfff00"/><stop offset="0.961" stop-color="#d2ff00"/><stop offset="1" stop-color="#e9ff00"/></linearGradient><linearGradient id="ge87"><stop offset="0" stop-color="#00d5ff"/><stop offset="0.057" stop-color="#00fffc"/><stop offset="0.18" stop-color="#00ff98"/><stop offset="0.224" stop-color="#00ff74"/><stop offset="0.36" stop-color="#00ff16"/><stop offset="0.404" stop-color="#03ff00"/><stop offset="0.478" stop-color="#2bff00"/><stop offset="0.575" stop-color="#4bff00"/><stop offset="0.61" stop-color="#5cff00"/><stop offset="0.702" stop-color="#71ff00"/><stop offset="0.737" stop-color="#8aff00"/><stop offset="0.833" stop-color="#9fff00"/><stop offset="0.868" stop-color="#c0ff00"/><stop offset="0.965" stop-color="#c1ff00"/><stop offset="1" stop-color="#d5ff00"/></linearGradient><linearGradient id="ge88"><stop offset="0" stop-color="#00d4ff"/><stop offset="0.057" stop-color="#00fffd"/><stop offset="0.189" stop-color="#00ff92"/><stop offset="0.351" stop-color="#00ff1f"/><stop offset="0.408" stop-color="#02ff00"/><stop offset="0.478" stop-color="#28ff00"/><stop offset="0.579" stop-color="#48ff00"/><stop offset="0.61" stop-color="#56ff00"/><stop offset="0.706" stop-color="#6aff00"/><stop offset="0.737" stop-color="#80ff00"/><stop offset="0.838" stop-color="#94ff00"/><stop offset="0.868" stop-color="#b0ff00"/><stop offset="0.974" stop-color="#b2ff00"/><stop offset="1" stop-color="#c2ff00"/></linearGradient><linearGradient id="ge89"><stop offset="0" stop-color="#00d3ff"/><stop offset="0.057" stop-color="#0ff"/><stop offset="0.193" stop-color="#00ff91"/><stop offset="0.36" stop-color="#00ff1e"/><stop offset="0.412" stop-color="#01ff00"/><stop offset="0.478" stop-color="#24ff00"/><stop offset="0.588" stop-color="#47ff00"/><stop offset="0.623" stop-color="#53ff00"/><stop offset="0.715" stop-color="#67ff00"/><stop offset="0.737" stop-color="#76ff00"/><stop offset="0.846" stop-color="#8dff00"/><stop offset="0.868" stop-color="#a1ff00"/><stop offset="0.982" stop-color="#a4ff00"/><stop offset="1" stop-color="#aeff00"/></linearGradient><linearGradient id="ge90"><stop offset="0" stop-color="#00d2ff"/><stop offset="0.061" stop-color="#00fffc"/><stop offset="0.228" stop-color="#00ff7a"/><stop offset="0.368" stop-color="#00ff1c"/><stop offset="0.421" stop-color="#03ff00"/><stop offset="0.478" stop-color="#21ff00"/><stop offset="0.592" stop-color="#4f0"/><stop offset="0.724" stop-color="#64ff00"/><stop offset="0.746" stop-color="#6eff00"/><stop offset="0.855" stop-color="#86ff00"/><stop offset="0.873" stop-color="#91ff00"/><stop offset="0.987" stop-color="#93ff00"/><stop offset="1" stop-color="#9aff00"/></linearGradient><linearGradient id="ge91"><stop offset="0" stop-color="#00d1ff"/><stop offset="0.061" stop-color="#00fffd"/><stop offset="0.232" stop-color="#00ff79"/><stop offset="0.373" stop-color="#00ff1d"/><stop offset="0.425" stop-color="#02ff00"/><stop offset="0.478" stop-color="#1dff00"/><stop offset="0.632" stop-color="#49ff00"/><stop offset="0.728" stop-color="#5eff00"/><stop offset="0.86" stop-color="#7bff00"/><stop offset="0.873" stop-color="#82ff00"/><stop offset="0.996" stop-color="#84ff00"/><stop offset="1" stop-color="#87ff00"/></linearGradient><linearGradient id="ge92"><stop offset="0" stop-color="#00d0ff"/><stop offset="0.061" stop-color="#00fffe"/><stop offset="0.237" stop-color="#00ff79"/><stop offset="0.377" stop-color="#00ff1e"/><stop offset="0.434" stop-color="#03ff00"/><stop offset="0.482" stop-color="#1bff00"/><stop offset="0.64" stop-color="#45ff00"/><stop offset="0.882" stop-color="#72ff00"/><stop offset="1" stop-color="#73ff00"/></linearGradient><linearGradient id="ge93"><stop offset="0" stop-color="#00c6ff"/><stop offset="0.075" stop-color="#00fcff"/><stop offset="0.088" stop-color="#00fffb"/><stop offset="0.206" stop-color="#00ffa2"/><stop offset="0.342" stop-color="#00ff4b"/><stop offset="0.478" stop-color="#0f0"/><stop offset="0.61" stop-color="#24ff00"/><stop offset="0.882" stop-color="#51ff00"/><stop offset="1" stop-color="#51ff00"/></linearGradient><linearGradient id="ge94"><stop offset="0" stop-color="#00bcff"/><stop offset="0.075" stop-color="#00efff"/><stop offset="0.11" stop-color="#00fffe"/><stop offset="0.206" stop-color="#00ffb5"/><stop offset="0.25" stop-color="#00ff9f"/><stop offset="0.342" stop-color="#00ff63"/><stop offset="0.408" stop-color="#00ff42"/><stop offset="0.478" stop-color="#00ff1c"/><stop offset="0.583" stop-color="#03ff00"/><stop offset="0.627" stop-color="#08ff00"/><stop offset="0.75" stop-color="#1bff00"/><stop offset="0.886" stop-color="#2eff00"/><stop offset="1" stop-color="#2eff00"/></linearGradient><linearGradient id="ge95"><stop offset="0" stop-color="#00b1ff"/><stop offset="0.061" stop-color="#00dcff"/><stop offset="0.127" stop-color="#00fbff"/><stop offset="0.154" stop-color="#00ffef"/><stop offset="0.206" stop-color="#00ffc8"/><stop offset="0.263" stop-color="#00ffaf"/><stop offset="0.342" stop-color="#00ff7c"/><stop offset="0.408" stop-color="#00ff5e"/><stop offset="0.478" stop-color="#00ff38"/><stop offset="0.61" stop-color="#00ff15"/><stop offset="0.675" stop-color="#00ff10"/><stop offset="0.754" stop-color="#00ff05"/><stop offset="0.829" stop-color="#04ff00"/><stop offset="0.895" stop-color="#0bff00"/><stop offset="1" stop-color="#0bff00"/></linearGradient><linearGradient id="ge96"><stop offset="0" stop-color="#00a6ff"/><stop offset="0.061" stop-color="#00cfff"/><stop offset="0.145" stop-color="#00f5ff"/><stop offset="0.162" stop-color="#00fffb"/><stop offset="0.211" stop-color="#00ffda"/><stop offset="0.281" stop-color="#00ffbc"/><stop offset="0.342" stop-color="#00ff94"/><stop offset="0.421" stop-color="#00ff72"/><stop offset="0.478" stop-color="#00ff54"/><stop offset="0.61" stop-color="#00ff31"/><stop offset="0.689" stop-color="#00ff2d"/><stop offset="0.754" stop-color="#00ff24"/><stop offset="0.825" stop-color="#00ff20"/><stop offset="0.89" stop-color="#00ff18"/><stop offset="1" stop-color="#00ff18"/></linearGradient><linearGradient id="ge97"><stop offset="0" stop-color="#009cff"/><stop offset="0.079" stop-color="#0cf"/><stop offset="0.162" stop-color="#00efff"/><stop offset="0.184" stop-color="#00fffe"/><stop offset="0.215" stop-color="#00ffec"/><stop offset="0.298" stop-color="#00ffc8"/><stop offset="0.346" stop-color="#00ffab"/><stop offset="0.439" stop-color="#00ff84"/><stop offset="0.482" stop-color="#00ff6f"/><stop offset="0.61" stop-color="#00ff4d"/><stop offset="0.706" stop-color="#00ff49"/><stop offset="0.768" stop-color="#0f4"/><stop offset="0.842" stop-color="#00ff40"/><stop offset="0.912" stop-color="#00ff3b"/><stop offset="1" stop-color="#00ff3b"/></linearGradient><linearGradient id="ge98"><stop offset="0" stop-color="#0091ff"/><stop offset="0.083" stop-color="#00c1ff"/><stop offset="0.18" stop-color="#00eaff"/><stop offset="0.215" stop-color="#0ff"/><stop offset="0.316" stop-color="#00ffd5"/><stop offset="0.355" stop-color="#00ffc1"/><stop offset="0.456" stop-color="#00ff96"/><stop offset="0.605" stop-color="#00ff69"/><stop offset="0.724" stop-color="#0f6"/><stop offset="0.86" stop-color="#00ff60"/><stop offset="1" stop-color="#00ff5f"/></linearGradient><linearGradient id="ge99"><stop offset="0" stop-color="#0087ff"/><stop offset="0.083" stop-color="#00b5ff"/><stop offset="0.197" stop-color="#00e4ff"/><stop offset="0.272" stop-color="#00fffc"/><stop offset="0.496" stop-color="#00ffa4"/><stop offset="0.61" stop-color="#00ff85"/><stop offset="1" stop-color="#00ff82"/></linearGradient><linearGradient id="ge100"><stop offset="0" stop-color="#007cff"/><stop offset="0.07" stop-color="#00a1ff"/><stop offset="0.329" stop-color="#00fffd"/><stop offset="0.482" stop-color="#00ffc7"/><stop offset="0.61" stop-color="#00ffa5"/><stop offset="1" stop-color="#00ffa5"/></linearGradient><linearGradient id="ge101"><stop offset="0" stop-color="#0070ff"/><stop offset="0.022" stop-color="#07f"/><stop offset="0.07" stop-color="#0091ff"/><stop offset="0.101" stop-color="#0097ff"/><stop offset="0.206" stop-color="#00bdff"/><stop offset="0.237" stop-color="#00c4ff"/><stop offset="0.338" stop-color="#00e9ff"/><stop offset="0.368" stop-color="#00efff"/><stop offset="0.417" stop-color="#00fffc"/><stop offset="0.474" stop-color="#00ffe9"/><stop offset="0.531" stop-color="#00ffdc"/><stop offset="0.61" stop-color="#00ffc8"/><stop offset="1" stop-color="#00ffc8"/></linearGradient><linearGradient id="ge102"><stop offset="0" stop-color="#0064ff"/><stop offset="0.022" stop-color="#0067ff"/><stop offset="0.07" stop-color="#0082ff"/><stop offset="0.11" stop-color="#0085ff"/><stop offset="0.206" stop-color="#00a8ff"/><stop offset="0.241" stop-color="#00abff"/><stop offset="0.338" stop-color="#00cfff"/><stop offset="0.377" stop-color="#00d3ff"/><stop offset="0.474" stop-color="#00f6ff"/><stop offset="0.513" stop-color="#00faff"/><stop offset="0.553" stop-color="#00fff9"/><stop offset="0.614" stop-color="#00ffeb"/><stop offset="1" stop-color="#00ffeb"/></linearGradient><linearGradient id="ge103"><stop offset="0" stop-color="#0059ff"/><stop offset="0.026" stop-color="#005aff"/><stop offset="0.07" stop-color="#0072ff"/><stop offset="0.123" stop-color="#0076ff"/><stop offset="0.206" stop-color="#0094ff"/><stop offset="0.254" stop-color="#0097ff"/><stop offset="0.338" stop-color="#00b5ff"/><stop offset="0.39" stop-color="#00b9ff"/><stop offset="0.474" stop-color="#00d7ff"/><stop offset="0.526" stop-color="#00dbff"/><stop offset="0.61" stop-color="#00f0ff"/><stop offset="1" stop-color="#00f0ff"/></linearGradient><linearGradient id="ge104"><stop offset="0" stop-color="#004dff"/><stop offset="0.035" stop-color="#0050ff"/><stop offset="0.07" stop-color="#0062ff"/><stop offset="0.136" stop-color="#06f"/><stop offset="0.206" stop-color="#007fff"/><stop offset="0.268" stop-color="#0082ff"/><stop offset="0.338" stop-color="#009bff"/><stop offset="0.399" stop-color="#009eff"/><stop offset="0.474" stop-color="#00b8ff"/><stop offset="0.539" stop-color="#00bcff"/><stop offset="0.61" stop-color="#00cdff"/><stop offset="1" stop-color="#00cdff"/></linearGradient><linearGradient id="ge105"><stop offset="0" stop-color="#0041ff"/><stop offset="0.039" stop-color="#0043ff"/><stop offset="0.07" stop-color="#0053ff"/><stop offset="0.145" stop-color="#05f"/><stop offset="0.206" stop-color="#006aff"/><stop offset="0.281" stop-color="#006dff"/><stop offset="0.342" stop-color="#0082ff"/><stop offset="0.412" stop-color="#0084ff"/><stop offset="0.474" stop-color="#09f"/><stop offset="0.548" stop-color="#009bff"/><stop offset="0.61" stop-color="#0af"/><stop offset="1" stop-color="#0af"/></linearGradient><linearGradient id="ge106"><stop offset="0" stop-color="#0036ff"/><stop offset="0.048" stop-color="#0039ff"/><stop offset="0.07" stop-color="#0043ff"/><stop offset="0.158" stop-color="#0045ff"/><stop offset="0.206" stop-color="#0056ff"/><stop offset="0.294" stop-color="#0058ff"/><stop offset="0.342" stop-color="#0068ff"/><stop offset="0.425" stop-color="#006aff"/><stop offset="0.474" stop-color="#007aff"/><stop offset="0.561" stop-color="#007cff"/><stop offset="0.614" stop-color="#0087ff"/><stop offset="1" stop-color="#0087ff"/></linearGradient><linearGradient id="ge107"><stop offset="0" stop-color="#002aff"/><stop offset="0.053" stop-color="#002cff"/><stop offset="0.075" stop-color="#0034ff"/><stop offset="0.171" stop-color="#0036ff"/><stop offset="0.211" stop-color="#0041ff"/><stop offset="0.307" stop-color="#0043ff"/><stop offset="0.342" stop-color="#004eff"/><stop offset="0.439" stop-color="#0050ff"/><stop offset="0.478" stop-color="#005bff"/><stop offset="0.575" stop-color="#005dff"/><stop offset="0.618" stop-color="#0064ff"/><stop offset="1" stop-color="#0064ff"/></linearGradient><linearGradient id="ge108"><stop offset="0" stop-color="#001eff"/><stop offset="0.061" stop-color="#0021ff"/><stop offset="0.189" stop-color="#0028ff"/><stop offset="0.228" stop-color="#002cff"/><stop offset="0.32" stop-color="#002fff"/><stop offset="0.351" stop-color="#0034ff"/><stop offset="0.452" stop-color="#0036ff"/><stop offset="0.487" stop-color="#003cff"/><stop offset="0.588" stop-color="#003eff"/><stop offset="0.667" stop-color="#0041ff"/><stop offset="1" stop-color="#0041ff"/></linearGradient><linearGradient id="ge109"><stop offset="0" stop-color="#0013ff"/><stop offset="0.807" stop-color="#001eff"/><stop offset="1" stop-color="#001eff"/></linearGradient><linearGradient id="cb" x1="0" y1="1" x2="0" y2="0"><stop offset="0" stop-color="#00f"/><stop offset=".25" stop-color="#0ff"/><stop offset=".5" stop-color="#0f0"/><stop offset=".75" stop-color="#ff0"/><stop offset="1" stop-color="#f00"/></linearGradient></defs><g><rect x="17.00" y="8.75" width="113.60" height="0.25" fill="url(#ga0)"/><rect x="17.00" y="9.00" width="113.60" height="1.00" fill="url(#ga1)"/><rect x="17.00" y="10.00" width="113.60" height="1.00" fill="url(#ga2)"/><rect x="17.00" y="11.00" width="113.60" height="1.00" fill="url(#ga3)"/><rect x="17.00" y="12.00" width="113.60" height="1.00" fill="url(#ga4)"/><rect x="17.00" y="13.00" width="113.60" height="1.00" fill="url(#ga5)"/><rect x="17.00" y="14.00" width="113.60" height="1.00" fill="url(#ga6)"/><rect x="17.00" y="15.00" width="113.60" height="1.00" fill="url(#ga7)"/><rect x="17.00" y="16.00" width="113.60" height="1.00" fill="url(#ga8)"/><rect x="17.00" y="17.00" width="113.60" height="1.00" fill="url(#ga9)"/><rect x="17.00" y="18.00" width="113.60" height="1.00" fill="url(#ga10)"/><rect x="17.00" y="19.00" width="113.60" height="1.00" fill="url(#ga11)"/><rect x="17.00" y="20.00" width="113.60" height="1.00" fill="url(#ga12)"/><rect x="17.00" y="21.00" width="113.60" height="1.00" fill="url(#ga13)"/><rect x="17.00" y="22.00" width="113.60" height="1.00" fill="url(#ga14)"/><rect x="17.00" y="23.00" width="113.60" height="1.00" fill="url(#ga15)"/><rect x="17.00" y="24.00" width="113.60" height="1.00" fill="url(#ga16)"/><rect x="17.00" y="25.00" width="113.60" height="1.00" fill="url(#ga17)"/><rect x="17.00" y="26.00" width="113.60" height="1.00" fill="url(#ga18)"/><rect x="17.00" y="27.00" width="113.60" height="1.00" fill="url(#ga19)"/><rect x="17.00" y="28.00" width="113.60" height="1.00" fill="url(#ga20)"/><rect x="17.00" y="29.00" width="113.60" height="1.00" fill="url(#ga21)"/><rect x="17.00" y="30.00" width="113.60" height="1.00" fill="url(#ga22)"/><rect x="17.00" y="31.00" width="113.60" height="1.00" fill="url(#ga23)"/><rect x="17.00" y="32.00" width="113.60" height="1.00" fill="url(#ga24)"/><rect x="17.00" y="33.00" width="113.60" height="1.00" fill="url(#ga25)"/><rect x="17.00" y="34.00" width="113.60" height="1.00" fill="url(#ga26)"/><rect x="17.00" y="35.00" width="113.60" height="1.00" fill="url(#ga27)"/><rect x="17.00" y="36.00" width="113.60" height="1.00" fill="url(#ga28)"/><rect x="17.00" y="37.00" width="113.60" height="1.00" fill="url(#ga29)"/><rect x="17.00" y="38.00" width="113.60" height="1.00" fill="url(#ga30)"/><rect x="17.00" y="39.00" width="113.60" height="1.00" fill="url(#ga31)"/><rect x="17.00" y="40.00" width="113.60" height="1.00" fill="url(#ga32)"/><rect x="17.00" y="41.00" width="113.60" height="1.00" fill="url(#ga33)"/><rect x="17.00" y="42.00" width="113.60" height="1.00" fill="url(#ga34)"/><rect x="17.00" y="43.00" width="113.60" height="1.00" fill="url(#ga35)"/><rect x="17.00" y="44.00" width="113.60" height="1.00" fill="url(#ga36)"/><rect x="17.00" y="45.00" width="113.60" height="1.00" fill="url(#ga37)"/><rect x="17.00" y="46.00" width="113.60" height="1.00" fill="url(#ga38)"/><rect x="17.00" y="47.00" width="113.60" height="1.00" fill="url(#ga39)"/><rect x="17.00" y="48.00" width="113.60" height="1.00" fill="url(#ga40)"/><rect x="17.00" y="49.00" width="113.60" height="1.00" fill="url(#ga41)"/><rect x="17.00" y="50.00" width="113.60" height="1.00" fill="url(#ga42)"/><rect x="17.00" y="51.00" width="113.60" height="1.00" fill="url(#ga43)"/><rect x="17.00" y="52.00" width="113.60" height="1.00" fill="url(#ga44)"/><rect x="17.00" y="53.00" width="113.60" height="1.00" fill="url(#ga45)"/><rect x="17.00" y="54.00" width="113.60" height="1.00" fill="url(#ga46)"/><rect x="17.00" y="55.00" width="113.60" height="1.00" fill="url(#ga47)"/><rect x="17.00" y="56.00" width="113.60" height="1.00" fill="url(#ga48)"/><rect x="17.00" y="57.00" width="113.60" height="1.00" fill="url(#ga49)"/><rect x="17.00" y="58.00" width="113.60" height="1.00" fill="url(#ga50)"/><rect x="17.00" y="59.00" width="113.60" height="1.00" fill="url(#ga51)"/><rect x="17.00" y="60.00" width="113.60" height="1.00" fill="url(#ga52)"/><rect x="17.00" y="61.00" width="113.60" height="1.00" fill="url(#ga53)"/><rect x="17.00" y="62.00" width="113.60" height="1.00" fill="url(#ga54)"/><rect x="17.00" y="63.00" width="113.60" height="1.00" fill="url(#ga55)"/><rect x="17.00" y="64.00" width="113.60" height="1.00" fill="url(#ga56)"/><rect x="17.00" y="65.00" width="113.60" height="1.00" fill="url(#ga57)"/><rect x="17.00" y="66.00" width="113.60" height="1.00" fill="url(#ga58)"/><rect x="17.00" y="67.00" width="113.60" height="1.00" fill="url(#ga59)"/><rect x="17.00" y="68.00" width="113.60" height="1.00" fill="url(#ga60)"/><rect x="17.00" y="69.00" width="113.60" height="1.00" fill="url(#ga61)"/><rect x="17.00" y="70.00" width="113.60" height="1.00" fill="url(#ga62)"/><rect x="17.00" y="71.00" width="113.60" height="1.00" fill="url(#ga63)"/><rect x="17.00" y="72.00" width="113.60" height="1.00" fill="url(#ga64)"/><rect x="17.00" y="73.00" width="113.60" height="1.00" fill="url(#ga65)"/><rect x="17.00" y="74.00" width="113.60" height="1.00" fill="url(#ga66)"/><rect x="17.00" y="75.00" width="113.60" height="1.00" fill="url(#ga67)"/><rect x="17.00" y="76.00" width="113.60" height="1.00" fill="url(#ga68)"/><rect x="17.00" y="77.00" width="113.60" height="1.00" fill="url(#ga69)"/><rect x="17.00" y="78.00" width="113.60" height="1.00" fill="url(#ga70)"/><rect x="17.00" y="79.00" width="113.60" height="1.00" fill="url(#ga71)"/><rect x="17.00" y="80.00" width="113.60" height="1.00" fill="url(#ga72)"/><rect x="17.00" y="81.00" width="113.60" height="1.00" fill="url(#ga73)"/><rect x="17.00" y="82.00" width="113.60" height="1.00" fill="url(#ga74)"/><rect x="17.00" y="83.00" width="113.60" height="1.00" fill="url(#ga75)"/><rect x="17.00" y="84.00" width="113.60" height="1.00" fill="url(#ga76)"/><rect x="17.00" y="85.00" width="113.60" height="1.00" fill="url(#ga77)"/><rect x="17.00" y="86.00" width="113.60" height="1.00" fill="url(#ga78)"/><rect x="17.00" y="87.00" width="113.60" height="1.00" fill="url(#ga79)"/><rect x="17.00" y="88.00" width="113.60" height="1.00" fill="url(#ga80)"/><rect x="17.00" y="89.00" width="113.60" height="1.00" fill="url(#ga81)"/><rect x="17.00" y="90.00" width="113.60" height="1.00" fill="url(#ga82)"/><rect x="17.00" y="91.00" width="113.60" height="1.00" fill="url(#ga83)"/><rect x="17.00" y="92.00" width="113.60" height="1.00" fill="url(#ga84)"/><rect x="17.00" y="93.00" width="113.60" height="1.00" fill="url(#ga85)"/><rect x="17.00" y="94.00" width="113.60" height="1.00" fill="url(#ga86)"/><rect x="17.00" y="95.00" width="113.60" height="1.00" fill="url(#ga87)"/><rect x="17.00" y="96.00" width="113.60" height="1.00" fill="url(#ga88)"/><rect x="17.00" y="97.00" width="113.60" height="1.00" fill="url(#ga89)"/><rect x="17.00" y="98.00" width="113.60" height="1.00" fill="url(#ga90)"/><rect x="17.00" y="99.00" width="113.60" height="1.00" fill="url(#ga91)"/><rect x="17.00" y="100.00" width="113.60" height="1.00" fill="url(#ga92)"/><rect x="17.00" y="101.00" width="113.60" height="1.00" fill="url(#ga93)"/><rect x="17.00" y="102.00" width="113.60" height="1.00" fill="url(#ga94)"/><rect x="17.00" y="103.00" width="113.60" height="1.00" fill="url(#ga95)"/><rect x="17.00" y="104.00" width="113.60" height="1.00" fill="url(#ga96)"/><rect x="17.00" y="105.00" width="113.60" height="1.00" fill="url(#ga97)"/><rect x="17.00" y="106.00" width="113.60" height="1.00" fill="url(#ga98)"/><rect x="17.00" y="107.00" width="113.60" height="1.00" fill="url(#ga99)"/><rect x="17.00" y="108.00" width="113.60" height="1.00" fill="url(#ga100)"/><rect x="17.00" y="109.00" width="113.60" height="1.00" fill="url(#ga101)"/><rect x="17.00" y="110.00" width="113.60" height="1.00" fill="url(#ga102)"/><rect x="17.00" y="111.00" width="113.60" height="1.00" fill="url(#ga103)"/><rect x="17.00" y="112.00" width="113.60" height="1.00" fill="url(#ga104)"/><rect x="17.00" y="113.00" width="113.60" height="1.00" fill="url(#ga105)"/><rect x="17.00" y="114.00" width="113.60" height="1.00" fill="url(#ga106)"/><rect x="17.00" y="115.00" width="113.60" height="1.00" fill="url(#ga107)"/><rect x="17.00" y="116.00" width="113.60" height="1.00" fill="url(#ga108)"/><rect x="17.00" y="117.00" width="113.60" height="1.00" fill="url(#ga109)"/><rect x="17.00" y="118.00" width="113.60" height="0.40" fill="url(#ga110)"/></g>
<g fill="none" stroke="#1a3a2a" stroke-opacity="0.75" stroke-width="0.45"><path d="M130.6,108.4 129.6,108.4 128.6,108.4 127.6,108.4 126.6,108.4 125.6,108.4 124.6,108.4 123.6,108.4 122.6,108.4 121.6,108.4 120.6,108.4 119.6,108.4 118.6,108.4 117.6,108.4 116.6,108.4 115.6,108.4 114.6,108.4 113.6,108.4"/><path d="M102.6,108.4 101.6,108.4 100.6,108.4 99.6,108.4 98.6,108.4 97.6,108.3 96.6,108.3 95.6,108.3 94.6,108.3 93.6,108.3 92.6,108.3 91.6,108.3 90.6,108.3 89.6,108.3 88.6,108.2 87.6,108.2 86.6,108.2 85.6,108.2 84.6,108.1 83.6,108.1 82.6,108.0 81.6,107.9 80.9,107.9 80.1,107.8 79.1,107.8 78.1,107.7 77.1,107.6 76.1,107.6 75.1,107.5 74.1,107.4 73.5,107.4 72.5,107.3 71.5,107.3 70.5,107.2 69.5,107.1 68.5,106.9 68.0,106.9 67.0,106.7 66.0,106.6 65.0,106.5 64.0,106.5 63.0,106.4 62.1,106.4 61.5,106.4 60.5,106.3 59.5,106.3 58.5,106.2 57.5,106.1 56.5,106.1 55.5,106.0 54.5,105.9 54.0,105.8 53.0,105.7 52.0,105.5 51.5,105.4 50.5,105.2 49.5,105.0 49.0,104.9 48.0,104.7 47.0,104.5 46.0,104.4 45.1,104.4 44.5,104.4 43.5,104.3 42.5,104.3 41.5,104.2 40.5,104.1 39.5,104.1 38.5,104.0 37.9,103.9 37.0,103.8 36.0,103.6 35.0,103.5 34.0,103.4 33.5,103.3 32.5,103.2 31.5,103.1 30.5,102.9 30.0,102.9 29.0,102.7 28.0,102.6 27.0,102.5 26.0,102.4 25.5,102.3 24.5,102.2 23.8,101.9 23.0,101.5 22.5,101.2 22.0,100.5 21.9,99.9 21.9,98.9 21.8,97.9 21.7,96.9 21.6,95.9 21.5,95.0 21.4,94.4 21.4,93.4 21.3,92.4 21.2,91.4 21.1,90.4 21.0,89.5 20.9,88.9 20.9,88.4"/><path d="M130.6,100.0 129.6,99.9 128.6,99.9 127.6,99.9 126.6,100.0 125.6,100.0 124.6,100.0 123.6,100.0 122.6,100.0 121.6,100.0 120.6,100.0 119.6,100.0 118.6,100.0 117.6,100.0 116.6,100.0 115.6,100.1 114.8,99.9 114.1,99.8 113.1,99.8 112.1,99.8 111.1,99.8 110.1,99.8 109.1,99.8 108.1,99.8 107.1,99.8 106.1,99.8 105.1,99.8 104.1,99.8 103.1,99.8 102.1,99.8 101.1,99.8 100.1,99.7 99.1,99.5 98.1,99.4 97.4,99.4 96.6,99.3 95.6,99.3 94.6,99.3 93.6,99.2 92.6,99.2 91.6,99.1 90.6,99.1 89.6,99.0 88.6,99.0 87.6,99.0 86.6,98.9 85.6,98.9 85.1,98.8 84.2,98.4 83.6,98.1 83.1,97.8 82.1,97.4 81.6,97.3 80.6,97.1 79.6,96.9 79.1,96.8 78.1,96.6 77.1,96.4 76.6,96.3 75.6,96.1 74.6,95.9 74.1,95.8 73.0,95.6 72.0,95.4 71.5,95.3 70.5,95.2 69.7,94.9 69.0,94.4 68.5,94.1 68.0,93.8 67.3,93.4 66.5,92.9 66.0,92.6 65.5,92.2 64.9,91.9 64.2,91.4 63.5,91.0 63.0,90.7 62.5,90.4 61.8,89.9 61.0,89.4 60.5,89.1 60.0,88.8 59.0,88.4 58.5,88.2 57.5,87.9 57.0,87.8 56.0,87.4 55.5,87.3 54.7,86.9 54.2,86.4 53.7,85.9 53.2,85.4 52.7,84.9 52.2,84.4 51.7,83.9 51.2,83.4 50.7,82.9 50.4,82.4 50.5,81.3 50.5,80.3 50.5,79.8 50.6,78.8 50.6,77.8 50.7,76.8 50.7,75.8 50.7,74.8 50.7,73.8 50.7,72.8 50.7,71.8 50.7,70.8 50.7,69.8 50.7,68.8 50.7,67.8 50.7,66.8 50.7,65.8 50.7,64.8 50.7,63.8 50.7,62.8 50.7,61.8 50.7,60.8 50.8,59.8 50.8,58.8 50.8,57.8 50.8,56.8 50.8,55.8 50.9,54.8 50.9,53.8 50.9,52.8 50.9,51.8 51.0,50.8 51.0,49.8 51.0,49.3"/><path d="M50.8,43.3 50.6,42.3 50.5,41.6 50.4,40.8 50.3,39.8 50.1,38.8 50.0,38.0 49.9,37.3 49.8,36.3 49.7,35.3 49.5,34.3 49.5,33.8 49.3,32.8 49.2,31.8 49.1,30.8 49.0,30.3 48.9,29.3 48.7,28.3 48.6,27.3 48.5,26.7 48.4,25.8 48.3,24.8 48.1,23.8 48.0,22.8 48.0,22.3 47.8,21.3 47.7,20.3 47.6,19.3 47.5,18.8 47.4,17.8 47.2,16.8 47.1,15.8 47.0,15.1 46.9,14.3 46.8,13.3 46.7,12.3 46.5,11.3 46.5,10.8 46.3,9.8 46.2,8.8"/><path d="M130.6,93.4 129.6,93.4 128.9,93.4 128.1,93.3 127.1,93.3 126.1,93.3 125.1,93.3 124.1,93.2 123.1,93.3 122.1,93.3 121.1,93.3 120.1,93.3 119.1,93.3 118.1,93.3 117.1,93.3 116.1,93.3 115.1,93.2 114.1,93.0 113.6,92.8 112.6,92.6 111.9,92.4 111.1,92.2 110.1,91.9 109.6,91.8 108.6,91.5 108.1,91.4 107.1,91.2 106.1,91.2 105.1,91.2 104.1,91.2 103.1,91.2 102.1,91.2 101.1,91.2 100.1,91.1 99.2,90.9 98.6,90.7 97.6,90.4 97.1,90.3 96.1,90.0 95.5,89.9 94.6,89.6 93.7,89.4 93.1,89.2 92.1,88.9 91.6,88.8 90.6,88.5 89.9,88.4 89.1,88.3 88.1,88.3 87.1,88.2 86.1,88.2 85.1,88.1 84.6,87.8 83.6,87.4 83.1,87.1 82.5,86.9 81.6,86.4 81.1,86.2 80.4,85.9 79.6,85.4 79.1,85.2 78.4,84.9 77.6,84.5 77.1,84.2 76.3,83.9 75.6,83.5 75.1,83.3 74.2,82.9 73.6,82.4 73.6,81.3 73.6,80.3 73.6,79.3 73.6,78.3 73.6,77.3 73.6,76.3 73.6,75.3 73.6,74.3 73.6,73.3 73.6,72.3 73.6,71.3 73.6,70.3 73.6,69.3 73.6,68.3 73.7,67.3 73.7,66.3 73.8,65.3 73.9,64.3 74.1,63.4 74.2,62.8 74.3,61.8 74.5,60.8 74.6,60.3 74.8,59.3 75.0,58.3 75.1,57.8"/><path d="M76.0,52.3 76.1,51.8 76.1,50.8 76.2,49.8 76.3,48.8 76.4,47.8 76.4,46.8 76.5,45.8 76.4,44.8 76.3,43.8 76.2,42.8 76.1,41.8 76.0,41.3 75.9,40.3 75.8,39.3 75.6,38.3 75.6,37.5 75.5,36.8 75.3,35.8 75.2,34.8 75.1,33.8 75.1,33.3 74.9,32.3 74.8,31.3 74.7,30.3 74.6,29.3 74.5,28.8 74.4,27.8 74.3,26.8 74.2,25.8 74.1,24.8 74.0,24.3 73.9,23.3 73.8,22.3 73.6,21.3 73.5,20.5 73.5,19.8 73.4,18.8 73.2,17.8 73.1,16.8 73.0,16.2 72.9,15.3 72.7,14.3 72.5,13.6 72.4,12.8 72.2,11.8 72.0,11.0 71.9,10.3 71.7,9.3 71.6,8.8"/><path d="M130.6,86.9 130.1,86.9 129.1,86.8 128.1,86.8 127.1,86.8 126.1,86.8 125.1,86.7 124.1,86.7 123.1,86.7 122.1,86.6 121.1,86.6 120.1,86.6 119.1,86.6 118.1,86.6 117.1,86.6 116.1,86.6 115.1,86.5 114.6,86.4 113.6,86.1 112.7,85.9 112.1,85.7 111.1,85.4 110.6,85.3 109.6,85.0 108.9,84.9 108.1,84.6 107.1,84.4 106.6,84.2 105.6,84.0 105.1,83.8"/><path d="M100.0,79.3 100.0,78.3 99.9,77.3 99.8,76.3 99.7,75.3 99.6,74.3 99.6,73.6 99.5,72.8 99.4,71.8 99.3,70.8 99.3,69.8 99.2,68.8 99.1,67.8 99.1,67.3 99.0,66.3 98.9,65.3 98.8,64.3 98.9,63.3 98.9,62.3 98.9,61.3 98.9,60.3 98.9,59.3 98.9,58.3 98.9,57.3 98.9,56.3 98.9,55.3 98.9,54.3 98.9,53.3 98.9,52.3 98.9,51.3 98.9,50.3 98.9,49.3 98.9,48.3 98.9,47.3 98.9,46.3 98.8,45.3 98.6,44.3 98.4,43.8 98.1,42.8 98.0,42.3 97.7,41.3 97.6,40.7 97.3,39.8 97.1,38.9 96.9,38.3 96.6,37.3 96.5,36.8 96.3,35.8 96.1,35.1 95.9,34.3 95.6,33.3 95.5,32.8 95.3,31.8 95.1,31.0 94.9,30.3 94.6,29.3 94.5,28.8 94.3,27.8 94.1,26.9 93.9,26.3 93.7,25.3 93.5,24.8 93.3,23.8 93.1,22.8 92.9,22.3 92.7,21.3 92.6,20.7 92.3,19.8 92.1,18.8 92.0,18.3 91.7,17.3 91.6,16.6 91.4,15.8 91.1,14.8 91.0,14.3 90.7,13.3 90.6,12.5 90.4,11.8 90.1,10.8 90.0,10.3 89.8,9.3 89.6,8.8"/><path d="M130.6,38.3 130.2,37.3 130.1,36.8 129.7,35.8 129.5,35.3 129.2,34.3 129.0,33.8 128.6,32.8 128.5,32.3 128.1,31.3 127.9,30.8 127.6,29.9 127.4,29.3 127.1,28.5 126.9,27.8 126.6,27.1 126.3,26.3 126.1,25.7 125.8,24.8 125.6,24.2 125.2,23.3 125.1,22.8"/><path d="M123.6,18.8 123.5,18.3 123.1,17.3 122.9,16.8 122.6,15.8 122.4,15.3 122.1,14.4 121.9,13.8 121.6,13.0 121.3,12.3 121.1,11.6 120.8,10.8 120.6,10.2 120.2,9.3 120.1,8.8"/></g>
<rect x="17.30" y="9.05" width="113.00" height="109.05" fill="none" stroke="#3a2c2c" stroke-opacity="0.75" stroke-width="0.6"/>
<path d="M15.80,110.22h1.2M14.80,101.00h2.2M15.80,91.77h1.2M14.80,82.55h2.2M15.80,73.33h1.2M14.80,64.10h2.2M15.80,54.88h1.2M14.80,45.65h2.2M15.80,36.42h1.2M14.80,27.20h2.2M15.80,17.98h1.2M14.80,8.75h2.2M24.57,118.40v2.2M32.15,118.40v1.2M39.72,118.40v2.2M47.29,118.40v1.2M54.87,118.40v2.2M62.44,118.40v1.2M70.01,118.40v2.2M77.59,118.40v1.2M85.16,118.40v2.2M92.73,118.40v1.2M100.31,118.40v2.2M107.88,118.40v1.2M115.45,118.40v2.2M123.03,118.40v1.2M130.60,118.40v2.2" stroke="#111" stroke-width="0.8" fill="none"/>
<g font-size="5.1"><text transform="translate(14.00,103.05) rotate(.05)" text-anchor="end">0.5</text><text transform="translate(14.00,84.60) rotate(.05)" text-anchor="end">1.0</text><text transform="translate(14.00,66.15) rotate(.05)" text-anchor="end">1.5</text><text transform="translate(14.00,47.70) rotate(.05)" text-anchor="end">2.0</text><text transform="translate(14.00,29.25) rotate(.05)" text-anchor="end">2.5</text><text transform="translate(14.00,10.80) rotate(.05)" text-anchor="end">3.0</text><text transform="translate(24.57,126.05) rotate(.05)" text-anchor="middle">50</text><text transform="translate(39.72,126.05) rotate(.05)" text-anchor="middle">100</text><text transform="translate(54.87,126.05) rotate(.05)" text-anchor="middle">150</text><text transform="translate(70.01,126.05) rotate(.05)" text-anchor="middle">200</text><text transform="translate(85.16,126.05) rotate(.05)" text-anchor="middle">250</text><text transform="translate(100.31,126.05) rotate(.05)" text-anchor="middle">300</text><text transform="translate(115.45,126.05) rotate(.05)" text-anchor="middle">350</text><text transform="translate(130.60,126.05) rotate(.05)" text-anchor="middle">400</text></g>
<text transform="translate(74.15,134.20) rotate(.05)" text-anchor="middle" font-size="5.8">Power (W)</text>
<text transform="translate(4.90,63.58) rotate(-89.95)" text-anchor="middle" font-size="5.7">Pressure (Pa)</text>
<text transform="translate(30.00,5.80) rotate(.05)" font-size="5.72">(a) N<tspan dy="1.9" font-size="3.3">2</tspan><tspan dy="-1.9"> - 6 cm</tspan></text>
<text transform="translate(185.90,5.80) rotate(.05)" font-size="5.72" text-anchor="end">Plasma density (10<tspan dy="-2.7" font-size="3.3">10</tspan><tspan dy="2.7"> cm</tspan><tspan dy="-2.7" font-size="3.3">-3</tspan><tspan dy="2.7">)</tspan></text>
<rect x="149.10" y="10.35" width="9.50" height="106.30" fill="url(#cb)" stroke="#999" stroke-width="0.3"/>
<path d="M158.60,116.65h1.8M158.60,98.03h1.8M158.60,78.63h1.8M158.60,59.23h1.8M158.60,39.83h1.8M158.60,20.44h1.8" stroke="#222" stroke-width="0.5" fill="none"/>
<g font-size="3.7"><text transform="translate(162.00,117.95) rotate(.05)">0.20</text><text transform="translate(162.00,99.33) rotate(.05)">5.0</text><text transform="translate(162.00,79.93) rotate(.05)">10</text><text transform="translate(162.00,60.53) rotate(.05)">15</text><text transform="translate(162.00,41.13) rotate(.05)">20</text><text transform="translate(162.00,21.74) rotate(.05)">25</text></g>
<g font-size="6.05"><text transform="translate(52.90,48.40) rotate(.05)" text-anchor="middle">10.0</text><text transform="translate(74.60,57.35) rotate(.05)" text-anchor="middle">15</text><text transform="translate(118.20,23.65) rotate(.05)" text-anchor="middle">25.0</text><text transform="translate(100.60,84.35) rotate(.05)" text-anchor="middle">20</text><text transform="translate(108.10,111.35) rotate(.05)" text-anchor="middle">5.0</text></g>
<g><rect x="226.25" y="8.75" width="113.60" height="0.25" fill="url(#gb0)"/><rect x="226.25" y="9.00" width="113.60" height="1.00" fill="url(#gb1)"/><rect x="226.25" y="10.00" width="113.60" height="1.00" fill="url(#gb2)"/><rect x="226.25" y="11.00" width="113.60" height="1.00" fill="url(#gb3)"/><rect x="226.25" y="12.00" width="113.60" height="1.00" fill="url(#gb4)"/><rect x="226.25" y="13.00" width="113.60" height="1.00" fill="url(#gb5)"/><rect x="226.25" y="14.00" width="113.60" height="1.00" fill="url(#gb6)"/><rect x="226.25" y="15.00" width="113.60" height="1.00" fill="url(#gb7)"/><rect x="226.25" y="16.00" width="113.60" height="1.00" fill="url(#gb8)"/><rect x="226.25" y="17.00" width="113.60" height="1.00" fill="url(#gb9)"/><rect x="226.25" y="18.00" width="113.60" height="1.00" fill="url(#gb10)"/><rect x="226.25" y="19.00" width="113.60" height="1.00" fill="url(#gb11)"/><rect x="226.25" y="20.00" width="113.60" height="1.00" fill="url(#gb12)"/><rect x="226.25" y="21.00" width="113.60" height="1.00" fill="url(#gb13)"/><rect x="226.25" y="22.00" width="113.60" height="1.00" fill="url(#gb14)"/><rect x="226.25" y="23.00" width="113.60" height="1.00" fill="url(#gb15)"/><rect x="226.25" y="24.00" width="113.60" height="1.00" fill="url(#gb16)"/><rect x="226.25" y="25.00" width="113.60" height="1.00" fill="url(#gb17)"/><rect x="226.25" y="26.00" width="113.60" height="1.00" fill="url(#gb18)"/><rect x="226.25" y="27.00" width="113.60" height="1.00" fill="url(#gb19)"/><rect x="226.25" y="28.00" width="113.60" height="1.00" fill="url(#gb20)"/><rect x="226.25" y="29.00" width="113.60" height="1.00" fill="url(#gb21)"/><rect x="226.25" y="30.00" width="113.60" height="1.00" fill="url(#gb22)"/><rect x="226.25" y="31.00" width="113.60" height="1.00" fill="url(#gb23)"/><rect x="226.25" y="32.00" width="113.60" height="1.00" fill="url(#gb24)"/><rect x="226.25" y="33.00" width="113.60" height="1.00" fill="url(#gb25)"/><rect x="226.25" y="34.00" width="113.60" height="1.00" fill="url(#gb26)"/><rect x="226.25" y="35.00" width="113.60" height="1.00" fill="url(#gb27)"/><rect x="226.25" y="36.00" width="113.60" height="1.00" fill="url(#gb28)"/><rect x="226.25" y="37.00" width="113.60" height="1.00" fill="url(#gb29)"/><rect x="226.25" y="38.00" width="113.60" height="1.00" fill="url(#gb30)"/><rect x="226.25" y="39.00" width="113.60" height="1.00" fill="url(#gb31)"/><rect x="226.25" y="40.00" width="113.60" height="1.00" fill="url(#gb32)"/><rect x="226.25" y="41.00" width="113.60" height="1.00" fill="url(#gb33)"/><rect x="226.25" y="42.00" width="113.60" height="1.00" fill="url(#gb34)"/><rect x="226.25" y="43.00" width="113.60" height="1.00" fill="url(#gb35)"/><rect x="226.25" y="44.00" width="113.60" height="1.00" fill="url(#gb36)"/><rect x="226.25" y="45.00" width="113.60" height="1.00" fill="url(#gb37)"/><rect x="226.25" y="46.00" width="113.60" height="1.00" fill="url(#gb38)"/><rect x="226.25" y="47.00" width="113.60" height="1.00" fill="url(#gb39)"/><rect x="226.25" y="48.00" width="113.60" height="1.00" fill="url(#gb40)"/><rect x="226.25" y="49.00" width="113.60" height="1.00" fill="url(#gb41)"/><rect x="226.25" y="50.00" width="113.60" height="1.00" fill="url(#gb42)"/><rect x="226.25" y="51.00" width="113.60" height="1.00" fill="url(#gb43)"/><rect x="226.25" y="52.00" width="113.60" height="1.00" fill="url(#gb44)"/><rect x="226.25" y="53.00" width="113.60" height="1.00" fill="url(#gb45)"/><rect x="226.25" y="54.00" width="113.60" height="1.00" fill="url(#gb46)"/><rect x="226.25" y="55.00" width="113.60" height="1.00" fill="url(#gb47)"/><rect x="226.25" y="56.00" width="113.60" height="1.00" fill="url(#gb48)"/><rect x="226.25" y="57.00" width="113.60" height="1.00" fill="url(#gb49)"/><rect x="226.25" y="58.00" width="113.60" height="1.00" fill="url(#gb50)"/><rect x="226.25" y="59.00" width="113.60" height="1.00" fill="url(#gb51)"/><rect x="226.25" y="60.00" width="113.60" height="1.00" fill="url(#gb52)"/><rect x="226.25" y="61.00" width="113.60" height="1.00" fill="url(#gb53)"/><rect x="226.25" y="62.00" width="113.60" height="1.00" fill="url(#gb54)"/><rect x="226.25" y="63.00" width="113.60" height="1.00" fill="url(#gb55)"/><rect x="226.25" y="64.00" width="113.60" height="1.00" fill="url(#gb56)"/><rect x="226.25" y="65.00" width="113.60" height="1.00" fill="url(#gb57)"/><rect x="226.25" y="66.00" width="113.60" height="1.00" fill="url(#gb58)"/><rect x="226.25" y="67.00" width="113.60" height="1.00" fill="url(#gb59)"/><rect x="226.25" y="68.00" width="113.60" height="1.00" fill="url(#gb60)"/><rect x="226.25" y="69.00" width="113.60" height="1.00" fill="url(#gb61)"/><rect x="226.25" y="70.00" width="113.60" height="1.00" fill="url(#gb62)"/><rect x="226.25" y="71.00" width="113.60" height="1.00" fill="url(#gb63)"/><rect x="226.25" y="72.00" width="113.60" height="1.00" fill="url(#gb64)"/><rect x="226.25" y="73.00" width="113.60" height="1.00" fill="url(#gb65)"/><rect x="226.25" y="74.00" width="113.60" height="1.00" fill="url(#gb66)"/><rect x="226.25" y="75.00" width="113.60" height="1.00" fill="url(#gb67)"/><rect x="226.25" y="76.00" width="113.60" height="1.00" fill="url(#gb68)"/><rect x="226.25" y="77.00" width="113.60" height="1.00" fill="url(#gb69)"/><rect x="226.25" y="78.00" width="113.60" height="1.00" fill="url(#gb70)"/><rect x="226.25" y="79.00" width="113.60" height="1.00" fill="url(#gb71)"/><rect x="226.25" y="80.00" width="113.60" height="1.00" fill="url(#gb72)"/><rect x="226.25" y="81.00" width="113.60" height="1.00" fill="url(#gb73)"/><rect x="226.25" y="82.00" width="113.60" height="1.00" fill="url(#gb74)"/><rect x="226.25" y="83.00" width="113.60" height="1.00" fill="url(#gb75)"/><rect x="226.25" y="84.00" width="113.60" height="1.00" fill="url(#gb76)"/><rect x="226.25" y="85.00" width="113.60" height="1.00" fill="url(#gb77)"/><rect x="226.25" y="86.00" width="113.60" height="1.00" fill="url(#gb78)"/><rect x="226.25" y="87.00" width="113.60" height="1.00" fill="url(#gb79)"/><rect x="226.25" y="88.00" width="113.60" height="1.00" fill="url(#gb80)"/><rect x="226.25" y="89.00" width="113.60" height="1.00" fill="url(#gb81)"/><rect x="226.25" y="90.00" width="113.60" height="1.00" fill="url(#gb82)"/><rect x="226.25" y="91.00" width="113.60" height="1.00" fill="url(#gb83)"/><rect x="226.25" y="92.00" width="113.60" height="1.00" fill="url(#gb84)"/><rect x="226.25" y="93.00" width="113.60" height="1.00" fill="url(#gb85)"/><rect x="226.25" y="94.00" width="113.60" height="1.00" fill="url(#gb86)"/><rect x="226.25" y="95.00" width="113.60" height="1.00" fill="url(#gb87)"/><rect x="226.25" y="96.00" width="113.60" height="1.00" fill="url(#gb88)"/><rect x="226.25" y="97.00" width="113.60" height="1.00" fill="url(#gb89)"/><rect x="226.25" y="98.00" width="113.60" height="1.00" fill="url(#gb90)"/><rect x="226.25" y="99.00" width="113.60" height="1.00" fill="url(#gb91)"/><rect x="226.25" y="100.00" width="113.60" height="1.00" fill="url(#gb92)"/><rect x="226.25" y="101.00" width="113.60" height="1.00" fill="url(#gb93)"/><rect x="226.25" y="102.00" width="113.60" height="1.00" fill="url(#gb94)"/><rect x="226.25" y="103.00" width="113.60" height="1.00" fill="url(#gb95)"/><rect x="226.25" y="104.00" width="113.60" height="1.00" fill="url(#gb96)"/><rect x="226.25" y="105.00" width="113.60" height="1.00" fill="url(#gb97)"/><rect x="226.25" y="106.00" width="113.60" height="1.00" fill="url(#gb98)"/><rect x="226.25" y="107.00" width="113.60" height="1.00" fill="url(#gb99)"/><rect x="226.25" y="108.00" width="113.60" height="1.00" fill="url(#gb100)"/><rect x="226.25" y="109.00" width="113.60" height="1.00" fill="url(#gb101)"/><rect x="226.25" y="110.00" width="113.60" height="1.00" fill="url(#gb102)"/><rect x="226.25" y="111.00" width="113.60" height="1.00" fill="url(#gb103)"/><rect x="226.25" y="112.00" width="113.60" height="1.00" fill="url(#gb104)"/><rect x="226.25" y="113.00" width="113.60" height="1.00" fill="url(#gb105)"/><rect x="226.25" y="114.00" width="113.60" height="1.00" fill="url(#gb106)"/><rect x="226.25" y="115.00" width="113.60" height="1.00" fill="url(#gb107)"/><rect x="226.25" y="116.00" width="113.60" height="1.00" fill="url(#gb108)"/><rect x="226.25" y="117.00" width="113.60" height="1.00" fill="url(#gb109)"/><rect x="226.25" y="118.00" width="113.60" height="0.40" fill="url(#gb110)"/></g>
<g fill="none" stroke="#1a3a2a" stroke-opacity="0.75" stroke-width="0.45"><path d="M339.9,99.8 338.8,99.7 337.8,99.7 336.8,99.6 335.8,99.6 334.8,99.5 333.8,99.4 332.8,99.4 332.3,99.4 331.3,99.3 330.3,99.3 329.3,99.2 328.3,99.1 327.3,99.1 326.3,99.0 325.3,99.0 324.3,98.9 323.8,98.8 322.8,98.6 321.8,98.5 320.8,98.5 319.8,98.5 318.8,98.5 317.8,98.5 316.8,98.5 315.8,98.5 314.8,98.5 313.8,98.5 312.8,98.5 311.8,98.5 310.8,98.5 309.8,98.5 308.8,98.5 307.8,98.5 307.3,98.3 306.6,98.4 306.1,98.9 305.5,99.4 305.0,99.9 304.4,100.4 303.9,100.9 303.3,101.3 302.8,101.6 302.3,101.9 301.6,102.4 301.1,102.9 300.7,103.4 300.2,103.9 299.3,104.4 298.8,104.4 297.8,104.5 296.8,104.5 295.8,104.6 294.8,104.7 293.8,104.7 292.8,104.7 291.8,104.8 290.8,104.8 289.8,104.8 288.8,104.8 287.8,104.9 286.8,104.9 285.8,104.9 284.8,104.9 283.8,104.9 282.8,104.9 281.8,104.9 280.8,104.9 279.8,104.9 278.8,104.9 277.8,104.8 276.8,104.8 275.8,104.8 274.8,104.8 273.8,104.7 272.8,104.7 271.8,104.7 270.8,104.7 269.8,104.6 268.8,104.6 267.8,104.6 266.8,104.6 265.8,104.6 264.8,104.5 263.8,104.5 263.0,104.4 262.3,104.3 261.3,104.2 260.3,104.1 259.3,104.0 258.7,103.9 257.8,103.8 256.8,103.7 255.8,103.5 254.8,103.4 254.3,103.4 253.3,103.2 252.3,103.1 251.3,102.9 250.8,102.8 249.8,102.7 248.8,102.5 248.3,102.2 247.4,101.9 246.8,101.6 246.2,101.4 245.3,100.9 245.0,100.4 244.6,99.9 244.3,99.3 243.8,98.5 243.3,97.9 243.0,97.4 242.7,96.9 242.3,96.2 241.8,95.4 241.4,94.9 241.1,94.4 240.8,93.9 240.3,93.1 239.8,92.4 239.5,91.9 239.1,91.4 238.8,90.8 238.3,90.0 237.9,89.4 237.5,88.9 237.2,88.4 236.8,87.7 236.3,86.9 235.9,86.4 235.6,85.9 235.3,85.3 234.8,84.6 234.3,83.9 234.0,83.4 233.7,82.9 233.7,81.8 234.1,81.3 234.4,80.8 234.8,80.3 235.3,79.6 235.8,78.9 236.1,78.3 236.5,77.8 236.8,77.3 237.3,76.7 237.8,76.0 238.2,75.3 238.5,74.8 238.9,74.3 239.3,73.8 239.8,73.1 240.3,72.3 240.4,71.8 240.4,70.8 240.4,69.8 240.4,68.8 240.4,67.8 240.4,66.8 240.4,65.8 240.4,64.8 240.5,63.8 240.7,62.8 240.8,62.3 241.0,61.3 241.2,60.3 241.3,59.8 241.5,58.8 241.8,57.8 241.9,57.3 242.1,56.3 242.3,55.7 242.8,55.0 243.2,54.3 243.5,53.8 243.9,53.3 244.3,52.7 244.8,52.0 245.2,51.3 245.5,50.8 245.9,50.3 246.3,49.7 246.5,49.3"/><path d="M249.2,43.8 249.3,42.8 249.3,42.3 249.4,41.3 249.5,40.3 249.6,39.3 249.7,38.3 249.8,37.8 249.9,36.8 250.0,35.8 250.1,34.8 250.2,33.8 250.3,33.0 250.3,32.3 250.4,31.3 250.5,30.3 250.7,29.3 250.8,28.3 250.8,27.8 250.9,26.8 251.0,25.8 251.1,24.8 251.2,23.8 251.3,23.2 251.4,22.3 251.5,21.3 251.6,20.3 251.7,19.3 251.8,18.3 251.8,17.8 251.9,16.8 252.0,15.8 252.1,14.8 252.1,13.8 252.2,12.8 252.2,11.8 252.2,10.8 252.3,10.1 252.3,9.3 252.3,8.8"/><path d="M339.9,94.8 338.8,94.7 337.8,94.6 336.8,94.5 335.8,94.5 334.8,94.4 334.3,94.3 333.3,94.3 332.3,94.2 331.3,94.2 330.3,94.1 329.3,94.1 328.3,94.0 327.3,94.0 326.3,93.9 325.5,93.9 324.8,93.8 323.8,93.7 322.8,93.5 322.2,93.4 321.3,93.2 320.3,93.0 319.5,92.9 318.8,92.7 317.8,92.6 316.8,92.4 315.8,92.4 314.8,92.4 313.8,92.4 312.8,92.4 311.8,92.4 310.8,92.4 309.8,92.4 308.8,92.4 308.1,92.4 307.3,92.2 306.3,91.9 305.8,91.8 304.8,91.5 304.2,91.4 303.6,91.4 303.0,91.9 302.4,92.4 301.9,92.9 301.3,93.4 300.8,93.9 300.3,94.3 299.8,94.7 298.9,94.4 298.3,94.2 297.3,94.0 296.3,94.1 295.3,94.2 294.3,94.2 293.5,93.9 292.8,93.6 292.3,93.4 291.3,93.0 290.8,92.8 289.9,92.4 289.3,92.1 288.7,91.9 287.8,91.5 287.3,91.3 286.3,90.9 285.8,90.8 285.3,90.8"/><path d="M278.3,90.5 277.8,90.2 277.3,89.9 276.5,89.4 275.8,89.0 275.3,88.6 274.8,88.3 274.0,87.9 273.3,87.4 272.8,87.1 272.3,86.8 271.5,86.4 270.8,85.9 270.3,85.6 269.8,85.3 269.1,84.9 268.3,84.4 267.8,84.1 267.3,83.8 266.6,83.4 265.8,82.9 265.3,82.4 265.0,81.9 264.8,81.2 264.4,80.3 264.3,79.8 263.9,78.8 263.8,78.3 263.5,77.3 263.3,76.6 263.1,75.8 262.8,74.9 262.6,74.3 262.3,73.3 262.2,72.8 261.9,71.8 261.8,71.3 261.5,70.3 261.3,69.7 261.0,68.8 260.8,68.0 260.6,67.3 260.3,66.3 260.2,65.8 259.9,64.8 259.7,64.3 259.8,63.8 260.3,63.1 260.8,62.3 261.1,61.8 261.4,61.3 261.8,60.8 262.3,60.1 262.8,59.4 263.2,58.8 263.5,58.3 263.9,57.8 264.3,57.3 264.8,56.8 265.3,56.2 265.8,55.6 266.3,55.1 266.8,54.5 267.3,53.9 267.8,53.4 268.3,52.8 268.7,52.3 269.1,51.8 269.4,51.3 269.8,50.7 270.3,49.8 270.6,49.3 270.9,48.8 271.3,48.0 271.7,47.3 272.0,46.8 272.3,46.3 272.7,45.3 272.7,44.3 272.8,43.3 272.8,42.6 272.8,41.8 272.9,40.8 272.9,39.8 273.0,38.8 273.0,37.8 273.1,36.8 273.1,35.8 273.2,34.8 273.2,33.8 273.3,32.9 273.3,32.3 273.4,31.3 273.4,30.3 273.3,29.3 273.3,28.3 273.3,27.5 273.3,26.8 273.3,25.8 273.2,24.8 273.2,23.8 273.2,22.8 273.2,21.8 273.1,20.8 273.1,19.8 273.1,18.8 273.1,17.8 273.1,16.8 273.0,15.8 273.0,14.8 273.0,13.8 273.0,12.8 273.0,11.8 272.9,10.8 272.9,9.8 272.9,8.8"/><path d="M339.9,89.8 338.8,89.7 337.8,89.6 336.8,89.5 335.8,89.5 334.8,89.4 334.3,89.3 333.3,89.3 332.3,89.2 331.3,89.1 330.3,89.0 329.3,89.0 328.3,88.9 327.7,88.9 326.8,88.8 325.8,88.8 324.8,88.7 323.8,88.5 322.9,88.4 322.3,88.3 321.3,88.1 320.3,87.9 319.8,87.8 318.8,87.6 317.8,87.4 317.3,87.3 316.3,87.2 315.3,87.0 314.7,86.9 313.8,86.7 312.8,86.5 312.0,86.4 311.3,86.3 310.3,86.2 309.3,86.2 308.3,86.2 307.3,86.0 306.6,85.9 305.8,85.6 304.8,85.4 304.3,85.2 303.3,85.0 302.8,84.8 301.8,84.6 301.1,84.4 300.6,84.4"/><path d="M292.6,80.3 292.3,79.6 292.1,78.8 291.8,78.0 291.6,77.3 291.3,76.4 291.1,75.8 290.8,74.8 290.7,74.3 290.3,73.3 290.2,72.8 289.9,71.8 289.7,71.3 289.4,70.3 289.2,69.8 288.9,68.8 288.8,68.3 288.4,67.3 288.3,66.8 288.0,65.8 287.8,65.3 287.5,64.3 287.8,63.5 288.3,62.8 288.7,62.3 289.0,61.8 289.3,61.3 289.8,60.7 290.3,59.9 290.7,59.3 290.9,58.8 291.2,57.8 291.4,57.3 291.8,56.3 292.0,55.8 292.3,55.0 292.6,54.3 292.8,53.6 293.1,52.8 293.3,52.3 293.7,51.3 293.9,50.8 294.2,49.8 294.4,49.3 294.8,48.4 295.1,47.8 295.3,47.0 295.5,46.3 295.7,45.3 295.6,44.3 295.6,43.3 295.6,42.3 295.5,41.3 295.5,40.3 295.5,39.3 295.4,38.3 295.4,37.3 295.3,36.3 295.3,35.3 295.3,34.8 295.3,33.8 295.2,32.8 295.2,31.8 295.2,30.8 295.1,29.8 295.1,28.8 295.1,27.8 295.0,26.8 295.0,25.8 295.0,24.8 294.9,23.8 294.9,22.8 294.9,21.8 294.8,20.8 294.8,20.3 294.8,19.3 294.7,18.3 294.7,17.3 294.7,16.3 294.6,15.3 294.6,14.3 294.6,13.3 294.5,12.3 294.5,11.3 294.5,10.3 294.4,9.3 294.4,8.8"/><path d="M339.9,84.8 338.8,84.7 337.8,84.6 336.8,84.5 335.8,84.4 334.8,84.4 334.3,84.3 333.3,84.2 332.3,84.2 331.3,84.1 330.3,84.0 329.3,83.9 328.5,83.9 327.8,83.8 326.8,83.7 325.8,83.6 324.8,83.6 323.8,83.4 323.3,83.3 322.3,83.1 321.3,83.0 320.8,82.9 319.8,82.6 319.1,82.4 318.9,81.3 318.8,80.8 318.7,79.8 318.5,78.8 318.3,78.0 318.2,77.3 318.0,76.3 317.8,75.3 317.8,74.8 317.6,73.8 317.5,72.8 317.4,71.8 317.3,71.3 317.2,70.3 317.0,69.3 316.9,68.3 316.8,67.6 316.7,66.8 316.6,65.8 316.5,64.8 316.4,63.8 316.7,62.8 316.8,62.3 317.1,61.3 317.3,60.4 317.5,59.8 317.7,58.8 317.9,58.3 318.1,57.3 318.2,56.3 318.2,55.3 318.2,54.3 318.2,53.3 318.2,52.3 318.2,51.3 318.2,50.3 318.2,49.3 318.2,48.8"/><path d="M318.2,43.3 318.1,42.3 318.1,41.3 318.1,40.3 318.1,39.3 318.0,38.3 318.0,37.3 318.0,36.3 318.0,35.3 317.9,34.3 317.9,33.3 317.9,32.3 317.9,31.3 317.8,30.3 317.8,29.3 317.8,28.3 317.8,27.3 317.8,26.3 317.8,25.3 317.8,24.3 317.8,23.3 317.8,22.3 317.8,21.3 317.8,20.3 317.8,19.3 317.8,18.3 317.8,17.3 317.8,16.3 317.8,15.3 317.8,14.3 317.8,13.3 317.8,12.3 317.8,11.3 317.8,10.3 317.8,9.3 317.8,8.8"/></g>
<rect x="226.55" y="9.05" width="113.00" height="109.05" fill="none" stroke="#3a2c2c" stroke-opacity="0.75" stroke-width="0.6"/>
<path d="M225.05,110.22h1.2M224.05,101.00h2.2M225.05,91.77h1.2M224.05,82.55h2.2M225.05,73.33h1.2M224.05,64.10h2.2M225.05,54.88h1.2M224.05,45.65h2.2M225.05,36.42h1.2M224.05,27.20h2.2M225.05,17.98h1.2M224.05,8.75h2.2M234.22,118.40v2.2M241.80,118.40v1.2M249.37,118.40v2.2M256.94,118.40v1.2M264.52,118.40v2.2M272.09,118.40v1.2M279.66,118.40v2.2M287.24,118.40v1.2M294.81,118.40v2.2M302.38,118.40v1.2M309.96,118.40v2.2M317.53,118.40v1.2M325.10,118.40v2.2M332.68,118.40v1.2M340.25,118.40v2.2" stroke="#111" stroke-width="0.8" fill="none"/>
<g font-size="5.1"><text transform="translate(223.25,103.05) rotate(.05)" text-anchor="end">0.5</text><text transform="translate(223.25,84.60) rotate(.05)" text-anchor="end">1.0</text><text transform="translate(223.25,66.15) rotate(.05)" text-anchor="end">1.5</text><text transform="translate(223.25,47.70) rotate(.05)" text-anchor="end">2.0</text><text transform="translate(223.25,29.25) rotate(.05)" text-anchor="end">2.5</text><text transform="translate(223.25,10.80) rotate(.05)" text-anchor="end">3.0</text><text transform="translate(234.22,126.05) rotate(.05)" text-anchor="middle">50</text><text transform="translate(249.37,126.05) rotate(.05)" text-anchor="middle">100</text><text transform="translate(264.52,126.05) rotate(.05)" text-anchor="middle">150</text><text transform="translate(279.66,126.05) rotate(.05)" text-anchor="middle">200</text><text transform="translate(294.81,126.05) rotate(.05)" text-anchor="middle">250</text><text transform="translate(309.96,126.05) rotate(.05)" text-anchor="middle">300</text><text transform="translate(325.10,126.05) rotate(.05)" text-anchor="middle">350</text><text transform="translate(340.25,126.05) rotate(.05)" text-anchor="middle">400</text></g>
<text transform="translate(283.40,134.20) rotate(.05)" text-anchor="middle" font-size="5.8">Power (W)</text>
<text transform="translate(214.15,63.88) rotate(-89.95)" text-anchor="middle" font-size="5.7">Pressure (Pa)</text>
<text transform="translate(239.00,5.50) rotate(.05)" font-size="5.72">(b) N<tspan dy="1.9" font-size="3.3">2</tspan><tspan dy="-1.9"> - 8 cm</tspan></text>
<text transform="translate(394.00,5.80) rotate(.05)" font-size="5.72" text-anchor="end">Plasma density (10<tspan dy="-2.7" font-size="3.3">10</tspan><tspan dy="2.7"> cm</tspan><tspan dy="-2.7" font-size="3.3">-3</tspan><tspan dy="2.7">)</tspan></text>
<rect x="358.35" y="10.35" width="9.50" height="106.30" fill="url(#cb)" stroke="#999" stroke-width="0.3"/>
<path d="M367.85,116.65h1.8M367.85,99.67h1.8M367.85,81.22h1.8M367.85,62.76h1.8M367.85,44.31h1.8M367.85,25.85h1.8M367.85,10.35h1.8" stroke="#222" stroke-width="0.5" fill="none"/>
<g font-size="3.7"><text transform="translate(371.25,117.95) rotate(.05)">0.2</text><text transform="translate(371.25,100.97) rotate(.05)">2.5</text><text transform="translate(371.25,82.52) rotate(.05)">5.0</text><text transform="translate(371.25,64.06) rotate(.05)">7.5</text><text transform="translate(371.25,45.61) rotate(.05)">10.0</text><text transform="translate(371.25,27.15) rotate(.05)">12.5</text><text transform="translate(371.25,11.65) rotate(.05)">14.6</text></g>
<g font-size="6.05"><text transform="translate(246.70,48.85) rotate(.05)" text-anchor="middle">5.0</text><text transform="translate(320.60,48.25) rotate(.05)" text-anchor="middle">12.5</text><text transform="translate(293.80,85.40) rotate(.05)" text-anchor="middle">10.0</text><text transform="translate(280.00,95.40) rotate(.05)" text-anchor="middle">7.5</text></g>
<g><rect x="436.25" y="8.75" width="113.60" height="0.25" fill="url(#gc0)"/><rect x="436.25" y="9.00" width="113.60" height="1.00" fill="url(#gc1)"/><rect x="436.25" y="10.00" width="113.60" height="1.00" fill="url(#gc2)"/><rect x="436.25" y="11.00" width="113.60" height="1.00" fill="url(#gc3)"/><rect x="436.25" y="12.00" width="113.60" height="1.00" fill="url(#gc4)"/><rect x="436.25" y="13.00" width="113.60" height="1.00" fill="url(#gc5)"/><rect x="436.25" y="14.00" width="113.60" height="1.00" fill="url(#gc6)"/><rect x="436.25" y="15.00" width="113.60" height="1.00" fill="url(#gc7)"/><rect x="436.25" y="16.00" width="113.60" height="1.00" fill="url(#gc8)"/><rect x="436.25" y="17.00" width="113.60" height="1.00" fill="url(#gc9)"/><rect x="436.25" y="18.00" width="113.60" height="1.00" fill="url(#gc10)"/><rect x="436.25" y="19.00" width="113.60" height="1.00" fill="url(#gc11)"/><rect x="436.25" y="20.00" width="113.60" height="1.00" fill="url(#gc12)"/><rect x="436.25" y="21.00" width="113.60" height="1.00" fill="url(#gc13)"/><rect x="436.25" y="22.00" width="113.60" height="1.00" fill="url(#gc14)"/><rect x="436.25" y="23.00" width="113.60" height="1.00" fill="url(#gc15)"/><rect x="436.25" y="24.00" width="113.60" height="1.00" fill="url(#gc16)"/><rect x="436.25" y="25.00" width="113.60" height="1.00" fill="url(#gc17)"/><rect x="436.25" y="26.00" width="113.60" height="1.00" fill="url(#gc18)"/><rect x="436.25" y="27.00" width="113.60" height="1.00" fill="url(#gc19)"/><rect x="436.25" y="28.00" width="113.60" height="1.00" fill="url(#gc20)"/><rect x="436.25" y="29.00" width="113.60" height="1.00" fill="url(#gc21)"/><rect x="436.25" y="30.00" width="113.60" height="1.00" fill="url(#gc22)"/><rect x="436.25" y="31.00" width="113.60" height="1.00" fill="url(#gc23)"/><rect x="436.25" y="32.00" width="113.60" height="1.00" fill="url(#gc24)"/><rect x="436.25" y="33.00" width="113.60" height="1.00" fill="url(#gc25)"/><rect x="436.25" y="34.00" width="113.60" height="1.00" fill="url(#gc26)"/><rect x="436.25" y="35.00" width="113.60" height="1.00" fill="url(#gc27)"/><rect x="436.25" y="36.00" width="113.60" height="1.00" fill="url(#gc28)"/><rect x="436.25" y="37.00" width="113.60" height="1.00" fill="url(#gc29)"/><rect x="436.25" y="38.00" width="113.60" height="1.00" fill="url(#gc30)"/><rect x="436.25" y="39.00" width="113.60" height="1.00" fill="url(#gc31)"/><rect x="436.25" y="40.00" width="113.60" height="1.00" fill="url(#gc32)"/><rect x="436.25" y="41.00" width="113.60" height="1.00" fill="url(#gc33)"/><rect x="436.25" y="42.00" width="113.60" height="1.00" fill="url(#gc34)"/><rect x="436.25" y="43.00" width="113.60" height="1.00" fill="url(#gc35)"/><rect x="436.25" y="44.00" width="113.60" height="1.00" fill="url(#gc36)"/><rect x="436.25" y="45.00" width="113.60" height="1.00" fill="url(#gc37)"/><rect x="436.25" y="46.00" width="113.60" height="1.00" fill="url(#gc38)"/><rect x="436.25" y="47.00" width="113.60" height="1.00" fill="url(#gc39)"/><rect x="436.25" y="48.00" width="113.60" height="1.00" fill="url(#gc40)"/><rect x="436.25" y="49.00" width="113.60" height="1.00" fill="url(#gc41)"/><rect x="436.25" y="50.00" width="113.60" height="1.00" fill="url(#gc42)"/><rect x="436.25" y="51.00" width="113.60" height="1.00" fill="url(#gc43)"/><rect x="436.25" y="52.00" width="113.60" height="1.00" fill="url(#gc44)"/><rect x="436.25" y="53.00" width="113.60" height="1.00" fill="url(#gc45)"/><rect x="436.25" y="54.00" width="113.60" height="1.00" fill="url(#gc46)"/><rect x="436.25" y="55.00" width="113.60" height="1.00" fill="url(#gc47)"/><rect x="436.25" y="56.00" width="113.60" height="1.00" fill="url(#gc48)"/><rect x="436.25" y="57.00" width="113.60" height="1.00" fill="url(#gc49)"/><rect x="436.25" y="58.00" width="113.60" height="1.00" fill="url(#gc50)"/><rect x="436.25" y="59.00" width="113.60" height="1.00" fill="url(#gc51)"/><rect x="436.25" y="60.00" width="113.60" height="1.00" fill="url(#gc52)"/><rect x="436.25" y="61.00" width="113.60" height="1.00" fill="url(#gc53)"/><rect x="436.25" y="62.00" width="113.60" height="1.00" fill="url(#gc54)"/><rect x="436.25" y="63.00" width="113.60" height="1.00" fill="url(#gc55)"/><rect x="436.25" y="64.00" width="113.60" height="1.00" fill="url(#gc56)"/><rect x="436.25" y="65.00" width="113.60" height="1.00" fill="url(#gc57)"/><rect x="436.25" y="66.00" width="113.60" height="1.00" fill="url(#gc58)"/><rect x="436.25" y="67.00" width="113.60" height="1.00" fill="url(#gc59)"/><rect x="436.25" y="68.00" width="113.60" height="1.00" fill="url(#gc60)"/><rect x="436.25" y="69.00" width="113.60" height="1.00" fill="url(#gc61)"/><rect x="436.25" y="70.00" width="113.60" height="1.00" fill="url(#gc62)"/><rect x="436.25" y="71.00" width="113.60" height="1.00" fill="url(#gc63)"/><rect x="436.25" y="72.00" width="113.60" height="1.00" fill="url(#gc64)"/><rect x="436.25" y="73.00" width="113.60" height="1.00" fill="url(#gc65)"/><rect x="436.25" y="74.00" width="113.60" height="1.00" fill="url(#gc66)"/><rect x="436.25" y="75.00" width="113.60" height="1.00" fill="url(#gc67)"/><rect x="436.25" y="76.00" width="113.60" height="1.00" fill="url(#gc68)"/><rect x="436.25" y="77.00" width="113.60" height="1.00" fill="url(#gc69)"/><rect x="436.25" y="78.00" width="113.60" height="1.00" fill="url(#gc70)"/><rect x="436.25" y="79.00" width="113.60" height="1.00" fill="url(#gc71)"/><rect x="436.25" y="80.00" width="113.60" height="1.00" fill="url(#gc72)"/><rect x="436.25" y="81.00" width="113.60" height="1.00" fill="url(#gc73)"/><rect x="436.25" y="82.00" width="113.60" height="1.00" fill="url(#gc74)"/><rect x="436.25" y="83.00" width="113.60" height="1.00" fill="url(#gc75)"/><rect x="436.25" y="84.00" width="113.60" height="1.00" fill="url(#gc76)"/><rect x="436.25" y="85.00" width="113.60" height="1.00" fill="url(#gc77)"/><rect x="436.25" y="86.00" width="113.60" height="1.00" fill="url(#gc78)"/><rect x="436.25" y="87.00" width="113.60" height="1.00" fill="url(#gc79)"/><rect x="436.25" y="88.00" width="113.60" height="1.00" fill="url(#gc80)"/><rect x="436.25" y="89.00" width="113.60" height="1.00" fill="url(#gc81)"/><rect x="436.25" y="90.00" width="113.60" height="1.00" fill="url(#gc82)"/><rect x="436.25" y="91.00" width="113.60" height="1.00" fill="url(#gc83)"/><rect x="436.25" y="92.00" width="113.60" height="1.00" fill="url(#gc84)"/><rect x="436.25" y="93.00" width="113.60" height="1.00" fill="url(#gc85)"/><rect x="436.25" y="94.00" width="113.60" height="1.00" fill="url(#gc86)"/><rect x="436.25" y="95.00" width="113.60" height="1.00" fill="url(#gc87)"/><rect x="436.25" y="96.00" width="113.60" height="1.00" fill="url(#gc88)"/><rect x="436.25" y="97.00" width="113.60" height="1.00" fill="url(#gc89)"/><rect x="436.25" y="98.00" width="113.60" height="1.00" fill="url(#gc90)"/><rect x="436.25" y="99.00" width="113.60" height="1.00" fill="url(#gc91)"/><rect x="436.25" y="100.00" width="113.60" height="1.00" fill="url(#gc92)"/><rect x="436.25" y="101.00" width="113.60" height="1.00" fill="url(#gc93)"/><rect x="436.25" y="102.00" width="113.60" height="1.00" fill="url(#gc94)"/><rect x="436.25" y="103.00" width="113.60" height="1.00" fill="url(#gc95)"/><rect x="436.25" y="104.00" width="113.60" height="1.00" fill="url(#gc96)"/><rect x="436.25" y="105.00" width="113.60" height="1.00" fill="url(#gc97)"/><rect x="436.25" y="106.00" width="113.60" height="1.00" fill="url(#gc98)"/><rect x="436.25" y="107.00" width="113.60" height="1.00" fill="url(#gc99)"/><rect x="436.25" y="108.00" width="113.60" height="1.00" fill="url(#gc100)"/><rect x="436.25" y="109.00" width="113.60" height="1.00" fill="url(#gc101)"/><rect x="436.25" y="110.00" width="113.60" height="1.00" fill="url(#gc102)"/><rect x="436.25" y="111.00" width="113.60" height="1.00" fill="url(#gc103)"/><rect x="436.25" y="112.00" width="113.60" height="1.00" fill="url(#gc104)"/><rect x="436.25" y="113.00" width="113.60" height="1.00" fill="url(#gc105)"/><rect x="436.25" y="114.00" width="113.60" height="1.00" fill="url(#gc106)"/><rect x="436.25" y="115.00" width="113.60" height="1.00" fill="url(#gc107)"/><rect x="436.25" y="116.00" width="113.60" height="1.00" fill="url(#gc108)"/><rect x="436.25" y="117.00" width="113.60" height="1.00" fill="url(#gc109)"/><rect x="436.25" y="118.00" width="113.60" height="0.40" fill="url(#gc110)"/></g>
<g fill="none" stroke="#1a3a2a" stroke-opacity="0.75" stroke-width="0.45"><path d="M549.9,111.1 548.8,111.1 547.8,111.1 546.8,111.1 545.8,111.1 544.8,111.1 543.8,111.1 542.8,111.1 541.8,111.1 540.8,111.1 539.8,111.1 538.8,111.1 537.8,111.1 536.8,111.1 535.8,111.1 534.8,111.1 533.8,111.1 532.8,111.1 531.8,111.1 530.8,111.1 529.8,111.1 528.8,111.1 527.8,111.1 526.8,111.1 525.8,111.1 524.8,111.1 523.8,111.1 522.8,111.1 521.8,111.1 520.8,111.1 519.8,111.1 518.8,111.0 517.8,111.0 516.8,111.0 515.8,111.0 514.8,111.0 513.8,111.0 512.8,111.0 511.8,110.9 510.8,110.9 509.8,110.9 508.8,110.9 507.8,110.9 506.8,110.9 506.3,110.9 505.3,110.9 504.3,110.8 503.3,110.8 502.3,110.8 501.3,110.8 500.3,110.8 499.3,110.7 498.3,110.7 497.3,110.7 496.3,110.7 495.3,110.6 494.3,110.6 493.3,110.6 492.3,110.5 491.3,110.5 490.3,110.5 489.3,110.5 488.3,110.5 487.3,110.4 486.3,110.4 485.8,110.4 484.8,110.3 483.8,110.3 482.8,110.2 481.8,110.2 480.8,110.1 479.8,110.1 478.8,110.0 477.8,110.0 476.8,109.9 475.8,109.9 474.8,109.9 473.8,109.9 473.3,109.8 472.3,109.7 471.3,109.6 470.3,109.5 469.3,109.4 468.8,109.4 467.8,109.3 466.8,109.2 465.8,109.1 464.8,109.0 464.0,108.9 463.3,108.8 462.3,108.7 461.3,108.6 460.3,108.5 459.3,108.4 458.8,108.3 457.8,107.9 457.3,107.7 456.4,107.4 455.8,107.1 455.1,106.9 454.3,106.5 453.8,106.4 452.8,106.0 452.3,105.8 451.3,105.4 450.8,105.2 450.0,104.9 449.3,104.6 448.7,104.4 447.8,104.0 447.3,103.8 446.3,103.4 445.8,103.2 444.9,102.9 444.3,102.6 443.7,102.4 442.9,101.9 442.3,101.4 441.8,101.0 441.7,100.4 441.7,99.4 441.7,98.4 441.7,97.4 441.7,96.4 441.7,95.4 441.7,94.4 441.7,93.4 441.7,92.4 441.7,91.4 441.7,90.4 441.7,89.4 441.7,88.4 441.7,87.4 441.7,86.4 441.7,85.4 441.7,84.4 441.7,83.4 441.7,82.4 441.8,81.9 442.1,80.8 442.3,80.0 442.4,79.3 442.8,78.6 443.1,77.8 443.4,77.3 443.8,76.5 444.0,75.8 444.3,75.3 444.6,74.3 444.8,73.8 445.2,72.8 445.3,72.6"/><path d="M445.7,71.3 445.9,70.8 446.3,70.0 446.5,69.3 446.8,68.7 447.1,67.8 447.3,67.3 447.8,66.4 448.0,65.8 448.3,65.3 448.8,64.3 449.0,63.8 449.3,63.0 449.5,62.3 449.8,61.5 450.0,60.8 450.3,60.0 450.5,59.3 450.8,58.6 451.0,57.8 451.3,57.1 451.5,56.3 451.8,55.6 452.2,54.8 452.6,54.3 452.9,53.8 453.3,53.2 453.8,52.5 454.2,51.8 454.5,51.3 454.8,50.8 455.3,50.1 455.8,49.4 456.1,48.8 456.5,48.3 456.8,47.8 457.3,47.0 457.8,46.3 458.1,45.8 458.2,44.8 458.3,44.3 458.5,43.3 458.6,42.3 458.7,41.3 458.8,40.8 458.9,39.8 459.1,38.8 459.2,37.8 459.3,37.2 459.4,36.3 459.5,35.3 459.6,34.3 459.8,33.3 459.8,32.8 460.0,31.8 460.1,30.8 460.2,29.8 460.3,29.3 460.5,28.3 460.8,27.5 460.9,26.8 461.0,25.8 461.1,24.8 461.2,23.8 461.3,23.2 461.4,22.3 461.5,21.3 461.6,20.3 461.7,19.3 461.8,18.3 461.8,17.8 461.9,16.8 462.0,15.8 462.1,14.8 462.2,13.8 462.3,13.3 462.5,12.3 462.7,11.3 462.8,10.8 463.1,9.8 463.3,8.9 463.3,8.8"/><path d="M549.9,104.3 548.8,104.3 547.8,104.3 546.8,104.4 545.8,104.4 544.8,104.4 543.8,104.4 543.3,104.4 542.3,104.4 541.3,104.4 540.3,104.4 539.3,104.4 538.3,104.4 537.3,104.4 536.3,104.4 535.3,104.4 534.3,104.4 533.3,104.4 532.3,104.4 531.3,104.4 530.3,104.4 529.3,104.4 528.3,104.4 527.3,104.5 526.3,104.5 525.3,104.5 524.3,104.5 523.3,104.5 522.3,104.5 521.3,104.5 520.3,104.5 519.3,104.5 518.3,104.4 517.3,104.4 516.3,104.4 515.3,104.4 514.3,104.4 513.3,104.4 512.3,104.4 511.7,104.4 510.8,104.4 509.8,104.4 508.8,104.4 507.8,104.3 506.8,104.2 505.8,104.2 504.8,104.1 503.8,104.0 502.8,104.0 501.8,104.0 500.9,103.9 500.3,103.8 499.3,103.7 498.3,103.5 497.4,103.4 496.8,103.3 495.8,103.2 494.8,103.0 493.8,102.9 493.3,102.8 492.3,102.7 491.3,102.6 490.3,102.6 489.3,102.5 488.3,102.4 487.8,102.3 486.8,102.2 485.8,102.1 484.8,101.9 484.3,101.9 483.3,101.7 482.3,101.6 481.3,101.5 480.5,101.4 479.8,101.3 478.8,101.1 477.8,100.9 477.7,100.4 477.8,99.9 478.0,98.9 478.2,97.9 478.3,97.4 478.5,96.4 478.7,95.4 478.8,94.8 479.0,93.9 479.2,92.9 479.3,92.2 479.4,91.4 479.6,90.4 479.8,89.4 479.7,88.4 479.6,87.4 479.5,86.4 479.5,85.9"/><path d="M480.0,80.3 480.3,79.5 480.5,78.8 480.8,78.1 481.1,77.3 481.3,76.7 481.6,75.8 481.8,75.3 482.2,74.3 482.4,73.8 482.8,73.2 483.3,72.3 483.6,71.8 483.9,71.3 484.3,70.7 484.8,69.8 485.1,69.3 485.4,68.8 485.8,68.2 486.3,67.4 486.6,66.8 486.9,66.3 487.3,65.7 487.8,64.9 488.1,64.3 488.5,63.8 488.9,63.3 489.3,62.8 489.8,61.8 490.0,61.3 490.3,60.7 490.7,59.8 490.9,59.3 491.3,58.5 491.6,57.8 491.9,57.3 492.3,56.4 492.6,55.8 492.8,55.3 493.3,54.3 493.5,53.8 493.8,53.2 494.3,52.6 494.8,52.2 495.3,51.8 496.0,51.3 496.6,50.8 497.3,50.3 497.8,49.9 498.3,49.5 498.8,49.1 499.3,48.8 499.9,48.3 500.6,47.8 501.2,47.3 501.8,46.9 502.3,46.4 502.8,45.9 503.1,45.3 503.3,44.7 503.5,43.8 503.8,42.8 504.0,42.3 504.2,41.3 504.4,40.8 504.6,39.8 504.8,39.1 505.0,38.3 505.3,37.4 505.5,36.8 505.8,36.0 506.1,35.3 506.3,34.6 506.6,33.8 506.8,33.2 507.2,32.3 507.3,31.8 507.7,30.8 507.9,30.3 508.2,29.3 508.4,28.8 508.7,27.8 508.9,27.3 509.3,26.3 509.5,25.8 509.8,25.2 510.2,24.3 510.4,23.8 510.8,22.8 511.1,22.3 511.3,21.7 511.7,20.8 511.9,20.3 512.3,19.4 512.6,18.8 512.8,18.2 513.2,17.3 513.7,16.8 514.2,16.3 514.8,15.8 515.3,15.3 515.8,14.8 516.3,14.3 516.8,13.9 517.3,13.4 517.8,13.0 518.3,12.5 518.8,12.1 519.3,11.6 519.8,11.1 520.3,10.7 520.8,9.8 520.8,8.8"/><path d="M549.9,93.6 549.0,93.4 548.3,93.2 547.3,92.9 546.8,92.8 545.8,92.5 545.3,92.3 544.3,92.1 543.7,91.9 542.8,91.6 541.8,91.4 540.8,91.4 539.8,91.5 538.8,91.5 537.8,91.6 536.8,91.7 535.8,91.7 534.8,91.8 534.0,91.4 533.3,90.9 532.8,90.6 532.3,90.3 531.6,89.9 530.8,89.4 530.3,89.1 529.8,88.8 529.1,88.4 528.3,87.9 527.8,87.6 527.3,87.3 526.6,86.9 525.8,86.4 525.3,86.1 524.8,85.8 524.2,85.4 523.8,85.2"/><path d="M521.0,80.3 521.4,79.8 521.8,79.2 522.3,78.4 522.7,77.8 523.1,77.3 523.4,76.8 523.8,76.2 524.3,75.4 524.7,74.8 525.1,74.3 525.4,73.8 525.8,73.2 526.3,72.5 526.8,72.2 527.5,71.8 528.3,71.4 528.8,71.1 529.4,70.8 530.3,70.3 530.8,70.1 531.3,69.8 532.3,69.3 532.8,69.0 533.3,68.8 534.2,68.3 534.8,68.0 535.3,67.7 535.9,67.3 536.7,66.8 537.3,66.5 537.8,66.3 538.7,65.8 539.3,65.5 539.8,65.3 540.8,64.8 541.3,64.6 541.8,64.3 542.7,63.8 543.3,63.4 543.8,63.1 544.3,62.8 545.1,62.3 545.8,61.9 546.3,61.5 546.8,61.2 547.6,60.8 548.3,60.5 548.8,60.3 549.9,59.8"/></g>
<rect x="436.55" y="9.05" width="113.00" height="109.05" fill="none" stroke="#3a2c2c" stroke-opacity="0.75" stroke-width="0.6"/>
<path d="M435.05,110.22h1.2M434.05,101.00h2.2M435.05,91.77h1.2M434.05,82.55h2.2M435.05,73.33h1.2M434.05,64.10h2.2M435.05,54.88h1.2M434.05,45.65h2.2M435.05,36.42h1.2M434.05,27.20h2.2M435.05,17.98h1.2M434.05,8.75h2.2M443.82,118.40v2.2M451.40,118.40v1.2M458.97,118.40v2.2M466.54,118.40v1.2M474.12,118.40v2.2M481.69,118.40v1.2M489.26,118.40v2.2M496.84,118.40v1.2M504.41,118.40v2.2M511.98,118.40v1.2M519.56,118.40v2.2M527.13,118.40v1.2M534.70,118.40v2.2M542.28,118.40v1.2M549.85,118.40v2.2" stroke="#111" stroke-width="0.8" fill="none"/>
<g font-size="5.1"><text transform="translate(433.25,103.05) rotate(.05)" text-anchor="end">0.5</text><text transform="translate(433.25,84.60) rotate(.05)" text-anchor="end">1.0</text><text transform="translate(433.25,66.15) rotate(.05)" text-anchor="end">1.5</text><text transform="translate(433.25,47.70) rotate(.05)" text-anchor="end">2.0</text><text transform="translate(433.25,29.25) rotate(.05)" text-anchor="end">2.5</text><text transform="translate(433.25,10.80) rotate(.05)" text-anchor="end">3.0</text><text transform="translate(443.82,126.05) rotate(.05)" text-anchor="middle">50</text><text transform="translate(458.97,126.05) rotate(.05)" text-anchor="middle">100</text><text transform="translate(474.12,126.05) rotate(.05)" text-anchor="middle">150</text><text transform="translate(489.26,126.05) rotate(.05)" text-anchor="middle">200</text><text transform="translate(504.41,126.05) rotate(.05)" text-anchor="middle">250</text><text transform="translate(519.56,126.05) rotate(.05)" text-anchor="middle">300</text><text transform="translate(534.70,126.05) rotate(.05)" text-anchor="middle">350</text><text transform="translate(549.85,126.05) rotate(.05)" text-anchor="middle">400</text></g>
<text transform="translate(493.40,134.20) rotate(.05)" text-anchor="middle" font-size="5.8">Power (W)</text>
<text transform="translate(424.15,64.08) rotate(-89.95)" text-anchor="middle" font-size="5.7">Pressure (Pa)</text>
<text transform="translate(450.00,5.80) rotate(.05)" font-size="5.72">(c) N<tspan dy="1.9" font-size="3.3">2</tspan><tspan dy="-1.9"> - 10 cm</tspan></text>
<text transform="translate(602.20,5.80) rotate(.05)" font-size="5.72" text-anchor="end">Plasma density (10<tspan dy="-2.7" font-size="3.3">10</tspan><tspan dy="2.7"> cm</tspan><tspan dy="-2.7" font-size="3.3">-3</tspan><tspan dy="2.7">)</tspan></text>
<rect x="568.35" y="10.35" width="9.50" height="106.30" fill="url(#cb)" stroke="#999" stroke-width="0.3"/>
<path d="M577.85,116.65h1.8M577.85,104.77h1.8M577.85,91.56h1.8M577.85,78.36h1.8M577.85,65.15h1.8M577.85,51.95h1.8M577.85,38.74h1.8M577.85,25.54h1.8M577.85,12.33h1.8" stroke="#222" stroke-width="0.5" fill="none"/>
<g font-size="3.7"><text transform="translate(581.25,117.95) rotate(.05)">0.1</text><text transform="translate(581.25,106.07) rotate(.05)">1.0</text><text transform="translate(581.25,92.86) rotate(.05)">2.0</text><text transform="translate(581.25,79.66) rotate(.05)">3.0</text><text transform="translate(581.25,66.45) rotate(.05)">4.0</text><text transform="translate(581.25,53.25) rotate(.05)">5.0</text><text transform="translate(581.25,40.04) rotate(.05)">6.0</text><text transform="translate(581.25,26.84) rotate(.05)">7.0</text><text transform="translate(581.25,13.63) rotate(.05)">8.0</text></g>
<g font-size="6.05"><text transform="translate(450.50,76.25) rotate(.05)" text-anchor="middle">2.5</text><text transform="translate(479.10,85.40) rotate(.05)" text-anchor="middle">5.0</text><text transform="translate(518.20,85.40) rotate(.05)" text-anchor="middle">7.0</text></g>
<g><rect x="117.25" y="161.35" width="113.60" height="0.65" fill="url(#gd0)"/><rect x="117.25" y="162.00" width="113.60" height="1.00" fill="url(#gd1)"/><rect x="117.25" y="163.00" width="113.60" height="1.00" fill="url(#gd2)"/><rect x="117.25" y="164.00" width="113.60" height="1.00" fill="url(#gd3)"/><rect x="117.25" y="165.00" width="113.60" height="1.00" fill="url(#gd4)"/><rect x="117.25" y="166.00" width="113.60" height="1.00" fill="url(#gd5)"/><rect x="117.25" y="167.00" width="113.60" height="1.00" fill="url(#gd6)"/><rect x="117.25" y="168.00" width="113.60" height="1.00" fill="url(#gd7)"/><rect x="117.25" y="169.00" width="113.60" height="1.00" fill="url(#gd8)"/><rect x="117.25" y="170.00" width="113.60" height="1.00" fill="url(#gd9)"/><rect x="117.25" y="171.00" width="113.60" height="1.00" fill="url(#gd10)"/><rect x="117.25" y="172.00" width="113.60" height="1.00" fill="url(#gd11)"/><rect x="117.25" y="173.00" width="113.60" height="1.00" fill="url(#gd12)"/><rect x="117.25" y="174.00" width="113.60" height="1.00" fill="url(#gd13)"/><rect x="117.25" y="175.00" width="113.60" height="1.00" fill="url(#gd14)"/><rect x="117.25" y="176.00" width="113.60" height="1.00" fill="url(#gd15)"/><rect x="117.25" y="177.00" width="113.60" height="1.00" fill="url(#gd16)"/><rect x="117.25" y="178.00" width="113.60" height="1.00" fill="url(#gd17)"/><rect x="117.25" y="179.00" width="113.60" height="1.00" fill="url(#gd18)"/><rect x="117.25" y="180.00" width="113.60" height="1.00" fill="url(#gd19)"/><rect x="117.25" y="181.00" width="113.60" height="1.00" fill="url(#gd20)"/><rect x="117.25" y="182.00" width="113.60" height="1.00" fill="url(#gd21)"/><rect x="117.25" y="183.00" width="113.60" height="1.00" fill="url(#gd22)"/><rect x="117.25" y="184.00" width="113.60" height="1.00" fill="url(#gd23)"/><rect x="117.25" y="185.00" width="113.60" height="1.00" fill="url(#gd24)"/><rect x="117.25" y="186.00" width="113.60" height="1.00" fill="url(#gd25)"/><rect x="117.25" y="187.00" width="113.60" height="1.00" fill="url(#gd26)"/><rect x="117.25" y="188.00" width="113.60" height="1.00" fill="url(#gd27)"/><rect x="117.25" y="189.00" width="113.60" height="1.00" fill="url(#gd28)"/><rect x="117.25" y="190.00" width="113.60" height="1.00" fill="url(#gd29)"/><rect x="117.25" y="191.00" width="113.60" height="1.00" fill="url(#gd30)"/><rect x="117.25" y="192.00" width="113.60" height="1.00" fill="url(#gd31)"/><rect x="117.25" y="193.00" width="113.60" height="1.00" fill="url(#gd32)"/><rect x="117.25" y="194.00" width="113.60" height="1.00" fill="url(#gd33)"/><rect x="117.25" y="195.00" width="113.60" height="1.00" fill="url(#gd34)"/><rect x="117.25" y="196.00" width="113.60" height="1.00" fill="url(#gd35)"/><rect x="117.25" y="197.00" width="113.60" height="1.00" fill="url(#gd36)"/><rect x="117.25" y="198.00" width="113.60" height="1.00" fill="url(#gd37)"/><rect x="117.25" y="199.00" width="113.60" height="1.00" fill="url(#gd38)"/><rect x="117.25" y="200.00" width="113.60" height="1.00" fill="url(#gd39)"/><rect x="117.25" y="201.00" width="113.60" height="1.00" fill="url(#gd40)"/><rect x="117.25" y="202.00" width="113.60" height="1.00" fill="url(#gd41)"/><rect x="117.25" y="203.00" width="113.60" height="1.00" fill="url(#gd42)"/><rect x="117.25" y="204.00" width="113.60" height="1.00" fill="url(#gd43)"/><rect x="117.25" y="205.00" width="113.60" height="1.00" fill="url(#gd44)"/><rect x="117.25" y="206.00" width="113.60" height="1.00" fill="url(#gd45)"/><rect x="117.25" y="207.00" width="113.60" height="1.00" fill="url(#gd46)"/><rect x="117.25" y="208.00" width="113.60" height="1.00" fill="url(#gd47)"/><rect x="117.25" y="209.00" width="113.60" height="1.00" fill="url(#gd48)"/><rect x="117.25" y="210.00" width="113.60" height="1.00" fill="url(#gd49)"/><rect x="117.25" y="211.00" width="113.60" height="1.00" fill="url(#gd50)"/><rect x="117.25" y="212.00" width="113.60" height="1.00" fill="url(#gd51)"/><rect x="117.25" y="213.00" width="113.60" height="1.00" fill="url(#gd52)"/><rect x="117.25" y="214.00" width="113.60" height="1.00" fill="url(#gd53)"/><rect x="117.25" y="215.00" width="113.60" height="1.00" fill="url(#gd54)"/><rect x="117.25" y="216.00" width="113.60" height="1.00" fill="url(#gd55)"/><rect x="117.25" y="217.00" width="113.60" height="1.00" fill="url(#gd56)"/><rect x="117.25" y="218.00" width="113.60" height="1.00" fill="url(#gd57)"/><rect x="117.25" y="219.00" width="113.60" height="1.00" fill="url(#gd58)"/><rect x="117.25" y="220.00" width="113.60" height="1.00" fill="url(#gd59)"/><rect x="117.25" y="221.00" width="113.60" height="1.00" fill="url(#gd60)"/><rect x="117.25" y="222.00" width="113.60" height="1.00" fill="url(#gd61)"/><rect x="117.25" y="223.00" width="113.60" height="1.00" fill="url(#gd62)"/><rect x="117.25" y="224.00" width="113.60" height="1.00" fill="url(#gd63)"/><rect x="117.25" y="225.00" width="113.60" height="1.00" fill="url(#gd64)"/><rect x="117.25" y="226.00" width="113.60" height="1.00" fill="url(#gd65)"/><rect x="117.25" y="227.00" width="113.60" height="1.00" fill="url(#gd66)"/><rect x="117.25" y="228.00" width="113.60" height="1.00" fill="url(#gd67)"/><rect x="117.25" y="229.00" width="113.60" height="1.00" fill="url(#gd68)"/><rect x="117.25" y="230.00" width="113.60" height="1.00" fill="url(#gd69)"/><rect x="117.25" y="231.00" width="113.60" height="1.00" fill="url(#gd70)"/><rect x="117.25" y="232.00" width="113.60" height="1.00" fill="url(#gd71)"/><rect x="117.25" y="233.00" width="113.60" height="1.00" fill="url(#gd72)"/><rect x="117.25" y="234.00" width="113.60" height="1.00" fill="url(#gd73)"/><rect x="117.25" y="235.00" width="113.60" height="1.00" fill="url(#gd74)"/><rect x="117.25" y="236.00" width="113.60" height="1.00" fill="url(#gd75)"/><rect x="117.25" y="237.00" width="113.60" height="1.00" fill="url(#gd76)"/><rect x="117.25" y="238.00" width="113.60" height="1.00" fill="url(#gd77)"/><rect x="117.25" y="239.00" width="113.60" height="1.00" fill="url(#gd78)"/><rect x="117.25" y="240.00" width="113.60" height="1.00" fill="url(#gd79)"/><rect x="117.25" y="241.00" width="113.60" height="1.00" fill="url(#gd80)"/><rect x="117.25" y="242.00" width="113.60" height="1.00" fill="url(#gd81)"/><rect x="117.25" y="243.00" width="113.60" height="1.00" fill="url(#gd82)"/><rect x="117.25" y="244.00" width="113.60" height="1.00" fill="url(#gd83)"/><rect x="117.25" y="245.00" width="113.60" height="1.00" fill="url(#gd84)"/><rect x="117.25" y="246.00" width="113.60" height="1.00" fill="url(#gd85)"/><rect x="117.25" y="247.00" width="113.60" height="1.00" fill="url(#gd86)"/><rect x="117.25" y="248.00" width="113.60" height="1.00" fill="url(#gd87)"/><rect x="117.25" y="249.00" width="113.60" height="1.00" fill="url(#gd88)"/><rect x="117.25" y="250.00" width="113.60" height="1.00" fill="url(#gd89)"/><rect x="117.25" y="251.00" width="113.60" height="1.00" fill="url(#gd90)"/><rect x="117.25" y="252.00" width="113.60" height="1.00" fill="url(#gd91)"/><rect x="117.25" y="253.00" width="113.60" height="1.00" fill="url(#gd92)"/><rect x="117.25" y="254.00" width="113.60" height="1.00" fill="url(#gd93)"/><rect x="117.25" y="255.00" width="113.60" height="1.00" fill="url(#gd94)"/><rect x="117.25" y="256.00" width="113.60" height="1.00" fill="url(#gd95)"/><rect x="117.25" y="257.00" width="113.60" height="1.00" fill="url(#gd96)"/><rect x="117.25" y="258.00" width="113.60" height="1.00" fill="url(#gd97)"/><rect x="117.25" y="259.00" width="113.60" height="1.00" fill="url(#gd98)"/><rect x="117.25" y="260.00" width="113.60" height="1.00" fill="url(#gd99)"/><rect x="117.25" y="261.00" width="113.60" height="1.00" fill="url(#gd100)"/><rect x="117.25" y="262.00" width="113.60" height="1.00" fill="url(#gd101)"/><rect x="117.25" y="263.00" width="113.60" height="1.00" fill="url(#gd102)"/><rect x="117.25" y="264.00" width="113.60" height="1.00" fill="url(#gd103)"/><rect x="117.25" y="265.00" width="113.60" height="1.00" fill="url(#gd104)"/><rect x="117.25" y="266.00" width="113.60" height="1.00" fill="url(#gd105)"/><rect x="117.25" y="267.00" width="113.60" height="1.00" fill="url(#gd106)"/><rect x="117.25" y="268.00" width="113.60" height="1.00" fill="url(#gd107)"/><rect x="117.25" y="269.00" width="113.60" height="1.00" fill="url(#gd108)"/><rect x="117.25" y="270.00" width="113.60" height="1.00" fill="url(#gd109)"/></g>
<g fill="none" stroke="#1a3a2a" stroke-opacity="0.75" stroke-width="0.45"><path d="M230.8,266.1 229.8,266.1 228.8,266.1 227.8,266.1 226.8,266.1 225.8,266.1 224.8,266.1 223.8,266.1 222.8,266.1 221.8,266.1 220.8,266.1 219.8,266.1 218.8,266.1 217.8,266.1 216.8,266.1 215.8,266.1 214.8,266.1 213.8,266.1 212.8,266.1 211.8,266.1 210.8,266.1 209.8,266.1 208.8,266.1 207.8,266.1 206.8,266.1 205.8,266.1 204.8,266.1 203.8,266.1 202.8,266.1 201.8,266.1 200.8,266.1 199.8,266.1 198.8,266.1 197.8,266.1 196.8,266.1 195.8,266.1 194.8,266.1 193.8,266.1 192.8,266.1 191.8,266.1 190.8,266.1 189.8,266.1 188.8,266.1 187.8,266.1 186.8,266.1 185.8,266.1 184.8,266.1 183.8,266.1 182.8,266.1 181.8,266.1 180.8,266.1 179.8,266.1 178.8,266.1 177.8,266.1 176.8,266.1 175.8,266.1 174.8,266.1 173.8,266.1 172.8,266.1 171.8,266.1 170.8,266.1 169.8,266.1 168.8,266.0 168.3,265.9 167.3,265.9 166.3,265.8 165.3,265.7 164.3,265.6 163.3,265.5 162.8,265.5 161.8,265.4 160.8,265.4 159.8,265.4 158.8,265.4 157.8,265.4 156.8,265.4 155.8,265.4 154.8,265.3 153.8,265.2 152.8,265.1 152.1,265.0 151.3,264.9 150.3,264.8 149.3,264.6 148.3,264.5 147.8,264.5 146.8,264.3 145.8,264.2 144.8,264.1 143.8,264.1 142.8,264.1 141.8,264.1 140.8,264.1 139.8,264.0 139.3,264.0 138.3,263.8 137.3,263.7"/><path d="M126.8,262.1 126.3,262.0 125.3,262.0 124.3,261.8 123.3,261.5 122.8,261.3 121.8,261.0 121.3,260.5 120.8,260.0 120.3,259.5 119.8,259.0 119.3,258.5 118.8,258.0 118.3,257.5 117.8,257.0 117.2,256.6"/><path d="M230.8,260.7 229.8,260.7 228.8,260.7 227.8,260.7 226.8,260.7 225.8,260.7 224.8,260.7 223.8,260.7 222.8,260.7 221.8,260.7 220.8,260.7 219.8,260.7 218.8,260.7 217.8,260.7 216.8,260.7 215.8,260.7 214.8,260.7 213.8,260.7 212.8,260.7 211.8,260.7 210.8,260.7 209.8,260.7 208.8,260.7 207.8,260.7 206.8,260.7 205.8,260.7 204.8,260.7 203.8,260.7 202.8,260.7 201.8,260.7 200.8,260.7 199.8,260.7 198.8,260.7 197.8,260.7 196.8,260.7 195.8,260.7 194.8,260.7 193.8,260.7 192.8,260.7 191.8,260.7 190.8,260.7 189.8,260.7 188.8,260.7 187.8,260.7 186.8,260.7 185.8,260.7 184.8,260.7 183.8,260.7 182.8,260.7 181.8,260.7 180.8,260.7 179.8,260.7 178.8,260.7 177.8,260.7 176.8,260.7 175.8,260.7 174.8,260.7 173.8,260.7 172.8,260.7 171.8,260.7 170.8,260.7 169.8,260.6 168.8,260.5 168.3,260.4 167.3,260.3 166.3,260.2 165.3,260.1 164.3,260.0 163.8,259.9 162.8,259.8 161.8,259.7 160.8,259.6 159.8,259.5 159.3,259.4 158.3,259.3 157.3,259.2 156.3,259.1 155.3,259.0 154.8,258.9 153.8,258.6 153.3,258.4 152.3,258.2 151.7,258.0 150.8,257.7 150.0,257.5 149.3,257.3 148.3,257.0 147.8,256.9 146.8,256.6 146.3,256.4 145.3,256.2 144.6,256.0 143.8,255.8 142.8,255.6 142.0,255.5 141.3,255.3 140.3,255.1 139.7,255.0 138.8,254.6 138.3,254.4 137.4,254.0 136.8,253.7 136.3,253.3 135.8,252.5 135.4,252.0 135.1,251.5 134.8,250.9 134.3,250.1 133.9,249.5 133.6,249.0 133.2,248.5 132.8,247.7 132.3,247.0 132.0,246.5 131.7,246.0 131.3,245.3 130.8,244.6 130.4,244.0 130.1,243.5"/><path d="M126.6,238.0 126.3,237.4 125.8,236.6 125.3,236.0 125.0,235.5 124.9,234.4 124.9,233.4 124.9,232.4 125.0,231.4 125.0,230.4 125.1,229.4 125.1,228.4 125.2,227.4 125.2,226.4 125.3,225.6 125.3,224.9 125.3,223.9 125.4,222.9 125.4,221.9 125.5,220.9 125.5,219.9 125.6,218.9 125.6,217.9 125.6,216.9 125.8,216.2 126.0,215.4 126.3,214.6 126.5,213.9 126.8,213.1 127.0,212.4 127.3,211.6 127.5,210.9 127.8,210.1 128.0,209.4 128.3,208.5 128.5,207.9 128.8,207.0 129.0,206.4 129.3,205.5 129.5,204.9 129.8,204.1 130.3,203.6 130.8,203.1 131.3,202.5 131.8,202.0 132.3,201.5 132.8,200.9 133.3,200.4 133.7,199.9 134.2,199.4 134.7,198.9 135.2,198.4 135.3,197.9 135.4,196.9 135.5,195.9 135.6,194.9 135.7,193.9 135.8,193.4 135.9,192.4 136.0,191.4 136.1,190.4 136.1,189.4 136.3,188.8 136.5,187.9 136.8,187.2 137.0,186.4 137.3,185.6 137.5,184.9 137.8,184.1 138.0,183.4 138.3,182.5 138.5,181.9 138.8,180.9 138.9,180.4 139.3,179.4 139.4,178.9 139.7,177.9 139.9,177.4 140.1,176.4 140.3,175.9 140.5,174.9 140.8,173.9 140.9,173.4 141.1,172.4 141.3,171.7 141.5,170.9 141.7,169.9 141.8,169.4 142.1,168.4 142.3,167.6 142.4,166.9 142.6,165.9 142.8,165.0 142.9,164.4 143.1,163.4 143.3,162.4 143.4,161.9 143.5,161.3"/><path d="M230.8,253.8 229.8,253.8 228.8,253.8 227.8,253.8 226.8,253.8 225.8,253.7 224.8,253.7 223.8,253.7 222.8,253.7 221.8,253.7 220.8,253.7 219.8,253.6 218.8,253.6 217.8,253.6 216.8,253.6 215.8,253.6 214.8,253.5 213.8,253.5 212.8,253.5 211.8,253.5 210.8,253.5 209.8,253.5 208.8,253.5 207.8,253.5 206.8,253.5 205.8,253.5 204.8,253.5 203.8,253.5 202.8,253.5 201.8,253.5 200.8,253.5 199.8,253.5 198.8,253.5 197.8,253.5 196.8,253.5 195.8,253.5 194.8,253.5 193.8,253.5 192.8,253.5 191.8,253.5 190.8,253.5 189.8,253.5 188.8,253.5 187.8,253.5 186.8,253.5 185.8,253.5 184.8,253.5 184.3,253.5 183.3,253.3 182.3,253.2 181.3,253.0 180.8,253.0 179.8,252.8 178.8,252.7 177.8,252.6 177.1,252.5 176.3,252.4 175.3,252.2 174.3,252.1 173.4,252.0 172.8,251.9 171.8,251.8 170.8,251.6 170.2,251.5 169.6,251.0 168.9,250.5 168.3,250.0 167.8,249.5 167.3,249.1 166.8,248.7 166.3,248.3 165.8,247.9 165.2,247.5 164.6,247.0 164.0,246.5 163.4,246.0 162.8,245.5 162.3,245.1 161.8,244.7 161.3,244.3 160.8,243.9 160.3,243.4 159.7,243.0 159.1,242.5 158.5,242.0 157.8,241.5 157.3,241.0 156.8,240.6 156.3,240.2 155.8,239.8 155.3,239.4 154.8,238.9 154.3,238.3 153.8,237.8 153.3,237.3 152.8,236.7 152.3,236.2 151.8,235.6 151.3,235.0 151.3,234.2 151.2,233.4 151.2,232.4 151.1,231.4 151.1,230.4 151.0,229.4 150.8,228.4 150.8,227.9 150.6,226.9 150.5,225.9 150.4,224.9 150.3,224.4 150.1,223.4 150.0,222.4 149.9,221.4 149.8,220.7 149.7,219.9"/><path d="M150.8,214.4 151.1,213.9 151.5,213.4 151.8,212.9 152.4,212.4 153.1,211.9 153.8,211.5 154.3,211.1 154.8,210.8 155.3,210.4 155.8,209.9 156.4,209.4 157.0,208.9 157.6,208.4 158.1,207.9 158.7,207.4 159.3,206.9 159.8,206.5 160.3,206.1 160.8,205.6 161.3,205.3 162.0,204.9 162.8,204.5 163.3,204.2 163.8,203.9 164.8,203.4 165.3,203.1 165.8,202.9 166.6,202.4 167.3,202.1 167.8,201.8 168.5,201.4 169.3,201.0 169.8,200.7 170.4,200.4 171.1,199.9 171.8,199.5 172.3,199.2 172.9,198.9 173.8,198.4 174.1,197.9 174.1,196.9 174.1,195.9 174.2,194.9 174.2,193.9 174.2,192.9 174.3,191.9 174.3,190.9 174.3,190.4 174.4,189.4 174.4,188.4 174.4,187.4 174.5,186.4 174.5,185.4 174.5,184.4 174.6,183.4 174.6,182.4 174.6,181.4 174.7,180.4 174.7,179.4 174.7,178.4 174.8,177.4 174.8,176.4 174.8,175.9 174.8,174.9 174.9,173.9 174.9,172.9 174.9,171.9 174.9,170.9 174.9,169.9 174.9,168.9 174.9,167.9 174.9,166.9 174.9,165.9 174.9,164.9 174.9,163.9 174.9,162.9 174.9,161.9 174.9,161.3"/><path d="M230.8,244.7 229.8,244.7 228.8,244.6 227.8,244.6 226.8,244.5 225.8,244.5 225.1,244.5 224.3,244.4 223.3,244.4 222.3,244.4 221.3,244.3 220.3,244.3 219.3,244.3 218.3,244.3 217.3,244.3 216.3,244.2 215.3,244.1 214.8,243.8 214.0,243.5 213.3,243.2 212.8,243.0 211.8,242.5 211.3,242.3 210.5,242.0 209.8,241.7 209.3,241.5 208.3,241.0 207.8,240.8 207.0,240.5 206.3,240.2 205.8,239.9 204.8,239.5 204.3,239.3 203.3,239.0 202.3,239.0 201.3,239.0 200.4,239.0 199.8,238.8 199.1,238.5 198.3,238.2 197.8,238.0 196.8,237.6 196.3,237.4 195.3,237.0 194.8,236.8 193.8,236.5 193.3,236.2 192.5,236.0 191.8,235.7 191.2,235.5 190.3,235.0 190.3,234.9"/><path d="M187.9,230.9 187.6,230.4 187.3,229.9 186.8,229.2 186.3,228.4 186.0,227.9 185.7,227.4 185.3,226.8 184.8,225.9 184.6,225.4 184.3,224.9 183.8,224.1 183.4,223.4 183.1,222.9 182.8,222.4 182.3,221.5 182.0,220.9 181.7,220.4 181.3,219.7 180.9,218.9 180.6,218.4 180.3,217.9 179.8,217.1 179.8,216.8 180.3,216.2 180.8,215.9 181.6,215.4 182.3,215.0 182.8,214.7 183.3,214.3 184.0,213.9 184.8,213.5 185.3,213.2 185.9,212.9 186.8,212.4 187.3,212.2 187.8,211.9 188.8,211.4 189.3,211.1 189.8,210.9 190.7,210.4 191.3,210.1 191.8,209.9 192.7,209.4 193.3,209.1 193.8,208.8 194.5,208.4 195.2,207.9 195.8,207.5 196.3,207.2 196.8,206.9 197.5,206.4 198.3,205.9 198.8,205.5 199.3,205.2 199.8,204.9 200.6,204.4 201.3,204.0 201.8,203.8 202.5,203.4 203.3,203.0 203.8,202.7 204.3,202.4 204.9,201.9 205.5,201.4 206.1,200.9 206.7,200.4 207.3,199.9 207.8,199.4 208.3,199.0 208.8,198.6 209.2,197.9 209.2,196.9 209.2,195.9 209.2,194.9 209.2,193.9 209.2,192.9 209.2,191.9 209.2,190.9 209.2,189.9 209.2,188.9 209.2,187.9 209.2,186.9 209.2,185.9 209.2,184.9 209.2,183.9 209.2,182.9 209.2,181.9 209.2,180.9 209.2,179.9 209.2,178.9 209.2,177.9 209.2,176.9 209.2,175.9 209.2,174.9 209.2,173.9 209.2,172.9 209.2,171.9 209.2,170.9 209.2,169.9 209.2,168.9 209.2,167.9 209.2,166.9 209.2,165.9 209.2,164.9 209.2,163.9 209.2,162.9 209.2,161.9 209.2,161.3"/><path d="M230.8,235.6 229.8,235.5 228.8,235.5 228.2,235.5 227.3,235.4 226.3,235.3 225.3,235.2 224.3,235.1 223.3,235.0 222.3,235.0 222.3,234.8 222.8,234.3 223.3,233.9 223.8,233.4 224.3,232.9 224.8,232.4 225.3,231.9 225.8,231.4 226.3,230.9"/><path d="M224.7,224.9 224.3,224.2 224.0,223.4 223.8,222.9 223.4,221.9 223.2,221.4 222.8,220.6 222.6,219.9 222.3,219.4 221.9,218.4 221.7,217.9 221.3,217.0 221.3,216.9 221.8,216.3 222.4,215.9 223.1,215.4 223.8,214.9 224.3,214.6 224.8,214.3 225.4,213.9 226.1,213.4 226.8,212.9 227.3,212.6 227.8,212.1 228.3,211.6 228.8,211.1 229.3,210.6 229.8,210.1 230.3,209.6 230.8,209.1"/></g>
<rect x="117.55" y="161.65" width="113.00" height="109.05" fill="none" stroke="#3a2c2c" stroke-opacity="0.75" stroke-width="0.6"/>
<path d="M116.05,262.82h1.2M115.05,253.60h2.2M116.05,244.38h1.2M115.05,235.15h2.2M116.05,225.93h1.2M115.05,216.70h2.2M116.05,207.47h1.2M115.05,198.25h2.2M116.05,189.02h1.2M115.05,179.80h2.2M116.05,170.57h1.2M115.05,161.35h2.2M124.97,271.00v2.2M132.55,271.00v1.2M140.12,271.00v2.2M147.69,271.00v1.2M155.27,271.00v2.2M162.84,271.00v1.2M170.41,271.00v2.2M177.99,271.00v1.2M185.56,271.00v2.2M193.13,271.00v1.2M200.71,271.00v2.2M208.28,271.00v1.2M215.85,271.00v2.2M223.43,271.00v1.2M231.00,271.00v2.2" stroke="#111" stroke-width="0.8" fill="none"/>
<g font-size="5.1"><text transform="translate(114.25,255.65) rotate(.05)" text-anchor="end">0.5</text><text transform="translate(114.25,237.20) rotate(.05)" text-anchor="end">1.0</text><text transform="translate(114.25,218.75) rotate(.05)" text-anchor="end">1.5</text><text transform="translate(114.25,200.30) rotate(.05)" text-anchor="end">2.0</text><text transform="translate(114.25,181.85) rotate(.05)" text-anchor="end">2.5</text><text transform="translate(114.25,163.40) rotate(.05)" text-anchor="end">3.0</text><text transform="translate(124.97,278.65) rotate(.05)" text-anchor="middle">50</text><text transform="translate(140.12,278.65) rotate(.05)" text-anchor="middle">100</text><text transform="translate(155.27,278.65) rotate(.05)" text-anchor="middle">150</text><text transform="translate(170.41,278.65) rotate(.05)" text-anchor="middle">200</text><text transform="translate(185.56,278.65) rotate(.05)" text-anchor="middle">250</text><text transform="translate(200.71,278.65) rotate(.05)" text-anchor="middle">300</text><text transform="translate(215.85,278.65) rotate(.05)" text-anchor="middle">350</text><text transform="translate(231.00,278.65) rotate(.05)" text-anchor="middle">400</text></g>
<text transform="translate(174.40,286.80) rotate(.05)" text-anchor="middle" font-size="5.8">Power (W)</text>
<text transform="translate(104.45,216.78) rotate(-89.95)" text-anchor="middle" font-size="5.7">Pressure (Pa)</text>
<text transform="translate(128.20,159.10) rotate(.05)" font-size="5.72">(d) N<tspan dy="1.9" font-size="3.3">2</tspan><tspan dy="-1.9"> - 12 cm</tspan></text>
<text transform="translate(288.20,158.10) rotate(.05)" font-size="5.72" text-anchor="end">Plasma density (10<tspan dy="-2.7" font-size="3.3">10</tspan><tspan dy="2.7"> cm</tspan><tspan dy="-2.7" font-size="3.3">-3</tspan><tspan dy="2.7">)</tspan></text>
<rect x="249.35" y="162.95" width="9.50" height="106.30" fill="url(#cb)" stroke="#999" stroke-width="0.3"/>
<path d="M258.85,269.25h1.8M258.85,255.38h1.8M258.85,239.98h1.8M258.85,224.57h1.8M258.85,209.17h1.8M258.85,193.76h1.8M258.85,178.36h1.8M258.85,162.95h1.8" stroke="#222" stroke-width="0.5" fill="none"/>
<g font-size="3.7"><text transform="translate(262.25,270.55) rotate(.05)">0.1</text><text transform="translate(262.25,256.68) rotate(.05)">1.0</text><text transform="translate(262.25,241.28) rotate(.05)">2.0</text><text transform="translate(262.25,225.87) rotate(.05)">3.0</text><text transform="translate(262.25,210.47) rotate(.05)">4.0</text><text transform="translate(262.25,195.06) rotate(.05)">5.0</text><text transform="translate(262.25,179.66) rotate(.05)">6.0</text><text transform="translate(262.25,164.25) rotate(.05)">7.0</text></g>
<g font-size="6.05"><text transform="translate(146.20,219.25) rotate(.05)" text-anchor="middle">3.5</text><text transform="translate(129.00,242.75) rotate(.05)" text-anchor="middle">2.0</text><text transform="translate(185.00,235.90) rotate(.05)" text-anchor="middle">5.0</text><text transform="translate(224.60,230.05) rotate(.05)" text-anchor="middle">6.5</text><text transform="translate(132.00,263.40) rotate(.05)" text-anchor="middle">1.0</text></g>
<g><rect x="331.00" y="161.35" width="113.60" height="0.65" fill="url(#ge0)"/><rect x="331.00" y="162.00" width="113.60" height="1.00" fill="url(#ge1)"/><rect x="331.00" y="163.00" width="113.60" height="1.00" fill="url(#ge2)"/><rect x="331.00" y="164.00" width="113.60" height="1.00" fill="url(#ge3)"/><rect x="331.00" y="165.00" width="113.60" height="1.00" fill="url(#ge4)"/><rect x="331.00" y="166.00" width="113.60" height="1.00" fill="url(#ge5)"/><rect x="331.00" y="167.00" width="113.60" height="1.00" fill="url(#ge6)"/><rect x="331.00" y="168.00" width="113.60" height="1.00" fill="url(#ge7)"/><rect x="331.00" y="169.00" width="113.60" height="1.00" fill="url(#ge8)"/><rect x="331.00" y="170.00" width="113.60" height="1.00" fill="url(#ge9)"/><rect x="331.00" y="171.00" width="113.60" height="1.00" fill="url(#ge10)"/><rect x="331.00" y="172.00" width="113.60" height="1.00" fill="url(#ge11)"/><rect x="331.00" y="173.00" width="113.60" height="1.00" fill="url(#ge12)"/><rect x="331.00" y="174.00" width="113.60" height="1.00" fill="url(#ge13)"/><rect x="331.00" y="175.00" width="113.60" height="1.00" fill="url(#ge14)"/><rect x="331.00" y="176.00" width="113.60" height="1.00" fill="url(#ge15)"/><rect x="331.00" y="177.00" width="113.60" height="1.00" fill="url(#ge16)"/><rect x="331.00" y="178.00" width="113.60" height="1.00" fill="url(#ge17)"/><rect x="331.00" y="179.00" width="113.60" height="1.00" fill="url(#ge18)"/><rect x="331.00" y="180.00" width="113.60" height="1.00" fill="url(#ge19)"/><rect x="331.00" y="181.00" width="113.60" height="1.00" fill="url(#ge20)"/><rect x="331.00" y="182.00" width="113.60" height="1.00" fill="url(#ge21)"/><rect x="331.00" y="183.00" width="113.60" height="1.00" fill="url(#ge22)"/><rect x="331.00" y="184.00" width="113.60" height="1.00" fill="url(#ge23)"/><rect x="331.00" y="185.00" width="113.60" height="1.00" fill="url(#ge24)"/><rect x="331.00" y="186.00" width="113.60" height="1.00" fill="url(#ge25)"/><rect x="331.00" y="187.00" width="113.60" height="1.00" fill="url(#ge26)"/><rect x="331.00" y="188.00" width="113.60" height="1.00" fill="url(#ge27)"/><rect x="331.00" y="189.00" width="113.60" height="1.00" fill="url(#ge28)"/><rect x="331.00" y="190.00" width="113.60" height="1.00" fill="url(#ge29)"/><rect x="331.00" y="191.00" width="113.60" height="1.00" fill="url(#ge30)"/><rect x="331.00" y="192.00" width="113.60" height="1.00" fill="url(#ge31)"/><rect x="331.00" y="193.00" width="113.60" height="1.00" fill="url(#ge32)"/><rect x="331.00" y="194.00" width="113.60" height="1.00" fill="url(#ge33)"/><rect x="331.00" y="195.00" width="113.60" height="1.00" fill="url(#ge34)"/><rect x="331.00" y="196.00" width="113.60" height="1.00" fill="url(#ge35)"/><rect x="331.00" y="197.00" width="113.60" height="1.00" fill="url(#ge36)"/><rect x="331.00" y="198.00" width="113.60" height="1.00" fill="url(#ge37)"/><rect x="331.00" y="199.00" width="113.60" height="1.00" fill="url(#ge38)"/><rect x="331.00" y="200.00" width="113.60" height="1.00" fill="url(#ge39)"/><rect x="331.00" y="201.00" width="113.60" height="1.00" fill="url(#ge40)"/><rect x="331.00" y="202.00" width="113.60" height="1.00" fill="url(#ge41)"/><rect x="331.00" y="203.00" width="113.60" height="1.00" fill="url(#ge42)"/><rect x="331.00" y="204.00" width="113.60" height="1.00" fill="url(#ge43)"/><rect x="331.00" y="205.00" width="113.60" height="1.00" fill="url(#ge44)"/><rect x="331.00" y="206.00" width="113.60" height="1.00" fill="url(#ge45)"/><rect x="331.00" y="207.00" width="113.60" height="1.00" fill="url(#ge46)"/><rect x="331.00" y="208.00" width="113.60" height="1.00" fill="url(#ge47)"/><rect x="331.00" y="209.00" width="113.60" height="1.00" fill="url(#ge48)"/><rect x="331.00" y="210.00" width="113.60" height="1.00" fill="url(#ge49)"/><rect x="331.00" y="211.00" width="113.60" height="1.00" fill="url(#ge50)"/><rect x="331.00" y="212.00" width="113.60" height="1.00" fill="url(#ge51)"/><rect x="331.00" y="213.00" width="113.60" height="1.00" fill="url(#ge52)"/><rect x="331.00" y="214.00" width="113.60" height="1.00" fill="url(#ge53)"/><rect x="331.00" y="215.00" width="113.60" height="1.00" fill="url(#ge54)"/><rect x="331.00" y="216.00" width="113.60" height="1.00" fill="url(#ge55)"/><rect x="331.00" y="217.00" width="113.60" height="1.00" fill="url(#ge56)"/><rect x="331.00" y="218.00" width="113.60" height="1.00" fill="url(#ge57)"/><rect x="331.00" y="219.00" width="113.60" height="1.00" fill="url(#ge58)"/><rect x="331.00" y="220.00" width="113.60" height="1.00" fill="url(#ge59)"/><rect x="331.00" y="221.00" width="113.60" height="1.00" fill="url(#ge60)"/><rect x="331.00" y="222.00" width="113.60" height="1.00" fill="url(#ge61)"/><rect x="331.00" y="223.00" width="113.60" height="1.00" fill="url(#ge62)"/><rect x="331.00" y="224.00" width="113.60" height="1.00" fill="url(#ge63)"/><rect x="331.00" y="225.00" width="113.60" height="1.00" fill="url(#ge64)"/><rect x="331.00" y="226.00" width="113.60" height="1.00" fill="url(#ge65)"/><rect x="331.00" y="227.00" width="113.60" height="1.00" fill="url(#ge66)"/><rect x="331.00" y="228.00" width="113.60" height="1.00" fill="url(#ge67)"/><rect x="331.00" y="229.00" width="113.60" height="1.00" fill="url(#ge68)"/><rect x="331.00" y="230.00" width="113.60" height="1.00" fill="url(#ge69)"/><rect x="331.00" y="231.00" width="113.60" height="1.00" fill="url(#ge70)"/><rect x="331.00" y="232.00" width="113.60" height="1.00" fill="url(#ge71)"/><rect x="331.00" y="233.00" width="113.60" height="1.00" fill="url(#ge72)"/><rect x="331.00" y="234.00" width="113.60" height="1.00" fill="url(#ge73)"/><rect x="331.00" y="235.00" width="113.60" height="1.00" fill="url(#ge74)"/><rect x="331.00" y="236.00" width="113.60" height="1.00" fill="url(#ge75)"/><rect x="331.00" y="237.00" width="113.60" height="1.00" fill="url(#ge76)"/><rect x="331.00" y="238.00" width="113.60" height="1.00" fill="url(#ge77)"/><rect x="331.00" y="239.00" width="113.60" height="1.00" fill="url(#ge78)"/><rect x="331.00" y="240.00" width="113.60" height="1.00" fill="url(#ge79)"/><rect x="331.00" y="241.00" width="113.60" height="1.00" fill="url(#ge80)"/><rect x="331.00" y="242.00" width="113.60" height="1.00" fill="url(#ge81)"/><rect x="331.00" y="243.00" width="113.60" height="1.00" fill="url(#ge82)"/><rect x="331.00" y="244.00" width="113.60" height="1.00" fill="url(#ge83)"/><rect x="331.00" y="245.00" width="113.60" height="1.00" fill="url(#ge84)"/><rect x="331.00" y="246.00" width="113.60" height="1.00" fill="url(#ge85)"/><rect x="331.00" y="247.00" width="113.60" height="1.00" fill="url(#ge86)"/><rect x="331.00" y="248.00" width="113.60" height="1.00" fill="url(#ge87)"/><rect x="331.00" y="249.00" width="113.60" height="1.00" fill="url(#ge88)"/><rect x="331.00" y="250.00" width="113.60" height="1.00" fill="url(#ge89)"/><rect x="331.00" y="251.00" width="113.60" height="1.00" fill="url(#ge90)"/><rect x="331.00" y="252.00" width="113.60" height="1.00" fill="url(#ge91)"/><rect x="331.00" y="253.00" width="113.60" height="1.00" fill="url(#ge92)"/><rect x="331.00" y="254.00" width="113.60" height="1.00" fill="url(#ge93)"/><rect x="331.00" y="255.00" width="113.60" height="1.00" fill="url(#ge94)"/><rect x="331.00" y="256.00" width="113.60" height="1.00" fill="url(#ge95)"/><rect x="331.00" y="257.00" width="113.60" height="1.00" fill="url(#ge96)"/><rect x="331.00" y="258.00" width="113.60" height="1.00" fill="url(#ge97)"/><rect x="331.00" y="259.00" width="113.60" height="1.00" fill="url(#ge98)"/><rect x="331.00" y="260.00" width="113.60" height="1.00" fill="url(#ge99)"/><rect x="331.00" y="261.00" width="113.60" height="1.00" fill="url(#ge100)"/><rect x="331.00" y="262.00" width="113.60" height="1.00" fill="url(#ge101)"/><rect x="331.00" y="263.00" width="113.60" height="1.00" fill="url(#ge102)"/><rect x="331.00" y="264.00" width="113.60" height="1.00" fill="url(#ge103)"/><rect x="331.00" y="265.00" width="113.60" height="1.00" fill="url(#ge104)"/><rect x="331.00" y="266.00" width="113.60" height="1.00" fill="url(#ge105)"/><rect x="331.00" y="267.00" width="113.60" height="1.00" fill="url(#ge106)"/><rect x="331.00" y="268.00" width="113.60" height="1.00" fill="url(#ge107)"/><rect x="331.00" y="269.00" width="113.60" height="1.00" fill="url(#ge108)"/><rect x="331.00" y="270.00" width="113.60" height="1.00" fill="url(#ge109)"/></g>
<g fill="none" stroke="#1a3a2a" stroke-opacity="0.75" stroke-width="0.45"><path d="M444.6,264.7 443.6,264.7 442.6,264.7 441.6,264.7 440.6,264.7 439.6,264.7 438.6,264.7 437.6,264.7 436.6,264.7 435.6,264.7 434.6,264.7 433.6,264.7 432.6,264.7 431.6,264.7 430.6,264.7 429.6,264.7 428.6,264.7 427.6,264.7 426.6,264.7 425.6,264.7 424.6,264.7 423.6,264.7 422.6,264.7 421.6,264.7 420.6,264.7 419.6,264.7 418.6,264.7 417.6,264.7 416.6,264.7 415.6,264.7 414.6,264.7 413.6,264.7 412.6,264.7 411.6,264.7 410.6,264.7 409.6,264.7 408.6,264.7 407.6,264.7 406.6,264.7 405.6,264.7 404.6,264.7 403.6,264.7 402.6,264.7 401.6,264.7 400.6,264.7 399.6,264.7 398.6,264.6 397.6,264.6 396.6,264.5 396.1,264.5 395.1,264.4 394.1,264.3 393.1,264.2 392.1,264.2 391.1,264.1 390.1,264.0 389.6,264.0 388.6,263.9 387.5,263.9 386.5,263.9 385.5,263.9 384.5,263.9 383.5,263.9 382.5,263.7 381.5,263.6 380.5,263.5 380.0,263.5 379.0,263.4 378.0,263.2 377.0,263.1 376.0,263.0 375.5,263.0 374.5,262.9 373.5,262.7 372.5,262.6 371.5,262.5 371.0,262.5 370.0,262.5 369.0,262.5 368.0,262.4 367.0,262.2 366.0,262.1 365.1,262.0 364.5,261.9 363.5,261.8 362.5,261.6 361.5,261.5 361.0,261.4 360.0,261.3 359.0,261.2 358.0,261.0 357.5,261.0 356.5,260.8 355.5,260.6 354.7,260.5 354.0,260.4 353.0,260.1 352.5,259.9 351.5,259.5 351.0,259.4 350.0,259.0 349.5,258.8 348.5,258.5 348.0,258.4 347.0,258.1 346.5,257.9 345.5,257.6 344.9,257.5 344.0,257.2 343.1,257.0 342.5,256.8 341.5,256.5 341.0,256.4 340.0,256.1 339.5,256.0 338.5,255.7 338.0,255.4 337.3,255.0 336.5,254.6 336.0,254.3 335.5,254.0 334.8,253.5 334.6,252.5 334.5,251.6 334.4,251.0 334.3,250.0 334.1,249.0 334.0,248.1 333.9,247.5 333.8,246.5 333.6,245.5 333.5,244.7 333.4,244.0 333.3,243.0 333.1,242.0 333.0,241.2 332.9,240.5 332.7,239.5 332.6,238.5 332.5,238.0 332.3,237.0 332.1,236.0 332.0,235.0 332.4,233.9 332.5,233.4 332.8,232.4 333.0,231.8 333.3,230.9 333.5,230.2 333.7,229.4 334.0,228.5 334.2,227.9 334.5,226.9 334.6,226.4 335.0,225.4 335.2,224.9 335.5,224.2 335.8,223.4 336.0,222.9 336.4,221.9 336.6,221.4 337.0,220.5 337.2,219.9 337.5,219.3 337.9,218.4 338.1,217.9 338.5,216.9 338.7,216.4 339.0,215.9 339.5,215.0 339.8,214.4 340.1,213.9 340.5,213.2 340.9,212.4 341.2,211.9 341.5,211.3 342.0,210.4 342.3,209.9 342.6,209.4 343.0,208.6 343.4,207.9 343.7,207.4 344.0,206.8 344.5,205.9 344.8,205.4 345.1,204.9 345.5,204.4 346.0,203.7 346.5,203.0 346.9,202.4 347.3,201.9"/><path d="M349.9,196.4 349.9,195.4 349.9,194.4 349.9,193.4 349.9,192.4 349.9,191.4 349.9,190.4 349.9,189.4 350.0,188.4 350.1,187.9 350.2,186.9 350.3,185.9 350.4,184.9 350.5,183.9 350.5,183.3 350.6,182.4 350.7,181.4 350.8,180.4 350.9,179.4 351.0,178.5 351.1,177.9 351.2,176.9 351.3,175.9 351.4,174.9 351.5,173.9 351.5,173.4 351.6,172.4 351.7,171.4 351.8,170.4 352.0,169.4 352.0,168.7 352.1,167.9 352.2,166.9 352.3,165.9 352.4,164.9 352.5,163.9 352.6,163.4 352.7,162.4 352.8,161.3"/><path d="M444.6,257.3 443.6,257.3 442.6,257.3 441.6,257.3 440.6,257.3 439.6,257.3 438.6,257.3 437.6,257.3 436.6,257.3 435.6,257.3 434.6,257.3 433.6,257.3 432.6,257.3 431.6,257.3 430.6,257.3 429.6,257.3 428.6,257.2 427.6,257.2 426.6,257.2 425.6,257.1 424.6,257.1 423.6,257.0 423.1,257.0 422.1,256.9 421.1,256.9 420.1,256.9 419.1,256.9 418.1,256.9 417.1,256.9 416.1,256.9 415.1,256.9 414.1,256.9 413.1,256.8 412.1,256.8 411.1,256.7 410.1,256.7 409.1,256.6 408.1,256.5 407.1,256.5 406.6,256.5 405.6,256.4 404.6,256.4 403.6,256.4 402.6,256.4 401.6,256.4 400.6,256.4 399.6,256.4 398.6,256.3 397.6,256.2 396.6,256.1 395.6,256.0 394.9,256.0 394.1,255.9 393.1,255.8 392.1,255.7 391.1,255.6 390.1,255.5 389.4,255.5 388.6,255.4 387.5,255.3 386.5,255.2 385.5,255.1 384.5,255.0 384.0,255.0 383.0,254.8 382.0,254.6 381.2,254.5 380.5,254.3 379.5,254.2 378.5,254.0 378.0,253.9 377.0,253.6 376.4,253.5 376.0,253.0 375.5,252.3 375.0,251.6 374.6,251.0 374.3,250.5 374.0,250.0 373.5,249.4 373.0,248.6 372.6,248.0 372.2,247.5 371.9,247.0 371.5,246.4 371.0,245.7 370.5,245.0 370.2,244.5 369.8,244.0 369.5,243.5 369.0,242.8 368.6,242.0 368.3,241.5 368.0,240.9 367.5,240.0 367.3,239.5 367.0,239.0 366.5,238.0 366.3,237.5 366.0,237.0 365.5,236.0 365.2,235.5 365.4,234.4 365.7,233.9 366.0,233.3 366.5,232.4 366.7,231.9 367.0,231.0 367.2,230.4 367.5,229.6 367.8,228.9 368.0,228.2 368.3,227.4 368.5,226.8 368.9,225.9 369.1,225.4 369.5,224.7 370.0,223.9 370.2,223.4 370.5,222.9 371.0,222.0 371.3,221.4 371.6,220.9 372.0,219.9 372.1,219.4 372.3,218.4 372.5,217.4 372.6,216.9 373.0,216.2 373.5,215.6 374.0,215.0 374.5,214.4 374.9,213.9 375.3,213.4 375.8,212.9 376.2,212.4 376.6,211.9 377.0,211.4 377.5,210.7 378.0,210.1 378.5,209.5 379.0,208.9 379.5,208.4 379.5,208.3"/><path d="M384.0,202.8 384.5,202.1 385.0,201.4 385.4,200.9 385.9,200.4 386.5,199.9 387.0,199.6 387.5,199.3 388.1,198.9 388.8,198.4 389.1,197.9 389.2,196.9 389.4,195.9 389.5,194.9 389.6,194.4 389.7,193.4 389.9,192.4 390.0,191.4 390.1,190.9 390.2,189.9 390.3,188.9 390.5,187.9 390.6,187.4 390.7,186.4 390.8,185.4 391.0,184.4 391.1,183.7 391.2,182.9 391.3,181.9 391.4,180.9 391.6,180.0 391.6,179.4 391.7,178.4 391.7,177.4 391.8,176.4 391.8,175.4 391.9,174.4 392.0,173.4 392.0,172.4 392.1,171.8 392.1,170.9 392.2,169.9 392.2,168.9 392.3,167.9 392.3,166.9 392.4,165.9 392.5,164.9 392.5,163.9 392.6,163.3 392.6,162.4 392.7,161.3"/><path d="M444.6,247.0 444.1,246.9 443.1,246.6 442.5,246.5 441.6,246.2 440.6,246.0 440.1,245.8 439.1,245.6 438.6,245.4 437.6,245.2 436.6,245.2 435.6,245.2 434.6,245.2 433.6,245.2 432.6,245.2 431.6,245.2 430.6,245.2 429.6,245.2 429.0,245.0 428.1,244.5 427.6,244.2 427.1,243.9 426.3,243.5 425.6,243.1 425.1,242.8 424.5,242.5 423.6,242.0 423.1,241.7 422.6,241.4 421.8,241.0 421.1,240.6 420.6,240.3 420.0,240.0 419.1,239.5 418.6,239.2 418.1,238.9 417.2,238.5 416.6,238.2 415.6,238.0 415.1,237.9 414.1,237.6 413.6,237.3 413.1,236.9 412.4,236.5 411.7,236.0 411.1,235.5 410.6,235.0 410.4,234.4 410.3,233.4 410.2,232.4 410.1,231.4 410.1,230.8 410.0,229.9 410.0,228.9 410.0,227.9 410.0,226.9 410.0,225.9 410.0,224.9 410.0,223.9 410.0,222.9 410.0,221.9 410.0,220.9 410.0,219.9 410.0,218.9 410.0,217.9 410.0,216.9 410.3,216.4 410.6,216.2"/><path d="M418.0,211.4 418.6,211.1 419.1,210.7 419.6,210.4 420.3,209.9 421.1,209.4 421.6,209.1 422.1,208.8 422.6,208.4 423.6,208.0 424.1,207.8 425.1,207.4 425.6,207.2 426.3,206.9 427.1,206.6 427.6,206.4 428.6,206.0 429.1,205.8 429.8,205.4 430.6,205.0 431.1,204.7 431.6,204.4 432.5,203.9 433.1,203.6 433.6,203.3 434.2,202.9 435.1,202.4 435.6,202.1 436.1,201.8 436.8,201.4 437.6,200.9 438.1,200.6 438.6,200.3 439.3,199.9 440.1,199.4 440.6,199.1 441.1,198.8 441.8,198.4 442.2,197.9 442.4,196.9 442.6,196.0 442.7,195.4 443.0,194.4 443.3,193.9 443.6,193.4 444.1,192.8 444.6,192.1"/></g>
<rect x="331.30" y="161.65" width="113.00" height="109.05" fill="none" stroke="#3a2c2c" stroke-opacity="0.75" stroke-width="0.6"/>
<path d="M329.80,262.82h1.2M328.80,253.60h2.2M329.80,244.38h1.2M328.80,235.15h2.2M329.80,225.93h1.2M328.80,216.70h2.2M329.80,207.47h1.2M328.80,198.25h2.2M329.80,189.02h1.2M328.80,179.80h2.2M329.80,170.57h1.2M328.80,161.35h2.2M339.07,271.00v2.2M346.65,271.00v1.2M354.22,271.00v2.2M361.79,271.00v1.2M369.37,271.00v2.2M376.94,271.00v1.2M384.51,271.00v2.2M392.09,271.00v1.2M399.66,271.00v2.2M407.23,271.00v1.2M414.81,271.00v2.2M422.38,271.00v1.2M429.95,271.00v2.2M437.53,271.00v1.2M445.10,271.00v2.2" stroke="#111" stroke-width="0.8" fill="none"/>
<g font-size="5.1"><text transform="translate(328.00,255.65) rotate(.05)" text-anchor="end">0.5</text><text transform="translate(328.00,237.20) rotate(.05)" text-anchor="end">1.0</text><text transform="translate(328.00,218.75) rotate(.05)" text-anchor="end">1.5</text><text transform="translate(328.00,200.30) rotate(.05)" text-anchor="end">2.0</text><text transform="translate(328.00,181.85) rotate(.05)" text-anchor="end">2.5</text><text transform="translate(328.00,163.40) rotate(.05)" text-anchor="end">3.0</text><text transform="translate(339.07,278.65) rotate(.05)" text-anchor="middle">50</text><text transform="translate(354.22,278.65) rotate(.05)" text-anchor="middle">100</text><text transform="translate(369.37,278.65) rotate(.05)" text-anchor="middle">150</text><text transform="translate(384.51,278.65) rotate(.05)" text-anchor="middle">200</text><text transform="translate(399.66,278.65) rotate(.05)" text-anchor="middle">250</text><text transform="translate(414.81,278.65) rotate(.05)" text-anchor="middle">300</text><text transform="translate(429.95,278.65) rotate(.05)" text-anchor="middle">350</text><text transform="translate(445.10,278.65) rotate(.05)" text-anchor="middle">400</text></g>
<text transform="translate(388.15,286.80) rotate(.05)" text-anchor="middle" font-size="5.8">Power (W)</text>
<text transform="translate(318.00,216.38) rotate(-89.95)" text-anchor="middle" font-size="5.7">Pressure (Pa)</text>
<text transform="translate(345.00,158.90) rotate(.05)" font-size="5.72">(e) N<tspan dy="1.9" font-size="3.3">2</tspan><tspan dy="-1.9"> - 14 cm</tspan></text>
<text transform="translate(500.50,158.90) rotate(.05)" font-size="5.72" text-anchor="end">Plasma density (10<tspan dy="-2.7" font-size="3.3">10</tspan><tspan dy="2.7"> cm</tspan><tspan dy="-2.7" font-size="3.3">-3</tspan><tspan dy="2.7">)</tspan></text>
<rect x="463.10" y="162.95" width="9.50" height="106.30" fill="url(#cb)" stroke="#999" stroke-width="0.3"/>
<path d="M472.60,269.25h1.8M472.60,258.43h1.8M472.60,244.91h1.8M472.60,231.38h1.8M472.60,217.86h1.8M472.60,204.33h1.8M472.60,190.81h1.8M472.60,177.29h1.8M472.60,163.76h1.8" stroke="#222" stroke-width="0.5" fill="none"/>
<g font-size="3.7"><text transform="translate(476.00,270.55) rotate(.05)">0.1</text><text transform="translate(476.00,259.73) rotate(.05)">0.5</text><text transform="translate(476.00,246.21) rotate(.05)">1.0</text><text transform="translate(476.00,232.68) rotate(.05)">1.5</text><text transform="translate(476.00,219.16) rotate(.05)">2.0</text><text transform="translate(476.00,205.63) rotate(.05)">2.5</text><text transform="translate(476.00,192.11) rotate(.05)">3.0</text><text transform="translate(476.00,178.59) rotate(.05)">3.5</text><text transform="translate(476.00,165.06) rotate(.05)">4.0</text></g>
<g font-size="6.05"><text transform="translate(349.40,201.40) rotate(.05)" text-anchor="middle">1.0</text><text transform="translate(385.00,207.65) rotate(.05)" text-anchor="middle">2.0</text><text transform="translate(412.40,215.75) rotate(.05)" text-anchor="middle">3.0</text></g></svg></body></html>
